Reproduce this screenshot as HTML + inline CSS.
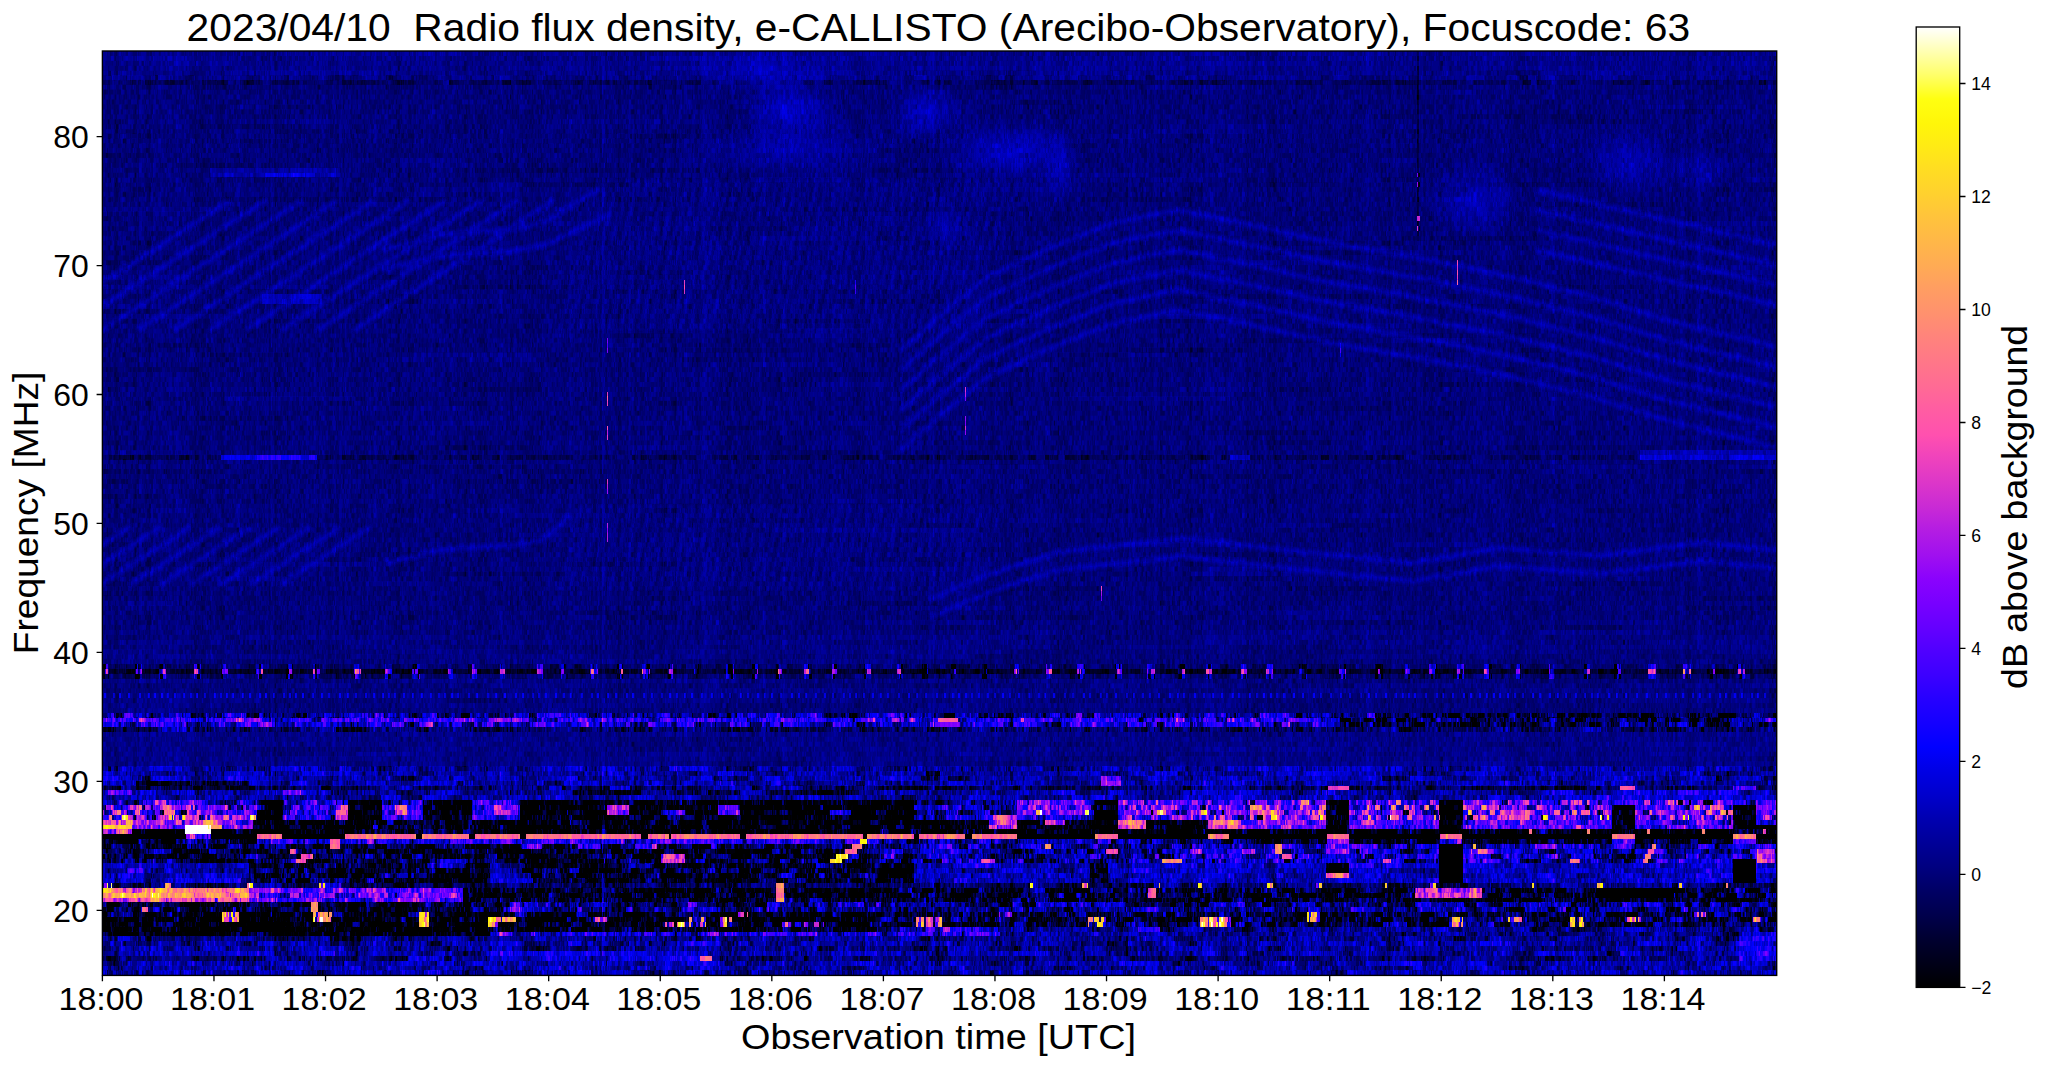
<!DOCTYPE html><html><head><meta charset="utf-8"><style>html,body{margin:0;padding:0;background:#fff}body{width:2047px;height:1067px;overflow:hidden;position:relative}svg{position:absolute;left:0;top:0}text{font-family:"Liberation Sans",sans-serif;fill:#000}</style></head><body><svg width="2047" height="1067" viewBox="0 0 2047 1067"><defs><linearGradient id="cb" x1="0" y1="0" x2="0" y2="1"><stop offset="0.000" stop-color="#ffffff"/><stop offset="0.025" stop-color="#ffffb4"/><stop offset="0.050" stop-color="#ffff69"/><stop offset="0.075" stop-color="#ffff11"/><stop offset="0.100" stop-color="#fff609"/><stop offset="0.125" stop-color="#ffea15"/><stop offset="0.150" stop-color="#ffdc23"/><stop offset="0.175" stop-color="#ffd02f"/><stop offset="0.200" stop-color="#ffc23d"/><stop offset="0.225" stop-color="#ffb649"/><stop offset="0.250" stop-color="#ffaa55"/><stop offset="0.275" stop-color="#ff9c63"/><stop offset="0.300" stop-color="#ff906f"/><stop offset="0.325" stop-color="#ff827d"/><stop offset="0.350" stop-color="#ff7689"/><stop offset="0.375" stop-color="#ff6a95"/><stop offset="0.400" stop-color="#ff5ca3"/><stop offset="0.425" stop-color="#ff50af"/><stop offset="0.450" stop-color="#ee42bd"/><stop offset="0.475" stop-color="#dc36c9"/><stop offset="0.500" stop-color="#c92ad5"/><stop offset="0.525" stop-color="#b31ce3"/><stop offset="0.550" stop-color="#a010ef"/><stop offset="0.575" stop-color="#8a02fd"/><stop offset="0.600" stop-color="#7800ff"/><stop offset="0.625" stop-color="#6500ff"/><stop offset="0.650" stop-color="#4f00ff"/><stop offset="0.675" stop-color="#3c00ff"/><stop offset="0.700" stop-color="#2600ff"/><stop offset="0.725" stop-color="#1400ff"/><stop offset="0.750" stop-color="#0100ff"/><stop offset="0.775" stop-color="#0000e4"/><stop offset="0.800" stop-color="#0000cc"/><stop offset="0.825" stop-color="#0000b0"/><stop offset="0.850" stop-color="#000098"/><stop offset="0.875" stop-color="#000080"/><stop offset="0.900" stop-color="#000064"/><stop offset="0.925" stop-color="#00004c"/><stop offset="0.950" stop-color="#000030"/><stop offset="0.975" stop-color="#000018"/><stop offset="1.000" stop-color="#000000"/></linearGradient><pattern id="pat" patternUnits="userSpaceOnUse" width="331" height="63.245" x="102" y="51"><rect width="331" height="63.245" fill="#808080"/><g transform="scale(1 4.865)" shape-rendering="crispEdges"><path fill="#101010" d="M45 0h2v1h-2zM256 0h3v1h-3zM13 1h1v1h-1zM14 2h3v1h-3zM31 3h2v1h-2zM254 3h1v1h-1zM150 5h1v1h-1zM247 7h1v1h-1zM65 9h1v1h-1zM77 9h1v1h-1zM96 9h1v1h-1zM185 10h1v1h-1zM294 10h1v1h-1zM152 11h1v1h-1zM263 11h2v1h-2zM198 12h3v1h-3z"/><path fill="#2c2c2c" d="M14 0h1v1h-1zM152 0h1v1h-1zM172 0h2v1h-2zM185 0h1v1h-1zM292 0h3v1h-3zM307 0h1v1h-1zM17 1h2v1h-2zM98 1h1v1h-1zM175 1h1v1h-1zM177 1h3v1h-3zM193 1h3v1h-3zM299 1h1v1h-1zM39 2h3v1h-3zM185 2h1v1h-1zM250 2h1v1h-1zM262 2h1v1h-1zM264 2h2v1h-2zM296 2h3v1h-3zM317 2h1v1h-1zM14 3h2v1h-2zM65 3h2v1h-2zM263 3h2v1h-2zM296 3h2v1h-2zM319 3h2v1h-2zM6 4h3v1h-3zM92 4h2v1h-2zM152 4h2v1h-2zM197 4h2v1h-2zM293 4h2v1h-2zM317 4h2v1h-2zM65 5h1v1h-1zM173 5h1v1h-1zM294 5h1v1h-1zM16 6h2v1h-2zM142 6h1v1h-1zM145 6h2v1h-2zM194 6h3v1h-3zM259 6h1v1h-1zM303 6h1v1h-1zM44 7h3v1h-3zM78 7h1v1h-1zM89 7h1v1h-1zM122 7h2v1h-2zM135 7h2v1h-2zM215 7h3v1h-3zM240 7h3v1h-3zM2 8h3v1h-3zM5 8h1v1h-1zM17 8h2v1h-2zM62 8h1v1h-1zM99 8h1v1h-1zM263 8h1v1h-1zM266 8h2v1h-2zM282 8h1v1h-1zM302 8h2v1h-2zM317 8h1v1h-1zM66 9h3v1h-3zM84 9h1v1h-1zM95 9h1v1h-1zM204 9h2v1h-2zM306 9h1v1h-1zM10 10h2v1h-2zM100 10h3v1h-3zM114 10h1v1h-1zM121 10h2v1h-2zM174 10h2v1h-2zM198 10h1v1h-1zM213 10h1v1h-1zM281 10h2v1h-2zM133 11h2v1h-2zM234 11h1v1h-1zM306 11h3v1h-3zM33 12h1v1h-1zM79 12h1v1h-1zM108 12h1v1h-1zM120 12h2v1h-2zM132 12h2v1h-2zM217 12h1v1h-1zM242 12h1v1h-1zM276 12h1v1h-1zM286 12h1v1h-1zM294 12h1v1h-1zM306 12h3v1h-3z"/><path fill="#484848" d="M8 0h1v1h-1zM13 0h1v1h-1zM31 0h1v1h-1zM32 0h1v1h-1zM47 0h3v1h-3zM83 0h1v1h-1zM87 0h3v1h-3zM130 0h1v1h-1zM154 0h2v1h-2zM161 0h2v1h-2zM165 0h1v1h-1zM180 0h2v1h-2zM191 0h1v1h-1zM192 0h1v1h-1zM201 0h2v1h-2zM207 0h2v1h-2zM249 0h3v1h-3zM263 0h1v1h-1zM12 1h1v1h-1zM44 1h3v1h-3zM94 1h2v1h-2zM96 1h2v1h-2zM100 1h2v1h-2zM106 1h1v1h-1zM135 1h1v1h-1zM152 1h1v1h-1zM153 1h2v1h-2zM160 1h2v1h-2zM187 1h3v1h-3zM229 1h1v1h-1zM231 1h1v1h-1zM268 1h1v1h-1zM308 1h1v1h-1zM317 1h2v1h-2zM329 1h2v1h-2zM31 2h2v1h-2zM47 2h2v1h-2zM93 2h1v1h-1zM96 2h1v1h-1zM160 2h1v1h-1zM172 2h3v1h-3zM179 2h3v1h-3zM189 2h1v1h-1zM202 2h1v1h-1zM228 2h1v1h-1zM233 2h3v1h-3zM248 2h1v1h-1zM263 2h1v1h-1zM280 2h1v1h-1zM292 2h1v1h-1zM302 2h3v1h-3zM308 2h2v1h-2zM13 3h1v1h-1zM23 3h1v1h-1zM30 3h1v1h-1zM33 3h1v1h-1zM41 3h2v1h-2zM45 3h3v1h-3zM51 3h2v1h-2zM56 3h2v1h-2zM124 3h3v1h-3zM131 3h1v1h-1zM172 3h1v1h-1zM173 3h3v1h-3zM183 3h2v1h-2zM185 3h1v1h-1zM228 3h1v1h-1zM255 3h3v1h-3zM262 3h1v1h-1zM288 3h1v1h-1zM289 3h2v1h-2zM301 3h2v1h-2zM329 3h2v1h-2zM13 4h1v1h-1zM14 4h2v1h-2zM17 4h1v1h-1zM45 4h1v1h-1zM46 4h1v1h-1zM53 4h2v1h-2zM94 4h3v1h-3zM145 4h1v1h-1zM146 4h1v1h-1zM159 4h1v1h-1zM162 4h1v1h-1zM182 4h1v1h-1zM185 4h1v1h-1zM186 4h3v1h-3zM202 4h1v1h-1zM207 4h2v1h-2zM240 4h1v1h-1zM249 4h3v1h-3zM264 4h2v1h-2zM319 4h2v1h-2zM329 4h2v1h-2zM11 5h2v1h-2zM21 5h1v1h-1zM64 5h1v1h-1zM66 5h1v1h-1zM83 5h2v1h-2zM89 5h1v1h-1zM93 5h2v1h-2zM95 5h1v1h-1zM100 5h2v1h-2zM113 5h2v1h-2zM121 5h1v1h-1zM156 5h2v1h-2zM162 5h3v1h-3zM167 5h1v1h-1zM194 5h1v1h-1zM208 5h1v1h-1zM210 5h1v1h-1zM215 5h1v1h-1zM230 5h2v1h-2zM240 5h2v1h-2zM261 5h3v1h-3zM292 5h1v1h-1zM293 5h1v1h-1zM301 5h2v1h-2zM303 5h1v1h-1zM314 5h1v1h-1zM325 5h1v1h-1zM19 6h1v1h-1zM30 6h1v1h-1zM65 6h2v1h-2zM77 6h1v1h-1zM78 6h3v1h-3zM83 6h1v1h-1zM89 6h2v1h-2zM96 6h2v1h-2zM162 6h2v1h-2zM181 6h1v1h-1zM201 6h3v1h-3zM204 6h1v1h-1zM246 6h3v1h-3zM262 6h1v1h-1zM280 6h2v1h-2zM310 6h1v1h-1zM311 6h3v1h-3zM5 7h1v1h-1zM20 7h1v1h-1zM34 7h2v1h-2zM47 7h1v1h-1zM101 7h3v1h-3zM121 7h1v1h-1zM190 7h1v1h-1zM212 7h2v1h-2zM218 7h1v1h-1zM226 7h2v1h-2zM228 7h2v1h-2zM245 7h1v1h-1zM248 7h1v1h-1zM262 7h3v1h-3zM283 7h2v1h-2zM288 7h2v1h-2zM290 7h3v1h-3zM293 7h2v1h-2zM295 7h3v1h-3zM314 7h1v1h-1zM317 7h1v1h-1zM320 7h2v1h-2zM34 8h1v1h-1zM46 8h3v1h-3zM77 8h1v1h-1zM78 8h2v1h-2zM85 8h1v1h-1zM88 8h2v1h-2zM95 8h1v1h-1zM135 8h3v1h-3zM155 8h1v1h-1zM185 8h1v1h-1zM202 8h1v1h-1zM203 8h1v1h-1zM207 8h1v1h-1zM239 8h1v1h-1zM240 8h2v1h-2zM242 8h1v1h-1zM249 8h1v1h-1zM261 8h2v1h-2zM295 8h2v1h-2zM308 8h2v1h-2zM13 9h1v1h-1zM17 9h1v1h-1zM22 9h1v1h-1zM24 9h1v1h-1zM101 9h2v1h-2zM106 9h3v1h-3zM131 9h3v1h-3zM142 9h3v1h-3zM146 9h2v1h-2zM167 9h3v1h-3zM195 9h3v1h-3zM206 9h2v1h-2zM214 9h3v1h-3zM228 9h3v1h-3zM232 9h1v1h-1zM241 9h1v1h-1zM267 9h1v1h-1zM273 9h1v1h-1zM302 9h1v1h-1zM322 9h1v1h-1zM324 9h2v1h-2zM7 10h1v1h-1zM20 10h3v1h-3zM35 10h1v1h-1zM54 10h1v1h-1zM55 10h2v1h-2zM74 10h1v1h-1zM79 10h2v1h-2zM84 10h1v1h-1zM94 10h1v1h-1zM108 10h1v1h-1zM137 10h3v1h-3zM146 10h1v1h-1zM156 10h1v1h-1zM166 10h1v1h-1zM172 10h2v1h-2zM224 10h1v1h-1zM241 10h2v1h-2zM307 10h1v1h-1zM318 10h2v1h-2zM324 10h2v1h-2zM1 11h1v1h-1zM2 11h1v1h-1zM26 11h2v1h-2zM33 11h1v1h-1zM42 11h1v1h-1zM44 11h1v1h-1zM59 11h1v1h-1zM76 11h1v1h-1zM108 11h2v1h-2zM114 11h1v1h-1zM115 11h3v1h-3zM118 11h2v1h-2zM120 11h1v1h-1zM122 11h3v1h-3zM130 11h1v1h-1zM131 11h2v1h-2zM163 11h1v1h-1zM172 11h2v1h-2zM174 11h2v1h-2zM186 11h2v1h-2zM228 11h2v1h-2zM236 11h3v1h-3zM241 11h1v1h-1zM249 11h2v1h-2zM260 11h1v1h-1zM265 11h2v1h-2zM281 11h3v1h-3zM286 11h2v1h-2zM290 11h1v1h-1zM297 11h3v1h-3zM315 11h1v1h-1zM316 11h1v1h-1zM320 11h1v1h-1zM325 11h3v1h-3zM328 11h2v1h-2zM54 12h2v1h-2zM84 12h2v1h-2zM96 12h1v1h-1zM107 12h1v1h-1zM118 12h1v1h-1zM122 12h1v1h-1zM127 12h2v1h-2zM174 12h1v1h-1zM188 12h1v1h-1zM227 12h2v1h-2zM248 12h1v1h-1zM249 12h1v1h-1zM264 12h1v1h-1zM272 12h1v1h-1zM310 12h3v1h-3zM313 12h3v1h-3zM318 12h2v1h-2zM325 12h1v1h-1zM329 12h1v1h-1z"/><path fill="#646464" d="M2 0h2v1h-2zM29 0h1v1h-1zM33 0h1v1h-1zM36 0h3v1h-3zM51 0h1v1h-1zM52 0h2v1h-2zM54 0h2v1h-2zM56 0h2v1h-2zM65 0h3v1h-3zM79 0h3v1h-3zM92 0h3v1h-3zM98 0h1v1h-1zM115 0h1v1h-1zM116 0h1v1h-1zM125 0h2v1h-2zM127 0h3v1h-3zM131 0h3v1h-3zM135 0h2v1h-2zM153 0h1v1h-1zM156 0h2v1h-2zM158 0h3v1h-3zM164 0h1v1h-1zM176 0h1v1h-1zM177 0h3v1h-3zM183 0h1v1h-1zM187 0h1v1h-1zM189 0h2v1h-2zM216 0h2v1h-2zM222 0h2v1h-2zM227 0h3v1h-3zM232 0h2v1h-2zM235 0h1v1h-1zM252 0h1v1h-1zM254 0h2v1h-2zM262 0h1v1h-1zM264 0h1v1h-1zM268 0h2v1h-2zM279 0h3v1h-3zM289 0h3v1h-3zM300 0h3v1h-3zM308 0h2v1h-2zM312 0h1v1h-1zM315 0h2v1h-2zM325 0h1v1h-1zM2 1h1v1h-1zM5 1h1v1h-1zM6 1h2v1h-2zM14 1h2v1h-2zM16 1h1v1h-1zM20 1h2v1h-2zM34 1h1v1h-1zM47 1h1v1h-1zM55 1h1v1h-1zM56 1h1v1h-1zM63 1h3v1h-3zM71 1h1v1h-1zM72 1h2v1h-2zM82 1h1v1h-1zM91 1h3v1h-3zM103 1h1v1h-1zM113 1h3v1h-3zM121 1h1v1h-1zM130 1h1v1h-1zM134 1h1v1h-1zM142 1h1v1h-1zM144 1h2v1h-2zM146 1h2v1h-2zM148 1h1v1h-1zM158 1h2v1h-2zM164 1h1v1h-1zM171 1h2v1h-2zM176 1h1v1h-1zM181 1h1v1h-1zM185 1h2v1h-2zM207 1h1v1h-1zM214 1h1v1h-1zM216 1h1v1h-1zM243 1h1v1h-1zM247 1h1v1h-1zM248 1h2v1h-2zM251 1h1v1h-1zM261 1h1v1h-1zM262 1h3v1h-3zM274 1h2v1h-2zM294 1h3v1h-3zM297 1h2v1h-2zM319 1h3v1h-3zM328 1h1v1h-1zM1 2h1v1h-1zM2 2h1v1h-1zM4 2h3v1h-3zM10 2h3v1h-3zM13 2h1v1h-1zM33 2h1v1h-1zM54 2h2v1h-2zM56 2h1v1h-1zM57 2h1v1h-1zM62 2h1v1h-1zM63 2h1v1h-1zM65 2h2v1h-2zM67 2h3v1h-3zM87 2h1v1h-1zM88 2h2v1h-2zM97 2h2v1h-2zM99 2h2v1h-2zM103 2h2v1h-2zM105 2h2v1h-2zM130 2h2v1h-2zM144 2h1v1h-1zM146 2h1v1h-1zM162 2h1v1h-1zM182 2h1v1h-1zM191 2h2v1h-2zM197 2h2v1h-2zM214 2h2v1h-2zM216 2h1v1h-1zM226 2h1v1h-1zM229 2h2v1h-2zM246 2h2v1h-2zM249 2h1v1h-1zM252 2h2v1h-2zM254 2h2v1h-2zM256 2h2v1h-2zM293 2h1v1h-1zM294 2h2v1h-2zM300 2h2v1h-2zM311 2h2v1h-2zM328 2h1v1h-1zM329 2h2v1h-2zM0 3h1v1h-1zM1 3h1v1h-1zM12 3h1v1h-1zM18 3h3v1h-3zM21 3h2v1h-2zM24 3h3v1h-3zM29 3h1v1h-1zM34 3h1v1h-1zM37 3h1v1h-1zM53 3h1v1h-1zM62 3h1v1h-1zM87 3h1v1h-1zM88 3h1v1h-1zM89 3h2v1h-2zM91 3h1v1h-1zM95 3h3v1h-3zM98 3h2v1h-2zM102 3h3v1h-3zM105 3h1v1h-1zM106 3h2v1h-2zM120 3h1v1h-1zM121 3h1v1h-1zM123 3h1v1h-1zM129 3h2v1h-2zM145 3h1v1h-1zM158 3h2v1h-2zM162 3h1v1h-1zM167 3h2v1h-2zM177 3h1v1h-1zM178 3h1v1h-1zM181 3h2v1h-2zM192 3h3v1h-3zM203 3h2v1h-2zM214 3h3v1h-3zM223 3h1v1h-1zM230 3h1v1h-1zM233 3h2v1h-2zM240 3h1v1h-1zM242 3h1v1h-1zM245 3h1v1h-1zM246 3h1v1h-1zM248 3h1v1h-1zM286 3h2v1h-2zM303 3h1v1h-1zM305 3h2v1h-2zM307 3h2v1h-2zM315 3h2v1h-2zM1 4h1v1h-1zM12 4h1v1h-1zM24 4h2v1h-2zM26 4h1v1h-1zM40 4h2v1h-2zM42 4h1v1h-1zM47 4h2v1h-2zM51 4h1v1h-1zM61 4h2v1h-2zM63 4h3v1h-3zM66 4h2v1h-2zM90 4h1v1h-1zM91 4h1v1h-1zM97 4h2v1h-2zM102 4h2v1h-2zM105 4h1v1h-1zM107 4h2v1h-2zM112 4h1v1h-1zM119 4h2v1h-2zM121 4h1v1h-1zM122 4h1v1h-1zM127 4h2v1h-2zM130 4h2v1h-2zM141 4h2v1h-2zM173 4h2v1h-2zM189 4h2v1h-2zM191 4h1v1h-1zM204 4h1v1h-1zM205 4h2v1h-2zM211 4h1v1h-1zM216 4h1v1h-1zM218 4h2v1h-2zM223 4h3v1h-3zM232 4h1v1h-1zM233 4h2v1h-2zM235 4h2v1h-2zM242 4h1v1h-1zM244 4h1v1h-1zM252 4h1v1h-1zM255 4h2v1h-2zM280 4h3v1h-3zM287 4h1v1h-1zM288 4h2v1h-2zM300 4h1v1h-1zM304 4h3v1h-3zM307 4h1v1h-1zM308 4h2v1h-2zM323 4h1v1h-1zM324 4h1v1h-1zM17 5h2v1h-2zM22 5h3v1h-3zM28 5h1v1h-1zM30 5h2v1h-2zM32 5h1v1h-1zM37 5h2v1h-2zM68 5h2v1h-2zM77 5h3v1h-3zM85 5h2v1h-2zM108 5h1v1h-1zM110 5h3v1h-3zM127 5h1v1h-1zM129 5h1v1h-1zM133 5h3v1h-3zM147 5h1v1h-1zM148 5h2v1h-2zM151 5h2v1h-2zM158 5h2v1h-2zM168 5h1v1h-1zM175 5h1v1h-1zM179 5h1v1h-1zM185 5h2v1h-2zM191 5h3v1h-3zM202 5h1v1h-1zM204 5h2v1h-2zM206 5h2v1h-2zM224 5h3v1h-3zM227 5h2v1h-2zM233 5h2v1h-2zM235 5h3v1h-3zM242 5h1v1h-1zM246 5h3v1h-3zM267 5h1v1h-1zM281 5h1v1h-1zM282 5h2v1h-2zM284 5h1v1h-1zM290 5h2v1h-2zM298 5h1v1h-1zM304 5h1v1h-1zM317 5h1v1h-1zM322 5h3v1h-3zM1 6h2v1h-2zM18 6h1v1h-1zM36 6h1v1h-1zM40 6h1v1h-1zM41 6h3v1h-3zM46 6h1v1h-1zM48 6h3v1h-3zM62 6h3v1h-3zM72 6h1v1h-1zM73 6h1v1h-1zM91 6h1v1h-1zM92 6h2v1h-2zM100 6h1v1h-1zM101 6h1v1h-1zM115 6h1v1h-1zM121 6h1v1h-1zM133 6h1v1h-1zM147 6h1v1h-1zM156 6h2v1h-2zM159 6h2v1h-2zM167 6h1v1h-1zM170 6h2v1h-2zM175 6h1v1h-1zM179 6h2v1h-2zM182 6h1v1h-1zM183 6h2v1h-2zM185 6h3v1h-3zM191 6h2v1h-2zM209 6h1v1h-1zM210 6h1v1h-1zM212 6h1v1h-1zM214 6h3v1h-3zM225 6h1v1h-1zM237 6h3v1h-3zM240 6h3v1h-3zM253 6h2v1h-2zM255 6h2v1h-2zM263 6h2v1h-2zM272 6h2v1h-2zM277 6h1v1h-1zM282 6h1v1h-1zM283 6h2v1h-2zM285 6h1v1h-1zM296 6h2v1h-2zM301 6h2v1h-2zM304 6h3v1h-3zM307 6h2v1h-2zM319 6h2v1h-2zM327 6h3v1h-3zM9 7h1v1h-1zM29 7h2v1h-2zM40 7h1v1h-1zM48 7h1v1h-1zM49 7h2v1h-2zM66 7h1v1h-1zM69 7h1v1h-1zM85 7h3v1h-3zM90 7h1v1h-1zM91 7h3v1h-3zM95 7h2v1h-2zM114 7h1v1h-1zM126 7h2v1h-2zM140 7h1v1h-1zM142 7h3v1h-3zM155 7h1v1h-1zM158 7h2v1h-2zM167 7h2v1h-2zM179 7h1v1h-1zM180 7h1v1h-1zM183 7h1v1h-1zM184 7h3v1h-3zM192 7h2v1h-2zM201 7h1v1h-1zM220 7h2v1h-2zM235 7h2v1h-2zM237 7h3v1h-3zM251 7h2v1h-2zM259 7h1v1h-1zM271 7h3v1h-3zM281 7h2v1h-2zM301 7h1v1h-1zM303 7h3v1h-3zM307 7h2v1h-2zM319 7h1v1h-1zM322 7h2v1h-2zM325 7h1v1h-1zM328 7h2v1h-2zM0 8h2v1h-2zM6 8h2v1h-2zM8 8h2v1h-2zM15 8h2v1h-2zM22 8h3v1h-3zM35 8h2v1h-2zM49 8h3v1h-3zM53 8h1v1h-1zM56 8h2v1h-2zM63 8h2v1h-2zM65 8h3v1h-3zM72 8h3v1h-3zM84 8h1v1h-1zM93 8h2v1h-2zM96 8h2v1h-2zM105 8h1v1h-1zM129 8h1v1h-1zM130 8h2v1h-2zM144 8h2v1h-2zM147 8h1v1h-1zM148 8h3v1h-3zM151 8h1v1h-1zM152 8h2v1h-2zM167 8h2v1h-2zM170 8h3v1h-3zM173 8h1v1h-1zM181 8h1v1h-1zM182 8h1v1h-1zM189 8h3v1h-3zM192 8h1v1h-1zM195 8h1v1h-1zM197 8h2v1h-2zM206 8h1v1h-1zM208 8h2v1h-2zM219 8h2v1h-2zM224 8h3v1h-3zM255 8h3v1h-3zM258 8h2v1h-2zM264 8h1v1h-1zM288 8h2v1h-2zM290 8h3v1h-3zM293 8h2v1h-2zM304 8h3v1h-3zM310 8h2v1h-2zM316 8h1v1h-1zM320 8h1v1h-1zM321 8h2v1h-2zM323 8h1v1h-1zM324 8h1v1h-1zM325 8h2v1h-2zM2 9h1v1h-1zM7 9h1v1h-1zM8 9h1v1h-1zM18 9h2v1h-2zM32 9h2v1h-2zM34 9h3v1h-3zM42 9h1v1h-1zM49 9h3v1h-3zM54 9h1v1h-1zM69 9h1v1h-1zM73 9h2v1h-2zM78 9h2v1h-2zM85 9h3v1h-3zM104 9h1v1h-1zM105 9h1v1h-1zM113 9h2v1h-2zM139 9h2v1h-2zM158 9h1v1h-1zM164 9h1v1h-1zM170 9h1v1h-1zM179 9h1v1h-1zM181 9h3v1h-3zM184 9h1v1h-1zM185 9h2v1h-2zM190 9h1v1h-1zM201 9h1v1h-1zM202 9h2v1h-2zM226 9h2v1h-2zM238 9h1v1h-1zM242 9h2v1h-2zM244 9h1v1h-1zM249 9h2v1h-2zM255 9h1v1h-1zM258 9h2v1h-2zM262 9h1v1h-1zM277 9h1v1h-1zM282 9h1v1h-1zM283 9h3v1h-3zM290 9h1v1h-1zM295 9h3v1h-3zM301 9h1v1h-1zM12 10h2v1h-2zM17 10h3v1h-3zM40 10h1v1h-1zM42 10h1v1h-1zM43 10h1v1h-1zM47 10h1v1h-1zM60 10h1v1h-1zM75 10h2v1h-2zM81 10h2v1h-2zM98 10h2v1h-2zM117 10h2v1h-2zM119 10h2v1h-2zM126 10h3v1h-3zM134 10h3v1h-3zM153 10h1v1h-1zM162 10h2v1h-2zM176 10h2v1h-2zM183 10h1v1h-1zM186 10h1v1h-1zM189 10h2v1h-2zM199 10h3v1h-3zM209 10h1v1h-1zM210 10h1v1h-1zM214 10h1v1h-1zM216 10h2v1h-2zM246 10h1v1h-1zM249 10h2v1h-2zM259 10h3v1h-3zM262 10h3v1h-3zM265 10h3v1h-3zM272 10h1v1h-1zM273 10h2v1h-2zM277 10h2v1h-2zM287 10h1v1h-1zM316 10h2v1h-2zM320 10h1v1h-1zM3 11h3v1h-3zM20 11h1v1h-1zM23 11h3v1h-3zM28 11h2v1h-2zM32 11h1v1h-1zM47 11h1v1h-1zM50 11h1v1h-1zM56 11h3v1h-3zM65 11h1v1h-1zM69 11h2v1h-2zM79 11h2v1h-2zM84 11h3v1h-3zM103 11h3v1h-3zM107 11h1v1h-1zM121 11h1v1h-1zM125 11h3v1h-3zM129 11h1v1h-1zM147 11h1v1h-1zM149 11h3v1h-3zM157 11h1v1h-1zM158 11h3v1h-3zM162 11h1v1h-1zM164 11h1v1h-1zM188 11h1v1h-1zM194 11h2v1h-2zM210 11h1v1h-1zM217 11h1v1h-1zM219 11h1v1h-1zM220 11h2v1h-2zM225 11h1v1h-1zM227 11h1v1h-1zM255 11h1v1h-1zM259 11h1v1h-1zM270 11h2v1h-2zM272 11h2v1h-2zM313 11h2v1h-2zM317 11h1v1h-1zM5 12h3v1h-3zM11 12h2v1h-2zM15 12h1v1h-1zM24 12h1v1h-1zM25 12h3v1h-3zM36 12h1v1h-1zM42 12h2v1h-2zM48 12h1v1h-1zM49 12h2v1h-2zM59 12h1v1h-1zM61 12h1v1h-1zM62 12h1v1h-1zM65 12h1v1h-1zM69 12h1v1h-1zM70 12h1v1h-1zM73 12h2v1h-2zM75 12h1v1h-1zM76 12h2v1h-2zM83 12h1v1h-1zM86 12h2v1h-2zM93 12h1v1h-1zM97 12h2v1h-2zM100 12h1v1h-1zM109 12h2v1h-2zM114 12h1v1h-1zM115 12h1v1h-1zM134 12h1v1h-1zM135 12h3v1h-3zM139 12h2v1h-2zM147 12h1v1h-1zM168 12h3v1h-3zM175 12h1v1h-1zM176 12h1v1h-1zM177 12h2v1h-2zM181 12h1v1h-1zM185 12h3v1h-3zM201 12h1v1h-1zM213 12h2v1h-2zM215 12h2v1h-2zM223 12h2v1h-2zM234 12h1v1h-1zM236 12h2v1h-2zM258 12h2v1h-2zM260 12h1v1h-1zM261 12h3v1h-3zM265 12h2v1h-2zM267 12h1v1h-1zM290 12h1v1h-1zM291 12h1v1h-1zM295 12h1v1h-1zM296 12h1v1h-1zM297 12h1v1h-1zM309 12h1v1h-1zM320 12h1v1h-1zM321 12h1v1h-1zM324 12h1v1h-1zM326 12h1v1h-1z"/><path fill="#9c9c9c" d="M6 0h2v1h-2zM19 0h2v1h-2zM21 0h1v1h-1zM23 0h3v1h-3zM35 0h1v1h-1zM43 0h1v1h-1zM64 0h1v1h-1zM69 0h1v1h-1zM70 0h3v1h-3zM104 0h3v1h-3zM117 0h1v1h-1zM120 0h2v1h-2zM122 0h1v1h-1zM123 0h1v1h-1zM124 0h1v1h-1zM145 0h2v1h-2zM147 0h1v1h-1zM188 0h1v1h-1zM193 0h3v1h-3zM203 0h3v1h-3zM209 0h2v1h-2zM211 0h1v1h-1zM212 0h1v1h-1zM213 0h2v1h-2zM218 0h2v1h-2zM221 0h1v1h-1zM238 0h1v1h-1zM239 0h1v1h-1zM245 0h1v1h-1zM247 0h2v1h-2zM259 0h1v1h-1zM274 0h1v1h-1zM277 0h2v1h-2zM282 0h1v1h-1zM296 0h2v1h-2zM311 0h1v1h-1zM314 0h1v1h-1zM324 0h1v1h-1zM328 0h2v1h-2zM8 1h2v1h-2zM10 1h2v1h-2zM24 1h3v1h-3zM27 1h1v1h-1zM35 1h1v1h-1zM36 1h1v1h-1zM40 1h2v1h-2zM51 1h1v1h-1zM61 1h2v1h-2zM68 1h3v1h-3zM75 1h1v1h-1zM76 1h2v1h-2zM78 1h1v1h-1zM81 1h1v1h-1zM99 1h1v1h-1zM109 1h2v1h-2zM124 1h1v1h-1zM132 1h1v1h-1zM136 1h2v1h-2zM143 1h1v1h-1zM149 1h2v1h-2zM151 1h1v1h-1zM155 1h1v1h-1zM156 1h2v1h-2zM182 1h3v1h-3zM190 1h1v1h-1zM199 1h2v1h-2zM203 1h2v1h-2zM206 1h1v1h-1zM218 1h2v1h-2zM220 1h1v1h-1zM223 1h2v1h-2zM233 1h1v1h-1zM237 1h1v1h-1zM238 1h1v1h-1zM239 1h3v1h-3zM242 1h1v1h-1zM252 1h2v1h-2zM257 1h1v1h-1zM260 1h1v1h-1zM276 1h2v1h-2zM278 1h1v1h-1zM285 1h1v1h-1zM292 1h2v1h-2zM303 1h1v1h-1zM322 1h1v1h-1zM326 1h2v1h-2zM0 2h1v1h-1zM21 2h3v1h-3zM29 2h2v1h-2zM42 2h1v1h-1zM44 2h3v1h-3zM49 2h1v1h-1zM51 2h1v1h-1zM61 2h1v1h-1zM72 2h2v1h-2zM84 2h3v1h-3zM111 2h3v1h-3zM118 2h3v1h-3zM121 2h3v1h-3zM135 2h1v1h-1zM140 2h1v1h-1zM154 2h1v1h-1zM159 2h1v1h-1zM164 2h2v1h-2zM170 2h2v1h-2zM175 2h2v1h-2zM178 2h1v1h-1zM184 2h1v1h-1zM193 2h1v1h-1zM194 2h1v1h-1zM195 2h2v1h-2zM203 2h2v1h-2zM217 2h2v1h-2zM222 2h1v1h-1zM223 2h1v1h-1zM239 2h3v1h-3zM242 2h1v1h-1zM244 2h2v1h-2zM266 2h3v1h-3zM278 2h1v1h-1zM281 2h3v1h-3zM285 2h1v1h-1zM288 2h2v1h-2zM290 2h1v1h-1zM310 2h1v1h-1zM313 2h1v1h-1zM318 2h3v1h-3zM321 2h1v1h-1zM322 2h2v1h-2zM6 3h3v1h-3zM9 3h3v1h-3zM40 3h1v1h-1zM54 3h2v1h-2zM58 3h2v1h-2zM64 3h1v1h-1zM70 3h1v1h-1zM77 3h2v1h-2zM83 3h1v1h-1zM84 3h3v1h-3zM109 3h2v1h-2zM111 3h1v1h-1zM116 3h1v1h-1zM122 3h1v1h-1zM136 3h3v1h-3zM139 3h3v1h-3zM142 3h2v1h-2zM144 3h1v1h-1zM153 3h1v1h-1zM154 3h2v1h-2zM157 3h1v1h-1zM176 3h1v1h-1zM179 3h1v1h-1zM180 3h1v1h-1zM188 3h3v1h-3zM199 3h2v1h-2zM209 3h2v1h-2zM211 3h3v1h-3zM217 3h1v1h-1zM225 3h1v1h-1zM235 3h2v1h-2zM237 3h2v1h-2zM241 3h1v1h-1zM244 3h1v1h-1zM247 3h1v1h-1zM250 3h1v1h-1zM258 3h2v1h-2zM268 3h3v1h-3zM280 3h1v1h-1zM283 3h3v1h-3zM295 3h1v1h-1zM298 3h2v1h-2zM304 3h1v1h-1zM309 3h3v1h-3zM312 3h2v1h-2zM317 3h2v1h-2zM327 3h2v1h-2zM0 4h1v1h-1zM3 4h2v1h-2zM16 4h1v1h-1zM30 4h3v1h-3zM33 4h3v1h-3zM36 4h1v1h-1zM37 4h1v1h-1zM43 4h2v1h-2zM68 4h1v1h-1zM69 4h1v1h-1zM79 4h1v1h-1zM82 4h3v1h-3zM135 4h1v1h-1zM138 4h1v1h-1zM139 4h1v1h-1zM140 4h1v1h-1zM143 4h2v1h-2zM150 4h1v1h-1zM151 4h1v1h-1zM160 4h2v1h-2zM163 4h2v1h-2zM168 4h1v1h-1zM169 4h1v1h-1zM171 4h2v1h-2zM180 4h2v1h-2zM183 4h2v1h-2zM196 4h1v1h-1zM200 4h2v1h-2zM237 4h3v1h-3zM258 4h2v1h-2zM266 4h1v1h-1zM276 4h2v1h-2zM284 4h1v1h-1zM285 4h1v1h-1zM286 4h1v1h-1zM295 4h3v1h-3zM298 4h2v1h-2zM303 4h1v1h-1zM321 4h2v1h-2zM4 5h2v1h-2zM6 5h1v1h-1zM10 5h1v1h-1zM19 5h2v1h-2zM29 5h1v1h-1zM34 5h3v1h-3zM42 5h1v1h-1zM45 5h2v1h-2zM47 5h3v1h-3zM52 5h3v1h-3zM55 5h2v1h-2zM61 5h1v1h-1zM70 5h1v1h-1zM71 5h3v1h-3zM74 5h3v1h-3zM102 5h1v1h-1zM118 5h2v1h-2zM122 5h1v1h-1zM123 5h1v1h-1zM124 5h1v1h-1zM130 5h3v1h-3zM136 5h1v1h-1zM176 5h2v1h-2zM182 5h3v1h-3zM189 5h2v1h-2zM197 5h3v1h-3zM201 5h1v1h-1zM212 5h3v1h-3zM218 5h1v1h-1zM219 5h3v1h-3zM229 5h1v1h-1zM232 5h1v1h-1zM238 5h1v1h-1zM239 5h1v1h-1zM243 5h1v1h-1zM249 5h1v1h-1zM264 5h1v1h-1zM265 5h2v1h-2zM274 5h2v1h-2zM289 5h1v1h-1zM297 5h1v1h-1zM299 5h2v1h-2zM311 5h2v1h-2zM315 5h2v1h-2zM318 5h2v1h-2zM326 5h2v1h-2zM0 6h1v1h-1zM3 6h3v1h-3zM11 6h2v1h-2zM14 6h2v1h-2zM24 6h1v1h-1zM25 6h2v1h-2zM27 6h3v1h-3zM31 6h2v1h-2zM33 6h3v1h-3zM37 6h3v1h-3zM44 6h2v1h-2zM47 6h1v1h-1zM52 6h1v1h-1zM54 6h2v1h-2zM59 6h3v1h-3zM87 6h2v1h-2zM108 6h1v1h-1zM120 6h1v1h-1zM122 6h3v1h-3zM125 6h1v1h-1zM134 6h1v1h-1zM136 6h1v1h-1zM140 6h2v1h-2zM161 6h1v1h-1zM168 6h1v1h-1zM176 6h3v1h-3zM188 6h2v1h-2zM190 6h1v1h-1zM217 6h3v1h-3zM234 6h3v1h-3zM245 6h1v1h-1zM250 6h2v1h-2zM268 6h3v1h-3zM276 6h1v1h-1zM288 6h2v1h-2zM298 6h3v1h-3zM6 7h1v1h-1zM19 7h1v1h-1zM24 7h2v1h-2zM26 7h1v1h-1zM27 7h2v1h-2zM36 7h1v1h-1zM51 7h2v1h-2zM53 7h2v1h-2zM55 7h1v1h-1zM56 7h1v1h-1zM57 7h3v1h-3zM70 7h3v1h-3zM74 7h1v1h-1zM79 7h3v1h-3zM94 7h1v1h-1zM97 7h3v1h-3zM100 7h1v1h-1zM119 7h2v1h-2zM128 7h3v1h-3zM134 7h1v1h-1zM145 7h2v1h-2zM152 7h1v1h-1zM153 7h2v1h-2zM160 7h1v1h-1zM161 7h2v1h-2zM165 7h2v1h-2zM203 7h1v1h-1zM222 7h3v1h-3zM258 7h1v1h-1zM266 7h2v1h-2zM268 7h3v1h-3zM277 7h2v1h-2zM285 7h1v1h-1zM286 7h1v1h-1zM287 7h1v1h-1zM298 7h3v1h-3zM316 7h1v1h-1zM327 7h1v1h-1zM14 8h1v1h-1zM25 8h2v1h-2zM39 8h1v1h-1zM43 8h3v1h-3zM52 8h1v1h-1zM58 8h3v1h-3zM61 8h1v1h-1zM75 8h2v1h-2zM86 8h1v1h-1zM90 8h1v1h-1zM100 8h2v1h-2zM104 8h1v1h-1zM109 8h1v1h-1zM110 8h1v1h-1zM116 8h2v1h-2zM120 8h2v1h-2zM122 8h1v1h-1zM123 8h2v1h-2zM125 8h2v1h-2zM128 8h1v1h-1zM138 8h3v1h-3zM154 8h1v1h-1zM159 8h2v1h-2zM162 8h1v1h-1zM163 8h1v1h-1zM164 8h3v1h-3zM174 8h1v1h-1zM178 8h1v1h-1zM193 8h2v1h-2zM204 8h2v1h-2zM210 8h1v1h-1zM215 8h2v1h-2zM218 8h1v1h-1zM221 8h3v1h-3zM227 8h2v1h-2zM232 8h1v1h-1zM233 8h3v1h-3zM243 8h1v1h-1zM244 8h3v1h-3zM247 8h2v1h-2zM272 8h1v1h-1zM274 8h3v1h-3zM299 8h3v1h-3zM307 8h1v1h-1zM312 8h1v1h-1zM329 8h1v1h-1zM3 9h1v1h-1zM9 9h2v1h-2zM14 9h3v1h-3zM25 9h1v1h-1zM26 9h3v1h-3zM38 9h2v1h-2zM41 9h1v1h-1zM62 9h1v1h-1zM70 9h1v1h-1zM71 9h2v1h-2zM103 9h1v1h-1zM112 9h1v1h-1zM118 9h1v1h-1zM119 9h1v1h-1zM126 9h1v1h-1zM128 9h3v1h-3zM134 9h3v1h-3zM154 9h1v1h-1zM159 9h3v1h-3zM162 9h2v1h-2zM177 9h2v1h-2zM180 9h1v1h-1zM199 9h1v1h-1zM208 9h1v1h-1zM212 9h2v1h-2zM217 9h2v1h-2zM223 9h3v1h-3zM233 9h2v1h-2zM235 9h1v1h-1zM246 9h3v1h-3zM256 9h1v1h-1zM257 9h1v1h-1zM265 9h2v1h-2zM268 9h1v1h-1zM278 9h2v1h-2zM280 9h2v1h-2zM287 9h3v1h-3zM300 9h1v1h-1zM310 9h1v1h-1zM311 9h1v1h-1zM328 9h1v1h-1zM329 9h1v1h-1zM0 10h1v1h-1zM8 10h2v1h-2zM14 10h2v1h-2zM16 10h1v1h-1zM23 10h2v1h-2zM44 10h3v1h-3zM48 10h3v1h-3zM57 10h1v1h-1zM65 10h3v1h-3zM68 10h2v1h-2zM70 10h2v1h-2zM72 10h2v1h-2zM83 10h1v1h-1zM85 10h2v1h-2zM89 10h2v1h-2zM91 10h1v1h-1zM97 10h1v1h-1zM105 10h2v1h-2zM112 10h2v1h-2zM143 10h1v1h-1zM150 10h3v1h-3zM154 10h2v1h-2zM157 10h3v1h-3zM164 10h2v1h-2zM178 10h1v1h-1zM191 10h1v1h-1zM192 10h3v1h-3zM202 10h1v1h-1zM204 10h1v1h-1zM206 10h3v1h-3zM211 10h2v1h-2zM218 10h1v1h-1zM229 10h1v1h-1zM239 10h2v1h-2zM243 10h3v1h-3zM247 10h2v1h-2zM257 10h2v1h-2zM270 10h2v1h-2zM292 10h1v1h-1zM308 10h1v1h-1zM315 10h1v1h-1zM322 10h2v1h-2zM326 10h3v1h-3zM330 10h1v1h-1zM0 11h1v1h-1zM16 11h1v1h-1zM17 11h1v1h-1zM21 11h1v1h-1zM39 11h1v1h-1zM43 11h1v1h-1zM51 11h1v1h-1zM52 11h1v1h-1zM53 11h1v1h-1zM54 11h2v1h-2zM61 11h2v1h-2zM67 11h2v1h-2zM75 11h1v1h-1zM92 11h3v1h-3zM101 11h2v1h-2zM128 11h1v1h-1zM135 11h1v1h-1zM145 11h2v1h-2zM155 11h2v1h-2zM165 11h2v1h-2zM170 11h2v1h-2zM181 11h2v1h-2zM183 11h1v1h-1zM189 11h1v1h-1zM192 11h2v1h-2zM197 11h2v1h-2zM199 11h3v1h-3zM204 11h2v1h-2zM206 11h1v1h-1zM207 11h3v1h-3zM211 11h2v1h-2zM213 11h2v1h-2zM216 11h1v1h-1zM223 11h2v1h-2zM226 11h1v1h-1zM230 11h1v1h-1zM257 11h2v1h-2zM262 11h1v1h-1zM289 11h1v1h-1zM292 11h3v1h-3zM295 11h2v1h-2zM301 11h2v1h-2zM311 11h1v1h-1zM318 11h1v1h-1zM321 11h2v1h-2zM9 12h2v1h-2zM14 12h1v1h-1zM17 12h1v1h-1zM21 12h3v1h-3zM28 12h1v1h-1zM29 12h3v1h-3zM34 12h2v1h-2zM39 12h3v1h-3zM47 12h1v1h-1zM53 12h1v1h-1zM68 12h1v1h-1zM72 12h1v1h-1zM80 12h3v1h-3zM91 12h2v1h-2zM95 12h1v1h-1zM101 12h2v1h-2zM117 12h1v1h-1zM129 12h3v1h-3zM145 12h2v1h-2zM149 12h1v1h-1zM155 12h1v1h-1zM159 12h3v1h-3zM171 12h3v1h-3zM195 12h1v1h-1zM202 12h3v1h-3zM208 12h1v1h-1zM209 12h1v1h-1zM210 12h2v1h-2zM218 12h1v1h-1zM220 12h1v1h-1zM229 12h2v1h-2zM233 12h1v1h-1zM251 12h2v1h-2zM254 12h3v1h-3zM257 12h1v1h-1zM269 12h3v1h-3zM273 12h2v1h-2zM275 12h1v1h-1zM283 12h3v1h-3zM287 12h1v1h-1zM288 12h2v1h-2zM293 12h1v1h-1zM298 12h2v1h-2zM316 12h1v1h-1z"/><path fill="#b8b8b8" d="M11 0h1v1h-1zM16 0h2v1h-2zM18 0h1v1h-1zM22 0h1v1h-1zM26 0h2v1h-2zM68 0h1v1h-1zM73 0h2v1h-2zM75 0h2v1h-2zM101 0h3v1h-3zM107 0h1v1h-1zM109 0h2v1h-2zM111 0h2v1h-2zM139 0h1v1h-1zM142 0h2v1h-2zM148 0h2v1h-2zM163 0h1v1h-1zM169 0h1v1h-1zM175 0h1v1h-1zM184 0h1v1h-1zM206 0h1v1h-1zM230 0h2v1h-2zM246 0h1v1h-1zM260 0h2v1h-2zM270 0h3v1h-3zM275 0h2v1h-2zM295 0h1v1h-1zM330 0h1v1h-1zM19 1h1v1h-1zM33 1h1v1h-1zM58 1h2v1h-2zM66 1h1v1h-1zM79 1h2v1h-2zM104 1h2v1h-2zM112 1h1v1h-1zM168 1h3v1h-3zM191 1h2v1h-2zM196 1h1v1h-1zM215 1h1v1h-1zM221 1h2v1h-2zM225 1h3v1h-3zM244 1h3v1h-3zM258 1h2v1h-2zM267 1h1v1h-1zM270 1h1v1h-1zM272 1h2v1h-2zM282 1h1v1h-1zM286 1h3v1h-3zM301 1h2v1h-2zM306 1h2v1h-2zM314 1h3v1h-3zM19 2h2v1h-2zM50 2h1v1h-1zM59 2h2v1h-2zM64 2h1v1h-1zM76 2h1v1h-1zM82 2h2v1h-2zM94 2h2v1h-2zM107 2h1v1h-1zM129 2h1v1h-1zM147 2h2v1h-2zM177 2h1v1h-1zM200 2h2v1h-2zM211 2h3v1h-3zM219 2h3v1h-3zM237 2h2v1h-2zM243 2h1v1h-1zM271 2h1v1h-1zM299 2h1v1h-1zM305 2h1v1h-1zM306 2h2v1h-2zM35 3h2v1h-2zM43 3h2v1h-2zM48 3h3v1h-3zM67 3h1v1h-1zM76 3h1v1h-1zM82 3h1v1h-1zM100 3h1v1h-1zM108 3h1v1h-1zM112 3h1v1h-1zM113 3h1v1h-1zM114 3h2v1h-2zM117 3h1v1h-1zM118 3h2v1h-2zM133 3h3v1h-3zM147 3h3v1h-3zM156 3h1v1h-1zM207 3h2v1h-2zM219 3h2v1h-2zM232 3h1v1h-1zM243 3h1v1h-1zM251 3h1v1h-1zM273 3h2v1h-2zM275 3h1v1h-1zM276 3h1v1h-1zM321 3h1v1h-1zM18 4h2v1h-2zM22 4h2v1h-2zM49 4h2v1h-2zM73 4h1v1h-1zM109 4h3v1h-3zM129 4h1v1h-1zM154 4h2v1h-2zM165 4h1v1h-1zM170 4h1v1h-1zM175 4h3v1h-3zM192 4h2v1h-2zM220 4h2v1h-2zM222 4h1v1h-1zM241 4h1v1h-1zM247 4h2v1h-2zM257 4h1v1h-1zM260 4h1v1h-1zM267 4h2v1h-2zM274 4h2v1h-2zM313 4h3v1h-3zM327 4h1v1h-1zM25 5h1v1h-1zM26 5h1v1h-1zM41 5h1v1h-1zM57 5h1v1h-1zM58 5h1v1h-1zM90 5h3v1h-3zM109 5h1v1h-1zM115 5h2v1h-2zM117 5h1v1h-1zM137 5h1v1h-1zM160 5h2v1h-2zM165 5h1v1h-1zM174 5h1v1h-1zM178 5h1v1h-1zM187 5h1v1h-1zM244 5h1v1h-1zM254 5h2v1h-2zM271 5h3v1h-3zM280 5h1v1h-1zM13 6h1v1h-1zM81 6h2v1h-2zM113 6h2v1h-2zM137 6h1v1h-1zM139 6h1v1h-1zM155 6h1v1h-1zM169 6h1v1h-1zM198 6h1v1h-1zM213 6h1v1h-1zM228 6h2v1h-2zM231 6h3v1h-3zM274 6h1v1h-1zM275 6h1v1h-1zM4 7h1v1h-1zM37 7h3v1h-3zM60 7h3v1h-3zM75 7h3v1h-3zM82 7h1v1h-1zM88 7h1v1h-1zM157 7h1v1h-1zM176 7h3v1h-3zM197 7h1v1h-1zM198 7h2v1h-2zM255 7h2v1h-2zM257 7h1v1h-1zM265 7h1v1h-1zM326 7h1v1h-1zM19 8h3v1h-3zM27 8h1v1h-1zM33 8h1v1h-1zM54 8h1v1h-1zM68 8h3v1h-3zM80 8h2v1h-2zM82 8h2v1h-2zM98 8h1v1h-1zM111 8h1v1h-1zM127 8h1v1h-1zM176 8h2v1h-2zM199 8h1v1h-1zM217 8h1v1h-1zM260 8h1v1h-1zM265 8h1v1h-1zM4 9h2v1h-2zM45 9h1v1h-1zM52 9h1v1h-1zM80 9h2v1h-2zM88 9h2v1h-2zM90 9h2v1h-2zM120 9h1v1h-1zM121 9h2v1h-2zM148 9h1v1h-1zM165 9h2v1h-2zM187 9h1v1h-1zM198 9h1v1h-1zM220 9h3v1h-3zM239 9h1v1h-1zM253 9h1v1h-1zM269 9h3v1h-3zM298 9h2v1h-2zM4 10h1v1h-1zM29 10h3v1h-3zM32 10h3v1h-3zM53 10h1v1h-1zM59 10h1v1h-1zM107 10h1v1h-1zM116 10h1v1h-1zM123 10h3v1h-3zM140 10h2v1h-2zM142 10h1v1h-1zM144 10h2v1h-2zM181 10h1v1h-1zM182 10h1v1h-1zM230 10h3v1h-3zM235 10h2v1h-2zM251 10h2v1h-2zM254 10h3v1h-3zM284 10h1v1h-1zM299 10h3v1h-3zM302 10h3v1h-3zM311 10h2v1h-2zM313 10h2v1h-2zM9 11h1v1h-1zM48 11h1v1h-1zM63 11h2v1h-2zM87 11h2v1h-2zM89 11h2v1h-2zM97 11h1v1h-1zM136 11h2v1h-2zM138 11h3v1h-3zM141 11h1v1h-1zM196 11h1v1h-1zM231 11h2v1h-2zM253 11h2v1h-2zM274 11h3v1h-3zM285 11h1v1h-1zM291 11h1v1h-1zM0 12h3v1h-3zM67 12h1v1h-1zM78 12h1v1h-1zM106 12h1v1h-1zM111 12h2v1h-2zM123 12h2v1h-2zM125 12h2v1h-2zM158 12h1v1h-1zM164 12h2v1h-2zM180 12h1v1h-1zM189 12h2v1h-2zM196 12h1v1h-1zM205 12h3v1h-3zM212 12h1v1h-1zM240 12h2v1h-2zM245 12h3v1h-3zM277 12h3v1h-3zM280 12h2v1h-2zM292 12h1v1h-1zM317 12h1v1h-1z"/><path fill="#d4d4d4" d="M50 0h1v1h-1zM134 0h1v1h-1zM224 0h2v1h-2zM310 0h1v1h-1zM326 0h2v1h-2zM74 1h1v1h-1zM83 1h2v1h-2zM127 1h1v1h-1zM212 1h2v1h-2zM234 1h1v1h-1zM269 1h1v1h-1zM74 2h2v1h-2zM77 2h1v1h-1zM78 2h1v1h-1zM114 2h2v1h-2zM136 2h1v1h-1zM137 2h1v1h-1zM163 2h1v1h-1zM168 2h2v1h-2zM190 2h1v1h-1zM276 2h2v1h-2zM68 3h2v1h-2zM169 3h3v1h-3zM272 3h1v1h-1zM115 4h1v1h-1zM116 4h3v1h-3zM147 4h2v1h-2zM199 4h1v1h-1zM203 4h1v1h-1zM217 4h1v1h-1zM272 4h2v1h-2zM290 4h3v1h-3zM27 5h1v1h-1zM67 5h1v1h-1zM128 5h1v1h-1zM285 5h1v1h-1zM313 5h1v1h-1zM51 6h1v1h-1zM104 6h1v1h-1zM128 6h3v1h-3zM199 6h2v1h-2zM286 6h2v1h-2zM11 7h3v1h-3zM104 7h2v1h-2zM137 7h3v1h-3zM147 7h2v1h-2zM169 7h1v1h-1zM279 7h1v1h-1zM75 9h2v1h-2zM127 9h1v1h-1zM174 9h1v1h-1zM231 9h1v1h-1zM260 9h2v1h-2zM272 9h1v1h-1zM37 10h3v1h-3zM51 10h2v1h-2zM92 10h2v1h-2zM171 10h1v1h-1zM196 10h2v1h-2zM219 10h3v1h-3zM18 11h2v1h-2zM37 11h2v1h-2zM77 11h1v1h-1zM91 11h1v1h-1zM233 11h1v1h-1zM247 11h2v1h-2zM256 11h1v1h-1zM330 11h1v1h-1zM37 12h2v1h-2zM51 12h2v1h-2zM182 12h1v1h-1zM191 12h1v1h-1zM231 12h2v1h-2zM253 12h1v1h-1zM282 12h1v1h-1zM330 12h1v1h-1z"/><path fill="#f0f0f0" d="M273 0h1v1h-1zM283 0h3v1h-3zM138 1h1v1h-1zM271 1h1v1h-1zM272 2h2v1h-2zM271 3h1v1h-1zM20 4h2v1h-2zM243 4h1v1h-1zM169 5h2v1h-2zM126 6h2v1h-2zM31 7h1v1h-1zM109 7h2v1h-2zM169 8h1v1h-1zM205 10h1v1h-1zM253 10h1v1h-1z"/></g></pattern><pattern id="pat2" patternUnits="userSpaceOnUse" width="263" height="53.515" x="102" y="51"><rect width="263" height="53.515" fill="#808080"/><g transform="scale(1 4.865)" shape-rendering="crispEdges"><path fill="#101010" d="M137 0h1v1h-1zM206 0h2v1h-2zM167 1h1v1h-1zM187 2h1v1h-1zM6 3h1v1h-1zM33 3h1v1h-1zM118 4h2v1h-2zM36 6h3v1h-3zM46 6h3v1h-3zM21 7h3v1h-3zM36 7h1v1h-1zM105 7h1v1h-1zM124 8h3v1h-3zM36 9h2v1h-2zM163 10h1v1h-1z"/><path fill="#2c2c2c" d="M12 0h1v1h-1zM24 0h2v1h-2zM34 0h1v1h-1zM103 0h1v1h-1zM167 0h1v1h-1zM172 0h1v1h-1zM241 0h1v1h-1zM8 1h1v1h-1zM140 1h2v1h-2zM151 1h1v1h-1zM159 1h2v1h-2zM163 1h2v1h-2zM231 1h1v1h-1zM24 2h2v1h-2zM93 2h1v1h-1zM99 2h3v1h-3zM173 2h3v1h-3zM43 3h2v1h-2zM84 3h1v1h-1zM119 3h2v1h-2zM152 3h2v1h-2zM173 3h1v1h-1zM8 4h1v1h-1zM14 4h2v1h-2zM99 4h2v1h-2zM115 4h3v1h-3zM140 4h1v1h-1zM167 4h1v1h-1zM13 5h2v1h-2zM15 5h1v1h-1zM24 5h1v1h-1zM47 5h2v1h-2zM71 5h2v1h-2zM93 5h1v1h-1zM119 5h3v1h-3zM43 6h3v1h-3zM119 6h3v1h-3zM196 6h1v1h-1zM228 6h3v1h-3zM235 6h2v1h-2zM7 7h1v1h-1zM47 7h2v1h-2zM216 7h2v1h-2zM29 8h3v1h-3zM47 8h1v1h-1zM92 8h1v1h-1zM100 8h1v1h-1zM128 8h1v1h-1zM254 8h2v1h-2zM64 9h1v1h-1zM145 9h1v1h-1zM173 9h1v1h-1zM215 9h1v1h-1zM218 9h1v1h-1zM235 9h2v1h-2zM255 9h1v1h-1zM134 10h3v1h-3zM176 10h2v1h-2z"/><path fill="#484848" d="M8 0h2v1h-2zM13 0h1v1h-1zM14 0h3v1h-3zM33 0h1v1h-1zM48 0h3v1h-3zM70 0h2v1h-2zM92 0h1v1h-1zM94 0h1v1h-1zM100 0h3v1h-3zM104 0h3v1h-3zM118 0h1v1h-1zM119 0h2v1h-2zM141 0h2v1h-2zM153 0h1v1h-1zM210 0h2v1h-2zM234 0h1v1h-1zM12 1h3v1h-3zM15 1h2v1h-2zM19 1h2v1h-2zM31 1h3v1h-3zM49 1h2v1h-2zM92 1h1v1h-1zM93 1h2v1h-2zM103 1h3v1h-3zM110 1h1v1h-1zM111 1h1v1h-1zM117 1h3v1h-3zM125 1h1v1h-1zM148 1h3v1h-3zM162 1h1v1h-1zM170 1h2v1h-2zM172 1h1v1h-1zM173 1h1v1h-1zM176 1h1v1h-1zM178 1h2v1h-2zM182 1h2v1h-2zM209 1h3v1h-3zM226 1h2v1h-2zM230 1h1v1h-1zM235 1h1v1h-1zM252 1h2v1h-2zM261 1h1v1h-1zM34 2h3v1h-3zM61 2h1v1h-1zM70 2h1v1h-1zM102 2h1v1h-1zM118 2h3v1h-3zM142 2h1v1h-1zM153 2h1v1h-1zM160 2h2v1h-2zM167 2h2v1h-2zM182 2h1v1h-1zM220 2h1v1h-1zM226 2h3v1h-3zM230 2h2v1h-2zM7 3h1v1h-1zM13 3h1v1h-1zM23 3h3v1h-3zM34 3h1v1h-1zM90 3h3v1h-3zM97 3h3v1h-3zM100 3h1v1h-1zM125 3h2v1h-2zM145 3h1v1h-1zM147 3h1v1h-1zM165 3h1v1h-1zM174 3h1v1h-1zM196 3h2v1h-2zM245 3h1v1h-1zM7 4h1v1h-1zM19 4h1v1h-1zM32 4h2v1h-2zM43 4h1v1h-1zM49 4h3v1h-3zM80 4h2v1h-2zM88 4h3v1h-3zM101 4h1v1h-1zM121 4h2v1h-2zM145 4h2v1h-2zM147 4h1v1h-1zM152 4h2v1h-2zM160 4h3v1h-3zM164 4h1v1h-1zM229 4h3v1h-3zM236 4h1v1h-1zM241 4h1v1h-1zM252 4h2v1h-2zM25 5h1v1h-1zM27 5h2v1h-2zM57 5h1v1h-1zM68 5h1v1h-1zM105 5h2v1h-2zM168 5h1v1h-1zM173 5h1v1h-1zM198 5h2v1h-2zM210 5h1v1h-1zM211 5h2v1h-2zM224 5h3v1h-3zM228 5h3v1h-3zM248 5h2v1h-2zM254 5h2v1h-2zM258 5h2v1h-2zM260 5h3v1h-3zM28 6h1v1h-1zM30 6h3v1h-3zM33 6h2v1h-2zM70 6h3v1h-3zM84 6h2v1h-2zM106 6h3v1h-3zM113 6h1v1h-1zM157 6h1v1h-1zM173 6h1v1h-1zM242 6h2v1h-2zM248 6h2v1h-2zM251 6h1v1h-1zM260 6h1v1h-1zM0 7h1v1h-1zM6 7h1v1h-1zM52 7h1v1h-1zM93 7h2v1h-2zM100 7h1v1h-1zM108 7h3v1h-3zM120 7h1v1h-1zM138 7h1v1h-1zM142 7h1v1h-1zM147 7h1v1h-1zM179 7h1v1h-1zM234 7h1v1h-1zM244 7h2v1h-2zM250 7h2v1h-2zM257 7h2v1h-2zM10 8h1v1h-1zM23 8h1v1h-1zM36 8h1v1h-1zM115 8h3v1h-3zM147 8h1v1h-1zM148 8h1v1h-1zM157 8h3v1h-3zM172 8h3v1h-3zM175 8h1v1h-1zM178 8h1v1h-1zM183 8h1v1h-1zM191 8h3v1h-3zM215 8h2v1h-2zM224 8h2v1h-2zM235 8h1v1h-1zM251 8h1v1h-1zM259 8h2v1h-2zM13 9h1v1h-1zM44 9h2v1h-2zM69 9h1v1h-1zM80 9h1v1h-1zM93 9h1v1h-1zM102 9h1v1h-1zM106 9h1v1h-1zM107 9h2v1h-2zM112 9h1v1h-1zM120 9h1v1h-1zM148 9h1v1h-1zM159 9h3v1h-3zM178 9h1v1h-1zM185 9h1v1h-1zM189 9h2v1h-2zM191 9h3v1h-3zM253 9h2v1h-2zM259 9h1v1h-1zM262 9h1v1h-1zM4 10h2v1h-2zM26 10h1v1h-1zM27 10h2v1h-2zM91 10h2v1h-2zM94 10h3v1h-3zM121 10h1v1h-1zM128 10h3v1h-3zM142 10h2v1h-2zM178 10h2v1h-2zM185 10h1v1h-1zM200 10h1v1h-1zM214 10h2v1h-2zM225 10h3v1h-3zM253 10h3v1h-3z"/><path fill="#646464" d="M5 0h3v1h-3zM10 0h1v1h-1zM11 0h1v1h-1zM19 0h1v1h-1zM21 0h2v1h-2zM23 0h1v1h-1zM30 0h3v1h-3zM36 0h1v1h-1zM44 0h1v1h-1zM57 0h2v1h-2zM73 0h2v1h-2zM80 0h2v1h-2zM93 0h1v1h-1zM96 0h2v1h-2zM107 0h1v1h-1zM114 0h1v1h-1zM121 0h3v1h-3zM134 0h2v1h-2zM136 0h1v1h-1zM150 0h3v1h-3zM165 0h2v1h-2zM173 0h2v1h-2zM176 0h2v1h-2zM194 0h3v1h-3zM216 0h1v1h-1zM220 0h3v1h-3zM226 0h2v1h-2zM253 0h2v1h-2zM255 0h1v1h-1zM262 0h1v1h-1zM4 1h1v1h-1zM5 1h3v1h-3zM34 1h1v1h-1zM58 1h3v1h-3zM63 1h2v1h-2zM85 1h2v1h-2zM89 1h2v1h-2zM98 1h1v1h-1zM101 1h1v1h-1zM102 1h1v1h-1zM106 1h2v1h-2zM115 1h2v1h-2zM126 1h1v1h-1zM139 1h1v1h-1zM142 1h1v1h-1zM146 1h2v1h-2zM165 1h2v1h-2zM191 1h1v1h-1zM192 1h1v1h-1zM197 1h2v1h-2zM199 1h2v1h-2zM201 1h3v1h-3zM220 1h2v1h-2zM222 1h1v1h-1zM240 1h1v1h-1zM241 1h1v1h-1zM245 1h1v1h-1zM246 1h1v1h-1zM7 2h2v1h-2zM9 2h2v1h-2zM22 2h2v1h-2zM31 2h3v1h-3zM40 2h1v1h-1zM45 2h1v1h-1zM60 2h1v1h-1zM71 2h1v1h-1zM77 2h2v1h-2zM79 2h2v1h-2zM88 2h1v1h-1zM89 2h3v1h-3zM92 2h1v1h-1zM103 2h1v1h-1zM107 2h1v1h-1zM110 2h3v1h-3zM115 2h3v1h-3zM127 2h2v1h-2zM130 2h1v1h-1zM135 2h1v1h-1zM136 2h1v1h-1zM137 2h1v1h-1zM138 2h1v1h-1zM143 2h3v1h-3zM146 2h3v1h-3zM149 2h3v1h-3zM152 2h1v1h-1zM156 2h1v1h-1zM165 2h2v1h-2zM172 2h1v1h-1zM176 2h2v1h-2zM186 2h1v1h-1zM200 2h2v1h-2zM206 2h2v1h-2zM210 2h1v1h-1zM215 2h2v1h-2zM223 2h1v1h-1zM232 2h1v1h-1zM237 2h1v1h-1zM244 2h1v1h-1zM258 2h1v1h-1zM259 2h1v1h-1zM8 3h1v1h-1zM9 3h1v1h-1zM10 3h2v1h-2zM14 3h1v1h-1zM15 3h3v1h-3zM18 3h3v1h-3zM32 3h1v1h-1zM45 3h1v1h-1zM63 3h1v1h-1zM94 3h1v1h-1zM106 3h2v1h-2zM114 3h2v1h-2zM116 3h1v1h-1zM117 3h2v1h-2zM121 3h1v1h-1zM127 3h2v1h-2zM129 3h1v1h-1zM136 3h2v1h-2zM138 3h1v1h-1zM139 3h2v1h-2zM146 3h1v1h-1zM151 3h1v1h-1zM158 3h1v1h-1zM168 3h1v1h-1zM181 3h1v1h-1zM185 3h2v1h-2zM199 3h1v1h-1zM203 3h1v1h-1zM219 3h3v1h-3zM226 3h3v1h-3zM234 3h2v1h-2zM253 3h1v1h-1zM258 3h2v1h-2zM260 3h2v1h-2zM6 4h1v1h-1zM12 4h1v1h-1zM28 4h1v1h-1zM31 4h1v1h-1zM44 4h1v1h-1zM61 4h3v1h-3zM70 4h1v1h-1zM71 4h2v1h-2zM91 4h3v1h-3zM94 4h3v1h-3zM98 4h1v1h-1zM102 4h1v1h-1zM107 4h2v1h-2zM112 4h1v1h-1zM127 4h1v1h-1zM141 4h1v1h-1zM142 4h3v1h-3zM148 4h1v1h-1zM155 4h3v1h-3zM175 4h1v1h-1zM176 4h1v1h-1zM177 4h2v1h-2zM180 4h1v1h-1zM181 4h1v1h-1zM196 4h1v1h-1zM197 4h2v1h-2zM201 4h2v1h-2zM206 4h2v1h-2zM221 4h1v1h-1zM233 4h3v1h-3zM254 4h3v1h-3zM258 4h1v1h-1zM262 4h1v1h-1zM26 5h1v1h-1zM34 5h1v1h-1zM36 5h1v1h-1zM43 5h1v1h-1zM44 5h3v1h-3zM54 5h3v1h-3zM61 5h1v1h-1zM76 5h3v1h-3zM83 5h3v1h-3zM94 5h1v1h-1zM101 5h3v1h-3zM110 5h1v1h-1zM115 5h3v1h-3zM128 5h1v1h-1zM130 5h2v1h-2zM145 5h2v1h-2zM147 5h2v1h-2zM167 5h1v1h-1zM178 5h3v1h-3zM185 5h2v1h-2zM216 5h1v1h-1zM218 5h2v1h-2zM222 5h2v1h-2zM231 5h2v1h-2zM241 5h2v1h-2zM251 5h1v1h-1zM256 5h2v1h-2zM6 6h1v1h-1zM7 6h3v1h-3zM12 6h2v1h-2zM17 6h1v1h-1zM53 6h1v1h-1zM57 6h1v1h-1zM68 6h2v1h-2zM86 6h2v1h-2zM93 6h2v1h-2zM95 6h3v1h-3zM105 6h1v1h-1zM132 6h2v1h-2zM145 6h1v1h-1zM154 6h3v1h-3zM161 6h1v1h-1zM166 6h2v1h-2zM170 6h1v1h-1zM177 6h1v1h-1zM178 6h1v1h-1zM181 6h2v1h-2zM184 6h2v1h-2zM190 6h1v1h-1zM191 6h1v1h-1zM194 6h2v1h-2zM201 6h1v1h-1zM212 6h2v1h-2zM240 6h1v1h-1zM241 6h1v1h-1zM255 6h1v1h-1zM12 7h1v1h-1zM13 7h2v1h-2zM15 7h2v1h-2zM34 7h1v1h-1zM37 7h3v1h-3zM40 7h3v1h-3zM45 7h1v1h-1zM46 7h1v1h-1zM67 7h2v1h-2zM74 7h1v1h-1zM86 7h2v1h-2zM101 7h2v1h-2zM111 7h1v1h-1zM114 7h3v1h-3zM121 7h2v1h-2zM123 7h2v1h-2zM131 7h1v1h-1zM132 7h1v1h-1zM143 7h2v1h-2zM148 7h1v1h-1zM157 7h1v1h-1zM160 7h1v1h-1zM182 7h2v1h-2zM184 7h2v1h-2zM190 7h2v1h-2zM194 7h2v1h-2zM207 7h3v1h-3zM222 7h3v1h-3zM235 7h2v1h-2zM252 7h1v1h-1zM255 7h2v1h-2zM2 8h1v1h-1zM3 8h1v1h-1zM7 8h3v1h-3zM13 8h2v1h-2zM15 8h2v1h-2zM24 8h1v1h-1zM33 8h3v1h-3zM44 8h1v1h-1zM55 8h1v1h-1zM59 8h3v1h-3zM64 8h2v1h-2zM70 8h1v1h-1zM78 8h2v1h-2zM95 8h2v1h-2zM110 8h3v1h-3zM123 8h1v1h-1zM138 8h3v1h-3zM160 8h1v1h-1zM162 8h1v1h-1zM167 8h1v1h-1zM171 8h1v1h-1zM181 8h2v1h-2zM196 8h3v1h-3zM201 8h2v1h-2zM213 8h1v1h-1zM221 8h3v1h-3zM226 8h2v1h-2zM234 8h1v1h-1zM236 8h1v1h-1zM239 8h1v1h-1zM242 8h3v1h-3zM245 8h2v1h-2zM250 8h1v1h-1zM2 9h1v1h-1zM12 9h1v1h-1zM14 9h1v1h-1zM21 9h2v1h-2zM23 9h1v1h-1zM24 9h1v1h-1zM25 9h1v1h-1zM26 9h1v1h-1zM28 9h2v1h-2zM35 9h1v1h-1zM42 9h2v1h-2zM46 9h2v1h-2zM61 9h2v1h-2zM81 9h2v1h-2zM89 9h1v1h-1zM98 9h3v1h-3zM101 9h1v1h-1zM103 9h1v1h-1zM109 9h1v1h-1zM113 9h1v1h-1zM118 9h1v1h-1zM119 9h1v1h-1zM138 9h1v1h-1zM141 9h3v1h-3zM167 9h1v1h-1zM169 9h1v1h-1zM175 9h2v1h-2zM177 9h1v1h-1zM196 9h1v1h-1zM210 9h2v1h-2zM216 9h1v1h-1zM226 9h1v1h-1zM233 9h1v1h-1zM244 9h2v1h-2zM249 9h1v1h-1zM260 9h1v1h-1zM6 10h2v1h-2zM8 10h1v1h-1zM9 10h1v1h-1zM10 10h3v1h-3zM35 10h3v1h-3zM41 10h1v1h-1zM43 10h1v1h-1zM47 10h1v1h-1zM48 10h1v1h-1zM49 10h1v1h-1zM50 10h2v1h-2zM72 10h1v1h-1zM73 10h3v1h-3zM76 10h1v1h-1zM89 10h2v1h-2zM109 10h1v1h-1zM111 10h1v1h-1zM131 10h2v1h-2zM133 10h1v1h-1zM141 10h1v1h-1zM158 10h2v1h-2zM164 10h2v1h-2zM192 10h2v1h-2zM196 10h2v1h-2zM201 10h3v1h-3zM204 10h1v1h-1zM208 10h1v1h-1zM216 10h1v1h-1zM228 10h2v1h-2zM241 10h1v1h-1zM246 10h2v1h-2zM251 10h2v1h-2zM260 10h1v1h-1zM261 10h2v1h-2z"/><path fill="#9c9c9c" d="M0 0h1v1h-1zM26 0h1v1h-1zM27 0h3v1h-3zM37 0h1v1h-1zM38 0h1v1h-1zM43 0h1v1h-1zM45 0h3v1h-3zM51 0h2v1h-2zM62 0h1v1h-1zM67 0h1v1h-1zM68 0h2v1h-2zM78 0h1v1h-1zM86 0h2v1h-2zM88 0h1v1h-1zM108 0h2v1h-2zM115 0h2v1h-2zM129 0h2v1h-2zM133 0h1v1h-1zM143 0h1v1h-1zM149 0h1v1h-1zM162 0h3v1h-3zM190 0h1v1h-1zM191 0h3v1h-3zM213 0h3v1h-3zM225 0h1v1h-1zM231 0h1v1h-1zM235 0h1v1h-1zM240 0h1v1h-1zM256 0h1v1h-1zM1 1h2v1h-2zM11 1h1v1h-1zM21 1h1v1h-1zM22 1h1v1h-1zM30 1h1v1h-1zM41 1h2v1h-2zM47 1h1v1h-1zM48 1h1v1h-1zM52 1h2v1h-2zM54 1h2v1h-2zM61 1h2v1h-2zM76 1h2v1h-2zM80 1h1v1h-1zM91 1h1v1h-1zM121 1h1v1h-1zM124 1h1v1h-1zM136 1h3v1h-3zM152 1h1v1h-1zM153 1h1v1h-1zM157 1h2v1h-2zM168 1h2v1h-2zM177 1h1v1h-1zM184 1h3v1h-3zM189 1h2v1h-2zM193 1h1v1h-1zM195 1h2v1h-2zM204 1h1v1h-1zM205 1h3v1h-3zM213 1h1v1h-1zM219 1h1v1h-1zM223 1h1v1h-1zM236 1h2v1h-2zM238 1h1v1h-1zM243 1h2v1h-2zM250 1h2v1h-2zM256 1h2v1h-2zM262 1h1v1h-1zM11 2h2v1h-2zM13 2h1v1h-1zM19 2h3v1h-3zM54 2h3v1h-3zM64 2h1v1h-1zM65 2h1v1h-1zM67 2h2v1h-2zM76 2h1v1h-1zM81 2h1v1h-1zM84 2h1v1h-1zM126 2h1v1h-1zM131 2h2v1h-2zM154 2h2v1h-2zM158 2h2v1h-2zM178 2h2v1h-2zM180 2h2v1h-2zM188 2h1v1h-1zM189 2h1v1h-1zM190 2h2v1h-2zM195 2h2v1h-2zM197 2h2v1h-2zM203 2h3v1h-3zM208 2h2v1h-2zM218 2h2v1h-2zM239 2h1v1h-1zM240 2h3v1h-3zM247 2h2v1h-2zM249 2h1v1h-1zM250 2h1v1h-1zM257 2h1v1h-1zM0 3h3v1h-3zM22 3h1v1h-1zM35 3h1v1h-1zM46 3h1v1h-1zM48 3h2v1h-2zM57 3h2v1h-2zM61 3h2v1h-2zM73 3h1v1h-1zM74 3h2v1h-2zM81 3h1v1h-1zM83 3h1v1h-1zM86 3h1v1h-1zM88 3h2v1h-2zM95 3h2v1h-2zM110 3h2v1h-2zM123 3h2v1h-2zM130 3h2v1h-2zM159 3h3v1h-3zM163 3h2v1h-2zM178 3h2v1h-2zM180 3h1v1h-1zM184 3h1v1h-1zM194 3h2v1h-2zM200 3h1v1h-1zM202 3h1v1h-1zM207 3h2v1h-2zM209 3h1v1h-1zM214 3h3v1h-3zM229 3h2v1h-2zM241 3h2v1h-2zM244 3h1v1h-1zM250 3h3v1h-3zM254 3h2v1h-2zM16 4h1v1h-1zM20 4h3v1h-3zM25 4h1v1h-1zM29 4h1v1h-1zM37 4h3v1h-3zM48 4h1v1h-1zM54 4h1v1h-1zM58 4h2v1h-2zM60 4h1v1h-1zM68 4h1v1h-1zM69 4h1v1h-1zM84 4h3v1h-3zM87 4h1v1h-1zM109 4h3v1h-3zM113 4h2v1h-2zM123 4h1v1h-1zM128 4h2v1h-2zM132 4h3v1h-3zM135 4h1v1h-1zM138 4h2v1h-2zM163 4h1v1h-1zM171 4h3v1h-3zM174 4h1v1h-1zM182 4h1v1h-1zM183 4h2v1h-2zM188 4h1v1h-1zM190 4h3v1h-3zM200 4h1v1h-1zM204 4h1v1h-1zM213 4h2v1h-2zM219 4h2v1h-2zM222 4h1v1h-1zM225 4h1v1h-1zM240 4h1v1h-1zM243 4h2v1h-2zM0 5h2v1h-2zM2 5h2v1h-2zM6 5h3v1h-3zM11 5h2v1h-2zM19 5h2v1h-2zM32 5h2v1h-2zM51 5h1v1h-1zM52 5h2v1h-2zM66 5h1v1h-1zM69 5h2v1h-2zM79 5h1v1h-1zM97 5h2v1h-2zM112 5h1v1h-1zM118 5h1v1h-1zM123 5h2v1h-2zM126 5h2v1h-2zM129 5h1v1h-1zM133 5h1v1h-1zM140 5h2v1h-2zM142 5h2v1h-2zM152 5h2v1h-2zM155 5h1v1h-1zM156 5h1v1h-1zM160 5h2v1h-2zM164 5h3v1h-3zM171 5h2v1h-2zM177 5h1v1h-1zM181 5h3v1h-3zM184 5h1v1h-1zM188 5h2v1h-2zM193 5h1v1h-1zM197 5h1v1h-1zM203 5h2v1h-2zM209 5h1v1h-1zM227 5h1v1h-1zM240 5h1v1h-1zM243 5h2v1h-2zM252 5h2v1h-2zM0 6h3v1h-3zM4 6h2v1h-2zM15 6h1v1h-1zM16 6h1v1h-1zM23 6h3v1h-3zM39 6h1v1h-1zM52 6h1v1h-1zM54 6h2v1h-2zM56 6h1v1h-1zM59 6h1v1h-1zM63 6h3v1h-3zM74 6h2v1h-2zM88 6h2v1h-2zM98 6h2v1h-2zM103 6h2v1h-2zM111 6h2v1h-2zM123 6h2v1h-2zM125 6h2v1h-2zM128 6h1v1h-1zM129 6h3v1h-3zM139 6h1v1h-1zM146 6h1v1h-1zM147 6h2v1h-2zM149 6h3v1h-3zM152 6h2v1h-2zM158 6h2v1h-2zM162 6h2v1h-2zM164 6h1v1h-1zM165 6h1v1h-1zM171 6h2v1h-2zM188 6h1v1h-1zM189 6h1v1h-1zM192 6h2v1h-2zM205 6h1v1h-1zM209 6h3v1h-3zM214 6h2v1h-2zM227 6h1v1h-1zM246 6h2v1h-2zM250 6h1v1h-1zM256 6h2v1h-2zM3 7h3v1h-3zM8 7h1v1h-1zM11 7h1v1h-1zM17 7h2v1h-2zM20 7h1v1h-1zM30 7h1v1h-1zM33 7h1v1h-1zM49 7h1v1h-1zM59 7h2v1h-2zM81 7h2v1h-2zM98 7h1v1h-1zM117 7h1v1h-1zM139 7h3v1h-3zM152 7h1v1h-1zM153 7h2v1h-2zM155 7h2v1h-2zM158 7h2v1h-2zM161 7h2v1h-2zM164 7h1v1h-1zM165 7h2v1h-2zM169 7h1v1h-1zM170 7h3v1h-3zM175 7h3v1h-3zM180 7h2v1h-2zM204 7h1v1h-1zM205 7h1v1h-1zM213 7h1v1h-1zM214 7h2v1h-2zM227 7h3v1h-3zM241 7h3v1h-3zM246 7h1v1h-1zM247 7h1v1h-1zM248 7h1v1h-1zM262 7h1v1h-1zM0 8h2v1h-2zM4 8h3v1h-3zM21 8h2v1h-2zM32 8h1v1h-1zM48 8h1v1h-1zM63 8h1v1h-1zM66 8h1v1h-1zM73 8h2v1h-2zM77 8h1v1h-1zM80 8h3v1h-3zM89 8h3v1h-3zM93 8h2v1h-2zM101 8h3v1h-3zM107 8h1v1h-1zM118 8h3v1h-3zM121 8h2v1h-2zM127 8h1v1h-1zM131 8h1v1h-1zM141 8h1v1h-1zM142 8h2v1h-2zM144 8h2v1h-2zM146 8h1v1h-1zM165 8h1v1h-1zM168 8h2v1h-2zM170 8h1v1h-1zM177 8h1v1h-1zM184 8h2v1h-2zM189 8h2v1h-2zM200 8h1v1h-1zM209 8h2v1h-2zM231 8h1v1h-1zM240 8h2v1h-2zM247 8h1v1h-1zM261 8h1v1h-1zM0 9h2v1h-2zM9 9h3v1h-3zM15 9h1v1h-1zM18 9h3v1h-3zM27 9h1v1h-1zM49 9h1v1h-1zM59 9h1v1h-1zM60 9h1v1h-1zM63 9h1v1h-1zM65 9h1v1h-1zM74 9h1v1h-1zM77 9h2v1h-2zM83 9h2v1h-2zM90 9h2v1h-2zM97 9h1v1h-1zM104 9h2v1h-2zM116 9h2v1h-2zM125 9h1v1h-1zM127 9h2v1h-2zM144 9h1v1h-1zM149 9h2v1h-2zM166 9h1v1h-1zM168 9h1v1h-1zM170 9h3v1h-3zM174 9h1v1h-1zM180 9h2v1h-2zM182 9h1v1h-1zM188 9h1v1h-1zM202 9h1v1h-1zM203 9h1v1h-1zM213 9h2v1h-2zM217 9h1v1h-1zM219 9h2v1h-2zM227 9h3v1h-3zM238 9h1v1h-1zM240 9h3v1h-3zM243 9h1v1h-1zM19 10h2v1h-2zM23 10h1v1h-1zM29 10h1v1h-1zM30 10h1v1h-1zM42 10h1v1h-1zM46 10h1v1h-1zM52 10h2v1h-2zM63 10h2v1h-2zM65 10h1v1h-1zM66 10h3v1h-3zM78 10h2v1h-2zM80 10h1v1h-1zM81 10h1v1h-1zM85 10h3v1h-3zM88 10h1v1h-1zM97 10h1v1h-1zM100 10h2v1h-2zM102 10h2v1h-2zM112 10h3v1h-3zM115 10h1v1h-1zM116 10h2v1h-2zM118 10h2v1h-2zM137 10h1v1h-1zM139 10h2v1h-2zM144 10h1v1h-1zM145 10h1v1h-1zM151 10h3v1h-3zM154 10h1v1h-1zM155 10h3v1h-3zM160 10h2v1h-2zM166 10h1v1h-1zM170 10h3v1h-3zM173 10h2v1h-2zM175 10h1v1h-1zM209 10h2v1h-2zM221 10h2v1h-2zM232 10h1v1h-1zM239 10h2v1h-2zM244 10h1v1h-1zM245 10h1v1h-1zM248 10h1v1h-1zM249 10h2v1h-2zM258 10h2v1h-2z"/><path fill="#b8b8b8" d="M1 0h3v1h-3zM4 0h1v1h-1zM17 0h2v1h-2zM39 0h3v1h-3zM42 0h1v1h-1zM56 0h1v1h-1zM59 0h3v1h-3zM63 0h3v1h-3zM90 0h2v1h-2zM95 0h1v1h-1zM112 0h1v1h-1zM156 0h3v1h-3zM179 0h1v1h-1zM183 0h2v1h-2zM209 0h1v1h-1zM228 0h1v1h-1zM232 0h2v1h-2zM242 0h2v1h-2zM244 0h2v1h-2zM250 0h1v1h-1zM251 0h2v1h-2zM257 0h1v1h-1zM258 0h1v1h-1zM9 1h2v1h-2zM17 1h2v1h-2zM23 1h2v1h-2zM25 1h1v1h-1zM35 1h1v1h-1zM37 1h2v1h-2zM39 1h2v1h-2zM56 1h1v1h-1zM72 1h1v1h-1zM73 1h1v1h-1zM74 1h2v1h-2zM81 1h1v1h-1zM100 1h1v1h-1zM123 1h1v1h-1zM129 1h2v1h-2zM131 1h1v1h-1zM174 1h2v1h-2zM194 1h1v1h-1zM214 1h3v1h-3zM242 1h1v1h-1zM15 2h1v1h-1zM42 2h1v1h-1zM51 2h3v1h-3zM59 2h1v1h-1zM73 2h1v1h-1zM94 2h1v1h-1zM95 2h2v1h-2zM123 2h3v1h-3zM157 2h1v1h-1zM193 2h2v1h-2zM212 2h1v1h-1zM213 2h2v1h-2zM217 2h1v1h-1zM224 2h2v1h-2zM233 2h1v1h-1zM243 2h1v1h-1zM260 2h1v1h-1zM30 3h2v1h-2zM39 3h1v1h-1zM40 3h2v1h-2zM47 3h1v1h-1zM51 3h1v1h-1zM56 3h1v1h-1zM59 3h2v1h-2zM64 3h1v1h-1zM68 3h3v1h-3zM76 3h1v1h-1zM82 3h1v1h-1zM109 3h1v1h-1zM122 3h1v1h-1zM143 3h2v1h-2zM187 3h2v1h-2zM190 3h1v1h-1zM191 3h2v1h-2zM198 3h1v1h-1zM217 3h2v1h-2zM222 3h1v1h-1zM238 3h1v1h-1zM0 4h3v1h-3zM5 4h1v1h-1zM9 4h3v1h-3zM23 4h2v1h-2zM26 4h2v1h-2zM45 4h2v1h-2zM67 4h1v1h-1zM76 4h3v1h-3zM104 4h3v1h-3zM149 4h3v1h-3zM185 4h2v1h-2zM187 4h1v1h-1zM194 4h2v1h-2zM205 4h1v1h-1zM209 4h1v1h-1zM210 4h3v1h-3zM215 4h1v1h-1zM223 4h1v1h-1zM232 4h1v1h-1zM237 4h3v1h-3zM242 4h1v1h-1zM245 4h3v1h-3zM248 4h2v1h-2zM260 4h2v1h-2zM10 5h1v1h-1zM21 5h3v1h-3zM39 5h3v1h-3zM75 5h1v1h-1zM86 5h1v1h-1zM89 5h1v1h-1zM104 5h1v1h-1zM107 5h2v1h-2zM132 5h1v1h-1zM169 5h1v1h-1zM205 5h2v1h-2zM237 5h3v1h-3zM245 5h2v1h-2zM247 5h1v1h-1zM10 6h2v1h-2zM21 6h1v1h-1zM42 6h1v1h-1zM60 6h1v1h-1zM66 6h2v1h-2zM73 6h1v1h-1zM76 6h3v1h-3zM102 6h1v1h-1zM127 6h1v1h-1zM136 6h2v1h-2zM160 6h1v1h-1zM187 6h1v1h-1zM221 6h3v1h-3zM237 6h3v1h-3zM50 7h1v1h-1zM63 7h3v1h-3zM75 7h1v1h-1zM83 7h1v1h-1zM92 7h1v1h-1zM103 7h2v1h-2zM107 7h1v1h-1zM112 7h1v1h-1zM125 7h2v1h-2zM133 7h2v1h-2zM163 7h1v1h-1zM189 7h1v1h-1zM199 7h2v1h-2zM201 7h1v1h-1zM230 7h2v1h-2zM19 8h2v1h-2zM37 8h2v1h-2zM39 8h2v1h-2zM51 8h3v1h-3zM75 8h1v1h-1zM85 8h3v1h-3zM88 8h1v1h-1zM132 8h3v1h-3zM135 8h1v1h-1zM156 8h1v1h-1zM163 8h2v1h-2zM186 8h3v1h-3zM206 8h1v1h-1zM207 8h1v1h-1zM217 8h3v1h-3zM237 8h2v1h-2zM249 8h1v1h-1zM33 9h2v1h-2zM39 9h2v1h-2zM48 9h1v1h-1zM53 9h1v1h-1zM56 9h3v1h-3zM87 9h2v1h-2zM110 9h1v1h-1zM126 9h1v1h-1zM129 9h3v1h-3zM153 9h1v1h-1zM162 9h1v1h-1zM163 9h2v1h-2zM200 9h2v1h-2zM204 9h3v1h-3zM231 9h2v1h-2zM246 9h3v1h-3zM1 10h3v1h-3zM22 10h1v1h-1zM44 10h2v1h-2zM98 10h1v1h-1zM107 10h2v1h-2zM148 10h3v1h-3zM183 10h2v1h-2zM189 10h1v1h-1zM194 10h2v1h-2zM205 10h3v1h-3zM211 10h1v1h-1zM223 10h1v1h-1zM230 10h2v1h-2z"/><path fill="#d4d4d4" d="M53 0h3v1h-3zM75 0h1v1h-1zM76 0h2v1h-2zM124 0h1v1h-1zM138 0h3v1h-3zM154 0h2v1h-2zM51 1h1v1h-1zM65 1h2v1h-2zM154 1h3v1h-3zM212 1h1v1h-1zM0 2h3v1h-3zM37 2h2v1h-2zM39 2h1v1h-1zM63 2h1v1h-1zM72 2h1v1h-1zM74 2h2v1h-2zM85 2h2v1h-2zM202 2h1v1h-1zM26 3h2v1h-2zM28 3h2v1h-2zM65 3h1v1h-1zM66 3h2v1h-2zM177 3h1v1h-1zM183 3h1v1h-1zM189 3h1v1h-1zM204 3h3v1h-3zM233 3h1v1h-1zM243 3h1v1h-1zM17 4h1v1h-1zM30 4h1v1h-1zM79 4h1v1h-1zM131 4h1v1h-1zM179 4h1v1h-1zM193 4h1v1h-1zM4 5h2v1h-2zM18 5h1v1h-1zM49 5h1v1h-1zM134 5h1v1h-1zM220 5h2v1h-2zM82 6h2v1h-2zM134 6h1v1h-1zM252 6h3v1h-3zM1 7h2v1h-2zM9 7h2v1h-2zM19 7h1v1h-1zM135 7h1v1h-1zM136 7h2v1h-2zM150 7h2v1h-2zM203 7h1v1h-1zM237 7h1v1h-1zM238 7h3v1h-3zM41 8h3v1h-3zM49 8h2v1h-2zM56 8h3v1h-3zM104 8h3v1h-3zM256 8h2v1h-2zM79 9h1v1h-1zM221 9h2v1h-2zM237 9h1v1h-1zM60 10h3v1h-3zM122 10h1v1h-1zM181 10h2v1h-2zM212 10h2v1h-2z"/><path fill="#f0f0f0" d="M131 0h1v1h-1zM67 1h3v1h-3zM239 1h1v1h-1zM66 2h1v1h-1zM108 2h2v1h-2zM74 4h2v1h-2zM135 5h1v1h-1zM136 5h2v1h-2zM135 6h1v1h-1zM56 7h3v1h-3zM88 7h3v1h-3zM136 8h1v1h-1zM85 9h2v1h-2zM135 9h3v1h-3zM155 9h2v1h-2zM190 10h2v1h-2z"/></g></pattern><g id="tex"><rect x="0" y="0" width="2047" height="1067" fill="url(#pat)"/><rect x="0" y="0" width="2047" height="1067" fill="url(#pat2)" opacity="0.5"/></g><filter id="bl" x="0" y="0" width="2047" height="1067" filterUnits="userSpaceOnUse"><feGaussianBlur stdDeviation="1.6"/></filter><clipPath id="pc"><rect x="102" y="51" width="1675" height="925"/></clipPath><radialGradient id="rg"><stop offset="0" stop-color="#4c4c4c" stop-opacity="1"/><stop offset="0.5" stop-color="#464646" stop-opacity="0.6"/><stop offset="1" stop-color="#3f3f3f" stop-opacity="0"/></radialGradient><filter id="fA" filterUnits="userSpaceOnUse" x="102" y="51" width="1675" height="925" color-interpolation-filters="sRGB"><feImage href="#tex" x="0" y="0" width="2047" height="1067" result="g"/><feComposite in="SourceGraphic" in2="g" operator="arithmetic" k1="0" k2="1" k3="0.130" k4="-0.065" result="v"/><feComponentTransfer in="v"><feFuncR type="table" tableValues="0 0 0 0 0 0 0 0 0 0 0 0 0 0 0 0 0 0 0 0 0 0 0 0 0 0 0 0 0 0 0 0 0.0276 0.0643 0.101 0.138 0.175 0.211 0.248 0.285 0.322 0.358 0.395 0.432 0.469 0.506 0.542 0.579 0.616 0.653 0.689 0.726 0.763 0.8 0.836 0.873 0.91 0.947 0.983 1 1 1 1 1 1 1 1 1 1 1 1 1 1 1 1 1 1 1 1 1 1 1 1 1 1 1 1 1 1 1 1 1 1 1 1 1 1 1 1 1 1"/><feFuncG type="table" tableValues="0 0 0 0 0 0 0 0 0 0 0 0 0 0 0 0 0 0 0 0 0 0 0 0 0 0 0 0 0 0 0 0 0 0 0 0 0 0 0 0 0 0 0 0 0 0 0.00706 0.0306 0.0541 0.0776 0.101 0.125 0.148 0.172 0.195 0.219 0.242 0.266 0.289 0.313 0.336 0.36 0.384 0.407 0.431 0.454 0.478 0.501 0.525 0.548 0.572 0.595 0.619 0.642 0.666 0.689 0.713 0.736 0.76 0.784 0.807 0.831 0.854 0.878 0.901 0.925 0.948 0.972 0.995 1 1 1 1 1 1 1 1 1 1 1 1"/><feFuncB type="table" tableValues="0 0 0 0 0 0 0 0 0 0 0 0.0471 0.0941 0.141 0.188 0.235 0.282 0.329 0.376 0.424 0.471 0.518 0.565 0.612 0.659 0.706 0.753 0.8 0.847 0.894 0.941 0.988 1 1 1 1 1 1 1 1 1 1 1 1 1 1 0.993 0.969 0.946 0.922 0.899 0.875 0.852 0.828 0.805 0.781 0.758 0.734 0.711 0.687 0.664 0.64 0.616 0.593 0.569 0.546 0.522 0.499 0.475 0.452 0.428 0.405 0.381 0.358 0.334 0.311 0.287 0.264 0.24 0.216 0.193 0.169 0.146 0.122 0.0988 0.0753 0.0518 0.0282 0.00471 0.118 0.265 0.412 0.559 0.706 0.853 1 1 1 1 1 1"/></feComponentTransfer><feComposite in2="SourceAlpha" operator="in"/></filter><filter id="fB" filterUnits="userSpaceOnUse" x="102" y="51" width="1675" height="925" color-interpolation-filters="sRGB"><feImage href="#tex" x="0" y="0" width="2047" height="1067" result="g"/><feComposite in="SourceGraphic" in2="g" operator="arithmetic" k1="0" k2="1" k3="0.320" k4="-0.161" result="v"/><feComponentTransfer in="v"><feFuncR type="table" tableValues="0 0 0 0 0 0 0 0 0 0 0 0 0 0 0 0 0 0 0 0 0 0 0 0 0 0 0 0 0 0 0 0 0.0276 0.0643 0.101 0.138 0.175 0.211 0.248 0.285 0.322 0.358 0.395 0.432 0.469 0.506 0.542 0.579 0.616 0.653 0.689 0.726 0.763 0.8 0.836 0.873 0.91 0.947 0.983 1 1 1 1 1 1 1 1 1 1 1 1 1 1 1 1 1 1 1 1 1 1 1 1 1 1 1 1 1 1 1 1 1 1 1 1 1 1 1 1 1 1"/><feFuncG type="table" tableValues="0 0 0 0 0 0 0 0 0 0 0 0 0 0 0 0 0 0 0 0 0 0 0 0 0 0 0 0 0 0 0 0 0 0 0 0 0 0 0 0 0 0 0 0 0 0 0.00706 0.0306 0.0541 0.0776 0.101 0.125 0.148 0.172 0.195 0.219 0.242 0.266 0.289 0.313 0.336 0.36 0.384 0.407 0.431 0.454 0.478 0.501 0.525 0.548 0.572 0.595 0.619 0.642 0.666 0.689 0.713 0.736 0.76 0.784 0.807 0.831 0.854 0.878 0.901 0.925 0.948 0.972 0.995 1 1 1 1 1 1 1 1 1 1 1 1"/><feFuncB type="table" tableValues="0 0 0 0 0 0 0 0 0 0 0 0.0471 0.0941 0.141 0.188 0.235 0.282 0.329 0.376 0.424 0.471 0.518 0.565 0.612 0.659 0.706 0.753 0.8 0.847 0.894 0.941 0.988 1 1 1 1 1 1 1 1 1 1 1 1 1 1 0.993 0.969 0.946 0.922 0.899 0.875 0.852 0.828 0.805 0.781 0.758 0.734 0.711 0.687 0.664 0.64 0.616 0.593 0.569 0.546 0.522 0.499 0.475 0.452 0.428 0.405 0.381 0.358 0.334 0.311 0.287 0.264 0.24 0.216 0.193 0.169 0.146 0.122 0.0988 0.0753 0.0518 0.0282 0.00471 0.118 0.265 0.412 0.559 0.706 0.853 1 1 1 1 1 1"/></feComponentTransfer><feComposite in2="SourceAlpha" operator="in"/></filter><filter id="fC" filterUnits="userSpaceOnUse" x="102" y="51" width="1675" height="925" color-interpolation-filters="sRGB"><feImage href="#tex" x="0" y="0" width="2047" height="1067" result="g"/><feComposite in="SourceGraphic" in2="g" operator="arithmetic" k1="0" k2="1" k3="0.480" k4="-0.241" result="v"/><feComponentTransfer in="v"><feFuncR type="table" tableValues="0 0 0 0 0 0 0 0 0 0 0 0 0 0 0 0 0 0 0 0 0 0 0 0 0 0 0 0 0 0 0 0 0.0276 0.0643 0.101 0.138 0.175 0.211 0.248 0.285 0.322 0.358 0.395 0.432 0.469 0.506 0.542 0.579 0.616 0.653 0.689 0.726 0.763 0.8 0.836 0.873 0.91 0.947 0.983 1 1 1 1 1 1 1 1 1 1 1 1 1 1 1 1 1 1 1 1 1 1 1 1 1 1 1 1 1 1 1 1 1 1 1 1 1 1 1 1 1 1"/><feFuncG type="table" tableValues="0 0 0 0 0 0 0 0 0 0 0 0 0 0 0 0 0 0 0 0 0 0 0 0 0 0 0 0 0 0 0 0 0 0 0 0 0 0 0 0 0 0 0 0 0 0 0.00706 0.0306 0.0541 0.0776 0.101 0.125 0.148 0.172 0.195 0.219 0.242 0.266 0.289 0.313 0.336 0.36 0.384 0.407 0.431 0.454 0.478 0.501 0.525 0.548 0.572 0.595 0.619 0.642 0.666 0.689 0.713 0.736 0.76 0.784 0.807 0.831 0.854 0.878 0.901 0.925 0.948 0.972 0.995 1 1 1 1 1 1 1 1 1 1 1 1"/><feFuncB type="table" tableValues="0 0 0 0 0 0 0 0 0 0 0 0.0471 0.0941 0.141 0.188 0.235 0.282 0.329 0.376 0.424 0.471 0.518 0.565 0.612 0.659 0.706 0.753 0.8 0.847 0.894 0.941 0.988 1 1 1 1 1 1 1 1 1 1 1 1 1 1 0.993 0.969 0.946 0.922 0.899 0.875 0.852 0.828 0.805 0.781 0.758 0.734 0.711 0.687 0.664 0.64 0.616 0.593 0.569 0.546 0.522 0.499 0.475 0.452 0.428 0.405 0.381 0.358 0.334 0.311 0.287 0.264 0.24 0.216 0.193 0.169 0.146 0.122 0.0988 0.0753 0.0518 0.0282 0.00471 0.118 0.265 0.412 0.559 0.706 0.853 1 1 1 1 1 1"/></feComponentTransfer><feComposite in2="SourceAlpha" operator="in"/></filter><filter id="fD" filterUnits="userSpaceOnUse" x="102" y="51" width="1675" height="925" color-interpolation-filters="sRGB"><feImage href="#tex" x="0" y="0" width="2047" height="1067" result="g"/><feComposite in="SourceGraphic" in2="g" operator="arithmetic" k1="0" k2="1" k3="0.250" k4="-0.126" result="v"/><feComponentTransfer in="v"><feFuncR type="table" tableValues="0 0 0 0 0 0 0 0 0 0 0 0 0 0 0 0 0 0 0 0 0 0 0 0 0 0 0 0 0 0 0 0 0.0276 0.0643 0.101 0.138 0.175 0.211 0.248 0.285 0.322 0.358 0.395 0.432 0.469 0.506 0.542 0.579 0.616 0.653 0.689 0.726 0.763 0.8 0.836 0.873 0.91 0.947 0.983 1 1 1 1 1 1 1 1 1 1 1 1 1 1 1 1 1 1 1 1 1 1 1 1 1 1 1 1 1 1 1 1 1 1 1 1 1 1 1 1 1 1"/><feFuncG type="table" tableValues="0 0 0 0 0 0 0 0 0 0 0 0 0 0 0 0 0 0 0 0 0 0 0 0 0 0 0 0 0 0 0 0 0 0 0 0 0 0 0 0 0 0 0 0 0 0 0.00706 0.0306 0.0541 0.0776 0.101 0.125 0.148 0.172 0.195 0.219 0.242 0.266 0.289 0.313 0.336 0.36 0.384 0.407 0.431 0.454 0.478 0.501 0.525 0.548 0.572 0.595 0.619 0.642 0.666 0.689 0.713 0.736 0.76 0.784 0.807 0.831 0.854 0.878 0.901 0.925 0.948 0.972 0.995 1 1 1 1 1 1 1 1 1 1 1 1"/><feFuncB type="table" tableValues="0 0 0 0 0 0 0 0 0 0 0 0.0471 0.0941 0.141 0.188 0.235 0.282 0.329 0.376 0.424 0.471 0.518 0.565 0.612 0.659 0.706 0.753 0.8 0.847 0.894 0.941 0.988 1 1 1 1 1 1 1 1 1 1 1 1 1 1 0.993 0.969 0.946 0.922 0.899 0.875 0.852 0.828 0.805 0.781 0.758 0.734 0.711 0.687 0.664 0.64 0.616 0.593 0.569 0.546 0.522 0.499 0.475 0.452 0.428 0.405 0.381 0.358 0.334 0.311 0.287 0.264 0.24 0.216 0.193 0.169 0.146 0.122 0.0988 0.0753 0.0518 0.0282 0.00471 0.118 0.265 0.412 0.559 0.706 0.853 1 1 1 1 1 1"/></feComponentTransfer><feComposite in2="SourceAlpha" operator="in"/></filter></defs><g id="plot"><rect x="102.4" y="51.0" width="1674.3" height="924.4" fill="#000088"/><g filter="url(#fA)"><g transform="translate(102 51) scale(1 4.865)" shape-rendering="crispEdges"><path fill="#000000" d="M226 161h7v1h-7zM1084 161h11v1h-11zM1357 166h4v1h-4z"/><path fill="#030303" d="M30 161h21v1h-21zM145 161h10v1h-10zM539 161h7v1h-7zM915 161h6v1h-6zM1299 161h9v1h-9zM1457 161h9v1h-9zM1673 161h2v1h-2z"/><path fill="#060606" d="M812 161h5v1h-5zM863 161h6v1h-6zM1105 161h1v1h-1zM1177 161h15v1h-15zM1247 161h17v1h-17zM1277 161h14v1h-14zM1325 161h13v1h-13zM1360 161h36v1h-36zM1408 161h14v1h-14zM1347 170h14v1h-14z"/><path fill="#090909" d="M61 161h23v1h-23zM109 161h36v1h-36zM233 161h10v1h-10zM761 161h4v1h-4zM869 161h1v1h-1zM931 161h18v1h-18zM970 161h20v1h-20zM1016 161h16v1h-16zM1198 161h11v1h-11zM1264 161h13v1h-13zM1422 161h20v1h-20zM1483 161h16v1h-16zM1562 161h18v1h-18zM1624 161h7v1h-7zM1663 161h10v1h-10zM1337 166h20v1h-20zM1337 167h24v1h-24zM1639 167h8v1h-8zM1357 168h4v1h-4zM1631 168h14v1h-14zM1347 169h14v1h-14zM1631 170h14v1h-14zM1505 172h13v1h-13zM1535 172h37v1h-37z"/><path fill="#0c0c0c" d="M0 161h30v1h-30zM51 161h10v1h-10zM180 161h34v1h-34zM314 161h6v1h-6zM367 161h6v1h-6zM418 161h6v1h-6zM638 161h6v1h-6zM921 161h10v1h-10zM964 161h6v1h-6zM990 161h3v1h-3zM1032 161h39v1h-39zM1095 161h10v1h-10zM1127 161h17v1h-17zM1291 161h8v1h-8zM1308 161h17v1h-17zM1396 161h12v1h-12zM1442 161h15v1h-15zM1466 161h17v1h-17zM1505 161h5v1h-5zM1549 161h13v1h-13zM1597 161h27v1h-27zM1654 161h9v1h-9zM1337 164h11v1h-11zM1337 165h9v1h-9zM1357 165h4v1h-4zM1641 166h13v1h-13zM1647 167h7v1h-7zM1645 168h9v1h-9zM1337 169h10v1h-10zM1645 170h9v1h-9zM1494 172h11v1h-11zM1527 172h8v1h-8zM1494 173h14v1h-14zM1537 173h14v1h-14zM1558 173h14v1h-14z"/><path fill="#0f0f0f" d="M214 161h12v1h-12zM567 161h2v1h-2zM949 161h15v1h-15zM1071 161h13v1h-13zM1144 161h20v1h-20zM1192 161h6v1h-6zM1209 161h16v1h-16zM1533 161h16v1h-16zM1580 161h17v1h-17zM1356 163h5v1h-5zM1346 165h11v1h-11zM1631 166h10v1h-10zM1337 168h20v1h-20zM1641 169h13v1h-13zM1518 172h9v1h-9zM1551 173h7v1h-7z"/><path fill="#121212" d="M1164 161h13v1h-13zM1499 161h6v1h-6zM1337 163h19v1h-19zM1348 164h13v1h-13zM1631 167h8v1h-8zM1631 169h10v1h-10zM1337 170h10v1h-10zM1508 173h29v1h-29z"/><path fill="#181818" d="M281 127h2v1h-2zM343 127h3v1h-3zM1205 127h4v1h-4z"/><path fill="#1b1b1b" d="M1315 9h2v1h-2zM0 127h1v1h-1zM24 127h9v1h-9zM51 127h6v1h-6zM300 127h7v1h-7zM375 127h4v1h-4zM392 127h6v1h-6zM477 127h6v1h-6zM840 127h5v1h-5zM871 127h7v1h-7zM950 127h8v1h-8zM1064 127h5v1h-5zM1423 127h3v1h-3zM1439 127h8v1h-8zM1508 127h4v1h-4zM1613 127h9v1h-9z"/><path fill="#1e1e1e" d="M1315 16h2v1h-2zM1315 30h2v1h-2zM1315 35h2v1h-2zM88 127h4v1h-4zM141 127h7v1h-7zM151 127h3v1h-3zM198 127h3v1h-3zM269 127h12v1h-12zM336 127h7v1h-7zM366 127h4v1h-4zM415 127h20v1h-20zM473 127h4v1h-4zM509 127h5v1h-5zM521 127h6v1h-6zM622 127h2v1h-2zM632 127h13v1h-13zM724 127h6v1h-6zM810 127h10v1h-10zM854 127h8v1h-8zM885 127h7v1h-7zM911 127h1v1h-1zM963 127h12v1h-12zM997 127h10v1h-10zM1083 127h8v1h-8zM1110 127h24v1h-24zM1183 127h10v1h-10zM1214 127h6v1h-6zM1247 127h5v1h-5zM1314 127h4v1h-4zM1321 127h6v1h-6zM1335 127h8v1h-8zM1366 127h4v1h-4zM1469 127h7v1h-7zM1496 127h9v1h-9zM1577 127h4v1h-4zM1605 127h3v1h-3z"/><path fill="#212121" d="M1315 3h2v1h-2zM1315 6h2v1h-2zM1315 8h2v1h-2zM1315 10h2v1h-2zM1315 15h2v1h-2zM1315 28h2v1h-2zM1315 37h2v1h-2zM12 127h4v1h-4zM75 127h13v1h-13zM99 127h3v1h-3zM133 127h8v1h-8zM148 127h3v1h-3zM161 127h23v1h-23zM191 127h4v1h-4zM201 127h9v1h-9zM224 127h11v1h-11zM242 127h10v1h-10zM262 127h7v1h-7zM307 127h3v1h-3zM331 127h5v1h-5zM361 127h5v1h-5zM379 127h9v1h-9zM403 127h6v1h-6zM468 127h5v1h-5zM483 127h5v1h-5zM527 127h13v1h-13zM558 127h8v1h-8zM645 127h5v1h-5zM663 127h11v1h-11zM688 127h10v1h-10zM759 127h3v1h-3zM778 127h7v1h-7zM801 127h9v1h-9zM862 127h9v1h-9zM892 127h10v1h-10zM917 127h10v1h-10zM934 127h6v1h-6zM983 127h14v1h-14zM1029 127h9v1h-9zM1058 127h6v1h-6zM1069 127h7v1h-7zM1134 127h5v1h-5zM1227 127h10v1h-10zM1244 127h3v1h-3zM1268 127h5v1h-5zM1296 127h7v1h-7zM1308 127h6v1h-6zM1343 127h3v1h-3zM1362 127h4v1h-4zM1370 127h12v1h-12zM1390 127h15v1h-15zM1452 127h17v1h-17zM1554 127h7v1h-7zM1622 127h10v1h-10zM1643 127h4v1h-4zM1671 127h4v1h-4z"/><path fill="#242424" d="M1315 1h2v1h-2zM1315 4h2v1h-2zM144 6h8v1h-8zM400 6h9v1h-9zM546 6h4v1h-4zM932 6h4v1h-4zM1110 6h5v1h-5zM1657 6h7v1h-7zM1315 7h2v1h-2zM1315 11h2v1h-2zM1315 12h2v1h-2zM1315 14h2v1h-2zM1315 18h2v1h-2zM1315 19h2v1h-2zM1315 22h2v1h-2zM1315 23h2v1h-2zM1315 24h2v1h-2zM1315 33h2v1h-2zM25 83h7v1h-7zM77 83h10v1h-10zM530 83h3v1h-3zM926 83h8v1h-8zM979 83h8v1h-8zM1099 83h5v1h-5zM1219 83h8v1h-8zM1264 83h7v1h-7zM366 126h4v1h-4zM448 126h9v1h-9zM961 126h3v1h-3zM7 127h5v1h-5zM40 127h11v1h-11zM64 127h11v1h-11zM102 127h14v1h-14zM126 127h7v1h-7zM195 127h3v1h-3zM210 127h1v1h-1zM235 127h7v1h-7zM290 127h10v1h-10zM318 127h6v1h-6zM351 127h3v1h-3zM388 127h4v1h-4zM409 127h6v1h-6zM452 127h7v1h-7zM501 127h3v1h-3zM514 127h1v1h-1zM548 127h10v1h-10zM571 127h21v1h-21zM601 127h3v1h-3zM656 127h7v1h-7zM680 127h8v1h-8zM698 127h4v1h-4zM710 127h7v1h-7zM735 127h8v1h-8zM750 127h9v1h-9zM769 127h6v1h-6zM785 127h10v1h-10zM830 127h10v1h-10zM845 127h4v1h-4zM1007 127h6v1h-6zM1020 127h9v1h-9zM1091 127h13v1h-13zM1145 127h19v1h-19zM1171 127h8v1h-8zM1252 127h7v1h-7zM1281 127h15v1h-15zM1346 127h9v1h-9zM1426 127h10v1h-10zM1505 127h3v1h-3zM1519 127h4v1h-4zM1534 127h12v1h-12zM1561 127h16v1h-16zM1589 127h6v1h-6zM1632 127h3v1h-3zM1654 127h17v1h-17z"/><path fill="#272727" d="M1315 2h2v1h-2zM1315 5h2v1h-2zM63 6h9v1h-9zM120 6h6v1h-6zM295 6h5v1h-5zM421 6h8v1h-8zM654 6h8v1h-8zM701 6h10v1h-10zM761 6h6v1h-6zM889 6h8v1h-8zM929 6h3v1h-3zM981 6h9v1h-9zM1115 6h8v1h-8zM1243 6h3v1h-3zM1267 6h10v1h-10zM1421 6h8v1h-8zM1541 6h7v1h-7zM1315 13h2v1h-2zM1315 17h2v1h-2zM1315 20h2v1h-2zM1315 26h2v1h-2zM1315 29h2v1h-2zM1315 32h2v1h-2zM17 83h8v1h-8zM223 83h3v1h-3zM240 83h5v1h-5zM257 83h10v1h-10zM292 83h6v1h-6zM370 83h7v1h-7zM390 83h8v1h-8zM539 83h6v1h-6zM653 83h4v1h-4zM703 83h5v1h-5zM720 83h5v1h-5zM748 83h9v1h-9zM790 83h4v1h-4zM808 83h4v1h-4zM864 83h10v1h-10zM880 83h7v1h-7zM943 83h6v1h-6zM963 83h10v1h-10zM1039 83h5v1h-5zM1119 83h5v1h-5zM1173 83h6v1h-6zM1200 83h5v1h-5zM1289 83h10v1h-10zM89 126h3v1h-3zM147 126h6v1h-6zM472 126h8v1h-8zM614 126h5v1h-5zM685 126h6v1h-6zM1118 126h8v1h-8zM1150 126h4v1h-4zM1409 126h5v1h-5zM16 127h8v1h-8zM116 127h3v1h-3zM218 127h6v1h-6zM259 127h3v1h-3zM324 127h7v1h-7zM354 127h7v1h-7zM441 127h11v1h-11zM496 127h5v1h-5zM504 127h5v1h-5zM604 127h18v1h-18zM717 127h7v1h-7zM743 127h7v1h-7zM775 127h3v1h-3zM826 127h4v1h-4zM878 127h2v1h-2zM902 127h9v1h-9zM927 127h7v1h-7zM958 127h5v1h-5zM1053 127h5v1h-5zM1179 127h4v1h-4zM1209 127h5v1h-5zM1220 127h3v1h-3zM1318 127h3v1h-3zM1405 127h9v1h-9zM1419 127h4v1h-4zM1436 127h3v1h-3zM1476 127h6v1h-6zM1489 127h7v1h-7zM1523 127h11v1h-11zM1647 127h7v1h-7zM233 128h7v1h-7zM464 128h9v1h-9zM968 128h5v1h-5zM1335 128h3v1h-3zM1351 128h4v1h-4zM1399 128h3v1h-3zM1621 128h7v1h-7z"/><path fill="#2a2a2a" d="M1315 0h2v1h-2zM53 5h3v1h-3zM284 5h7v1h-7zM50 6h5v1h-5zM72 6h13v1h-13zM100 6h4v1h-4zM111 6h9v1h-9zM141 6h3v1h-3zM171 6h5v1h-5zM183 6h10v1h-10zM240 6h37v1h-37zM347 6h10v1h-10zM380 6h12v1h-12zM415 6h6v1h-6zM451 6h8v1h-8zM471 6h10v1h-10zM504 6h4v1h-4zM585 6h14v1h-14zM634 6h10v1h-10zM722 6h9v1h-9zM773 6h12v1h-12zM836 6h3v1h-3zM842 6h8v1h-8zM897 6h7v1h-7zM921 6h4v1h-4zM1005 6h9v1h-9zM1026 6h6v1h-6zM1076 6h10v1h-10zM1097 6h10v1h-10zM1148 6h7v1h-7zM1193 6h3v1h-3zM1199 6h10v1h-10zM1277 6h9v1h-9zM1293 6h18v1h-18zM1324 6h4v1h-4zM1371 6h11v1h-11zM1435 6h9v1h-9zM1511 6h4v1h-4zM1518 6h9v1h-9zM1571 6h7v1h-7zM1637 6h4v1h-4zM1315 21h2v1h-2zM1315 31h2v1h-2zM1315 38h2v1h-2zM7 83h10v1h-10zM38 83h12v1h-12zM55 83h6v1h-6zM64 83h4v1h-4zM93 83h4v1h-4zM116 83h3v1h-3zM245 83h8v1h-8zM267 83h15v1h-15zM308 83h6v1h-6zM345 83h4v1h-4zM357 83h8v1h-8zM377 83h3v1h-3zM405 83h14v1h-14zM426 83h8v1h-8zM441 83h12v1h-12zM461 83h10v1h-10zM557 83h7v1h-7zM584 83h10v1h-10zM617 83h9v1h-9zM629 83h6v1h-6zM649 83h4v1h-4zM669 83h9v1h-9zM697 83h6v1h-6zM741 83h7v1h-7zM760 83h12v1h-12zM794 83h10v1h-10zM823 83h4v1h-4zM835 83h9v1h-9zM874 83h6v1h-6zM906 83h10v1h-10zM949 83h7v1h-7zM973 83h6v1h-6zM1001 83h4v1h-4zM1044 83h4v1h-4zM1065 83h9v1h-9zM1089 83h10v1h-10zM1184 83h6v1h-6zM1210 83h6v1h-6zM1232 83h3v1h-3zM1246 83h10v1h-10zM1275 83h9v1h-9zM1299 83h3v1h-3zM1327 83h11v1h-11zM1341 83h8v1h-8zM1402 83h4v1h-4zM1423 83h11v1h-11zM1452 83h8v1h-8zM1471 83h7v1h-7zM1500 83h4v1h-4zM1527 83h5v1h-5zM86 126h3v1h-3zM176 126h8v1h-8zM218 126h3v1h-3zM232 126h5v1h-5zM290 126h9v1h-9zM502 126h5v1h-5zM579 126h5v1h-5zM597 126h4v1h-4zM854 126h14v1h-14zM908 126h4v1h-4zM921 126h7v1h-7zM1020 126h6v1h-6zM1053 126h10v1h-10zM1159 126h5v1h-5zM1216 126h6v1h-6zM1232 126h3v1h-3zM1244 126h10v1h-10zM1326 126h1v1h-1zM1335 126h5v1h-5zM1393 126h8v1h-8zM1534 126h3v1h-3zM1574 126h7v1h-7zM1613 126h4v1h-4zM1670 126h5v1h-5zM464 127h4v1h-4zM597 127h4v1h-4zM940 127h4v1h-4zM1038 127h7v1h-7zM1193 127h4v1h-4zM1223 127h4v1h-4zM1259 127h9v1h-9zM1595 127h10v1h-10zM87 128h3v1h-3zM259 128h7v1h-7zM269 128h14v1h-14zM298 128h4v1h-4zM368 128h2v1h-2zM418 128h7v1h-7zM441 128h10v1h-10zM538 128h2v1h-2zM586 128h6v1h-6zM689 128h5v1h-5zM697 128h5v1h-5zM837 128h3v1h-3zM862 128h7v1h-7zM917 128h8v1h-8zM1135 128h4v1h-4zM1156 128h8v1h-8zM1182 128h4v1h-4zM1223 128h3v1h-3zM1233 128h4v1h-4zM1281 128h7v1h-7zM1316 128h10v1h-10zM1497 128h6v1h-6zM1529 128h6v1h-6zM1570 128h4v1h-4zM1648 128h4v1h-4zM1666 128h9v1h-9z"/><path fill="#2d2d2d" d="M86 5h6v1h-6zM182 5h5v1h-5zM233 5h9v1h-9zM389 5h3v1h-3zM652 5h16v1h-16zM690 5h5v1h-5zM884 5h5v1h-5zM1044 5h9v1h-9zM1418 5h8v1h-8zM0 6h8v1h-8zM24 6h10v1h-10zM43 6h7v1h-7zM55 6h8v1h-8zM104 6h7v1h-7zM138 6h3v1h-3zM152 6h9v1h-9zM168 6h3v1h-3zM176 6h7v1h-7zM222 6h8v1h-8zM289 6h6v1h-6zM300 6h9v1h-9zM333 6h8v1h-8zM367 6h13v1h-13zM412 6h3v1h-3zM441 6h10v1h-10zM468 6h3v1h-3zM485 6h7v1h-7zM495 6h9v1h-9zM511 6h9v1h-9zM526 6h20v1h-20zM606 6h11v1h-11zM680 6h12v1h-12zM757 6h4v1h-4zM767 6h6v1h-6zM820 6h7v1h-7zM879 6h10v1h-10zM904 6h17v1h-17zM925 6h4v1h-4zM944 6h29v1h-29zM1014 6h12v1h-12zM1043 6h13v1h-13zM1067 6h9v1h-9zM1107 6h3v1h-3zM1123 6h9v1h-9zM1160 6h10v1h-10zM1196 6h3v1h-3zM1209 6h12v1h-12zM1239 6h4v1h-4zM1257 6h10v1h-10zM1311 6h4v1h-4zM1317 6h2v1h-2zM1328 6h5v1h-5zM1336 6h19v1h-19zM1388 6h16v1h-16zM1461 6h13v1h-13zM1515 6h3v1h-3zM1527 6h5v1h-5zM1537 6h4v1h-4zM1595 6h12v1h-12zM1611 6h4v1h-4zM35 83h3v1h-3zM50 83h5v1h-5zM61 83h3v1h-3zM68 83h9v1h-9zM87 83h6v1h-6zM105 83h6v1h-6zM215 83h8v1h-8zM226 83h3v1h-3zM237 83h3v1h-3zM253 83h4v1h-4zM282 83h7v1h-7zM298 83h10v1h-10zM330 83h5v1h-5zM385 83h5v1h-5zM419 83h7v1h-7zM434 83h7v1h-7zM453 83h8v1h-8zM489 83h6v1h-6zM499 83h9v1h-9zM545 83h9v1h-9zM564 83h15v1h-15zM611 83h6v1h-6zM641 83h8v1h-8zM666 83h3v1h-3zM678 83h19v1h-19zM716 83h4v1h-4zM772 83h5v1h-5zM784 83h6v1h-6zM804 83h4v1h-4zM815 83h8v1h-8zM844 83h5v1h-5zM855 83h9v1h-9zM893 83h13v1h-13zM987 83h14v1h-14zM1012 83h20v1h-20zM1048 83h17v1h-17zM1104 83h8v1h-8zM1124 83h4v1h-4zM1148 83h10v1h-10zM1190 83h10v1h-10zM1256 83h8v1h-8zM1324 83h3v1h-3zM1338 83h3v1h-3zM1349 83h9v1h-9zM1366 83h4v1h-4zM1388 83h14v1h-14zM1444 83h8v1h-8zM1466 83h5v1h-5zM1495 83h5v1h-5zM1518 83h9v1h-9zM0 126h1v1h-1zM7 126h20v1h-20zM64 126h4v1h-4zM82 126h4v1h-4zM99 126h8v1h-8zM111 126h5v1h-5zM191 126h9v1h-9zM237 126h4v1h-4zM245 126h6v1h-6zM326 126h5v1h-5zM341 126h5v1h-5zM351 126h5v1h-5zM390 126h8v1h-8zM407 126h24v1h-24zM601 126h6v1h-6zM648 126h2v1h-2zM656 126h9v1h-9zM745 126h4v1h-4zM757 126h5v1h-5zM790 126h4v1h-4zM801 126h4v1h-4zM815 126h5v1h-5zM832 126h6v1h-6zM844 126h5v1h-5zM874 126h4v1h-4zM885 126h4v1h-4zM937 126h7v1h-7zM954 126h7v1h-7zM964 126h11v1h-11zM997 126h7v1h-7zM1010 126h3v1h-3zM1154 126h5v1h-5zM1189 126h8v1h-8zM1209 126h7v1h-7zM1222 126h10v1h-10zM1235 126h2v1h-2zM1257 126h6v1h-6zM1318 126h8v1h-8zM1340 126h13v1h-13zM1390 126h3v1h-3zM1427 126h20v1h-20zM1462 126h4v1h-4zM1519 126h8v1h-8zM1617 126h7v1h-7zM1631 126h4v1h-4zM1660 126h10v1h-10zM0 128h1v1h-1zM11 128h22v1h-22zM40 128h8v1h-8zM54 128h3v1h-3zM77 128h10v1h-10zM107 128h12v1h-12zM176 128h8v1h-8zM197 128h5v1h-5zM207 128h4v1h-4zM218 128h15v1h-15zM240 128h11v1h-11zM302 128h8v1h-8zM336 128h10v1h-10zM392 128h6v1h-6zM412 128h6v1h-6zM477 128h6v1h-6zM504 128h10v1h-10zM562 128h4v1h-4zM597 128h5v1h-5zM641 128h9v1h-9zM714 128h9v1h-9zM735 128h18v1h-18zM807 128h5v1h-5zM899 128h10v1h-10zM990 128h9v1h-9zM1110 128h3v1h-3zM1116 128h9v1h-9zM1226 128h7v1h-7zM1244 128h7v1h-7zM1296 128h6v1h-6zM1362 128h12v1h-12zM1413 128h1v1h-1zM1439 128h8v1h-8zM1463 128h4v1h-4zM1503 128h5v1h-5zM1535 128h11v1h-11zM1554 128h4v1h-4zM1564 128h6v1h-6zM1577 128h4v1h-4zM1605 128h3v1h-3zM1613 128h5v1h-5z"/><path fill="#303030" d="M251 5h5v1h-5zM309 5h16v1h-16zM444 5h10v1h-10zM494 5h3v1h-3zM635 5h7v1h-7zM805 5h7v1h-7zM903 5h10v1h-10zM1111 5h4v1h-4zM1219 5h8v1h-8zM1247 5h3v1h-3zM1259 5h13v1h-13zM85 6h7v1h-7zM126 6h12v1h-12zM193 6h22v1h-22zM230 6h10v1h-10zM277 6h12v1h-12zM309 6h24v1h-24zM357 6h10v1h-10zM392 6h8v1h-8zM429 6h4v1h-4zM459 6h9v1h-9zM492 6h3v1h-3zM508 6h3v1h-3zM520 6h6v1h-6zM550 6h5v1h-5zM565 6h5v1h-5zM579 6h6v1h-6zM599 6h7v1h-7zM644 6h10v1h-10zM674 6h6v1h-6zM711 6h4v1h-4zM740 6h17v1h-17zM803 6h3v1h-3zM833 6h3v1h-3zM872 6h7v1h-7zM936 6h8v1h-8zM973 6h8v1h-8zM990 6h15v1h-15zM1032 6h11v1h-11zM1086 6h6v1h-6zM1132 6h16v1h-16zM1155 6h5v1h-5zM1177 6h16v1h-16zM1231 6h8v1h-8zM1246 6h8v1h-8zM1286 6h7v1h-7zM1333 6h3v1h-3zM1382 6h6v1h-6zM1411 6h10v1h-10zM1444 6h6v1h-6zM1454 6h7v1h-7zM1474 6h4v1h-4zM1491 6h10v1h-10zM1553 6h9v1h-9zM1578 6h9v1h-9zM1607 6h4v1h-4zM1641 6h16v1h-16zM1664 6h11v1h-11zM89 7h83v1h-83zM831 7h81v1h-81zM908 10h70v1h-70zM167 11h44v1h-44zM1559 12h54v1h-54zM1269 13h46v1h-46zM1357 13h123v1h-123zM1450 14h105v1h-105zM98 15h103v1h-103zM175 16h43v1h-43zM528 17h101v1h-101zM134 18h53v1h-53zM962 19h33v1h-33zM775 20h110v1h-110zM0 21h48v1h-48zM680 21h105v1h-105zM904 21h36v1h-36zM916 22h77v1h-77zM58 23h93v1h-93zM370 24h228v1h-228zM771 24h134v1h-134zM1277 26h38v1h-38zM420 27h110v1h-110zM1160 27h78v1h-78zM1377 27h125v1h-125zM1639 28h36v1h-36zM620 29h51v1h-51zM94 30h259v1h-259zM502 30h87v1h-87zM986 30h108v1h-108zM1436 31h128v1h-128zM680 32h194v1h-194zM608 36h81v1h-81zM45 37h31v1h-31zM771 38h40v1h-40zM1317 38h117v1h-117zM1171 39h129v1h-129zM926 40h81v1h-81zM130 41h51v1h-51zM842 41h114v1h-114zM1156 41h139v1h-139zM60 42h104v1h-104zM1041 42h93v1h-93zM0 43h82v1h-82zM886 43h96v1h-96zM1338 43h17v1h-17zM420 44h32v1h-32zM1356 44h42v1h-42zM518 45h66v1h-66zM267 46h48v1h-48zM576 47h6v1h-6zM356 48h116v1h-116zM1452 48h90v1h-90zM129 49h118v1h-118zM506 49h76v1h-76zM663 49h90v1h-90zM955 49h74v1h-74zM1061 50h211v1h-211zM220 51h101v1h-101zM711 51h171v1h-171zM924 51h37v1h-37zM63 52h39v1h-39zM1291 52h171v1h-171zM0 53h124v1h-124zM400 54h118v1h-118zM166 55h111v1h-111zM659 55h110v1h-110zM878 55h33v1h-33zM1056 55h81v1h-81zM513 58h77v1h-77zM1292 58h141v1h-141zM1137 59h136v1h-136zM56 60h54v1h-54zM742 60h46v1h-46zM583 61h109v1h-109zM1030 61h115v1h-115zM1415 61h42v1h-42zM106 62h82v1h-82zM955 62h73v1h-73zM574 63h59v1h-59zM858 64h43v1h-43zM0 65h115v1h-115zM1312 65h118v1h-118zM694 66h97v1h-97zM835 66h71v1h-71zM1460 67h62v1h-62zM791 68h112v1h-112zM1319 68h124v1h-124zM364 69h92v1h-92zM1160 69h89v1h-89zM339 72h75v1h-75zM1195 73h97v1h-97zM1320 74h51v1h-51zM76 75h108v1h-108zM801 76h62v1h-62zM620 77h53v1h-53zM1097 78h119v1h-119zM566 79h45v1h-45zM832 80h63v1h-63zM1158 80h83v1h-83zM1606 80h69v1h-69zM325 81h99v1h-99zM1404 81h157v1h-157zM675 82h71v1h-71zM0 83h7v1h-7zM111 83h5v1h-5zM289 83h3v1h-3zM314 83h16v1h-16zM335 83h10v1h-10zM349 83h8v1h-8zM398 83h7v1h-7zM480 83h9v1h-9zM495 83h4v1h-4zM508 83h8v1h-8zM533 83h6v1h-6zM554 83h3v1h-3zM579 83h5v1h-5zM603 83h8v1h-8zM626 83h3v1h-3zM657 83h9v1h-9zM708 83h8v1h-8zM734 83h7v1h-7zM757 83h3v1h-3zM812 83h3v1h-3zM827 83h8v1h-8zM849 83h6v1h-6zM887 83h6v1h-6zM916 83h10v1h-10zM934 83h9v1h-9zM1005 83h7v1h-7zM1032 83h7v1h-7zM1074 83h9v1h-9zM1158 83h15v1h-15zM1179 83h5v1h-5zM1205 83h5v1h-5zM1235 83h11v1h-11zM1284 83h5v1h-5zM1319 83h5v1h-5zM1358 83h8v1h-8zM1380 83h3v1h-3zM1406 83h17v1h-17zM1434 83h10v1h-10zM1478 83h17v1h-17zM1504 83h14v1h-14zM312 85h113v1h-113zM0 86h123v1h-123zM420 86h91v1h-91zM1336 86h87v1h-87zM1644 86h31v1h-31zM1089 87h98v1h-98zM0 88h80v1h-80zM351 88h154v1h-154zM1600 90h36v1h-36zM0 91h69v1h-69zM538 94h38v1h-38zM1484 94h61v1h-61zM583 96h132v1h-132zM799 97h75v1h-75zM1230 97h47v1h-47zM316 100h34v1h-34zM0 101h62v1h-62zM840 102h57v1h-57zM253 103h88v1h-88zM1096 103h94v1h-94zM212 104h36v1h-36zM748 104h86v1h-86zM49 105h102v1h-102zM468 105h106v1h-106zM337 107h126v1h-126zM1092 108h88v1h-88zM0 109h58v1h-58zM1458 109h101v1h-101zM874 110h125v1h-125zM1182 110h91v1h-91zM0 111h78v1h-78zM540 112h48v1h-48zM1601 112h74v1h-74zM744 113h95v1h-95zM715 114h35v1h-35zM1583 114h92v1h-92zM485 115h72v1h-72zM504 116h67v1h-67zM851 116h133v1h-133zM1205 117h104v1h-104zM819 118h80v1h-80zM1448 118h77v1h-77zM27 126h6v1h-6zM47 126h10v1h-10zM68 126h14v1h-14zM107 126h4v1h-4zM138 126h9v1h-9zM153 126h1v1h-1zM167 126h9v1h-9zM200 126h8v1h-8zM224 126h8v1h-8zM241 126h4v1h-4zM272 126h8v1h-8zM299 126h3v1h-3zM338 126h3v1h-3zM384 126h6v1h-6zM403 126h4v1h-4zM441 126h7v1h-7zM480 126h8v1h-8zM496 126h6v1h-6zM507 126h8v1h-8zM528 126h10v1h-10zM548 126h18v1h-18zM607 126h7v1h-7zM619 126h5v1h-5zM632 126h11v1h-11zM673 126h1v1h-1zM691 126h8v1h-8zM718 126h12v1h-12zM769 126h12v1h-12zM805 126h4v1h-4zM826 126h6v1h-6zM889 126h14v1h-14zM950 126h4v1h-4zM983 126h4v1h-4zM1004 126h6v1h-6zM1026 126h13v1h-13zM1063 126h10v1h-10zM1083 126h4v1h-4zM1126 126h4v1h-4zM1137 126h2v1h-2zM1180 126h9v1h-9zM1263 126h6v1h-6zM1281 126h9v1h-9zM1296 126h5v1h-5zM1353 126h2v1h-2zM1362 126h20v1h-20zM1466 126h4v1h-4zM1479 126h3v1h-3zM1496 126h9v1h-9zM1527 126h7v1h-7zM1545 126h1v1h-1zM1606 126h2v1h-2zM1643 126h3v1h-3zM48 128h6v1h-6zM73 128h4v1h-4zM90 128h2v1h-2zM99 128h8v1h-8zM143 128h11v1h-11zM161 128h5v1h-5zM191 128h6v1h-6zM251 128h1v1h-1zM266 128h3v1h-3zM323 128h13v1h-13zM403 128h9v1h-9zM451 128h8v1h-8zM473 128h4v1h-4zM496 128h8v1h-8zM514 128h1v1h-1zM521 128h8v1h-8zM548 128h14v1h-14zM602 128h8v1h-8zM614 128h7v1h-7zM662 128h12v1h-12zM680 128h9v1h-9zM710 128h4v1h-4zM791 128h4v1h-4zM801 128h6v1h-6zM826 128h6v1h-6zM840 128h4v1h-4zM848 128h1v1h-1zM857 128h5v1h-5zM869 128h11v1h-11zM909 128h3v1h-3zM932 128h12v1h-12zM950 128h18v1h-18zM973 128h2v1h-2zM999 128h8v1h-8zM1020 128h9v1h-9zM1037 128h8v1h-8zM1053 128h6v1h-6zM1068 128h8v1h-8zM1083 128h8v1h-8zM1145 128h11v1h-11zM1205 128h3v1h-3zM1218 128h5v1h-5zM1264 128h9v1h-9zM1288 128h8v1h-8zM1326 128h1v1h-1zM1338 128h13v1h-13zM1390 128h9v1h-9zM1406 128h7v1h-7zM1419 128h3v1h-3zM1431 128h8v1h-8zM1452 128h7v1h-7zM1472 128h10v1h-10zM1489 128h8v1h-8zM1508 128h4v1h-4zM1519 128h10v1h-10zM1558 128h6v1h-6zM1574 128h3v1h-3zM1595 128h10v1h-10zM1628 128h7v1h-7zM1662 128h4v1h-4zM366 133h39v1h-39z"/><path fill="#333333" d="M1384 4h58v1h-58zM0 5h10v1h-10zM18 5h7v1h-7zM41 5h9v1h-9zM81 5h5v1h-5zM144 5h14v1h-14zM168 5h4v1h-4zM201 5h15v1h-15zM226 5h7v1h-7zM242 5h9v1h-9zM291 5h8v1h-8zM325 5h9v1h-9zM344 5h6v1h-6zM364 5h6v1h-6zM411 5h6v1h-6zM421 5h14v1h-14zM464 5h17v1h-17zM517 5h17v1h-17zM549 5h6v1h-6zM564 5h3v1h-3zM589 5h15v1h-15zM623 5h12v1h-12zM642 5h10v1h-10zM676 5h5v1h-5zM684 5h6v1h-6zM728 5h9v1h-9zM759 5h7v1h-7zM772 5h8v1h-8zM834 5h22v1h-22zM879 5h5v1h-5zM889 5h8v1h-8zM923 5h8v1h-8zM942 5h8v1h-8zM976 5h9v1h-9zM1002 5h8v1h-8zM1018 5h6v1h-6zM1072 5h3v1h-3zM1095 5h3v1h-3zM1106 5h5v1h-5zM1115 5h19v1h-19zM1183 5h6v1h-6zM1250 5h9v1h-9zM1272 5h9v1h-9zM1287 5h7v1h-7zM1306 5h9v1h-9zM1320 5h10v1h-10zM1382 5h4v1h-4zM1391 5h14v1h-14zM1415 5h3v1h-3zM1436 5h7v1h-7zM1457 5h16v1h-16zM1481 5h3v1h-3zM1498 5h3v1h-3zM1516 5h10v1h-10zM1529 5h10v1h-10zM1584 5h10v1h-10zM1629 5h5v1h-5zM1648 5h9v1h-9zM8 6h16v1h-16zM34 6h9v1h-9zM92 6h8v1h-8zM215 6h7v1h-7zM409 6h3v1h-3zM433 6h8v1h-8zM481 6h4v1h-4zM555 6h10v1h-10zM617 6h17v1h-17zM662 6h12v1h-12zM692 6h9v1h-9zM715 6h7v1h-7zM731 6h9v1h-9zM785 6h8v1h-8zM800 6h3v1h-3zM806 6h14v1h-14zM839 6h3v1h-3zM850 6h22v1h-22zM1056 6h7v1h-7zM1092 6h5v1h-5zM1170 6h7v1h-7zM1221 6h10v1h-10zM1254 6h3v1h-3zM1319 6h5v1h-5zM1355 6h9v1h-9zM1404 6h7v1h-7zM1450 6h4v1h-4zM1488 6h3v1h-3zM1501 6h10v1h-10zM1532 6h5v1h-5zM1548 6h5v1h-5zM1587 6h8v1h-8zM1621 6h16v1h-16zM0 7h89v1h-89zM172 7h659v1h-659zM912 7h133v1h-133zM1127 7h188v1h-188zM1317 7h218v1h-218zM1577 7h98v1h-98zM0 8h1315v1h-1315zM1374 8h301v1h-301zM0 9h1315v1h-1315zM1317 9h192v1h-192zM1544 9h131v1h-131zM0 10h908v1h-908zM978 10h337v1h-337zM1317 10h358v1h-358zM0 11h128v1h-128zM211 11h420v1h-420zM686 11h628v1h-628zM1317 11h224v1h-224zM1644 11h31v1h-31zM0 12h1315v1h-1315zM1317 12h242v1h-242zM1613 12h62v1h-62zM0 13h1269v1h-1269zM1317 13h40v1h-40zM1480 13h195v1h-195zM0 14h130v1h-130zM231 14h229v1h-229zM558 14h757v1h-757zM1317 14h133v1h-133zM1555 14h120v1h-120zM0 15h98v1h-98zM201 15h908v1h-908zM1193 15h99v1h-99zM1317 15h358v1h-358zM0 16h175v1h-175zM218 16h795v1h-795zM1148 16h167v1h-167zM1317 16h358v1h-358zM0 17h528v1h-528zM629 17h353v1h-353zM1050 17h265v1h-265zM1317 17h358v1h-358zM0 18h134v1h-134zM187 18h1128v1h-1128zM1317 18h358v1h-358zM0 19h962v1h-962zM995 19h272v1h-272zM1317 19h358v1h-358zM0 20h775v1h-775zM885 20h430v1h-430zM1317 20h358v1h-358zM48 21h632v1h-632zM785 21h119v1h-119zM940 21h375v1h-375zM1317 21h358v1h-358zM0 22h290v1h-290zM366 22h550v1h-550zM993 22h284v1h-284zM1317 22h358v1h-358zM0 23h58v1h-58zM151 23h181v1h-181zM372 23h943v1h-943zM1317 23h358v1h-358zM0 24h108v1h-108zM238 24h132v1h-132zM598 24h173v1h-173zM905 24h205v1h-205zM1166 24h149v1h-149zM1317 24h358v1h-358zM0 25h108v1h-108zM238 25h686v1h-686zM1050 25h37v1h-37zM1122 25h193v1h-193zM1318 25h357v1h-357zM0 26h648v1h-648zM748 26h295v1h-295zM1102 26h175v1h-175zM1317 26h327v1h-327zM0 27h371v1h-371zM530 27h630v1h-630zM1238 27h68v1h-68zM1318 27h59v1h-59zM1502 27h173v1h-173zM0 28h271v1h-271zM410 28h464v1h-464zM981 28h334v1h-334zM1317 28h322v1h-322zM0 29h296v1h-296zM343 29h277v1h-277zM671 29h644v1h-644zM1317 29h358v1h-358zM0 30h94v1h-94zM353 30h149v1h-149zM589 30h397v1h-397zM1094 30h221v1h-221zM1378 30h297v1h-297zM0 31h250v1h-250zM297 31h1018v1h-1018zM1317 31h119v1h-119zM1564 31h111v1h-111zM108 32h572v1h-572zM874 32h441v1h-441zM1317 32h358v1h-358zM0 33h1315v1h-1315zM1317 33h358v1h-358zM0 34h278v1h-278zM310 34h463v1h-463zM808 34h507v1h-507zM1318 34h357v1h-357zM0 35h449v1h-449zM509 35h806v1h-806zM1317 35h266v1h-266zM0 36h608v1h-608zM689 36h626v1h-626zM1318 36h357v1h-357zM0 37h45v1h-45zM76 37h1239v1h-1239zM1317 37h358v1h-358zM0 38h650v1h-650zM811 38h504v1h-504zM1434 38h241v1h-241zM0 39h1171v1h-1171zM1300 39h375v1h-375zM0 40h323v1h-323zM394 40h532v1h-532zM1007 40h668v1h-668zM0 41h130v1h-130zM181 41h661v1h-661zM956 41h200v1h-200zM1361 41h314v1h-314zM0 42h60v1h-60zM164 42h877v1h-877zM1134 42h541v1h-541zM82 43h804v1h-804zM982 43h153v1h-153zM1236 43h102v1h-102zM1356 43h319v1h-319zM0 44h420v1h-420zM452 44h620v1h-620zM1120 44h235v1h-235zM1398 44h197v1h-197zM0 45h518v1h-518zM584 45h209v1h-209zM923 45h84v1h-84zM1060 45h295v1h-295zM1356 45h242v1h-242zM97 46h170v1h-170zM315 46h1040v1h-1040zM1356 46h319v1h-319zM0 47h245v1h-245zM300 47h276v1h-276zM583 47h170v1h-170zM754 47h601v1h-601zM1356 47h317v1h-317zM99 48h48v1h-48zM227 48h129v1h-129zM472 48h110v1h-110zM583 48h170v1h-170zM754 48h698v1h-698zM1542 48h133v1h-133zM0 49h129v1h-129zM247 49h259v1h-259zM583 49h80v1h-80zM754 49h201v1h-201zM1029 49h646v1h-646zM0 50h160v1h-160zM220 50h841v1h-841zM1272 50h403v1h-403zM0 51h160v1h-160zM400 51h311v1h-311zM882 51h42v1h-42zM961 51h714v1h-714zM102 52h1189v1h-1189zM1462 52h213v1h-213zM124 53h771v1h-771zM930 53h745v1h-745zM100 54h300v1h-300zM518 54h519v1h-519zM1165 54h510v1h-510zM0 55h166v1h-166zM277 55h382v1h-382zM769 55h109v1h-109zM911 55h145v1h-145zM1137 55h538v1h-538zM0 56h869v1h-869zM962 56h242v1h-242zM1308 56h367v1h-367zM0 57h694v1h-694zM767 57h908v1h-908zM0 58h513v1h-513zM590 58h76v1h-76zM760 58h532v1h-532zM1433 58h242v1h-242zM0 59h505v1h-505zM506 59h631v1h-631zM1370 59h305v1h-305zM0 60h56v1h-56zM110 60h395v1h-395zM537 60h205v1h-205zM788 60h450v1h-450zM1239 60h413v1h-413zM0 61h505v1h-505zM506 61h77v1h-77zM692 61h338v1h-338zM1145 61h93v1h-93zM1239 61h176v1h-176zM1457 61h218v1h-218zM0 62h106v1h-106zM188 62h122v1h-122zM434 62h521v1h-521zM1067 62h171v1h-171zM1239 62h436v1h-436zM0 63h277v1h-277zM332 63h36v1h-36zM443 63h131v1h-131zM633 63h1042v1h-1042zM0 64h634v1h-634zM739 64h119v1h-119zM959 64h716v1h-716zM115 65h1197v1h-1197zM1430 65h223v1h-223zM0 66h694v1h-694zM791 66h44v1h-44zM906 66h769v1h-769zM0 67h1460v1h-1460zM1566 67h109v1h-109zM0 68h714v1h-714zM903 68h416v1h-416zM1443 68h232v1h-232zM0 69h64v1h-64zM161 69h203v1h-203zM456 69h407v1h-407zM907 69h170v1h-170zM1249 69h426v1h-426zM0 70h505v1h-505zM506 70h357v1h-357zM864 70h811v1h-811zM0 71h123v1h-123zM253 71h252v1h-252zM506 71h357v1h-357zM864 71h99v1h-99zM1128 71h547v1h-547zM0 72h339v1h-339zM414 72h91v1h-91zM506 72h1169v1h-1169zM0 73h248v1h-248zM364 73h831v1h-831zM1292 73h383v1h-383zM0 74h1320v1h-1320zM1371 74h304v1h-304zM0 75h76v1h-76zM184 75h679v1h-679zM864 75h811v1h-811zM0 76h272v1h-272zM404 76h128v1h-128zM572 76h169v1h-169zM864 76h811v1h-811zM0 77h505v1h-505zM506 77h114v1h-114zM673 77h190v1h-190zM864 77h763v1h-763zM0 78h505v1h-505zM506 78h357v1h-357zM864 78h233v1h-233zM1216 78h459v1h-459zM0 79h505v1h-505zM506 79h60v1h-60zM611 79h1064v1h-1064zM0 80h832v1h-832zM895 80h263v1h-263zM1241 80h35v1h-35zM1311 80h295v1h-295zM0 81h325v1h-325zM424 81h105v1h-105zM598 81h806v1h-806zM1561 81h114v1h-114zM99 82h576v1h-576zM746 82h792v1h-792zM32 83h3v1h-3zM97 83h8v1h-8zM229 83h8v1h-8zM365 83h5v1h-5zM380 83h5v1h-5zM471 83h9v1h-9zM516 83h14v1h-14zM635 83h6v1h-6zM725 83h9v1h-9zM777 83h7v1h-7zM1083 83h6v1h-6zM1112 83h7v1h-7zM1216 83h3v1h-3zM1227 83h5v1h-5zM1271 83h4v1h-4zM1302 83h7v1h-7zM1370 83h10v1h-10zM1383 83h5v1h-5zM1532 83h6v1h-6zM0 84h1675v1h-1675zM0 85h312v1h-312zM425 85h422v1h-422zM946 85h508v1h-508zM1559 85h66v1h-66zM123 86h297v1h-297zM511 86h825v1h-825zM1423 86h43v1h-43zM1497 86h147v1h-147zM0 87h800v1h-800zM891 87h198v1h-198zM1187 87h488v1h-488zM80 88h271v1h-271zM506 88h1169v1h-1169zM0 89h505v1h-505zM506 89h389v1h-389zM929 89h746v1h-746zM0 90h105v1h-105zM151 90h354v1h-354zM506 90h1094v1h-1094zM1636 90h39v1h-39zM69 91h1606v1h-1606zM0 92h723v1h-723zM819 92h856v1h-856zM0 93h1675v1h-1675zM0 94h36v1h-36zM93 94h265v1h-265zM413 94h125v1h-125zM576 94h908v1h-908zM1545 94h130v1h-130zM0 95h406v1h-406zM485 95h747v1h-747zM1324 95h339v1h-339zM0 96h583v1h-583zM715 96h192v1h-192zM1040 96h635v1h-635zM0 97h505v1h-505zM506 97h293v1h-293zM874 97h280v1h-280zM1277 97h398v1h-398zM0 98h505v1h-505zM506 98h176v1h-176zM877 98h798v1h-798zM0 99h415v1h-415zM491 99h14v1h-14zM506 99h1169v1h-1169zM0 100h316v1h-316zM350 100h155v1h-155zM506 100h1169v1h-1169zM62 101h953v1h-953zM1127 101h169v1h-169zM1375 101h300v1h-300zM0 102h840v1h-840zM897 102h778v1h-778zM0 103h253v1h-253zM341 103h755v1h-755zM1190 103h485v1h-485zM0 104h212v1h-212zM248 104h500v1h-500zM834 104h841v1h-841zM0 105h49v1h-49zM268 105h200v1h-200zM574 105h405v1h-405zM1027 105h648v1h-648zM0 106h748v1h-748zM855 106h248v1h-248zM1158 106h517v1h-517zM0 107h337v1h-337zM463 107h626v1h-626zM1189 107h486v1h-486zM0 108h111v1h-111zM180 108h912v1h-912zM1180 108h332v1h-332zM1542 108h133v1h-133zM58 109h205v1h-205zM326 109h1132v1h-1132zM1559 109h116v1h-116zM0 110h874v1h-874zM1000 110h182v1h-182zM1273 110h402v1h-402zM78 111h921v1h-921zM1000 111h675v1h-675zM0 112h540v1h-540zM649 112h350v1h-350zM1000 112h412v1h-412zM1452 112h149v1h-149zM71 113h673v1h-673zM839 113h836v1h-836zM0 114h715v1h-715zM750 114h71v1h-71zM907 114h676v1h-676zM0 115h485v1h-485zM557 115h581v1h-581zM1268 115h407v1h-407zM0 116h452v1h-452zM571 116h280v1h-280zM984 116h209v1h-209zM1323 116h352v1h-352zM0 117h779v1h-779zM895 117h310v1h-310zM1309 117h167v1h-167zM1579 117h96v1h-96zM0 118h819v1h-819zM899 118h549v1h-549zM1525 118h150v1h-150zM43 119h853v1h-853zM968 119h181v1h-181zM1377 119h56v1h-56zM1571 119h104v1h-104zM0 120h143v1h-143zM377 120h261v1h-261zM922 120h166v1h-166zM1227 120h72v1h-72zM1397 120h179v1h-179zM128 121h117v1h-117zM300 121h67v1h-67zM488 121h114v1h-114zM732 121h88v1h-88zM926 121h156v1h-156zM1196 121h43v1h-43zM1442 121h106v1h-106zM0 122h248v1h-248zM308 122h330v1h-330zM959 122h45v1h-45zM1106 122h121v1h-121zM1304 122h53v1h-53zM54 123h232v1h-232zM411 123h160v1h-160zM909 123h414v1h-414zM1494 123h103v1h-103zM196 124h52v1h-52zM292 124h54v1h-54zM484 124h57v1h-57zM669 124h117v1h-117zM868 124h352v1h-352zM1324 124h351v1h-351zM70 125h227v1h-227zM564 125h87v1h-87zM794 125h786v1h-786zM1621 125h54v1h-54zM40 126h7v1h-7zM116 126h3v1h-3zM126 126h9v1h-9zM208 126h3v1h-3zM221 126h3v1h-3zM251 126h1v1h-1zM259 126h13v1h-13zM280 126h3v1h-3zM302 126h8v1h-8zM331 126h7v1h-7zM356 126h5v1h-5zM375 126h9v1h-9zM457 126h2v1h-2zM464 126h8v1h-8zM521 126h7v1h-7zM571 126h8v1h-8zM665 126h8v1h-8zM699 126h3v1h-3zM710 126h8v1h-8zM735 126h10v1h-10zM749 126h8v1h-8zM794 126h1v1h-1zM809 126h6v1h-6zM868 126h6v1h-6zM878 126h2v1h-2zM903 126h5v1h-5zM917 126h4v1h-4zM928 126h6v1h-6zM1039 126h4v1h-4zM1073 126h3v1h-3zM1087 126h17v1h-17zM1130 126h7v1h-7zM1145 126h5v1h-5zM1171 126h9v1h-9zM1205 126h4v1h-4zM1269 126h4v1h-4zM1301 126h2v1h-2zM1308 126h10v1h-10zM1419 126h8v1h-8zM1470 126h9v1h-9zM1489 126h7v1h-7zM1505 126h7v1h-7zM1554 126h7v1h-7zM1566 126h8v1h-8zM1596 126h10v1h-10zM1646 126h14v1h-14zM7 128h4v1h-4zM64 128h9v1h-9zM166 128h10v1h-10zM375 128h17v1h-17zM425 128h10v1h-10zM483 128h5v1h-5zM529 128h9v1h-9zM571 128h15v1h-15zM621 128h3v1h-3zM656 128h6v1h-6zM694 128h3v1h-3zM723 128h7v1h-7zM769 128h22v1h-22zM812 128h8v1h-8zM844 128h4v1h-4zM854 128h3v1h-3zM885 128h3v1h-3zM892 128h7v1h-7zM925 128h7v1h-7zM983 128h7v1h-7zM1007 128h6v1h-6zM1029 128h8v1h-8zM1091 128h13v1h-13zM1125 128h4v1h-4zM1178 128h4v1h-4zM1186 128h10v1h-10zM1208 128h10v1h-10zM1251 128h10v1h-10zM1308 128h8v1h-8zM1402 128h4v1h-4zM1422 128h9v1h-9zM1459 128h4v1h-4zM1467 128h5v1h-5zM1589 128h6v1h-6zM1652 128h10v1h-10zM133 129h130v1h-130zM689 129h48v1h-48zM844 129h65v1h-65zM1085 129h590v1h-590zM0 130h176v1h-176zM249 130h132v1h-132zM504 130h489v1h-489zM1113 130h141v1h-141zM1389 130h121v1h-121zM0 131h422v1h-422zM456 131h147v1h-147zM913 131h72v1h-72zM1059 131h123v1h-123zM1285 131h108v1h-108zM1521 131h154v1h-154zM156 132h1v1h-1zM159 132h4v1h-4zM165 132h6v1h-6zM173 132h8v1h-8zM183 132h4v1h-4zM189 132h4v1h-4zM195 132h5v1h-5zM202 132h8v1h-8zM212 132h7v1h-7zM481 132h8v1h-8zM491 132h4v1h-4zM497 132h8v1h-8zM507 132h6v1h-6zM515 132h9v1h-9zM526 132h4v1h-4zM715 132h7v1h-7zM724 132h6v1h-6zM732 132h9v1h-9zM743 132h4v1h-4zM749 132h4v1h-4zM755 132h6v1h-6zM763 132h7v1h-7zM772 132h6v1h-6zM780 132h5v1h-5zM787 132h9v1h-9zM798 132h8v1h-8zM808 132h6v1h-6zM816 132h1v1h-1zM933 132h3v1h-3zM938 132h4v1h-4zM944 132h7v1h-7zM953 132h9v1h-9zM964 132h6v1h-6zM972 132h9v1h-9zM983 132h4v1h-4zM989 132h9v1h-9zM1000 132h4v1h-4zM1006 132h7v1h-7zM1015 132h9v1h-9zM1026 132h5v1h-5zM1033 132h7v1h-7zM1042 132h5v1h-5zM1049 132h7v1h-7zM1058 132h5v1h-5zM1189 132h2v1h-2zM1193 132h7v1h-7zM1202 132h9v1h-9zM1213 132h5v1h-5zM1220 132h8v1h-8zM1230 132h8v1h-8zM1240 132h7v1h-7zM1249 132h9v1h-9zM1260 132h6v1h-6zM1268 132h5v1h-5zM1342 132h8v1h-8zM1352 132h9v1h-9zM1363 132h5v1h-5zM1370 132h7v1h-7zM1379 132h5v1h-5zM1386 132h5v1h-5zM1393 132h4v1h-4zM1399 132h6v1h-6zM1407 132h5v1h-5zM1414 132h6v1h-6zM1422 132h8v1h-8zM1432 132h5v1h-5zM1439 132h8v1h-8zM1449 132h6v1h-6zM1457 132h6v1h-6zM1465 132h8v1h-8zM1475 132h7v1h-7zM1484 132h5v1h-5zM1661 132h1v1h-1zM1664 132h11v1h-11zM166 133h125v1h-125zM330 133h36v1h-36zM449 133h38v1h-38zM754 133h113v1h-113zM928 133h70v1h-70zM1035 133h469v1h-469zM1673 133h2v1h-2zM120 134h177v1h-177zM561 134h262v1h-262zM1134 134h541v1h-541zM71 135h329v1h-329zM470 135h333v1h-333zM905 135h751v1h-751zM1078 140h104v1h-104zM519 141h140v1h-140zM505 142h123v1h-123zM881 142h128v1h-128zM1374 142h83v1h-83zM132 143h158v1h-158zM526 143h135v1h-135zM170 144h84v1h-84zM1046 144h88v1h-88zM1260 144h45v1h-45zM824 145h42v1h-42zM959 145h106v1h-106zM1631 145h44v1h-44zM232 146h38v1h-38zM575 146h138v1h-138zM832 146h118v1h-118zM1426 146h105v1h-105z"/><path fill="#363636" d="M0 0h175v1h-175zM380 0h62v1h-62zM499 0h208v1h-208zM839 0h203v1h-203zM1126 0h51v1h-51zM1286 0h29v1h-29zM1317 0h43v1h-43zM1485 0h190v1h-190zM123 1h425v1h-425zM850 1h95v1h-95zM1082 1h145v1h-145zM1269 1h46v1h-46zM1317 1h138v1h-138zM1517 1h158v1h-158zM0 2h69v1h-69zM131 2h776v1h-776zM1034 2h43v1h-43zM1216 2h99v1h-99zM1317 2h284v1h-284zM0 3h407v1h-407zM440 3h96v1h-96zM619 3h180v1h-180zM1092 3h223v1h-223zM1317 3h99v1h-99zM1474 3h201v1h-201zM0 4h122v1h-122zM278 4h423v1h-423zM759 4h175v1h-175zM1008 4h307v1h-307zM1317 4h67v1h-67zM1531 4h144v1h-144zM50 5h3v1h-3zM71 5h10v1h-10zM92 5h19v1h-19zM120 5h24v1h-24zM172 5h10v1h-10zM196 5h5v1h-5zM256 5h4v1h-4zM265 5h19v1h-19zM370 5h4v1h-4zM382 5h7v1h-7zM417 5h4v1h-4zM454 5h10v1h-10zM481 5h7v1h-7zM497 5h14v1h-14zM540 5h3v1h-3zM555 5h9v1h-9zM567 5h4v1h-4zM579 5h10v1h-10zM604 5h13v1h-13zM672 5h4v1h-4zM704 5h3v1h-3zM737 5h6v1h-6zM787 5h18v1h-18zM825 5h9v1h-9zM856 5h8v1h-8zM874 5h5v1h-5zM913 5h10v1h-10zM963 5h5v1h-5zM992 5h10v1h-10zM1010 5h3v1h-3zM1030 5h14v1h-14zM1075 5h10v1h-10zM1193 5h26v1h-26zM1227 5h5v1h-5zM1281 5h6v1h-6zM1294 5h8v1h-8zM1330 5h9v1h-9zM1345 5h20v1h-20zM1386 5h5v1h-5zM1452 5h5v1h-5zM1477 5h4v1h-4zM1484 5h4v1h-4zM1564 5h20v1h-20zM1594 5h11v1h-11zM1624 5h5v1h-5zM1666 5h9v1h-9zM161 6h7v1h-7zM341 6h6v1h-6zM570 6h9v1h-9zM793 6h7v1h-7zM827 6h6v1h-6zM1063 6h4v1h-4zM1364 6h7v1h-7zM1478 6h10v1h-10zM1562 6h9v1h-9zM1615 6h6v1h-6zM1045 7h82v1h-82zM1535 7h42v1h-42zM1317 8h57v1h-57zM1509 9h35v1h-35zM128 11h39v1h-39zM631 11h55v1h-55zM1314 11h1v1h-1zM1541 11h103v1h-103zM130 14h101v1h-101zM460 14h98v1h-98zM1109 15h84v1h-84zM1292 15h23v1h-23zM1013 16h135v1h-135zM982 17h68v1h-68zM1267 19h48v1h-48zM290 22h76v1h-76zM1277 22h38v1h-38zM332 23h40v1h-40zM1110 24h56v1h-56zM924 25h126v1h-126zM1087 25h35v1h-35zM648 26h100v1h-100zM1043 26h59v1h-59zM1644 26h31v1h-31zM371 27h49v1h-49zM1306 27h9v1h-9zM271 28h139v1h-139zM874 28h107v1h-107zM296 29h47v1h-47zM1317 30h61v1h-61zM250 31h47v1h-47zM0 32h108v1h-108zM278 34h32v1h-32zM773 34h35v1h-35zM449 35h60v1h-60zM1583 35h92v1h-92zM650 38h121v1h-121zM323 40h71v1h-71zM1295 41h66v1h-66zM1135 43h101v1h-101zM1072 44h48v1h-48zM1595 44h80v1h-80zM793 45h130v1h-130zM1007 45h53v1h-53zM1598 45h77v1h-77zM0 46h97v1h-97zM245 47h55v1h-55zM1673 47h2v1h-2zM0 48h99v1h-99zM147 48h80v1h-80zM321 51h79v1h-79zM0 52h63v1h-63zM895 53h35v1h-35zM0 54h100v1h-100zM1037 54h128v1h-128zM869 56h93v1h-93zM1204 56h104v1h-104zM694 57h73v1h-73zM666 58h94v1h-94zM1273 59h97v1h-97zM506 60h31v1h-31zM1652 60h23v1h-23zM310 62h124v1h-124zM1028 62h39v1h-39zM277 63h55v1h-55zM368 63h75v1h-75zM634 64h105v1h-105zM901 64h58v1h-58zM1653 65h22v1h-22zM1522 67h44v1h-44zM714 68h77v1h-77zM64 69h97v1h-97zM864 69h43v1h-43zM1077 69h83v1h-83zM123 71h130v1h-130zM963 71h165v1h-165zM248 73h116v1h-116zM272 76h132v1h-132zM532 76h40v1h-40zM741 76h60v1h-60zM1627 77h48v1h-48zM1276 80h35v1h-35zM529 81h69v1h-69zM0 82h99v1h-99zM594 83h9v1h-9zM956 83h7v1h-7zM1309 83h10v1h-10zM1460 83h6v1h-6zM847 85h99v1h-99zM1454 85h105v1h-105zM1625 85h50v1h-50zM1466 86h31v1h-31zM800 87h91v1h-91zM895 89h34v1h-34zM105 90h46v1h-46zM723 92h96v1h-96zM36 94h57v1h-57zM358 94h55v1h-55zM406 95h79v1h-79zM1232 95h92v1h-92zM1663 95h12v1h-12zM907 96h133v1h-133zM1154 97h76v1h-76zM682 98h195v1h-195zM415 99h76v1h-76zM1015 101h112v1h-112zM1296 101h79v1h-79zM151 105h117v1h-117zM979 105h48v1h-48zM748 106h107v1h-107zM1103 106h55v1h-55zM1089 107h100v1h-100zM111 108h69v1h-69zM1512 108h30v1h-30zM263 109h63v1h-63zM588 112h61v1h-61zM1412 112h40v1h-40zM0 113h71v1h-71zM821 114h86v1h-86zM1138 115h130v1h-130zM452 116h52v1h-52zM1193 116h130v1h-130zM779 117h116v1h-116zM1476 117h103v1h-103zM0 119h43v1h-43zM896 119h72v1h-72zM1149 119h228v1h-228zM1433 119h138v1h-138zM143 120h234v1h-234zM638 120h284v1h-284zM1088 120h139v1h-139zM1299 120h98v1h-98zM1576 120h99v1h-99zM0 121h128v1h-128zM245 121h55v1h-55zM367 121h121v1h-121zM602 121h130v1h-130zM820 121h106v1h-106zM1082 121h114v1h-114zM1239 121h203v1h-203zM1548 121h127v1h-127zM248 122h60v1h-60zM638 122h321v1h-321zM1004 122h102v1h-102zM1227 122h77v1h-77zM1357 122h318v1h-318zM0 123h54v1h-54zM286 123h125v1h-125zM571 123h338v1h-338zM1323 123h171v1h-171zM1597 123h78v1h-78zM0 124h196v1h-196zM248 124h44v1h-44zM346 124h138v1h-138zM541 124h128v1h-128zM786 124h82v1h-82zM1220 124h104v1h-104zM0 125h70v1h-70zM297 125h267v1h-267zM651 125h143v1h-143zM1580 125h41v1h-41zM135 126h3v1h-3zM161 126h6v1h-6zM361 126h5v1h-5zM431 126h4v1h-4zM538 126h2v1h-2zM584 126h8v1h-8zM643 126h5v1h-5zM838 126h6v1h-6zM934 126h3v1h-3zM987 126h10v1h-10zM1043 126h2v1h-2zM1110 126h8v1h-8zM1290 126h6v1h-6zM1452 126h10v1h-10zM1537 126h8v1h-8zM1561 126h5v1h-5zM1589 126h7v1h-7zM131 128h12v1h-12zM202 128h5v1h-5zM290 128h8v1h-8zM318 128h5v1h-5zM351 128h17v1h-17zM610 128h4v1h-4zM632 128h9v1h-9zM753 128h9v1h-9zM832 128h5v1h-5zM1059 128h9v1h-9zM1113 128h3v1h-3zM1129 128h6v1h-6zM1171 128h7v1h-7zM1196 128h1v1h-1zM1302 128h1v1h-1zM1374 128h8v1h-8zM1618 128h3v1h-3zM0 129h133v1h-133zM263 129h426v1h-426zM737 129h107v1h-107zM909 129h176v1h-176zM176 130h73v1h-73zM381 130h123v1h-123zM993 130h120v1h-120zM1254 130h135v1h-135zM1510 130h165v1h-165zM422 131h34v1h-34zM603 131h310v1h-310zM985 131h74v1h-74zM1182 131h103v1h-103zM1393 131h128v1h-128zM0 132h2v1h-2zM4 132h7v1h-7zM13 132h4v1h-4zM19 132h7v1h-7zM28 132h9v1h-9zM39 132h7v1h-7zM48 132h4v1h-4zM54 132h5v1h-5zM61 132h4v1h-4zM67 132h5v1h-5zM74 132h7v1h-7zM83 132h5v1h-5zM90 132h4v1h-4zM96 132h6v1h-6zM104 132h8v1h-8zM114 132h4v1h-4zM120 132h4v1h-4zM126 132h4v1h-4zM132 132h8v1h-8zM142 132h5v1h-5zM149 132h7v1h-7zM221 132h5v1h-5zM228 132h9v1h-9zM239 132h6v1h-6zM247 132h6v1h-6zM255 132h8v1h-8zM265 132h6v1h-6zM273 132h7v1h-7zM282 132h4v1h-4zM288 132h4v1h-4zM294 132h7v1h-7zM303 132h7v1h-7zM312 132h7v1h-7zM321 132h7v1h-7zM330 132h6v1h-6zM338 132h4v1h-4zM344 132h5v1h-5zM351 132h4v1h-4zM357 132h9v1h-9zM368 132h6v1h-6zM376 132h9v1h-9zM387 132h6v1h-6zM395 132h7v1h-7zM404 132h9v1h-9zM415 132h5v1h-5zM422 132h8v1h-8zM432 132h4v1h-4zM438 132h5v1h-5zM445 132h8v1h-8zM455 132h6v1h-6zM463 132h5v1h-5zM470 132h9v1h-9zM532 132h9v1h-9zM543 132h6v1h-6zM551 132h8v1h-8zM561 132h6v1h-6zM569 132h5v1h-5zM576 132h6v1h-6zM584 132h5v1h-5zM591 132h8v1h-8zM601 132h8v1h-8zM611 132h8v1h-8zM621 132h6v1h-6zM629 132h9v1h-9zM640 132h5v1h-5zM647 132h8v1h-8zM657 132h5v1h-5zM664 132h5v1h-5zM671 132h7v1h-7zM680 132h9v1h-9zM691 132h5v1h-5zM698 132h5v1h-5zM705 132h8v1h-8zM817 132h6v1h-6zM825 132h9v1h-9zM836 132h6v1h-6zM844 132h6v1h-6zM852 132h4v1h-4zM858 132h5v1h-5zM865 132h4v1h-4zM871 132h5v1h-5zM878 132h7v1h-7zM887 132h5v1h-5zM894 132h6v1h-6zM902 132h5v1h-5zM909 132h7v1h-7zM918 132h8v1h-8zM928 132h5v1h-5zM1063 132h4v1h-4zM1069 132h6v1h-6zM1077 132h4v1h-4zM1083 132h9v1h-9zM1094 132h7v1h-7zM1103 132h7v1h-7zM1112 132h7v1h-7zM1121 132h9v1h-9zM1132 132h4v1h-4zM1138 132h9v1h-9zM1149 132h5v1h-5zM1156 132h5v1h-5zM1163 132h5v1h-5zM1170 132h4v1h-4zM1176 132h5v1h-5zM1183 132h6v1h-6zM1275 132h8v1h-8zM1285 132h8v1h-8zM1295 132h5v1h-5zM1302 132h4v1h-4zM1308 132h4v1h-4zM1314 132h9v1h-9zM1325 132h9v1h-9zM1336 132h4v1h-4zM1491 132h4v1h-4zM1497 132h9v1h-9zM1508 132h6v1h-6zM1516 132h7v1h-7zM1525 132h9v1h-9zM1536 132h8v1h-8zM1546 132h8v1h-8zM1556 132h7v1h-7zM1565 132h8v1h-8zM1575 132h5v1h-5zM1582 132h8v1h-8zM1592 132h5v1h-5zM1599 132h8v1h-8zM1609 132h8v1h-8zM1619 132h4v1h-4zM1625 132h7v1h-7zM1634 132h5v1h-5zM1641 132h8v1h-8zM1651 132h4v1h-4zM1657 132h4v1h-4zM0 133h166v1h-166zM291 133h39v1h-39zM405 133h44v1h-44zM487 133h267v1h-267zM867 133h61v1h-61zM998 133h37v1h-37zM1504 133h169v1h-169zM0 134h120v1h-120zM297 134h264v1h-264zM823 134h311v1h-311zM0 135h71v1h-71zM400 135h70v1h-70zM803 135h102v1h-102zM1656 135h19v1h-19zM0 140h1078v1h-1078zM1182 140h493v1h-493zM0 141h519v1h-519zM659 141h1016v1h-1016zM0 142h505v1h-505zM628 142h253v1h-253zM1009 142h365v1h-365zM1457 142h83v1h-83zM1624 142h48v1h-48zM0 143h132v1h-132zM290 143h236v1h-236zM661 143h451v1h-451zM1234 143h441v1h-441zM0 144h170v1h-170zM311 144h546v1h-546zM893 144h153v1h-153zM1134 144h126v1h-126zM1305 144h243v1h-243zM1582 144h93v1h-93zM0 145h824v1h-824zM866 145h93v1h-93zM1065 145h566v1h-566zM0 146h232v1h-232zM270 146h305v1h-305zM713 146h119v1h-119zM950 146h340v1h-340zM1531 146h144v1h-144z"/><path fill="#393939" d="M175 0h205v1h-205zM442 0h57v1h-57zM707 0h132v1h-132zM1042 0h84v1h-84zM1177 0h109v1h-109zM1360 0h125v1h-125zM0 1h123v1h-123zM548 1h302v1h-302zM945 1h137v1h-137zM1227 1h42v1h-42zM1455 1h62v1h-62zM69 2h62v1h-62zM907 2h127v1h-127zM1077 2h139v1h-139zM1601 2h74v1h-74zM407 3h33v1h-33zM536 3h83v1h-83zM799 3h293v1h-293zM1416 3h58v1h-58zM122 4h156v1h-156zM701 4h58v1h-58zM934 4h74v1h-74zM1442 4h89v1h-89zM25 5h16v1h-16zM63 5h8v1h-8zM111 5h9v1h-9zM158 5h10v1h-10zM187 5h9v1h-9zM216 5h10v1h-10zM299 5h10v1h-10zM334 5h10v1h-10zM350 5h14v1h-14zM374 5h8v1h-8zM392 5h19v1h-19zM435 5h9v1h-9zM488 5h6v1h-6zM511 5h6v1h-6zM534 5h6v1h-6zM543 5h6v1h-6zM571 5h8v1h-8zM681 5h3v1h-3zM707 5h5v1h-5zM722 5h6v1h-6zM743 5h7v1h-7zM766 5h6v1h-6zM780 5h7v1h-7zM864 5h10v1h-10zM931 5h5v1h-5zM950 5h7v1h-7zM985 5h7v1h-7zM1053 5h19v1h-19zM1098 5h8v1h-8zM1134 5h17v1h-17zM1156 5h27v1h-27zM1189 5h4v1h-4zM1240 5h7v1h-7zM1302 5h4v1h-4zM1317 5h3v1h-3zM1339 5h6v1h-6zM1374 5h8v1h-8zM1426 5h10v1h-10zM1473 5h4v1h-4zM1488 5h10v1h-10zM1501 5h10v1h-10zM1526 5h3v1h-3zM1539 5h25v1h-25zM1605 5h19v1h-19zM1634 5h7v1h-7zM1657 5h9v1h-9zM1429 6h6v1h-6zM151 25h6v1h-6zM213 25h6v1h-6zM185 51h6v1h-6zM318 126h8v1h-8zM680 126h5v1h-5zM781 126h9v1h-9zM1254 126h3v1h-3zM1401 126h8v1h-8zM1624 126h7v1h-7zM126 128h5v1h-5zM888 128h4v1h-4zM1261 128h3v1h-3zM1643 128h5v1h-5zM1540 142h84v1h-84zM1672 142h3v1h-3zM1112 143h122v1h-122zM254 144h57v1h-57zM857 144h36v1h-36zM1548 144h34v1h-34zM1290 146h136v1h-136z"/><path fill="#3c3c3c" d="M10 5h8v1h-8zM56 5h7v1h-7zM260 5h5v1h-5zM617 5h6v1h-6zM668 5h4v1h-4zM695 5h9v1h-9zM712 5h10v1h-10zM750 5h9v1h-9zM897 5h6v1h-6zM936 5h6v1h-6zM957 5h6v1h-6zM968 5h8v1h-8zM1013 5h5v1h-5zM1024 5h6v1h-6zM1085 5h10v1h-10zM1151 5h5v1h-5zM1232 5h8v1h-8zM1365 5h9v1h-9zM1405 5h10v1h-10zM1443 5h9v1h-9zM1511 5h5v1h-5zM1641 5h7v1h-7zM108 24h130v1h-130zM108 25h8v1h-8zM138 25h10v1h-10zM157 25h6v1h-6zM219 25h7v1h-7zM180 50h8v1h-8z"/><path fill="#3f3f3f" d="M812 5h13v1h-13zM131 25h7v1h-7zM203 25h1v1h-1zM232 25h6v1h-6zM167 50h5v1h-5zM188 50h3v1h-3zM219 50h1v1h-1zM170 51h7v1h-7zM1538 82h137v1h-137zM1133 83h4v1h-4zM1576 83h7v1h-7z"/><path fill="#424242" d="M116 25h9v1h-9zM148 25h3v1h-3zM204 25h9v1h-9zM160 50h7v1h-7zM172 50h8v1h-8zM191 50h9v1h-9zM209 50h10v1h-10zM160 51h10v1h-10zM177 51h8v1h-8zM191 51h29v1h-29zM1137 83h9v1h-9zM1570 83h6v1h-6zM1621 83h6v1h-6z"/><path fill="#454545" d="M125 25h6v1h-6zM176 25h15v1h-15zM226 25h6v1h-6zM148 83h5v1h-5zM199 83h8v1h-8zM1128 83h5v1h-5zM1146 83h2v1h-2zM1567 83h3v1h-3zM1583 83h10v1h-10zM1597 83h24v1h-24zM1662 83h9v1h-9z"/><path fill="#484848" d="M163 25h2v1h-2zM200 50h9v1h-9zM134 83h10v1h-10zM1540 83h22v1h-22zM1593 83h4v1h-4zM1627 83h7v1h-7zM1641 83h9v1h-9zM1658 83h4v1h-4zM1671 83h4v1h-4zM479 132h2v1h-2zM489 132h2v1h-2zM495 132h2v1h-2zM505 132h2v1h-2zM513 132h2v1h-2zM524 132h2v1h-2zM713 132h2v1h-2zM722 132h2v1h-2zM730 132h2v1h-2zM741 132h2v1h-2zM747 132h2v1h-2zM753 132h2v1h-2zM761 132h2v1h-2zM770 132h2v1h-2zM778 132h2v1h-2zM785 132h2v1h-2zM796 132h2v1h-2zM806 132h2v1h-2zM814 132h2v1h-2zM936 132h2v1h-2zM942 132h2v1h-2zM951 132h2v1h-2zM962 132h2v1h-2zM970 132h2v1h-2zM981 132h2v1h-2zM987 132h2v1h-2zM998 132h2v1h-2zM1004 132h2v1h-2zM1013 132h2v1h-2zM1024 132h2v1h-2zM1031 132h2v1h-2zM1040 132h2v1h-2zM1047 132h2v1h-2zM1056 132h2v1h-2zM1463 132h2v1h-2zM1473 132h2v1h-2zM1482 132h2v1h-2zM1489 132h2v1h-2zM1662 132h2v1h-2z"/><path fill="#4b4b4b" d="M165 25h7v1h-7zM198 25h5v1h-5zM119 83h15v1h-15zM153 83h2v1h-2zM213 83h2v1h-2zM1562 83h5v1h-5zM1634 83h7v1h-7zM1650 83h8v1h-8zM2 132h2v1h-2zM11 132h2v1h-2zM17 132h2v1h-2zM26 132h2v1h-2zM37 132h2v1h-2zM46 132h2v1h-2zM52 132h2v1h-2zM59 132h2v1h-2zM65 132h2v1h-2zM72 132h2v1h-2zM81 132h2v1h-2zM88 132h2v1h-2zM94 132h2v1h-2zM102 132h2v1h-2zM112 132h2v1h-2zM118 132h2v1h-2zM124 132h2v1h-2zM130 132h2v1h-2zM140 132h2v1h-2zM147 132h2v1h-2zM157 132h2v1h-2zM163 132h2v1h-2zM171 132h2v1h-2zM181 132h2v1h-2zM187 132h2v1h-2zM193 132h2v1h-2zM200 132h2v1h-2zM210 132h2v1h-2zM219 132h2v1h-2zM226 132h2v1h-2zM237 132h2v1h-2zM245 132h2v1h-2zM253 132h2v1h-2zM263 132h2v1h-2zM271 132h2v1h-2zM280 132h2v1h-2zM286 132h2v1h-2zM292 132h2v1h-2zM301 132h2v1h-2zM310 132h2v1h-2zM319 132h2v1h-2zM328 132h2v1h-2zM336 132h2v1h-2zM342 132h2v1h-2zM349 132h2v1h-2zM355 132h2v1h-2zM366 132h2v1h-2zM374 132h2v1h-2zM385 132h2v1h-2zM393 132h2v1h-2zM402 132h2v1h-2zM413 132h2v1h-2zM420 132h2v1h-2zM430 132h2v1h-2zM436 132h2v1h-2zM443 132h2v1h-2zM453 132h2v1h-2zM461 132h2v1h-2zM468 132h2v1h-2zM530 132h2v1h-2zM541 132h2v1h-2zM549 132h2v1h-2zM559 132h2v1h-2zM567 132h2v1h-2zM574 132h2v1h-2zM582 132h2v1h-2zM589 132h2v1h-2zM599 132h2v1h-2zM609 132h2v1h-2zM619 132h2v1h-2zM627 132h2v1h-2zM638 132h2v1h-2zM645 132h2v1h-2zM655 132h2v1h-2zM662 132h2v1h-2zM669 132h2v1h-2zM678 132h2v1h-2zM689 132h2v1h-2zM696 132h2v1h-2zM703 132h2v1h-2zM823 132h2v1h-2zM834 132h2v1h-2zM842 132h2v1h-2zM850 132h2v1h-2zM856 132h2v1h-2zM863 132h2v1h-2zM869 132h2v1h-2zM876 132h2v1h-2zM885 132h2v1h-2zM892 132h2v1h-2zM900 132h2v1h-2zM907 132h2v1h-2zM916 132h2v1h-2zM926 132h2v1h-2zM1067 132h2v1h-2zM1075 132h2v1h-2zM1081 132h2v1h-2zM1092 132h2v1h-2zM1101 132h2v1h-2zM1110 132h2v1h-2zM1119 132h2v1h-2zM1130 132h2v1h-2zM1136 132h2v1h-2zM1147 132h2v1h-2zM1154 132h2v1h-2zM1161 132h2v1h-2zM1168 132h2v1h-2zM1174 132h2v1h-2zM1181 132h2v1h-2zM1191 132h2v1h-2zM1200 132h2v1h-2zM1211 132h2v1h-2zM1218 132h2v1h-2zM1228 132h2v1h-2zM1238 132h2v1h-2zM1247 132h2v1h-2zM1258 132h2v1h-2zM1266 132h2v1h-2zM1273 132h2v1h-2zM1283 132h2v1h-2zM1293 132h2v1h-2zM1300 132h2v1h-2zM1306 132h2v1h-2zM1312 132h2v1h-2zM1323 132h2v1h-2zM1334 132h2v1h-2zM1340 132h2v1h-2zM1350 132h2v1h-2zM1361 132h2v1h-2zM1368 132h2v1h-2zM1377 132h2v1h-2zM1384 132h2v1h-2zM1391 132h2v1h-2zM1397 132h2v1h-2zM1405 132h2v1h-2zM1412 132h2v1h-2zM1420 132h2v1h-2zM1430 132h2v1h-2zM1437 132h2v1h-2zM1447 132h2v1h-2zM1455 132h2v1h-2zM1495 132h2v1h-2zM1506 132h2v1h-2zM1514 132h2v1h-2zM1523 132h2v1h-2zM1534 132h2v1h-2zM1544 132h2v1h-2zM1554 132h2v1h-2zM1563 132h2v1h-2zM1573 132h2v1h-2zM1580 132h2v1h-2zM1590 132h2v1h-2zM1597 132h2v1h-2zM1607 132h2v1h-2zM1617 132h2v1h-2zM1623 132h2v1h-2zM1632 132h2v1h-2zM1639 132h2v1h-2zM1649 132h2v1h-2zM1655 132h2v1h-2z"/><path fill="#4e4e4e" d="M172 25h4v1h-4zM191 25h7v1h-7zM144 83h4v1h-4zM1538 83h2v1h-2z"/><path fill="#515151" d="M179 83h10v1h-10zM198 83h1v1h-1z"/><path fill="#575757" d="M166 83h9v1h-9z"/><path fill="#5a5a5a" d="M155 83h11v1h-11zM189 83h9v1h-9zM207 83h6v1h-6z"/><path fill="#5d5d5d" d="M175 83h4v1h-4z"/><path fill="#6f6f6f" d="M833 138h10v1h-10zM856 138h2v1h-2z"/><path fill="#727272" d="M843 138h13v1h-13z"/><path fill="#8d8d8d" d="M1226 151h8v1h-8z"/><path fill="#909090" d="M1234 151h8v1h-8z"/><path fill="#969696" d="M1242 151h5v1h-5zM1528 151h5v1h-5z"/><path fill="#999999" d="M853 137h3v1h-3z"/><path fill="#9c9c9c" d="M836 137h11v1h-11zM1518 151h10v1h-10z"/><path fill="#9f9f9f" d="M847 137h6v1h-6z"/><path fill="#ededed" d="M106 159h3v1h-3z"/><path fill="#f6f6f6" d="M94 160h15v1h-15z"/><path fill="#f9f9f9" d="M83 159h23v1h-23z"/><path fill="#fcfcfc" d="M83 160h11v1h-11z"/></g><g clip-path="url(#pc)"><ellipse cx="763" cy="70" rx="80" ry="30" fill="url(#rg)" opacity="0.70"/><ellipse cx="790" cy="112" rx="55" ry="35" fill="url(#rg)" opacity="0.80"/><ellipse cx="925" cy="112" rx="40" ry="35" fill="url(#rg)" opacity="0.70"/><ellipse cx="790" cy="150" rx="120" ry="30" fill="url(#rg)" opacity="0.50"/><ellipse cx="1010" cy="152" rx="75" ry="35" fill="url(#rg)" opacity="0.75"/><ellipse cx="1060" cy="165" rx="18" ry="45" fill="url(#rg)" opacity="0.70"/><ellipse cx="1473" cy="200" rx="55" ry="38" fill="url(#rg)" opacity="0.55"/><ellipse cx="1629" cy="160" rx="55" ry="38" fill="url(#rg)" opacity="0.55"/><ellipse cx="1700" cy="168" rx="35" ry="26" fill="url(#rg)" opacity="0.45"/><ellipse cx="944" cy="230" rx="20" ry="30" fill="url(#rg)" opacity="0.45"/><g filter="url(#bl)"><path d="M900 351 943 313 986 278 1050 248 1114 223 1178 210 1242 223 1328 242 1413 257 1499 274 1585 295 1670 321 1776 347M900 371 943 333 986 298 1050 268 1114 243 1178 230 1242 243 1328 262 1413 277 1499 294 1585 315 1670 341 1776 367M900 391 943 353 986 318 1050 288 1114 263 1178 250 1242 263 1328 282 1413 297 1499 314 1585 335 1670 361 1776 387M900 411 943 373 986 338 1050 308 1114 283 1178 270 1242 283 1328 302 1413 317 1499 334 1585 355 1670 381 1776 407M900 431 943 393 986 358 1050 328 1114 303 1178 290 1242 303 1328 322 1413 337 1499 354 1585 375 1670 401 1776 427M900 451 943 413 986 378 1050 348 1114 323 1178 310 1242 323 1328 342 1413 357 1499 374 1585 395 1670 421 1776 447M1536 190 1776 245M1536 210 1776 265M1536 230 1776 285M1536 250 1776 305M30 330 230 200M66 330 266 200M102 330 302 200M138 330 338 200M174 330 374 200M210 330 410 200M246 330 446 200M282 330 482 200M318 330 518 200M354 330 554 200M381 250 440 235 515 229 545 222 600 188M381 270 440 256 515 251 545 245 610 214M40 585 130 527M70 585 160 527M100 585 190 527M130 585 220 527M160 585 250 527M190 585 280 527M220 585 310 527M250 585 340 527M280 585 370 527M387 563 440 550 515 545 543 540 570 515M930 600 986 575 1060 552 1183 538 1300 552 1413 563 1500 548 1600 556 1700 543 1776 550M930 618 986 593 1060 570 1183 556 1300 570 1413 581 1500 566 1600 574 1700 561 1776 568M1030 813 1100 786 1180 768 1260 782 1340 804M1030 828 1100 801 1180 783 1260 797 1340 819" fill="none" stroke="#4a4a4a" stroke-opacity="0.38" stroke-width="6"/><path d="M560 330 598 180M570 330 608 180M580 330 618 180M590 330 628 180M600 330 638 180M610 330 648 180M620 330 658 180M630 330 668 180M640 330 678 180M650 330 688 180M660 330 698 180M670 330 708 180M680 330 718 180M690 330 728 180M700 330 738 180M710 330 748 180M720 330 758 180M730 330 768 180M740 330 778 180M750 330 788 180M760 330 798 180M770 330 808 180M780 330 818 180M790 330 828 180M800 330 838 180M810 330 848 180M820 330 858 180M830 330 868 180M840 330 878 180M850 330 888 180M860 330 898 180M870 330 908 180M880 330 918 180M890 330 928 180M900 330 938 180M910 330 948 180M920 330 958 180M930 330 968 180M940 330 978 180M950 330 988 180M960 330 998 180M970 330 1008 180M980 330 1018 180M560 590 581 505M570 590 591 505M580 590 601 505M590 590 611 505M600 590 621 505M610 590 631 505M620 590 641 505M630 590 651 505M640 590 661 505M650 590 671 505M660 590 681 505M670 590 691 505M680 590 701 505M690 590 711 505M700 590 721 505M710 590 731 505M720 590 741 505M730 590 751 505M740 590 761 505M750 590 771 505M760 590 781 505M770 590 791 505M780 590 801 505M790 590 811 505M800 590 821 505M810 590 831 505M820 590 841 505M830 590 851 505M840 590 861 505M850 590 871 505M860 590 881 505M870 590 891 505M880 590 901 505M890 590 911 505M900 590 921 505M910 590 931 505M920 590 941 505M930 590 951 505M940 590 961 505M950 590 971 505M960 590 981 505M970 590 991 505M980 590 1001 505" fill="none" stroke="#4a4a4a" stroke-opacity="0.3" stroke-width="3"/></g></g></g><g filter="url(#fB)"><g transform="translate(102 51) scale(1 4.865)" shape-rendering="crispEdges"><path fill="#0f0f0f" d="M45 150h22v1h-22zM719 152h10v1h-10z"/><path fill="#121212" d="M838 151h11v1h-11z"/><path fill="#151515" d="M0 139h12v1h-12zM128 151h9v1h-9z"/><path fill="#181818" d="M36 151h11v1h-11zM91 151h10v1h-10z"/><path fill="#1b1b1b" d="M234 139h19v1h-19zM104 150h12v1h-12zM35 151h1v1h-1zM219 151h10v1h-10zM1473 151h12v1h-12z"/><path fill="#1e1e1e" d="M253 139h14v1h-14zM317 139h10v1h-10zM1297 139h12v1h-12zM73 150h17v1h-17zM140 150h6v1h-6zM460 151h4v1h-4zM778 151h8v1h-8zM805 151h7v1h-7zM1219 151h7v1h-7zM1440 151h9v1h-9zM1457 151h10v1h-10zM485 152h18v1h-18zM507 152h17v1h-17zM575 152h5v1h-5zM606 152h12v1h-12zM729 152h4v1h-4zM232 182h26v1h-26zM1028 186h5v1h-5z"/><path fill="#212121" d="M392 139h6v1h-6zM760 139h7v1h-7zM1128 139h18v1h-18zM824 148h14v1h-14zM101 151h6v1h-6zM137 151h16v1h-16zM499 151h9v1h-9zM732 151h13v1h-13zM812 151h17v1h-17zM833 151h5v1h-5zM1361 151h18v1h-18zM1449 151h8v1h-8zM1494 151h4v1h-4zM471 152h2v1h-2zM503 152h4v1h-4zM524 152h15v1h-15zM733 152h21v1h-21zM105 171h22v1h-22zM331 171h21v1h-21zM515 171h7v1h-7zM1039 171h13v1h-13z"/><path fill="#242424" d="M478 139h6v1h-6zM519 139h5v1h-5zM628 139h10v1h-10zM645 139h7v1h-7zM681 139h16v1h-16zM1042 139h4v1h-4zM1544 139h11v1h-11zM1567 139h17v1h-17zM34 150h4v1h-4zM67 150h6v1h-6zM136 150h4v1h-4zM67 151h4v1h-4zM107 151h21v1h-21zM786 151h19v1h-19zM867 151h11v1h-11zM907 151h11v1h-11zM1082 151h6v1h-6zM1379 151h16v1h-16zM1467 151h6v1h-6zM591 152h7v1h-7zM698 152h21v1h-21zM800 153h14v1h-14zM194 171h10v1h-10zM479 171h14v1h-14zM762 171h5v1h-5zM926 171h2v1h-2zM963 171h16v1h-16zM1028 171h11v1h-11zM1287 171h22v1h-22zM1327 171h1v1h-1zM1389 171h20v1h-20zM1448 182h7v1h-7zM79 183h11v1h-11zM228 183h7v1h-7zM325 183h15v1h-15zM431 184h17v1h-17zM135 186h5v1h-5zM288 186h18v1h-18zM758 186h10v1h-10zM827 186h16v1h-16zM1083 186h12v1h-12zM1280 186h6v1h-6zM1485 186h21v1h-21z"/><path fill="#272727" d="M90 139h4v1h-4zM372 139h20v1h-20zM398 139h6v1h-6zM532 139h12v1h-12zM614 139h14v1h-14zM638 139h7v1h-7zM667 139h14v1h-14zM825 139h22v1h-22zM982 139h8v1h-8zM1250 139h15v1h-15zM1368 139h19v1h-19zM1441 139h14v1h-14zM1539 139h5v1h-5zM846 149h22v1h-22zM1614 149h6v1h-6zM38 150h7v1h-7zM99 150h5v1h-5zM116 150h20v1h-20zM146 150h1v1h-1zM10 151h11v1h-11zM71 151h13v1h-13zM158 151h17v1h-17zM246 151h12v1h-12zM311 151h11v1h-11zM533 151h6v1h-6zM560 151h11v1h-11zM582 151h11v1h-11zM939 151h21v1h-21zM985 151h15v1h-15zM1164 151h7v1h-7zM1203 151h9v1h-9zM1247 151h14v1h-14zM1408 151h32v1h-32zM1565 151h12v1h-12zM473 152h12v1h-12zM669 152h17v1h-17zM754 152h3v1h-3zM10 171h9v1h-9zM89 171h16v1h-16zM204 171h10v1h-10zM257 171h54v1h-54zM383 171h22v1h-22zM436 171h15v1h-15zM462 171h13v1h-13zM604 171h30v1h-30zM673 171h1v1h-1zM686 171h18v1h-18zM767 171h21v1h-21zM889 171h21v1h-21zM986 171h9v1h-9zM1115 171h15v1h-15zM1334 171h14v1h-14zM1570 171h6v1h-6zM1667 171h8v1h-8zM1058 180h14v1h-14zM1129 180h22v1h-22zM1469 180h12v1h-12zM1657 180h15v1h-15zM1010 182h4v1h-4zM1289 182h4v1h-4zM1352 182h8v1h-8zM468 184h18v1h-18zM715 184h4v1h-4zM808 184h19v1h-19zM837 184h9v1h-9zM0 186h14v1h-14zM111 186h13v1h-13zM140 186h18v1h-18zM272 186h16v1h-16zM342 186h8v1h-8zM663 186h6v1h-6zM702 186h5v1h-5zM1211 186h5v1h-5zM1458 186h10v1h-10zM548 188h6v1h-6z"/><path fill="#2a2a2a" d="M41 139h19v1h-19zM85 139h5v1h-5zM124 139h19v1h-19zM177 139h15v1h-15zM404 139h19v1h-19zM708 139h19v1h-19zM852 139h11v1h-11zM927 139h12v1h-12zM1021 139h21v1h-21zM1101 139h15v1h-15zM1194 139h18v1h-18zM1233 139h17v1h-17zM1419 139h6v1h-6zM1437 139h4v1h-4zM1455 139h4v1h-4zM1594 139h9v1h-9zM1620 139h32v1h-32zM274 147h19v1h-19zM1280 149h16v1h-16zM355 150h6v1h-6zM754 150h9v1h-9zM84 151h7v1h-7zM175 151h20v1h-20zM364 151h16v1h-16zM477 151h22v1h-22zM528 151h5v1h-5zM650 151h11v1h-11zM772 151h6v1h-6zM849 151h14v1h-14zM1147 151h17v1h-17zM1171 151h22v1h-22zM1265 151h20v1h-20zM1324 151h12v1h-12zM1395 151h13v1h-13zM580 152h11v1h-11zM660 152h9v1h-9zM686 152h12v1h-12zM299 153h21v1h-21zM239 171h18v1h-18zM364 171h19v1h-19zM420 171h12v1h-12zM561 171h9v1h-9zM731 171h8v1h-8zM797 171h21v1h-21zM832 171h7v1h-7zM883 171h6v1h-6zM957 171h6v1h-6zM979 171h1v1h-1zM1001 171h17v1h-17zM1076 171h10v1h-10zM1161 171h4v1h-4zM1212 171h2v1h-2zM1220 171h27v1h-27zM1358 171h13v1h-13zM1429 171h1v1h-1zM1436 171h22v1h-22zM1627 171h22v1h-22zM784 180h5v1h-5zM1428 180h14v1h-14zM1175 181h12v1h-12zM1621 181h16v1h-16zM172 182h14v1h-14zM365 182h8v1h-8zM594 182h15v1h-15zM1014 182h5v1h-5zM1382 182h4v1h-4zM235 183h23v1h-23zM687 183h12v1h-12zM1007 183h19v1h-19zM93 184h5v1h-5zM343 184h13v1h-13zM422 184h9v1h-9zM497 184h17v1h-17zM719 184h17v1h-17zM827 184h10v1h-10zM1505 185h13v1h-13zM104 186h7v1h-7zM238 186h17v1h-17zM669 186h19v1h-19zM899 186h8v1h-8zM1106 186h20v1h-20zM1200 186h11v1h-11zM1317 186h13v1h-13zM1418 186h40v1h-40zM740 188h11v1h-11zM1102 188h13v1h-13zM217 189h9v1h-9z"/><path fill="#2d2d2d" d="M21 139h20v1h-20zM143 139h4v1h-4zM156 139h21v1h-21zM192 139h7v1h-7zM313 139h4v1h-4zM608 139h6v1h-6zM697 139h11v1h-11zM767 139h40v1h-40zM950 139h14v1h-14zM1052 139h15v1h-15zM1116 139h12v1h-12zM1182 139h12v1h-12zM1226 139h7v1h-7zM1309 139h19v1h-19zM1425 139h12v1h-12zM1519 139h20v1h-20zM1555 139h12v1h-12zM124 147h11v1h-11zM785 147h21v1h-21zM585 148h11v1h-11zM1319 148h15v1h-15zM1624 148h9v1h-9zM40 149h8v1h-8zM612 149h8v1h-8zM1659 149h16v1h-16zM90 150h9v1h-9zM691 150h15v1h-15zM32 151h3v1h-3zM47 151h20v1h-20zM229 151h17v1h-17zM322 151h13v1h-13zM435 151h5v1h-5zM571 151h11v1h-11zM701 151h22v1h-22zM1014 151h8v1h-8zM1044 151h7v1h-7zM1088 151h16v1h-16zM1193 151h10v1h-10zM1352 151h9v1h-9zM1498 151h10v1h-10zM1577 151h28v1h-28zM229 152h16v1h-16zM294 152h19v1h-19zM618 152h20v1h-20zM471 153h20v1h-20zM1303 153h14v1h-14zM49 168h13v1h-13zM19 171h21v1h-21zM74 171h15v1h-15zM127 171h18v1h-18zM180 171h14v1h-14zM493 171h22v1h-22zM585 171h11v1h-11zM682 171h4v1h-4zM870 171h13v1h-13zM910 171h16v1h-16zM934 171h7v1h-7zM1018 171h10v1h-10zM1171 171h19v1h-19zM1268 171h13v1h-13zM1309 171h6v1h-6zM1649 171h18v1h-18zM922 180h10v1h-10zM990 180h20v1h-20zM1354 180h10v1h-10zM1481 180h22v1h-22zM1616 180h14v1h-14zM1140 181h8v1h-8zM1286 181h18v1h-18zM1363 181h13v1h-13zM1396 181h8v1h-8zM1456 181h21v1h-21zM59 182h22v1h-22zM186 182h22v1h-22zM228 182h4v1h-4zM258 182h3v1h-3zM930 182h7v1h-7zM1072 182h8v1h-8zM0 183h6v1h-6zM134 183h22v1h-22zM288 183h4v1h-4zM422 183h17v1h-17zM892 183h8v1h-8zM1284 183h18v1h-18zM533 184h11v1h-11zM786 184h12v1h-12zM903 184h16v1h-16zM938 184h19v1h-19zM1011 184h18v1h-18zM1119 184h16v1h-16zM1166 184h11v1h-11zM1444 184h19v1h-19zM799 185h5v1h-5zM830 185h16v1h-16zM94 186h10v1h-10zM158 186h5v1h-5zM216 186h22v1h-22zM618 186h21v1h-21zM919 186h18v1h-18zM981 186h22v1h-22zM1033 186h6v1h-6zM1050 186h13v1h-13zM1286 186h4v1h-4zM1305 186h12v1h-12zM1547 186h19v1h-19zM1578 186h6v1h-6zM829 187h10v1h-10zM1069 187h11v1h-11zM1406 188h19v1h-19zM600 189h7v1h-7zM765 189h7v1h-7zM1518 189h7v1h-7z"/><path fill="#303030" d="M12 139h9v1h-9zM94 139h15v1h-15zM147 139h9v1h-9zM367 139h5v1h-5zM423 139h18v1h-18zM484 139h35v1h-35zM524 139h8v1h-8zM544 139h7v1h-7zM571 139h17v1h-17zM652 139h15v1h-15zM740 139h20v1h-20zM807 139h14v1h-14zM884 139h31v1h-31zM920 139h7v1h-7zM939 139h11v1h-11zM964 139h5v1h-5zM990 139h20v1h-20zM1067 139h13v1h-13zM1146 139h36v1h-36zM1212 139h14v1h-14zM1347 139h21v1h-21zM1603 139h17v1h-17zM1652 139h12v1h-12zM352 147h18v1h-18zM415 147h6v1h-6zM559 147h8v1h-8zM625 147h30v1h-30zM945 147h37v1h-37zM1050 147h18v1h-18zM1103 147h18v1h-18zM1339 147h23v1h-23zM315 148h17v1h-17zM660 148h22v1h-22zM1598 148h14v1h-14zM299 149h21v1h-21zM819 149h17v1h-17zM1182 149h5v1h-5zM1296 149h12v1h-12zM184 150h4v1h-4zM223 150h8v1h-8zM441 150h21v1h-21zM787 150h12v1h-12zM1189 150h15v1h-15zM1327 150h8v1h-8zM1455 150h19v1h-19zM1661 150h13v1h-13zM258 151h20v1h-20zM335 151h13v1h-13zM440 151h7v1h-7zM539 151h21v1h-21zM593 151h19v1h-19zM878 151h12v1h-12zM924 151h15v1h-15zM960 151h25v1h-25zM1004 151h10v1h-10zM1543 151h22v1h-22zM1621 151h10v1h-10zM1654 151h21v1h-21zM131 152h8v1h-8zM272 152h4v1h-4zM598 152h8v1h-8zM793 152h5v1h-5zM895 152h8v1h-8zM1253 152h12v1h-12zM1310 152h7v1h-7zM1395 152h24v1h-24zM1643 152h5v1h-5zM66 153h12v1h-12zM226 153h21v1h-21zM266 153h13v1h-13zM599 153h16v1h-16zM666 153h6v1h-6zM730 153h11v1h-11zM1371 153h15v1h-15zM214 171h3v1h-3zM522 171h20v1h-20zM596 171h8v1h-8zM788 171h9v1h-9zM839 171h31v1h-31zM941 171h16v1h-16zM1139 171h22v1h-22zM1247 171h21v1h-21zM1315 171h12v1h-12zM1476 171h19v1h-19zM1514 171h19v1h-19zM1595 171h4v1h-4zM1614 171h7v1h-7zM1226 181h5v1h-5zM1309 181h5v1h-5zM1444 181h12v1h-12zM1493 181h15v1h-15zM1534 181h17v1h-17zM6 182h10v1h-10zM159 182h13v1h-13zM282 182h18v1h-18zM317 182h13v1h-13zM818 182h11v1h-11zM852 182h9v1h-9zM989 182h5v1h-5zM1157 182h5v1h-5zM1565 182h21v1h-21zM1624 182h13v1h-13zM90 183h4v1h-4zM618 183h18v1h-18zM851 183h5v1h-5zM906 183h4v1h-4zM930 183h9v1h-9zM970 183h13v1h-13zM1043 183h12v1h-12zM1507 183h5v1h-5zM0 184h9v1h-9zM887 184h16v1h-16zM968 184h14v1h-14zM1051 184h5v1h-5zM1279 184h18v1h-18zM1398 184h5v1h-5zM1463 184h31v1h-31zM1540 184h35v1h-35zM1636 184h1v1h-1zM316 185h11v1h-11zM361 185h21v1h-21zM867 185h4v1h-4zM1014 185h13v1h-13zM1145 185h19v1h-19zM1422 185h11v1h-11zM14 186h41v1h-41zM181 186h22v1h-22zM639 186h24v1h-24zM1063 186h20v1h-20zM1134 186h51v1h-51zM1253 186h27v1h-27zM1468 186h4v1h-4zM0 187h20v1h-20zM327 187h8v1h-8zM373 188h8v1h-8zM952 188h19v1h-19zM1278 188h11v1h-11zM1619 188h5v1h-5zM360 189h14v1h-14zM550 189h9v1h-9zM733 189h19v1h-19zM829 189h10v1h-10zM980 189h8v1h-8z"/><path fill="#333333" d="M267 139h13v1h-13zM327 139h22v1h-22zM441 139h21v1h-21zM588 139h20v1h-20zM847 139h5v1h-5zM915 139h5v1h-5zM969 139h6v1h-6zM1080 139h21v1h-21zM1265 139h12v1h-12zM1333 139h14v1h-14zM1402 139h17v1h-17zM1459 139h22v1h-22zM1499 139h20v1h-20zM1664 139h11v1h-11zM156 147h13v1h-13zM258 147h16v1h-16zM314 147h12v1h-12zM758 147h13v1h-13zM823 147h9v1h-9zM1602 147h7v1h-7zM1650 147h22v1h-22zM1007 148h22v1h-22zM1304 148h11v1h-11zM1334 148h18v1h-18zM220 149h16v1h-16zM476 149h7v1h-7zM580 149h8v1h-8zM625 149h21v1h-21zM652 149h11v1h-11zM693 149h6v1h-6zM950 149h15v1h-15zM1025 149h21v1h-21zM1402 149h15v1h-15zM1440 149h21v1h-21zM176 150h8v1h-8zM420 150h15v1h-15zM714 150h17v1h-17zM1314 150h13v1h-13zM1474 150h14v1h-14zM1502 150h7v1h-7zM1535 150h29v1h-29zM1648 150h13v1h-13zM0 151h10v1h-10zM153 151h5v1h-5zM348 151h16v1h-16zM380 151h20v1h-20zM723 151h9v1h-9zM745 151h11v1h-11zM829 151h4v1h-4zM1000 151h4v1h-4zM1022 151h22v1h-22zM1068 151h14v1h-14zM1285 151h14v1h-14zM1336 151h16v1h-16zM93 152h7v1h-7zM414 152h12v1h-12zM572 152h3v1h-3zM832 152h21v1h-21zM973 152h33v1h-33zM1068 152h10v1h-10zM1188 152h21v1h-21zM1216 152h4v1h-4zM1282 152h9v1h-9zM1480 152h21v1h-21zM898 153h4v1h-4zM1037 153h26v1h-26zM1239 153h21v1h-21zM1674 153h1v1h-1zM398 167h22v1h-22zM1024 167h6v1h-6zM847 168h33v1h-33zM952 168h21v1h-21zM139 170h8v1h-8zM1014 170h4v1h-4zM40 171h7v1h-7zM311 171h20v1h-20zM352 171h12v1h-12zM405 171h15v1h-15zM451 171h11v1h-11zM542 171h19v1h-19zM634 171h39v1h-39zM704 171h27v1h-27zM739 171h23v1h-23zM1348 171h10v1h-10zM1371 171h18v1h-18zM1599 171h15v1h-15zM1015 180h14v1h-14zM1102 180h8v1h-8zM1170 180h5v1h-5zM1219 180h13v1h-13zM1248 180h8v1h-8zM1389 180h8v1h-8zM1503 180h5v1h-5zM898 181h20v1h-20zM1404 181h11v1h-11zM1570 181h41v1h-41zM43 182h16v1h-16zM81 182h30v1h-30zM427 182h6v1h-6zM479 182h15v1h-15zM523 182h6v1h-6zM567 182h12v1h-12zM621 182h12v1h-12zM667 182h19v1h-19zM692 182h21v1h-21zM780 182h16v1h-16zM839 182h13v1h-13zM1162 182h16v1h-16zM1315 182h20v1h-20zM1416 182h32v1h-32zM1498 182h6v1h-6zM22 183h18v1h-18zM223 183h5v1h-5zM439 183h9v1h-9zM451 183h15v1h-15zM480 183h5v1h-5zM491 183h11v1h-11zM510 183h14v1h-14zM546 183h20v1h-20zM646 183h6v1h-6zM740 183h5v1h-5zM910 183h10v1h-10zM983 183h24v1h-24zM1087 183h8v1h-8zM1525 183h10v1h-10zM1609 183h20v1h-20zM61 184h11v1h-11zM179 184h9v1h-9zM242 184h12v1h-12zM297 184h10v1h-10zM448 184h2v1h-2zM616 184h20v1h-20zM657 184h13v1h-13zM754 184h9v1h-9zM768 184h18v1h-18zM1038 184h13v1h-13zM1342 184h12v1h-12zM1387 184h6v1h-6zM1424 184h20v1h-20zM327 185h4v1h-4zM350 185h11v1h-11zM605 185h10v1h-10zM1056 185h11v1h-11zM1119 185h19v1h-19zM1243 185h8v1h-8zM1410 185h12v1h-12zM1540 185h8v1h-8zM55 186h5v1h-5zM73 186h21v1h-21zM324 186h4v1h-4zM363 186h22v1h-22zM715 186h16v1h-16zM786 186h23v1h-23zM843 186h17v1h-17zM880 186h19v1h-19zM915 186h4v1h-4zM959 186h22v1h-22zM1024 186h4v1h-4zM1039 186h11v1h-11zM1126 186h8v1h-8zM1185 186h15v1h-15zM1216 186h5v1h-5zM1231 186h22v1h-22zM1330 186h17v1h-17zM1397 186h21v1h-21zM1520 186h7v1h-7zM1624 186h13v1h-13zM127 187h12v1h-12zM352 187h11v1h-11zM623 187h8v1h-8zM643 187h20v1h-20zM774 187h18v1h-18zM889 187h12v1h-12zM922 187h13v1h-13zM1432 187h18v1h-18zM1665 187h10v1h-10zM319 188h22v1h-22zM459 188h5v1h-5zM751 188h16v1h-16zM849 188h8v1h-8zM989 188h21v1h-21zM1087 188h15v1h-15zM1157 188h4v1h-4zM1289 188h22v1h-22zM1512 188h18v1h-18zM1658 188h17v1h-17zM5 189h14v1h-14zM145 189h10v1h-10zM409 189h22v1h-22zM526 189h5v1h-5zM580 189h4v1h-4zM632 189h18v1h-18zM839 189h19v1h-19zM921 189h22v1h-22zM1021 189h15v1h-15zM1229 189h16v1h-16zM1335 189h5v1h-5zM1361 189h18v1h-18z"/><path fill="#363636" d="M109 139h15v1h-15zM199 139h14v1h-14zM349 139h18v1h-18zM462 139h16v1h-16zM551 139h20v1h-20zM1010 139h11v1h-11zM1328 139h5v1h-5zM1584 139h10v1h-10zM0 147h19v1h-19zM106 147h9v1h-9zM147 147h9v1h-9zM216 147h22v1h-22zM384 147h4v1h-4zM407 147h8v1h-8zM481 147h17v1h-17zM703 147h20v1h-20zM771 147h10v1h-10zM857 147h15v1h-15zM982 147h6v1h-6zM992 147h8v1h-8zM1314 147h12v1h-12zM1362 147h16v1h-16zM1511 147h19v1h-19zM1577 147h15v1h-15zM56 148h19v1h-19zM90 148h19v1h-19zM163 148h22v1h-22zM275 148h16v1h-16zM543 148h12v1h-12zM650 148h10v1h-10zM858 148h9v1h-9zM919 148h24v1h-24zM955 148h7v1h-7zM998 148h9v1h-9zM1046 148h7v1h-7zM1114 148h30v1h-30zM1154 148h7v1h-7zM1612 148h12v1h-12zM1633 148h26v1h-26zM88 149h22v1h-22zM288 149h11v1h-11zM362 149h11v1h-11zM417 149h21v1h-21zM1356 149h16v1h-16zM1392 149h10v1h-10zM1559 149h25v1h-25zM165 150h11v1h-11zM219 150h4v1h-4zM383 150h37v1h-37zM497 150h8v1h-8zM522 150h20v1h-20zM647 150h22v1h-22zM679 150h12v1h-12zM706 150h8v1h-8zM799 150h18v1h-18zM839 150h8v1h-8zM951 150h14v1h-14zM972 150h10v1h-10zM997 150h2v1h-2zM1163 150h14v1h-14zM195 151h24v1h-24zM863 151h4v1h-4zM1135 151h4v1h-4zM1212 151h7v1h-7zM1261 151h4v1h-4zM1315 151h9v1h-9zM1485 151h9v1h-9zM1508 151h10v1h-10zM1605 151h16v1h-16zM30 152h4v1h-4zM54 152h11v1h-11zM245 152h4v1h-4zM313 152h15v1h-15zM358 152h35v1h-35zM398 152h16v1h-16zM426 152h14v1h-14zM765 152h13v1h-13zM1298 152h12v1h-12zM1419 152h14v1h-14zM1668 152h7v1h-7zM193 153h19v1h-19zM247 153h19v1h-19zM345 153h30v1h-30zM501 153h16v1h-16zM676 153h19v1h-19zM771 153h10v1h-10zM829 153h16v1h-16zM918 153h12v1h-12zM937 153h32v1h-32zM1011 153h5v1h-5zM1021 153h6v1h-6zM1063 153h8v1h-8zM1077 153h1v1h-1zM1184 153h20v1h-20zM1225 153h6v1h-6zM1273 153h9v1h-9zM1420 153h19v1h-19zM86 167h10v1h-10zM1095 167h8v1h-8zM1162 167h14v1h-14zM880 168h16v1h-16zM1288 168h8v1h-8zM1313 168h21v1h-21zM1525 168h15v1h-15zM42 169h13v1h-13zM969 169h13v1h-13zM1020 169h17v1h-17zM1181 169h13v1h-13zM1318 169h9v1h-9zM1417 169h9v1h-9zM1540 169h20v1h-20zM41 170h22v1h-22zM938 170h6v1h-6zM1201 170h13v1h-13zM47 171h16v1h-16zM69 171h5v1h-5zM475 171h4v1h-4zM570 171h15v1h-15zM995 171h6v1h-6zM1086 171h8v1h-8zM1130 171h9v1h-9zM1190 171h22v1h-22zM1582 171h13v1h-13zM1010 180h5v1h-5zM1072 180h11v1h-11zM1232 180h16v1h-16zM1282 180h11v1h-11zM1319 180h11v1h-11zM1349 180h5v1h-5zM1397 180h14v1h-14zM1442 180h22v1h-22zM1599 180h6v1h-6zM1630 180h7v1h-7zM918 181h8v1h-8zM1107 181h25v1h-25zM1148 181h14v1h-14zM1231 181h21v1h-21zM1276 181h4v1h-4zM1314 181h26v1h-26zM1508 181h5v1h-5zM111 182h17v1h-17zM208 182h11v1h-11zM261 182h15v1h-15zM330 182h14v1h-14zM392 182h35v1h-35zM529 182h17v1h-17zM633 182h28v1h-28zM861 182h40v1h-40zM975 182h14v1h-14zM994 182h16v1h-16zM1019 182h16v1h-16zM1102 182h20v1h-20zM1230 182h59v1h-59zM1335 182h17v1h-17zM1360 182h22v1h-22zM1483 182h15v1h-15zM1524 182h10v1h-10zM1604 182h20v1h-20zM40 183h17v1h-17zM665 183h22v1h-22zM718 183h22v1h-22zM856 183h6v1h-6zM872 183h14v1h-14zM960 183h10v1h-10zM1076 183h11v1h-11zM1106 183h18v1h-18zM1137 183h7v1h-7zM1208 183h18v1h-18zM1259 183h18v1h-18zM1453 183h4v1h-4zM1473 183h28v1h-28zM1512 183h13v1h-13zM142 184h21v1h-21zM283 184h14v1h-14zM327 184h16v1h-16zM563 184h18v1h-18zM601 184h15v1h-15zM636 184h12v1h-12zM798 184h10v1h-10zM1004 184h7v1h-7zM1135 184h18v1h-18zM1214 184h10v1h-10zM1380 184h7v1h-7zM1531 184h9v1h-9zM0 185h17v1h-17zM170 185h17v1h-17zM244 185h12v1h-12zM720 185h14v1h-14zM775 185h6v1h-6zM871 185h14v1h-14zM960 185h8v1h-8zM1027 185h9v1h-9zM1272 185h15v1h-15zM1348 185h22v1h-22zM1562 185h22v1h-22zM60 186h13v1h-13zM203 186h13v1h-13zM385 186h3v1h-3zM489 186h19v1h-19zM688 186h14v1h-14zM707 186h8v1h-8zM737 186h21v1h-21zM768 186h18v1h-18zM860 186h20v1h-20zM907 186h8v1h-8zM937 186h22v1h-22zM1095 186h5v1h-5zM1221 186h10v1h-10zM1369 186h12v1h-12zM1506 186h14v1h-14zM1609 186h15v1h-15zM218 187h24v1h-24zM249 187h19v1h-19zM440 187h11v1h-11zM682 187h36v1h-36zM872 187h17v1h-17zM901 187h11v1h-11zM1090 187h19v1h-19zM1128 187h33v1h-33zM1192 187h42v1h-42zM1244 187h19v1h-19zM1320 187h5v1h-5zM1385 187h21v1h-21zM6 188h25v1h-25zM48 188h12v1h-12zM79 188h4v1h-4zM360 188h13v1h-13zM580 188h18v1h-18zM670 188h36v1h-36zM862 188h10v1h-10zM1010 188h15v1h-15zM1263 188h15v1h-15zM1425 188h22v1h-22zM1467 188h7v1h-7zM1597 188h4v1h-4zM199 189h18v1h-18zM380 189h10v1h-10zM531 189h19v1h-19zM656 189h22v1h-22zM700 189h14v1h-14zM772 189h8v1h-8zM869 189h4v1h-4zM884 189h12v1h-12zM1065 189h12v1h-12zM1095 189h32v1h-32zM1419 189h21v1h-21zM1569 189h7v1h-7zM1598 189h5v1h-5zM1625 189h27v1h-27z"/><path fill="#393939" d="M280 139h21v1h-21zM727 139h13v1h-13zM821 139h4v1h-4zM863 139h21v1h-21zM975 139h7v1h-7zM1277 139h20v1h-20zM1387 139h15v1h-15zM242 147h16v1h-16zM388 147h9v1h-9zM533 147h26v1h-26zM612 147h13v1h-13zM688 147h15v1h-15zM781 147h4v1h-4zM806 147h11v1h-11zM836 147h9v1h-9zM872 147h36v1h-36zM940 147h5v1h-5zM1040 147h4v1h-4zM1082 147h5v1h-5zM1300 147h14v1h-14zM1326 147h13v1h-13zM1403 147h7v1h-7zM1441 147h18v1h-18zM1530 147h19v1h-19zM35 148h21v1h-21zM260 148h15v1h-15zM403 148h37v1h-37zM448 148h34v1h-34zM501 148h5v1h-5zM754 148h21v1h-21zM838 148h14v1h-14zM897 148h18v1h-18zM1075 148h17v1h-17zM1296 148h8v1h-8zM1409 148h15v1h-15zM262 149h22v1h-22zM328 149h19v1h-19zM483 149h19v1h-19zM524 149h16v1h-16zM561 149h6v1h-6zM759 149h22v1h-22zM937 149h13v1h-13zM965 149h14v1h-14zM1019 149h6v1h-6zM1105 149h16v1h-16zM1461 149h32v1h-32zM505 150h17v1h-17zM609 150h9v1h-9zM731 150h5v1h-5zM861 150h4v1h-4zM933 150h18v1h-18zM982 150h15v1h-15zM1019 150h21v1h-21zM1060 150h20v1h-20zM1139 150h15v1h-15zM1225 150h4v1h-4zM1249 150h21v1h-21zM1287 150h12v1h-12zM1572 150h11v1h-11zM287 151h6v1h-6zM400 151h35v1h-35zM464 151h13v1h-13zM756 151h16v1h-16zM890 151h17v1h-17zM1051 151h17v1h-17zM1104 151h31v1h-31zM120 152h11v1h-11zM139 152h17v1h-17zM249 152h10v1h-10zM276 152h11v1h-11zM464 152h7v1h-7zM539 152h33v1h-33zM813 152h19v1h-19zM927 152h22v1h-22zM1036 152h22v1h-22zM1163 152h8v1h-8zM1178 152h10v1h-10zM1265 152h4v1h-4zM1317 152h19v1h-19zM1358 152h19v1h-19zM1448 152h1v1h-1zM1471 152h9v1h-9zM0 153h5v1h-5zM53 153h13v1h-13zM94 153h9v1h-9zM132 153h15v1h-15zM171 153h22v1h-22zM212 153h14v1h-14zM390 153h13v1h-13zM549 153h14v1h-14zM615 153h12v1h-12zM645 153h21v1h-21zM850 153h18v1h-18zM930 153h7v1h-7zM982 153h7v1h-7zM1178 153h6v1h-6zM1328 153h43v1h-43zM1635 153h9v1h-9zM73 167h13v1h-13zM829 167h21v1h-21zM957 167h16v1h-16zM1512 167h19v1h-19zM1558 167h7v1h-7zM1665 167h10v1h-10zM0 168h9v1h-9zM71 168h16v1h-16zM108 168h14v1h-14zM1576 168h7v1h-7zM55 169h23v1h-23zM868 169h9v1h-9zM1132 169h12v1h-12zM1313 169h5v1h-5zM1327 169h10v1h-10zM1474 169h19v1h-19zM876 170h13v1h-13zM977 170h11v1h-11zM1018 170h10v1h-10zM1466 170h14v1h-14zM1552 170h8v1h-8zM151 171h14v1h-14zM1065 171h11v1h-11zM1100 171h15v1h-15zM1409 171h20v1h-20zM1501 171h13v1h-13zM1553 171h17v1h-17zM778 180h6v1h-6zM1029 180h7v1h-7zM1110 180h4v1h-4zM1364 180h25v1h-25zM1545 180h17v1h-17zM1578 180h21v1h-21zM1672 180h3v1h-3zM971 181h15v1h-15zM1005 181h11v1h-11zM1037 181h9v1h-9zM1068 181h15v1h-15zM1093 181h14v1h-14zM1187 181h22v1h-22zM1258 181h18v1h-18zM1280 181h6v1h-6zM1611 181h10v1h-10zM128 182h31v1h-31zM307 182h10v1h-10zM373 182h19v1h-19zM444 182h11v1h-11zM467 182h12v1h-12zM507 182h16v1h-16zM579 182h15v1h-15zM609 182h12v1h-12zM686 182h6v1h-6zM733 182h15v1h-15zM901 182h29v1h-29zM937 182h15v1h-15zM1080 182h18v1h-18zM1126 182h12v1h-12zM1178 182h16v1h-16zM1216 182h14v1h-14zM1534 182h13v1h-13zM57 183h22v1h-22zM258 183h13v1h-13zM318 183h7v1h-7zM524 183h22v1h-22zM754 183h20v1h-20zM808 183h21v1h-21zM886 183h6v1h-6zM920 183h10v1h-10zM1031 183h5v1h-5zM1124 183h13v1h-13zM1372 183h6v1h-6zM1400 183h5v1h-5zM1427 183h9v1h-9zM1457 183h16v1h-16zM1575 183h13v1h-13zM72 184h21v1h-21zM120 184h22v1h-22zM163 184h16v1h-16zM254 184h15v1h-15zM307 184h20v1h-20zM413 184h9v1h-9zM450 184h18v1h-18zM581 184h10v1h-10zM670 184h12v1h-12zM736 184h18v1h-18zM868 184h19v1h-19zM919 184h19v1h-19zM1000 184h4v1h-4zM1029 184h9v1h-9zM1112 184h7v1h-7zM1153 184h13v1h-13zM1177 184h24v1h-24zM1224 184h31v1h-31zM1275 184h4v1h-4zM1354 184h26v1h-26zM1393 184h5v1h-5zM1403 184h21v1h-21zM1494 184h20v1h-20zM1526 184h5v1h-5zM1603 184h13v1h-13zM1623 184h13v1h-13zM106 185h14v1h-14zM187 185h20v1h-20zM691 185h11v1h-11zM905 185h6v1h-6zM1002 185h12v1h-12zM1071 185h21v1h-21zM1164 185h7v1h-7zM1178 185h7v1h-7zM1233 185h10v1h-10zM1337 185h5v1h-5zM1385 185h9v1h-9zM1548 185h4v1h-4zM1584 185h14v1h-14zM1618 185h4v1h-4zM124 186h11v1h-11zM177 186h4v1h-4zM255 186h17v1h-17zM350 186h13v1h-13zM610 186h8v1h-8zM1527 186h20v1h-20zM44 187h19v1h-19zM70 187h15v1h-15zM139 187h19v1h-19zM398 187h14v1h-14zM527 187h4v1h-4zM537 187h19v1h-19zM792 187h10v1h-10zM839 187h9v1h-9zM912 187h10v1h-10zM975 187h6v1h-6zM1161 187h10v1h-10zM1489 187h19v1h-19zM1575 187h20v1h-20zM60 188h11v1h-11zM163 188h16v1h-16zM205 188h15v1h-15zM259 188h23v1h-23zM480 188h10v1h-10zM509 188h20v1h-20zM633 188h23v1h-23zM718 188h4v1h-4zM780 188h20v1h-20zM924 188h7v1h-7zM1025 188h18v1h-18zM1115 188h11v1h-11zM1181 188h7v1h-7zM1200 188h18v1h-18zM1230 188h12v1h-12zM1584 188h13v1h-13zM19 189h38v1h-38zM76 189h6v1h-6zM128 189h17v1h-17zM177 189h15v1h-15zM280 189h5v1h-5zM313 189h9v1h-9zM338 189h22v1h-22zM489 189h21v1h-21zM564 189h9v1h-9zM721 189h12v1h-12zM1077 189h18v1h-18zM1137 189h18v1h-18zM1490 189h9v1h-9zM1591 189h7v1h-7z"/><path fill="#3c3c3c" d="M213 139h21v1h-21zM301 139h12v1h-12zM26 147h21v1h-21zM82 147h19v1h-19zM115 147h9v1h-9zM135 147h12v1h-12zM326 147h26v1h-26zM447 147h16v1h-16zM521 147h12v1h-12zM601 147h11v1h-11zM669 147h11v1h-11zM845 147h7v1h-7zM917 147h17v1h-17zM1011 147h29v1h-29zM1068 147h14v1h-14zM1087 147h16v1h-16zM1172 147h6v1h-6zM1199 147h12v1h-12zM1231 147h12v1h-12zM1410 147h16v1h-16zM1459 147h4v1h-4zM1485 147h26v1h-26zM1549 147h16v1h-16zM1609 147h5v1h-5zM1633 147h17v1h-17zM109 148h16v1h-16zM185 148h15v1h-15zM348 148h36v1h-36zM440 148h8v1h-8zM522 148h21v1h-21zM555 148h30v1h-30zM596 148h20v1h-20zM682 148h14v1h-14zM711 148h10v1h-10zM733 148h21v1h-21zM775 148h22v1h-22zM867 148h30v1h-30zM915 148h4v1h-4zM1144 148h10v1h-10zM1189 148h12v1h-12zM1247 148h6v1h-6zM1424 148h34v1h-34zM1471 148h32v1h-32zM1573 148h7v1h-7zM110 149h6v1h-6zM167 149h10v1h-10zM182 149h16v1h-16zM213 149h7v1h-7zM347 149h5v1h-5zM382 149h16v1h-16zM453 149h11v1h-11zM699 149h18v1h-18zM731 149h22v1h-22zM868 149h10v1h-10zM888 149h13v1h-13zM911 149h16v1h-16zM987 149h12v1h-12zM1066 149h5v1h-5zM1344 149h12v1h-12zM1372 149h20v1h-20zM1433 149h7v1h-7zM1531 149h28v1h-28zM158 150h7v1h-7zM242 150h10v1h-10zM298 150h12v1h-12zM561 150h7v1h-7zM590 150h19v1h-19zM817 150h22v1h-22zM882 150h17v1h-17zM1040 150h20v1h-20zM1107 150h13v1h-13zM1177 150h12v1h-12zM1229 150h20v1h-20zM1375 150h22v1h-22zM1593 150h20v1h-20zM1630 150h18v1h-18zM1674 150h1v1h-1zM21 151h11v1h-11zM661 151h19v1h-19zM918 151h6v1h-6zM1139 151h8v1h-8zM1299 151h16v1h-16zM1533 151h10v1h-10zM259 152h13v1h-13zM440 152h13v1h-13zM853 152h42v1h-42zM903 152h24v1h-24zM1020 152h16v1h-16zM1058 152h10v1h-10zM1233 152h9v1h-9zM1269 152h13v1h-13zM1347 152h11v1h-11zM1377 152h18v1h-18zM1433 152h15v1h-15zM1636 152h7v1h-7zM5 153h13v1h-13zM147 153h24v1h-24zM375 153h15v1h-15zM563 153h25v1h-25zM627 153h18v1h-18zM716 153h14v1h-14zM757 153h14v1h-14zM781 153h19v1h-19zM814 153h15v1h-15zM845 153h5v1h-5zM902 153h16v1h-16zM1027 153h10v1h-10zM1071 153h6v1h-6zM1103 153h7v1h-7zM1153 153h14v1h-14zM1260 153h7v1h-7zM1282 153h21v1h-21zM52 167h21v1h-21zM115 167h15v1h-15zM978 167h10v1h-10zM1051 167h11v1h-11zM1386 167h26v1h-26zM1445 167h8v1h-8zM1565 167h20v1h-20zM1660 167h5v1h-5zM9 168h16v1h-16zM87 168h7v1h-7zM122 168h23v1h-23zM408 168h12v1h-12zM938 168h1v1h-1zM1163 168h8v1h-8zM1296 168h17v1h-17zM1487 168h19v1h-19zM1540 168h10v1h-10zM399 169h8v1h-8zM416 169h4v1h-4zM938 169h8v1h-8zM1081 169h13v1h-13zM1144 169h6v1h-6zM1194 169h13v1h-13zM1493 169h8v1h-8zM922 170h16v1h-16zM944 170h19v1h-19zM1050 170h13v1h-13zM1073 170h13v1h-13zM1135 170h18v1h-18zM1179 170h22v1h-22zM1214 170h22v1h-22zM1277 170h20v1h-20zM1454 170h12v1h-12zM1494 170h15v1h-15zM1578 170h12v1h-12zM432 171h4v1h-4zM818 171h14v1h-14zM1058 171h7v1h-7zM1533 171h20v1h-20zM789 180h9v1h-9zM893 180h8v1h-8zM932 180h37v1h-37zM1114 180h15v1h-15zM1175 180h29v1h-29zM1256 180h26v1h-26zM1293 180h4v1h-4zM1464 180h5v1h-5zM1562 180h16v1h-16zM932 181h21v1h-21zM997 181h8v1h-8zM1132 181h8v1h-8zM1162 181h13v1h-13zM1376 181h20v1h-20zM1425 181h4v1h-4zM1477 181h16v1h-16zM1513 181h21v1h-21zM0 182h6v1h-6zM33 182h10v1h-10zM219 182h9v1h-9zM300 182h7v1h-7zM455 182h12v1h-12zM546 182h21v1h-21zM760 182h20v1h-20zM829 182h10v1h-10zM1056 182h16v1h-16zM1098 182h4v1h-4zM1122 182h4v1h-4zM1138 182h19v1h-19zM1386 182h30v1h-30zM1455 182h20v1h-20zM1508 182h16v1h-16zM172 183h16v1h-16zM201 183h22v1h-22zM308 183h10v1h-10zM419 183h3v1h-3zM652 183h13v1h-13zM745 183h9v1h-9zM793 183h15v1h-15zM862 183h10v1h-10zM900 183h6v1h-6zM939 183h21v1h-21zM1026 183h5v1h-5zM1036 183h7v1h-7zM1055 183h7v1h-7zM1144 183h13v1h-13zM1174 183h34v1h-34zM1254 183h5v1h-5zM1501 183h6v1h-6zM202 184h13v1h-13zM356 184h13v1h-13zM378 184h6v1h-6zM400 184h13v1h-13zM514 184h19v1h-19zM544 184h19v1h-19zM591 184h10v1h-10zM682 184h4v1h-4zM1056 184h21v1h-21zM1091 184h21v1h-21zM1201 184h13v1h-13zM1297 184h20v1h-20zM1616 184h7v1h-7zM70 185h21v1h-21zM256 185h8v1h-8zM615 185h23v1h-23zM653 185h17v1h-17zM702 185h9v1h-9zM804 185h14v1h-14zM943 185h17v1h-17zM968 185h22v1h-22zM1046 185h10v1h-10zM1251 185h21v1h-21zM1317 185h20v1h-20zM1342 185h6v1h-6zM1370 185h15v1h-15zM1394 185h16v1h-16zM1489 185h16v1h-16zM411 186h12v1h-12zM731 186h6v1h-6zM809 186h18v1h-18zM1003 186h21v1h-21zM1100 186h6v1h-6zM1290 186h15v1h-15zM1347 186h22v1h-22zM1381 186h16v1h-16zM1584 186h25v1h-25zM20 187h10v1h-10zM158 187h13v1h-13zM312 187h15v1h-15zM384 187h14v1h-14zM434 187h6v1h-6zM507 187h20v1h-20zM531 187h6v1h-6zM572 187h14v1h-14zM663 187h13v1h-13zM935 187h12v1h-12zM981 187h21v1h-21zM1080 187h10v1h-10zM1406 187h18v1h-18zM1465 187h7v1h-7zM1562 187h13v1h-13zM1595 187h18v1h-18zM31 188h17v1h-17zM71 188h8v1h-8zM83 188h14v1h-14zM124 188h5v1h-5zM298 188h21v1h-21zM490 188h19v1h-19zM833 188h6v1h-6zM872 188h36v1h-36zM935 188h17v1h-17zM1056 188h5v1h-5zM1195 188h5v1h-5zM1218 188h12v1h-12zM1242 188h21v1h-21zM1343 188h22v1h-22zM1398 188h8v1h-8zM1451 188h9v1h-9zM1546 188h16v1h-16zM1572 188h12v1h-12zM101 189h27v1h-27zM390 189h10v1h-10zM457 189h12v1h-12zM573 189h7v1h-7zM607 189h11v1h-11zM678 189h22v1h-22zM714 189h7v1h-7zM797 189h15v1h-15zM996 189h12v1h-12zM1048 189h17v1h-17zM1258 189h25v1h-25zM1307 189h28v1h-28zM1379 189h20v1h-20zM1469 189h10v1h-10z"/><path fill="#3f3f3f" d="M1046 139h6v1h-6zM19 147h7v1h-7zM67 147h15v1h-15zM202 147h9v1h-9zM370 147h14v1h-14zM397 147h10v1h-10zM421 147h26v1h-26zM723 147h18v1h-18zM852 147h5v1h-5zM988 147h4v1h-4zM1121 147h16v1h-16zM1227 147h4v1h-4zM1263 147h26v1h-26zM1463 147h18v1h-18zM16 148h19v1h-19zM75 148h15v1h-15zM332 148h16v1h-16zM384 148h19v1h-19zM696 148h15v1h-15zM797 148h27v1h-27zM852 148h6v1h-6zM943 148h12v1h-12zM975 148h11v1h-11zM1092 148h22v1h-22zM1161 148h10v1h-10zM1253 148h43v1h-43zM1395 148h14v1h-14zM1516 148h15v1h-15zM1553 148h20v1h-20zM1659 148h14v1h-14zM75 149h5v1h-5zM198 149h15v1h-15zM373 149h9v1h-9zM438 149h15v1h-15zM540 149h21v1h-21zM567 149h13v1h-13zM878 149h10v1h-10zM901 149h10v1h-10zM979 149h8v1h-8zM1071 149h22v1h-22zM1154 149h28v1h-28zM1187 149h21v1h-21zM1244 149h20v1h-20zM1274 149h6v1h-6zM1323 149h21v1h-21zM1620 149h11v1h-11zM0 150h34v1h-34zM205 150h14v1h-14zM252 150h10v1h-10zM341 150h14v1h-14zM361 150h22v1h-22zM435 150h6v1h-6zM480 150h5v1h-5zM568 150h22v1h-22zM632 150h15v1h-15zM736 150h18v1h-18zM763 150h24v1h-24zM912 150h21v1h-21zM965 150h7v1h-7zM1335 150h21v1h-21zM1419 150h36v1h-36zM1513 150h22v1h-22zM1564 150h8v1h-8zM1613 150h17v1h-17zM612 151h21v1h-21zM0 152h6v1h-6zM156 152h12v1h-12zM177 152h4v1h-4zM328 152h9v1h-9zM393 152h5v1h-5zM650 152h10v1h-10zM757 152h8v1h-8zM1078 152h9v1h-9zM1108 152h12v1h-12zM1159 152h4v1h-4zM1209 152h7v1h-7zM1501 152h12v1h-12zM1648 152h13v1h-13zM18 153h35v1h-35zM78 153h16v1h-16zM103 153h14v1h-14zM419 153h17v1h-17zM491 153h10v1h-10zM517 153h13v1h-13zM886 153h12v1h-12zM1267 153h6v1h-6zM1631 153h4v1h-4zM346 167h14v1h-14zM850 167h7v1h-7zM909 167h29v1h-29zM1018 167h6v1h-6zM1030 167h21v1h-21zM1137 167h6v1h-6zM1272 167h8v1h-8zM1432 167h13v1h-13zM94 168h14v1h-14zM812 168h19v1h-19zM896 168h4v1h-4zM1020 168h12v1h-12zM1065 168h9v1h-9zM1095 168h6v1h-6zM1147 168h16v1h-16zM1171 168h19v1h-19zM1262 168h13v1h-13zM1365 168h18v1h-18zM1413 168h7v1h-7zM1434 168h22v1h-22zM1506 168h19v1h-19zM1550 168h10v1h-10zM1592 168h8v1h-8zM1625 168h6v1h-6zM0 169h4v1h-4zM131 169h16v1h-16zM840 169h7v1h-7zM890 169h20v1h-20zM1006 169h12v1h-12zM1094 169h9v1h-9zM1160 169h14v1h-14zM1207 169h17v1h-17zM1361 169h38v1h-38zM1560 169h18v1h-18zM1654 169h21v1h-21zM833 170h19v1h-19zM900 170h22v1h-22zM1006 170h8v1h-8zM1170 170h9v1h-9zM1626 170h5v1h-5zM1671 170h4v1h-4zM1458 171h18v1h-18zM901 180h21v1h-21zM969 180h21v1h-21zM1151 180h19v1h-19zM1297 180h22v1h-22zM1411 180h17v1h-17zM1508 180h25v1h-25zM1605 180h11v1h-11zM953 181h18v1h-18zM1016 181h21v1h-21zM1060 181h8v1h-8zM1083 181h10v1h-10zM1214 181h12v1h-12zM1352 181h11v1h-11zM1415 181h10v1h-10zM1429 181h15v1h-15zM1551 181h19v1h-19zM344 182h21v1h-21zM661 182h6v1h-6zM958 182h17v1h-17zM1194 182h11v1h-11zM1547 182h18v1h-18zM6 183h7v1h-7zM94 183h4v1h-4zM115 183h19v1h-19zM271 183h17v1h-17zM292 183h16v1h-16zM340 183h48v1h-48zM502 183h8v1h-8zM566 183h20v1h-20zM783 183h10v1h-10zM1248 183h6v1h-6zM1277 183h7v1h-7zM1322 183h44v1h-44zM1414 183h13v1h-13zM1436 183h17v1h-17zM1556 183h19v1h-19zM1629 183h8v1h-8zM31 184h30v1h-30zM188 184h14v1h-14zM269 184h14v1h-14zM369 184h9v1h-9zM384 184h16v1h-16zM694 184h21v1h-21zM763 184h5v1h-5zM961 184h7v1h-7zM1255 184h20v1h-20zM1317 184h4v1h-4zM1520 184h6v1h-6zM1592 184h11v1h-11zM233 185h11v1h-11zM264 185h30v1h-30zM598 185h7v1h-7zM670 185h21v1h-21zM818 185h12v1h-12zM990 185h12v1h-12zM1171 185h7v1h-7zM1185 185h22v1h-22zM1303 185h14v1h-14zM1450 185h39v1h-39zM1534 185h6v1h-6zM1552 185h10v1h-10zM1598 185h20v1h-20zM1622 185h15v1h-15zM163 186h14v1h-14zM423 186h15v1h-15zM553 186h4v1h-4zM1472 186h13v1h-13zM1566 186h12v1h-12zM30 187h14v1h-14zM100 187h27v1h-27zM171 187h15v1h-15zM201 187h17v1h-17zM268 187h26v1h-26zM455 187h20v1h-20zM486 187h21v1h-21zM568 187h4v1h-4zM718 187h9v1h-9zM737 187h9v1h-9zM812 187h17v1h-17zM861 187h11v1h-11zM1002 187h15v1h-15zM1109 187h19v1h-19zM1345 187h23v1h-23zM1424 187h8v1h-8zM1450 187h15v1h-15zM1508 187h14v1h-14zM1540 187h14v1h-14zM220 188h23v1h-23zM402 188h21v1h-21zM559 188h7v1h-7zM570 188h10v1h-10zM706 188h12v1h-12zM800 188h33v1h-33zM839 188h10v1h-10zM931 188h4v1h-4zM971 188h18v1h-18zM1061 188h14v1h-14zM1136 188h21v1h-21zM1321 188h22v1h-22zM1365 188h9v1h-9zM1491 188h21v1h-21zM1530 188h12v1h-12zM1562 188h10v1h-10zM1624 188h34v1h-34zM0 189h5v1h-5zM57 189h19v1h-19zM92 189h9v1h-9zM257 189h17v1h-17zM812 189h17v1h-17zM1008 189h7v1h-7zM1169 189h21v1h-21zM1440 189h12v1h-12zM1603 189h22v1h-22zM1652 189h15v1h-15z"/><path fill="#424242" d="M1481 139h18v1h-18zM169 147h17v1h-17zM293 147h21v1h-21zM498 147h23v1h-23zM655 147h14v1h-14zM680 147h8v1h-8zM741 147h17v1h-17zM817 147h6v1h-6zM832 147h4v1h-4zM908 147h9v1h-9zM934 147h6v1h-6zM1044 147h6v1h-6zM1137 147h14v1h-14zM1211 147h16v1h-16zM1243 147h20v1h-20zM1289 147h5v1h-5zM1378 147h25v1h-25zM1565 147h12v1h-12zM1592 147h10v1h-10zM0 148h16v1h-16zM125 148h22v1h-22zM300 148h15v1h-15zM482 148h19v1h-19zM639 148h11v1h-11zM721 148h12v1h-12zM1029 148h17v1h-17zM1171 148h18v1h-18zM1352 148h21v1h-21zM1458 148h13v1h-13zM1503 148h13v1h-13zM19 149h21v1h-21zM116 149h10v1h-10zM236 149h26v1h-26zM398 149h19v1h-19zM502 149h22v1h-22zM678 149h15v1h-15zM717 149h14v1h-14zM811 149h8v1h-8zM836 149h10v1h-10zM927 149h10v1h-10zM1121 149h21v1h-21zM1208 149h16v1h-16zM1631 149h6v1h-6zM147 150h11v1h-11zM231 150h11v1h-11zM262 150h19v1h-19zM485 150h12v1h-12zM865 150h10v1h-10zM1080 150h20v1h-20zM1120 150h11v1h-11zM1154 150h9v1h-9zM1270 150h7v1h-7zM1583 150h10v1h-10zM278 151h9v1h-9zM447 151h13v1h-13zM65 152h28v1h-28zM100 152h20v1h-20zM212 152h17v1h-17zM453 152h11v1h-11zM778 152h15v1h-15zM949 152h7v1h-7zM1120 152h8v1h-8zM1171 152h7v1h-7zM1242 152h11v1h-11zM1291 152h7v1h-7zM1449 152h6v1h-6zM1513 152h8v1h-8zM1542 152h12v1h-12zM403 153h16v1h-16zM436 153h19v1h-19zM462 153h9v1h-9zM588 153h11v1h-11zM695 153h21v1h-21zM969 153h13v1h-13zM1016 153h5v1h-5zM1078 153h5v1h-5zM1167 153h11v1h-11zM1204 153h21v1h-21zM1317 153h11v1h-11zM1459 153h12v1h-12zM1549 153h17v1h-17zM0 167h16v1h-16zM37 167h15v1h-15zM388 167h10v1h-10zM823 167h6v1h-6zM893 167h16v1h-16zM973 167h5v1h-5zM1300 167h20v1h-20zM1333 167h4v1h-4zM1453 167h38v1h-38zM1496 167h16v1h-16zM41 168h8v1h-8zM388 168h20v1h-20zM933 168h5v1h-5zM939 168h13v1h-13zM1006 168h12v1h-12zM1050 168h15v1h-15zM1101 168h20v1h-20zM1190 168h34v1h-34zM1334 168h3v1h-3zM1383 168h14v1h-14zM1420 168h14v1h-14zM4 169h16v1h-16zM847 169h21v1h-21zM910 169h28v1h-28zM964 169h5v1h-5zM982 169h6v1h-6zM1055 169h12v1h-12zM1253 169h60v1h-60zM1426 169h10v1h-10zM1453 169h21v1h-21zM1501 169h21v1h-21zM1530 169h10v1h-10zM0 170h20v1h-20zM388 170h32v1h-32zM812 170h21v1h-21zM865 170h11v1h-11zM963 170h14v1h-14zM1063 170h10v1h-10zM1086 170h10v1h-10zM1110 170h25v1h-25zM1251 170h17v1h-17zM1297 170h29v1h-29zM1372 170h40v1h-40zM1419 170h17v1h-17zM1480 170h5v1h-5zM1594 170h9v1h-9zM1615 170h7v1h-7zM165 171h15v1h-15zM1083 180h6v1h-6zM1204 180h15v1h-15zM1330 180h19v1h-19zM1637 180h20v1h-20zM1304 181h5v1h-5zM1340 181h12v1h-12zM1637 181h3v1h-3zM16 182h17v1h-17zM276 182h6v1h-6zM433 182h11v1h-11zM494 182h13v1h-13zM713 182h20v1h-20zM748 182h12v1h-12zM796 182h22v1h-22zM952 182h6v1h-6zM1205 182h11v1h-11zM1293 182h22v1h-22zM1504 182h4v1h-4zM1586 182h18v1h-18zM13 183h9v1h-9zM388 183h12v1h-12zM415 183h4v1h-4zM448 183h3v1h-3zM607 183h11v1h-11zM778 183h5v1h-5zM1095 183h11v1h-11zM1226 183h22v1h-22zM1405 183h9v1h-9zM1588 183h21v1h-21zM9 184h22v1h-22zM98 184h22v1h-22zM486 184h11v1h-11zM686 184h8v1h-8zM846 184h22v1h-22zM957 184h4v1h-4zM982 184h18v1h-18zM1321 184h15v1h-15zM1514 184h6v1h-6zM36 185h34v1h-34zM91 185h15v1h-15zM133 185h22v1h-22zM207 185h9v1h-9zM294 185h22v1h-22zM331 185h19v1h-19zM544 185h16v1h-16zM638 185h15v1h-15zM711 185h9v1h-9zM734 185h16v1h-16zM1036 185h10v1h-10zM1213 185h20v1h-20zM1287 185h16v1h-16zM467 186h22v1h-22zM1644 186h6v1h-6zM186 187h15v1h-15zM412 187h22v1h-22zM451 187h4v1h-4zM475 187h11v1h-11zM614 187h9v1h-9zM631 187h12v1h-12zM727 187h10v1h-10zM855 187h6v1h-6zM947 187h28v1h-28zM1050 187h19v1h-19zM1234 187h10v1h-10zM1263 187h17v1h-17zM1325 187h20v1h-20zM1368 187h17v1h-17zM1522 187h18v1h-18zM1634 187h14v1h-14zM97 188h27v1h-27zM141 188h22v1h-22zM179 188h6v1h-6zM243 188h4v1h-4zM282 188h16v1h-16zM423 188h9v1h-9zM614 188h19v1h-19zM656 188h7v1h-7zM722 188h18v1h-18zM908 188h16v1h-16zM1075 188h12v1h-12zM1126 188h10v1h-10zM1161 188h20v1h-20zM1374 188h24v1h-24zM1447 188h4v1h-4zM192 189h7v1h-7zM274 189h6v1h-6zM285 189h6v1h-6zM374 189h6v1h-6zM400 189h9v1h-9zM431 189h26v1h-26zM559 189h5v1h-5zM618 189h14v1h-14zM873 189h11v1h-11zM896 189h19v1h-19zM943 189h19v1h-19zM1127 189h10v1h-10zM1155 189h14v1h-14zM1190 189h22v1h-22zM1223 189h6v1h-6zM1283 189h20v1h-20zM1340 189h21v1h-21zM1452 189h17v1h-17zM1479 189h11v1h-11zM1525 189h26v1h-26zM1667 189h8v1h-8z"/><path fill="#454545" d="M60 139h21v1h-21zM101 147h5v1h-5zM463 147h18v1h-18zM1426 147h15v1h-15zM1614 147h19v1h-19zM1672 147h3v1h-3zM159 148h4v1h-4zM238 148h22v1h-22zM632 148h7v1h-7zM962 148h13v1h-13zM986 148h12v1h-12zM1235 148h12v1h-12zM1315 148h4v1h-4zM1373 148h22v1h-22zM1531 148h22v1h-22zM1580 148h18v1h-18zM48 149h10v1h-10zM80 149h8v1h-8zM146 149h21v1h-21zM177 149h5v1h-5zM284 149h4v1h-4zM320 149h8v1h-8zM588 149h24v1h-24zM781 149h30v1h-30zM1093 149h12v1h-12zM1142 149h12v1h-12zM1224 149h20v1h-20zM1417 149h16v1h-16zM1493 149h17v1h-17zM1584 149h30v1h-30zM1637 149h22v1h-22zM281 150h17v1h-17zM310 150h31v1h-31zM462 150h18v1h-18zM875 150h7v1h-7zM1277 150h10v1h-10zM1299 150h15v1h-15zM1356 150h19v1h-19zM293 151h18v1h-18zM633 151h17v1h-17zM680 151h21v1h-21zM50 152h4v1h-4zM168 152h9v1h-9zM287 152h7v1h-7zM337 152h21v1h-21zM638 152h12v1h-12zM798 152h15v1h-15zM1128 152h9v1h-9zM1567 152h9v1h-9zM1661 152h7v1h-7zM117 153h15v1h-15zM320 153h20v1h-20zM672 153h4v1h-4zM741 153h16v1h-16zM1098 153h5v1h-5zM1110 153h16v1h-16zM1231 153h8v1h-8zM1400 153h20v1h-20zM1439 153h10v1h-10zM1450 153h9v1h-9zM1478 153h16v1h-16zM1509 153h9v1h-9zM1566 153h14v1h-14zM359 166h1v1h-1zM1595 166h5v1h-5zM16 167h21v1h-21zM96 167h19v1h-19zM812 167h11v1h-11zM1006 167h12v1h-12zM1202 167h22v1h-22zM1491 167h5v1h-5zM1625 167h6v1h-6zM62 168h9v1h-9zM831 168h16v1h-16zM921 168h12v1h-12zM1074 168h21v1h-21zM1121 168h11v1h-11zM1247 168h7v1h-7zM1275 168h13v1h-13zM1397 168h6v1h-6zM1456 168h10v1h-10zM1564 168h12v1h-12zM1617 168h8v1h-8zM78 169h26v1h-26zM125 169h6v1h-6zM407 169h9v1h-9zM812 169h28v1h-28zM1018 169h2v1h-2zM1067 169h14v1h-14zM1155 169h5v1h-5zM1399 169h18v1h-18zM1598 169h21v1h-21zM25 170h16v1h-16zM889 170h11v1h-11zM1160 170h10v1h-10zM1366 170h6v1h-6zM1436 170h7v1h-7zM1485 170h9v1h-9zM1515 170h22v1h-22zM1590 170h4v1h-4zM1622 170h4v1h-4zM1089 180h13v1h-13zM1533 180h12v1h-12zM1046 181h14v1h-14zM1209 181h5v1h-5zM1252 181h6v1h-6zM1653 181h16v1h-16zM1035 182h21v1h-21zM1475 182h8v1h-8zM98 183h17v1h-17zM156 183h16v1h-16zM188 183h13v1h-13zM400 183h15v1h-15zM699 183h19v1h-19zM829 183h22v1h-22zM1062 183h14v1h-14zM1366 183h6v1h-6zM1535 183h21v1h-21zM1660 183h14v1h-14zM215 184h27v1h-27zM648 184h9v1h-9zM1077 184h14v1h-14zM1336 184h6v1h-6zM17 185h19v1h-19zM120 185h13v1h-13zM387 185h1v1h-1zM411 185h16v1h-16zM464 185h17v1h-17zM570 185h13v1h-13zM750 185h13v1h-13zM781 185h18v1h-18zM846 185h21v1h-21zM885 185h20v1h-20zM911 185h32v1h-32zM1092 185h27v1h-27zM1138 185h7v1h-7zM1433 185h17v1h-17zM452 186h11v1h-11zM557 186h4v1h-4zM242 187h7v1h-7zM308 187h4v1h-4zM335 187h17v1h-17zM746 187h10v1h-10zM848 187h7v1h-7zM1031 187h19v1h-19zM1280 187h19v1h-19zM1472 187h17v1h-17zM1554 187h8v1h-8zM1613 187h21v1h-21zM1648 187h17v1h-17zM0 188h6v1h-6zM129 188h12v1h-12zM341 188h19v1h-19zM381 188h21v1h-21zM432 188h16v1h-16zM464 188h16v1h-16zM529 188h6v1h-6zM554 188h5v1h-5zM767 188h13v1h-13zM1043 188h13v1h-13zM1474 188h17v1h-17zM1601 188h18v1h-18zM155 189h22v1h-22zM226 189h31v1h-31zM469 189h16v1h-16zM584 189h16v1h-16zM752 189h13v1h-13zM780 189h17v1h-17zM858 189h11v1h-11zM962 189h18v1h-18zM988 189h8v1h-8zM1036 189h12v1h-12zM1212 189h11v1h-11zM1399 189h20v1h-20zM1551 189h18v1h-18z"/><path fill="#484848" d="M186 147h16v1h-16zM211 147h5v1h-5zM579 147h22v1h-22zM1000 147h11v1h-11zM1151 147h21v1h-21zM1178 147h21v1h-21zM1294 147h6v1h-6zM1481 147h4v1h-4zM147 148h12v1h-12zM219 148h19v1h-19zM291 148h9v1h-9zM506 148h16v1h-16zM1053 148h22v1h-22zM1201 148h8v1h-8zM126 149h20v1h-20zM620 149h5v1h-5zM646 149h6v1h-6zM663 149h15v1h-15zM1046 149h20v1h-20zM847 150h14v1h-14zM899 150h13v1h-13zM1204 150h21v1h-21zM1397 150h22v1h-22zM1488 150h14v1h-14zM34 152h10v1h-10zM204 152h8v1h-8zM1006 152h14v1h-14zM1137 152h22v1h-22zM1336 152h11v1h-11zM530 153h19v1h-19zM868 153h18v1h-18zM1083 153h15v1h-15zM1141 153h12v1h-12zM1471 153h7v1h-7zM1532 153h17v1h-17zM1644 153h30v1h-30zM130 167h17v1h-17zM857 167h15v1h-15zM938 167h19v1h-19zM1072 167h17v1h-17zM1143 167h19v1h-19zM1361 167h25v1h-25zM1412 167h20v1h-20zM1531 167h18v1h-18zM1607 167h18v1h-18zM973 168h15v1h-15zM1018 168h2v1h-2zM1132 168h11v1h-11zM1254 168h8v1h-8zM1466 168h21v1h-21zM1583 168h9v1h-9zM1654 168h7v1h-7zM20 169h22v1h-22zM104 169h21v1h-21zM388 169h11v1h-11zM1037 169h18v1h-18zM1103 169h29v1h-29zM1150 169h5v1h-5zM1247 169h6v1h-6zM1578 169h15v1h-15zM63 170h22v1h-22zM1268 170h9v1h-9zM1443 170h11v1h-11zM1509 170h6v1h-6zM1537 170h15v1h-15zM1560 170h18v1h-18zM1658 170h13v1h-13zM926 181h6v1h-6zM986 181h11v1h-11zM636 183h10v1h-10zM774 183h4v1h-4zM1157 183h17v1h-17zM155 185h15v1h-15zM216 185h6v1h-6zM382 185h5v1h-5zM498 185h9v1h-9zM530 185h14v1h-14zM560 185h10v1h-10zM763 185h12v1h-12zM1067 185h4v1h-4zM1523 185h11v1h-11zM401 186h10v1h-10zM63 187h7v1h-7zM85 187h15v1h-15zM294 187h14v1h-14zM363 187h21v1h-21zM586 187h8v1h-8zM676 187h6v1h-6zM802 187h10v1h-10zM1171 187h21v1h-21zM448 188h11v1h-11zM598 188h16v1h-16zM663 188h7v1h-7zM1460 188h7v1h-7zM291 189h22v1h-22zM485 189h4v1h-4zM510 189h16v1h-16zM915 189h6v1h-6zM1245 189h13v1h-13zM1499 189h19v1h-19zM1576 189h15v1h-15z"/><path fill="#4b4b4b" d="M81 139h4v1h-4zM47 147h20v1h-20zM238 147h4v1h-4zM200 148h19v1h-19zM1229 148h6v1h-6zM1673 148h2v1h-2zM58 149h17v1h-17zM352 149h10v1h-10zM1264 149h10v1h-10zM1308 149h15v1h-15zM1510 149h21v1h-21zM188 150h17v1h-17zM1100 150h7v1h-7zM1131 150h8v1h-8zM508 151h20v1h-20zM1087 152h21v1h-21zM1554 152h13v1h-13zM1596 152h21v1h-21zM279 153h20v1h-20zM340 153h5v1h-5zM989 153h22v1h-22zM1386 153h14v1h-14zM1518 153h14v1h-14zM1580 153h51v1h-51zM1588 166h7v1h-7zM1608 166h2v1h-2zM1062 167h10v1h-10zM1089 167h6v1h-6zM1103 167h34v1h-34zM1176 167h26v1h-26zM1320 167h13v1h-13zM1549 167h9v1h-9zM1585 167h22v1h-22zM145 168h2v1h-2zM1361 168h4v1h-4zM1403 168h10v1h-10zM1560 168h4v1h-4zM1600 168h17v1h-17zM946 169h18v1h-18zM1522 169h8v1h-8zM20 170h5v1h-5zM85 170h27v1h-27zM126 170h13v1h-13zM1028 170h22v1h-22zM1153 170h7v1h-7zM1640 181h13v1h-13zM1637 182h6v1h-6zM485 183h6v1h-6zM1302 183h20v1h-20zM1378 183h22v1h-22zM1648 183h12v1h-12zM1575 184h17v1h-17zM1637 184h11v1h-11zM1659 184h6v1h-6zM427 185h18v1h-18zM507 185h10v1h-10zM583 185h15v1h-15zM1207 185h6v1h-6zM1643 185h11v1h-11zM328 186h14v1h-14zM395 186h6v1h-6zM438 186h14v1h-14zM529 186h24v1h-24zM556 187h12v1h-12zM594 187h20v1h-20zM756 187h18v1h-18zM1017 187h14v1h-14zM185 188h20v1h-20zM535 188h13v1h-13zM566 188h4v1h-4zM857 188h5v1h-5zM1188 188h7v1h-7zM82 189h10v1h-10zM322 189h16v1h-16zM1015 189h6v1h-6z"/><path fill="#4e4e4e" d="M567 147h12v1h-12zM616 148h16v1h-16zM1209 148h20v1h-20zM0 149h19v1h-19zM464 149h12v1h-12zM542 150h19v1h-19zM669 150h10v1h-10zM44 152h6v1h-6zM1631 152h5v1h-5zM455 153h7v1h-7zM1280 167h4v1h-4zM1654 167h6v1h-6zM900 168h21v1h-21zM1143 168h4v1h-4zM1436 169h17v1h-17zM1593 169h5v1h-5zM1096 170h14v1h-14zM1236 170h15v1h-15zM1412 170h7v1h-7zM1654 170h4v1h-4zM1643 182h12v1h-12zM466 183h14v1h-14zM1648 184h6v1h-6zM388 185h17v1h-17zM481 185h17v1h-17zM306 186h18v1h-18zM388 186h7v1h-7zM463 186h4v1h-4zM508 186h21v1h-21zM574 186h24v1h-24zM1299 187h21v1h-21zM1311 188h10v1h-10zM650 189h6v1h-6zM1303 189h4v1h-4z"/><path fill="#515151" d="M753 149h6v1h-6zM618 150h14v1h-14zM1509 150h4v1h-4zM956 152h17v1h-17zM1220 152h13v1h-13zM1521 152h21v1h-21zM1126 153h15v1h-15zM1449 153h1v1h-1zM338 166h21v1h-21zM1600 166h8v1h-8zM1661 168h14v1h-14zM877 169h13v1h-13zM112 170h14v1h-14zM1361 170h5v1h-5zM1603 170h12v1h-12zM223 171h16v1h-16zM1673 182h2v1h-2zM586 183h21v1h-21zM222 185h11v1h-11zM445 185h19v1h-19zM517 185h13v1h-13zM1518 185h5v1h-5zM561 186h13v1h-13zM247 188h12v1h-12zM1542 188h4v1h-4z"/><path fill="#545454" d="M1455 152h16v1h-16zM1494 153h15v1h-15zM338 167h8v1h-8zM1247 167h8v1h-8zM1284 167h16v1h-16zM1032 168h18v1h-18zM1619 169h12v1h-12zM852 170h13v1h-13zM1326 170h11v1h-11zM1655 182h18v1h-18zM1674 183h1v1h-1zM1637 185h6v1h-6zM1666 185h9v1h-9zM1637 186h7v1h-7zM1650 186h25v1h-25z"/><path fill="#575757" d="M1617 152h14v1h-14zM872 167h21v1h-21zM1255 167h17v1h-17zM1174 169h7v1h-7zM1036 180h22v1h-22zM1654 184h5v1h-5zM1665 184h10v1h-10zM405 185h6v1h-6z"/><path fill="#5a5a5a" d="M1576 152h20v1h-20zM25 168h16v1h-16zM1669 181h6v1h-6zM1637 183h11v1h-11z"/><path fill="#5d5d5d" d="M1654 185h12v1h-12z"/></g></g><g filter="url(#fC)"><g transform="translate(102 51) scale(1 4.865)" shape-rendering="crispEdges"><path fill="#000000" d="M159 154h22v1h-22zM246 154h5v1h-5zM331 154h12v1h-12zM363 154h7v1h-7zM418 154h6v1h-6zM507 154h4v1h-4zM537 154h9v1h-9zM667 154h8v1h-8zM747 154h9v1h-9zM793 154h11v1h-11zM999 154h16v1h-16zM1238 154h4v1h-4zM1345 154h10v1h-10zM1576 154h5v1h-5zM167 155h10v1h-10zM418 155h18v1h-18zM576 155h4v1h-4zM638 155h4v1h-4zM686 155h9v1h-9zM707 155h11v1h-11zM751 155h18v1h-18zM804 155h8v1h-8zM992 155h3v1h-3zM1014 155h2v1h-2zM1239 155h8v1h-8zM1337 155h14v1h-14zM1523 155h10v1h-10zM1647 155h7v1h-7zM329 156h3v1h-3zM483 156h20v1h-20zM614 156h2v1h-2zM652 156h10v1h-10zM721 156h6v1h-6zM770 156h4v1h-4zM784 156h10v1h-10zM802 156h10v1h-10zM1234 156h11v1h-11zM1342 156h19v1h-19zM1644 156h5v1h-5zM167 157h6v1h-6zM246 157h3v1h-3zM269 157h5v1h-5zM539 157h12v1h-12zM593 157h3v1h-3zM616 157h7v1h-7zM639 157h12v1h-12zM668 157h9v1h-9zM758 157h12v1h-12zM784 157h10v1h-10zM798 157h7v1h-7zM992 157h7v1h-7zM1224 157h8v1h-8zM1244 157h3v1h-3zM1338 157h16v1h-16zM1518 157h15v1h-15zM1631 157h9v1h-9zM187 158h4v1h-4zM211 158h12v1h-12zM228 158h3v1h-3zM292 158h4v1h-4zM344 158h12v1h-12zM442 158h3v1h-3zM459 158h9v1h-9zM495 158h6v1h-6zM526 158h8v1h-8zM539 158h7v1h-7zM604 158h10v1h-10zM650 158h6v1h-6zM674 158h5v1h-5zM730 158h9v1h-9zM759 158h8v1h-8zM785 158h10v1h-10zM802 158h12v1h-12zM828 158h4v1h-4zM885 158h2v1h-2zM931 158h5v1h-5zM1069 158h6v1h-6zM1235 158h3v1h-3zM1523 158h9v1h-9zM1633 158h10v1h-10zM235 159h9v1h-9zM415 159h10v1h-10zM444 159h12v1h-12zM528 159h9v1h-9zM554 159h8v1h-8zM611 159h10v1h-10zM643 159h11v1h-11zM704 159h12v1h-12zM751 159h8v1h-8zM769 159h8v1h-8zM830 159h4v1h-4zM922 159h3v1h-3zM998 159h8v1h-8zM1066 159h11v1h-11zM1096 159h8v1h-8zM1526 159h6v1h-6zM1647 159h8v1h-8zM32 160h5v1h-5zM55 160h4v1h-4zM109 160h10v1h-10zM151 160h9v1h-9zM243 160h9v1h-9zM408 160h10v1h-10zM425 160h9v1h-9zM505 160h9v1h-9zM623 160h7v1h-7zM702 160h3v1h-3zM761 160h12v1h-12zM787 160h21v1h-21zM831 160h4v1h-4zM1012 160h11v1h-11zM1065 160h6v1h-6zM1108 160h4v1h-4zM1176 160h5v1h-5zM1214 160h10v1h-10zM1233 160h12v1h-12zM1252 160h17v1h-17zM1319 160h12v1h-12zM1340 160h9v1h-9zM1408 160h3v1h-3zM1430 160h4v1h-4zM1469 160h9v1h-9zM1488 160h3v1h-3zM1548 160h6v1h-6zM24 162h9v1h-9zM59 162h15v1h-15zM1425 162h3v1h-3zM1568 162h5v1h-5zM223 163h5v1h-5zM409 163h6v1h-6zM470 163h3v1h-3zM407 164h20v1h-20zM553 164h9v1h-9zM636 164h11v1h-11zM714 164h6v1h-6zM1527 165h6v1h-6zM432 166h4v1h-4zM726 166h2v1h-2zM587 167h12v1h-12zM745 167h9v1h-9zM809 167h3v1h-3zM1245 167h2v1h-2zM196 168h3v1h-3zM239 168h5v1h-5zM684 168h3v1h-3zM796 168h4v1h-4zM1232 168h15v1h-15zM234 169h8v1h-8zM306 169h3v1h-3zM337 169h10v1h-10zM429 169h11v1h-11zM565 169h8v1h-8zM988 169h7v1h-7zM287 170h4v1h-4zM682 170h4v1h-4zM808 170h4v1h-4zM433 172h10v1h-10zM577 172h7v1h-7zM594 172h15v1h-15zM772 172h6v1h-6zM1180 172h7v1h-7zM1243 172h11v1h-11zM1572 172h11v1h-11zM468 173h10v1h-10zM541 173h11v1h-11zM557 173h6v1h-6zM692 173h5v1h-5zM853 173h15v1h-15zM962 173h5v1h-5zM1152 173h9v1h-9zM1386 173h11v1h-11zM1624 173h11v1h-11zM368 174h5v1h-5zM419 174h10v1h-10zM640 174h4v1h-4zM901 174h7v1h-7zM919 174h6v1h-6zM1397 174h11v1h-11zM247 175h7v1h-7zM361 175h8v1h-8zM137 177h10v1h-10zM461 177h5v1h-5zM521 177h21v1h-21zM618 177h13v1h-13zM742 177h14v1h-14zM0 178h6v1h-6zM23 178h8v1h-8zM98 178h13v1h-13zM158 178h8v1h-8zM242 178h5v1h-5zM250 178h3v1h-3zM262 178h5v1h-5zM274 178h6v1h-6zM304 178h6v1h-6zM453 178h11v1h-11zM569 178h12v1h-12zM604 178h3v1h-3zM630 178h12v1h-12zM695 178h8v1h-8zM1279 178h10v1h-10zM100 179h3v1h-3zM136 179h9v1h-9zM150 179h3v1h-3zM169 179h9v1h-9zM221 179h10v1h-10zM283 179h17v1h-17zM312 179h5v1h-5zM338 179h7v1h-7zM375 179h11v1h-11zM466 179h3v1h-3zM480 179h9v1h-9zM546 179h12v1h-12zM643 179h6v1h-6zM679 179h1v1h-1zM745 179h15v1h-15zM1462 179h4v1h-4zM15 180h11v1h-11zM52 180h5v1h-5zM75 180h18v1h-18zM99 180h10v1h-10zM141 180h7v1h-7zM179 180h9v1h-9zM235 180h6v1h-6zM247 180h6v1h-6zM277 180h13v1h-13zM308 180h12v1h-12zM331 180h12v1h-12zM374 180h11v1h-11zM450 180h8v1h-8zM560 180h5v1h-5zM18 181h18v1h-18zM85 181h6v1h-6zM94 181h11v1h-11zM138 181h8v1h-8zM170 181h15v1h-15zM248 181h5v1h-5zM272 181h8v1h-8zM290 181h6v1h-6zM306 181h5v1h-5zM339 181h3v1h-3zM364 181h5v1h-5zM383 181h5v1h-5z"/><path fill="#030303" d="M1616 136h9v1h-9zM1243 137h6v1h-6zM274 154h6v1h-6zM487 154h11v1h-11zM804 154h8v1h-8zM338 155h6v1h-6zM778 155h2v1h-2zM1236 155h3v1h-3zM584 156h11v1h-11zM759 156h11v1h-11zM992 156h13v1h-13zM1337 156h5v1h-5zM1649 156h5v1h-5zM173 157h6v1h-6zM623 157h7v1h-7zM197 158h14v1h-14zM255 158h7v1h-7zM439 158h3v1h-3zM708 158h11v1h-11zM724 158h6v1h-6zM814 158h3v1h-3zM821 158h7v1h-7zM919 158h12v1h-12zM464 159h5v1h-5zM485 159h4v1h-4zM621 159h5v1h-5zM674 159h10v1h-10zM1006 159h10v1h-10zM1664 159h3v1h-3zM43 160h12v1h-12zM119 160h11v1h-11zM640 160h5v1h-5zM904 160h11v1h-11zM1040 160h7v1h-7zM1071 160h20v1h-20zM1283 160h9v1h-9zM1393 160h7v1h-7zM1543 160h2v1h-2zM1593 160h7v1h-7zM316 163h12v1h-12zM330 164h12v1h-12zM454 164h7v1h-7zM542 165h4v1h-4zM673 165h12v1h-12zM320 166h7v1h-7zM1230 167h7v1h-7zM789 168h7v1h-7zM994 168h12v1h-12zM474 169h10v1h-10zM282 170h5v1h-5zM632 170h7v1h-7zM778 172h1v1h-1zM1155 172h4v1h-4zM519 173h9v1h-9zM748 173h10v1h-10zM1103 173h7v1h-7zM520 174h10v1h-10zM1350 174h7v1h-7zM1160 175h9v1h-9zM61 176h8v1h-8zM147 177h4v1h-4zM361 177h3v1h-3zM440 177h7v1h-7zM825 177h6v1h-6zM857 177h4v1h-4zM1274 177h7v1h-7zM1319 177h9v1h-9zM1524 177h12v1h-12zM230 178h7v1h-7zM327 178h8v1h-8zM339 178h10v1h-10zM469 178h4v1h-4zM477 178h7v1h-7zM740 179h5v1h-5zM882 179h12v1h-12zM0 180h7v1h-7zM320 180h11v1h-11zM350 180h6v1h-6zM193 181h3v1h-3zM253 181h8v1h-8zM375 181h8v1h-8z"/><path fill="#060606" d="M1346 136h12v1h-12zM1313 138h10v1h-10zM269 154h5v1h-5zM446 154h3v1h-3zM635 154h5v1h-5zM663 154h4v1h-4zM1242 154h5v1h-5zM1355 154h6v1h-6zM248 155h5v1h-5zM344 155h5v1h-5zM368 155h2v1h-2zM457 155h10v1h-10zM503 155h2v1h-2zM657 155h10v1h-10zM730 155h9v1h-9zM769 155h9v1h-9zM1513 155h10v1h-10zM173 156h8v1h-8zM252 156h6v1h-6zM332 156h3v1h-3zM446 156h8v1h-8zM527 156h7v1h-7zM598 156h8v1h-8zM1510 156h4v1h-4zM1639 156h5v1h-5zM596 157h5v1h-5zM748 157h10v1h-10zM398 158h3v1h-3zM744 158h7v1h-7zM817 158h4v1h-4zM1510 158h4v1h-4zM1647 158h7v1h-7zM164 159h5v1h-5zM178 159h8v1h-8zM244 159h9v1h-9zM264 159h7v1h-7zM357 159h3v1h-3zM785 159h9v1h-9zM1224 159h5v1h-5zM1532 159h1v1h-1zM59 160h4v1h-4zM75 160h8v1h-8zM160 160h9v1h-9zM389 160h9v1h-9zM418 160h7v1h-7zM514 160h10v1h-10zM554 160h4v1h-4zM564 160h4v1h-4zM705 160h12v1h-12zM915 160h9v1h-9zM997 160h10v1h-10zM1103 160h5v1h-5zM1151 160h17v1h-17zM1224 160h4v1h-4zM1539 160h4v1h-4zM1612 160h11v1h-11zM16 162h8v1h-8zM1596 162h8v1h-8zM109 163h12v1h-12zM599 163h10v1h-10zM342 164h3v1h-3zM300 165h10v1h-10zM481 165h4v1h-4zM204 166h10v1h-10zM418 166h4v1h-4zM740 166h3v1h-3zM576 167h11v1h-11zM754 167h7v1h-7zM591 168h3v1h-3zM811 168h1v1h-1zM1224 168h8v1h-8zM795 169h10v1h-10zM184 170h6v1h-6zM196 170h12v1h-12zM357 170h12v1h-12zM554 172h4v1h-4zM723 172h10v1h-10zM862 172h14v1h-14zM963 172h4v1h-4zM1460 172h4v1h-4zM402 173h12v1h-12zM592 173h11v1h-11zM996 173h3v1h-3zM1008 173h5v1h-5zM1190 173h6v1h-6zM361 174h3v1h-3zM1565 174h6v1h-6zM87 176h9v1h-9zM103 177h11v1h-11zM151 177h7v1h-7zM358 177h3v1h-3zM388 177h10v1h-10zM466 177h8v1h-8zM247 178h3v1h-3zM430 178h16v1h-16zM561 178h8v1h-8zM670 178h5v1h-5zM1639 178h6v1h-6zM153 179h12v1h-12zM1271 179h10v1h-10zM1305 179h4v1h-4zM1335 179h12v1h-12zM188 180h11v1h-11zM356 180h11v1h-11zM469 180h12v1h-12zM618 180h12v1h-12zM66 181h3v1h-3z"/><path fill="#090909" d="M1588 137h9v1h-9zM251 154h9v1h-9zM353 154h5v1h-5zM436 154h4v1h-4zM596 154h10v1h-10zM321 155h8v1h-8zM651 155h6v1h-6zM675 155h11v1h-11zM1631 155h4v1h-4zM246 156h6v1h-6zM347 156h8v1h-8zM418 156h1v1h-1zM595 156h3v1h-3zM698 156h3v1h-3zM1005 156h10v1h-10zM1245 156h2v1h-2zM155 157h12v1h-12zM325 157h5v1h-5zM338 157h12v1h-12zM418 157h6v1h-6zM472 157h10v1h-10zM805 157h6v1h-6zM999 157h11v1h-11zM0 158h1v1h-1zM243 158h8v1h-8zM296 158h4v1h-4zM401 158h12v1h-12zM445 158h10v1h-10zM594 158h5v1h-5zM614 158h10v1h-10zM1047 158h22v1h-22zM377 159h10v1h-10zM425 159h11v1h-11zM489 159h7v1h-7zM607 159h4v1h-4zM814 159h4v1h-4zM950 159h4v1h-4zM1084 159h12v1h-12zM1671 159h4v1h-4zM220 160h11v1h-11zM608 160h7v1h-7zM630 160h10v1h-10zM677 160h3v1h-3zM688 160h14v1h-14zM745 160h4v1h-4zM773 160h7v1h-7zM840 160h5v1h-5zM867 160h3v1h-3zM880 160h12v1h-12zM968 160h12v1h-12zM1007 160h5v1h-5zM1125 160h9v1h-9zM1275 160h8v1h-8zM1302 160h6v1h-6zM1400 160h8v1h-8zM1478 160h7v1h-7zM1216 162h5v1h-5zM1271 162h5v1h-5zM1440 162h5v1h-5zM1533 162h5v1h-5zM662 163h9v1h-9zM229 168h10v1h-10zM333 168h11v1h-11zM477 168h10v1h-10zM347 169h12v1h-12zM805 169h5v1h-5zM1004 169h2v1h-2zM1005 170h1v1h-1zM630 172h4v1h-4zM651 172h11v1h-11zM715 172h5v1h-5zM1187 172h6v1h-6zM1235 172h4v1h-4zM1435 172h5v1h-5zM1456 172h4v1h-4zM720 173h9v1h-9zM951 173h4v1h-4zM1202 173h12v1h-12zM376 174h3v1h-3zM618 174h3v1h-3zM845 174h4v1h-4zM968 174h9v1h-9zM983 174h12v1h-12zM1011 174h4v1h-4zM1201 174h7v1h-7zM1341 174h9v1h-9zM1384 174h7v1h-7zM570 175h5v1h-5zM43 177h12v1h-12zM200 177h7v1h-7zM297 177h9v1h-9zM447 177h3v1h-3zM62 178h10v1h-10zM208 178h3v1h-3zM446 178h7v1h-7zM740 178h11v1h-11zM1075 178h12v1h-12zM1318 178h9v1h-9zM0 179h4v1h-4zM34 179h18v1h-18zM103 179h4v1h-4zM117 179h19v1h-19zM178 179h14v1h-14zM238 179h12v1h-12zM266 179h7v1h-7zM148 180h10v1h-10zM253 180h3v1h-3zM630 180h6v1h-6zM661 180h3v1h-3zM105 181h9v1h-9zM117 181h12v1h-12zM185 181h8v1h-8zM206 181h9v1h-9z"/><path fill="#0c0c0c" d="M747 136h8v1h-8zM1517 136h9v1h-9zM1294 137h10v1h-10zM1610 137h8v1h-8zM358 154h5v1h-5zM481 154h6v1h-6zM629 154h6v1h-6zM675 154h10v1h-10zM1337 154h8v1h-8zM276 155h4v1h-4zM360 155h5v1h-5zM474 155h12v1h-12zM535 155h6v1h-6zM609 155h7v1h-7zM642 155h9v1h-9zM695 155h12v1h-12zM721 155h6v1h-6zM1635 155h12v1h-12zM155 156h3v1h-3zM258 156h8v1h-8zM321 156h8v1h-8zM335 156h12v1h-12zM363 156h7v1h-7zM430 156h5v1h-5zM552 156h7v1h-7zM606 156h8v1h-8zM713 156h8v1h-8zM1224 156h4v1h-4zM482 157h12v1h-12zM500 157h11v1h-11zM712 157h10v1h-10zM770 157h6v1h-6zM794 157h4v1h-4zM811 157h1v1h-1zM1010 157h6v1h-6zM1651 157h3v1h-3zM178 158h4v1h-4zM665 158h9v1h-9zM963 158h1v1h-1zM1344 158h6v1h-6zM199 159h6v1h-6zM436 159h8v1h-8zM537 159h5v1h-5zM588 159h13v1h-13zM725 159h6v1h-6zM759 159h10v1h-10zM869 159h3v1h-3zM919 159h3v1h-3zM988 159h10v1h-10zM1229 159h16v1h-16zM1667 159h4v1h-4zM63 160h12v1h-12zM169 160h11v1h-11zM183 160h6v1h-6zM441 160h8v1h-8zM460 160h9v1h-9zM655 160h11v1h-11zM669 160h8v1h-8zM680 160h8v1h-8zM819 160h12v1h-12zM835 160h5v1h-5zM896 160h8v1h-8zM924 160h11v1h-11zM1023 160h3v1h-3zM1411 160h4v1h-4zM1423 160h4v1h-4zM1554 160h4v1h-4zM1567 160h11v1h-11zM1660 160h1v1h-1zM1119 162h12v1h-12zM1201 162h6v1h-6zM376 163h12v1h-12zM506 163h12v1h-12zM572 164h10v1h-10zM691 164h8v1h-8zM0 165h3v1h-3zM42 165h4v1h-4zM73 165h12v1h-12zM105 165h10v1h-10zM583 165h5v1h-5zM598 165h3v1h-3zM629 165h10v1h-10zM214 166h12v1h-12zM446 166h7v1h-7zM469 166h11v1h-11zM716 166h10v1h-10zM1510 166h1v1h-1zM466 167h9v1h-9zM1237 167h8v1h-8zM420 168h11v1h-11zM487 168h3v1h-3zM499 168h12v1h-12zM564 168h9v1h-9zM778 168h11v1h-11zM465 169h6v1h-6zM527 169h4v1h-4zM559 169h6v1h-6zM598 169h3v1h-3zM778 169h5v1h-5zM329 170h16v1h-16zM617 170h7v1h-7zM778 170h5v1h-5zM395 172h8v1h-8zM705 172h10v1h-10zM849 172h5v1h-5zM943 172h4v1h-4zM971 172h7v1h-7zM1647 172h3v1h-3zM399 173h3v1h-3zM897 173h7v1h-7zM1120 173h5v1h-5zM1256 173h7v1h-7zM456 174h8v1h-8zM1391 174h6v1h-6zM1614 174h7v1h-7zM1627 174h12v1h-12zM5 175h12v1h-12zM78 175h11v1h-11zM928 175h6v1h-6zM250 176h8v1h-8zM163 177h5v1h-5zM708 177h9v1h-9zM1218 177h5v1h-5zM6 178h10v1h-10zM78 178h16v1h-16zM335 178h4v1h-4zM650 178h8v1h-8zM688 178h7v1h-7zM719 178h12v1h-12zM165 179h4v1h-4zM363 179h12v1h-12zM433 179h9v1h-9zM573 179h2v1h-2zM670 179h9v1h-9zM852 179h10v1h-10zM164 180h11v1h-11zM256 180h4v1h-4zM302 180h3v1h-3zM425 180h7v1h-7zM446 180h4v1h-4zM493 180h6v1h-6zM547 180h5v1h-5zM7 181h3v1h-3zM48 181h7v1h-7zM69 181h3v1h-3zM224 181h12v1h-12zM280 181h5v1h-5zM296 181h10v1h-10z"/><path fill="#0f0f0f" d="M1487 138h6v1h-6zM1591 138h4v1h-4zM343 154h10v1h-10zM580 154h4v1h-4zM606 154h8v1h-8zM626 154h3v1h-3zM769 154h18v1h-18zM261 155h7v1h-7zM467 155h7v1h-7zM561 155h15v1h-15zM580 155h9v1h-9zM597 155h9v1h-9zM1351 155h10v1h-10zM158 156h10v1h-10zM272 156h8v1h-8zM638 156h3v1h-3zM701 156h6v1h-6zM749 156h2v1h-2zM257 157h3v1h-3zM494 157h6v1h-6zM601 157h3v1h-3zM663 157h5v1h-5zM686 157h19v1h-19zM280 158h5v1h-5zM332 158h6v1h-6zM413 158h11v1h-11zM430 158h4v1h-4zM553 158h11v1h-11zM578 158h5v1h-5zM739 158h5v1h-5zM776 158h9v1h-9zM878 158h7v1h-7zM978 158h6v1h-6zM990 158h9v1h-9zM1082 158h12v1h-12zM1226 158h9v1h-9zM0 159h1v1h-1zM227 159h8v1h-8zM405 159h10v1h-10zM577 159h8v1h-8zM731 159h4v1h-4zM777 159h4v1h-4zM803 159h11v1h-11zM1636 159h11v1h-11zM30 160h2v1h-2zM142 160h9v1h-9zM189 160h7v1h-7zM544 160h10v1h-10zM568 160h9v1h-9zM749 160h12v1h-12zM1036 160h4v1h-4zM1147 160h4v1h-4zM1197 160h8v1h-8zM1292 160h3v1h-3zM1354 160h9v1h-9zM148 162h4v1h-4zM1323 162h10v1h-10zM1433 162h3v1h-3zM273 163h12v1h-12zM415 163h5v1h-5zM31 164h3v1h-3zM395 164h9v1h-9zM659 164h11v1h-11zM433 165h11v1h-11zM546 165h12v1h-12zM639 165h10v1h-10zM498 166h4v1h-4zM515 166h3v1h-3zM799 166h10v1h-10zM1522 166h9v1h-9zM182 167h9v1h-9zM799 167h10v1h-10zM988 167h4v1h-4zM199 168h3v1h-3zM205 168h8v1h-8zM253 168h8v1h-8zM490 168h9v1h-9zM511 168h8v1h-8zM758 168h7v1h-7zM169 169h8v1h-8zM253 169h12v1h-12zM531 169h11v1h-11zM636 169h6v1h-6zM272 170h3v1h-3zM572 170h12v1h-12zM649 170h7v1h-7zM532 172h7v1h-7zM588 172h6v1h-6zM634 172h6v1h-6zM753 172h8v1h-8zM820 172h11v1h-11zM1219 172h5v1h-5zM1407 172h12v1h-12zM361 173h6v1h-6zM382 173h11v1h-11zM577 173h8v1h-8zM800 173h10v1h-10zM967 173h7v1h-7zM1196 173h3v1h-3zM1252 173h4v1h-4zM1263 173h10v1h-10zM1590 173h5v1h-5zM880 174h5v1h-5zM961 174h7v1h-7zM1420 174h23v1h-23zM1474 174h11v1h-11zM1497 174h3v1h-3zM1508 174h20v1h-20zM1544 174h11v1h-11zM1639 174h10v1h-10zM103 175h9v1h-9zM202 175h7v1h-7zM31 176h8v1h-8zM134 176h10v1h-10zM173 177h12v1h-12zM242 177h5v1h-5zM378 177h10v1h-10zM486 177h4v1h-4zM668 177h3v1h-3zM756 177h8v1h-8zM1064 177h7v1h-7zM1197 177h8v1h-8zM1230 177h6v1h-6zM1430 177h4v1h-4zM175 178h8v1h-8zM253 178h3v1h-3zM703 178h9v1h-9zM731 178h9v1h-9zM1004 178h5v1h-5zM1052 178h11v1h-11zM1218 178h5v1h-5zM1247 178h6v1h-6zM1674 178h1v1h-1zM4 179h3v1h-3zM327 179h11v1h-11zM423 179h10v1h-10zM527 179h9v1h-9zM840 179h12v1h-12zM862 179h10v1h-10zM974 179h10v1h-10zM1075 179h11v1h-11zM1495 179h12v1h-12zM41 180h11v1h-11zM57 180h3v1h-3zM109 180h12v1h-12zM158 180h3v1h-3zM199 180h11v1h-11zM305 180h3v1h-3zM441 180h5v1h-5zM595 180h7v1h-7zM731 180h12v1h-12zM763 180h12v1h-12zM311 181h9v1h-9z"/><path fill="#121212" d="M1539 136h15v1h-15zM1588 136h3v1h-3zM1473 137h9v1h-9zM1430 138h4v1h-4zM1623 138h5v1h-5zM260 154h9v1h-9zM424 154h12v1h-12zM563 154h4v1h-4zM721 154h8v1h-8zM992 154h7v1h-7zM1229 154h9v1h-9zM329 155h9v1h-9zM349 155h8v1h-8zM541 155h12v1h-12zM727 155h3v1h-3zM687 156h11v1h-11zM1519 156h11v1h-11zM249 157h8v1h-8zM511 157h5v1h-5zM551 157h15v1h-15zM677 157h9v1h-9zM1241 157h3v1h-3zM267 158h13v1h-13zM393 158h5v1h-5zM488 158h7v1h-7zM501 158h12v1h-12zM534 158h5v1h-5zM624 158h6v1h-6zM719 158h5v1h-5zM832 158h11v1h-11zM857 158h21v1h-21zM1339 158h5v1h-5zM1532 158h1v1h-1zM1643 158h4v1h-4zM220 159h7v1h-7zM496 159h11v1h-11zM694 159h5v1h-5zM0 160h1v1h-1zM180 160h3v1h-3zM196 160h4v1h-4zM237 160h3v1h-3zM372 160h6v1h-6zM532 160h12v1h-12zM615 160h8v1h-8zM944 160h11v1h-11zM980 160h9v1h-9zM1185 160h12v1h-12zM1532 160h7v1h-7zM1578 160h12v1h-12zM33 162h3v1h-3zM51 162h8v1h-8zM1154 162h11v1h-11zM1221 162h4v1h-4zM1252 162h9v1h-9zM1538 162h3v1h-3zM1657 162h3v1h-3zM1663 162h6v1h-6zM75 163h10v1h-10zM397 163h12v1h-12zM567 163h8v1h-8zM590 163h9v1h-9zM282 164h11v1h-11zM509 164h12v1h-12zM195 165h4v1h-4zM372 165h10v1h-10zM395 165h20v1h-20zM518 165h6v1h-6zM115 166h10v1h-10zM252 166h3v1h-3zM552 166h3v1h-3zM688 166h8v1h-8zM821 166h9v1h-9zM197 167h9v1h-9zM379 167h9v1h-9zM552 167h5v1h-5zM630 167h12v1h-12zM795 167h4v1h-4zM652 168h7v1h-7zM226 169h8v1h-8zM242 169h4v1h-4zM265 169h12v1h-12zM359 169h9v1h-9zM573 169h9v1h-9zM783 169h12v1h-12zM561 170h6v1h-6zM593 170h11v1h-11zM612 170h5v1h-5zM476 172h5v1h-5zM539 172h11v1h-11zM567 172h10v1h-10zM682 172h3v1h-3zM688 172h7v1h-7zM702 172h3v1h-3zM1045 172h1v1h-1zM1054 172h3v1h-3zM1393 172h5v1h-5zM1650 172h8v1h-8zM377 173h5v1h-5zM603 173h11v1h-11zM629 173h4v1h-4zM904 173h11v1h-11zM985 173h7v1h-7zM1098 173h5v1h-5zM1161 173h9v1h-9zM1199 173h3v1h-3zM1397 173h4v1h-4zM1603 173h5v1h-5zM1656 173h8v1h-8zM0 174h1v1h-1zM373 174h3v1h-3zM590 174h5v1h-5zM621 174h15v1h-15zM654 174h12v1h-12zM748 174h11v1h-11zM842 174h3v1h-3zM950 174h3v1h-3zM1092 174h6v1h-6zM1105 174h11v1h-11zM1121 174h10v1h-10zM1150 174h9v1h-9zM1178 174h7v1h-7zM1301 174h4v1h-4zM1357 174h10v1h-10zM394 175h4v1h-4zM0 176h12v1h-12zM246 176h4v1h-4zM293 176h12v1h-12zM185 177h6v1h-6zM337 177h4v1h-4zM775 177h3v1h-3zM793 177h4v1h-4zM910 177h5v1h-5zM1354 177h11v1h-11zM1437 177h9v1h-9zM1657 177h5v1h-5zM38 178h7v1h-7zM56 178h6v1h-6zM137 178h9v1h-9zM414 178h4v1h-4zM812 178h2v1h-2zM926 178h9v1h-9zM1182 178h3v1h-3zM1666 178h8v1h-8zM90 179h10v1h-10zM204 179h11v1h-11zM258 179h3v1h-3zM300 179h12v1h-12zM504 179h12v1h-12zM652 179h10v1h-10zM764 179h4v1h-4zM1143 179h6v1h-6zM1189 179h7v1h-7zM1579 179h6v1h-6zM7 180h8v1h-8zM131 180h6v1h-6zM161 180h3v1h-3zM175 180h4v1h-4zM210 180h10v1h-10zM260 180h17v1h-17zM367 180h4v1h-4zM418 180h7v1h-7zM602 180h6v1h-6zM647 180h7v1h-7zM689 180h12v1h-12zM754 180h5v1h-5zM10 181h8v1h-8zM72 181h7v1h-7zM91 181h3v1h-3zM196 181h10v1h-10zM261 181h11v1h-11zM325 181h6v1h-6z"/><path fill="#151515" d="M359 136h9v1h-9zM842 136h6v1h-6zM1375 136h8v1h-8zM1549 137h6v1h-6zM1367 138h11v1h-11zM461 154h10v1h-10zM685 154h36v1h-36zM1224 154h5v1h-5zM177 155h4v1h-4zM451 155h6v1h-6zM527 155h8v1h-8zM589 155h8v1h-8zM786 155h18v1h-18zM477 156h6v1h-6zM534 156h7v1h-7zM1049 156h2v1h-2zM1120 156h2v1h-2zM1301 156h6v1h-6zM1530 156h3v1h-3zM265 157h4v1h-4zM321 157h4v1h-4zM450 157h3v1h-3zM461 157h11v1h-11zM525 157h3v1h-3zM732 157h8v1h-8zM1232 157h9v1h-9zM155 158h12v1h-12zM170 158h8v1h-8zM191 158h3v1h-3zM223 158h5v1h-5zM375 158h9v1h-9zM513 158h6v1h-6zM630 158h13v1h-13zM795 158h7v1h-7zM843 158h5v1h-5zM999 158h12v1h-12zM1015 158h1v1h-1zM1044 158h3v1h-3zM1094 158h3v1h-3zM169 159h9v1h-9zM469 159h6v1h-6zM507 159h9v1h-9zM720 159h5v1h-5zM735 159h5v1h-5zM818 159h5v1h-5zM934 159h7v1h-7zM1352 159h3v1h-3zM1510 159h4v1h-4zM1655 159h5v1h-5zM200 160h9v1h-9zM252 160h8v1h-8zM356 160h5v1h-5zM480 160h10v1h-10zM528 160h4v1h-4zM577 160h12v1h-12zM845 160h16v1h-16zM1112 160h10v1h-10zM1228 160h5v1h-5zM1349 160h5v1h-5zM1446 160h11v1h-11zM1498 160h29v1h-29zM1561 160h6v1h-6zM128 162h9v1h-9zM1315 162h8v1h-8zM1388 162h5v1h-5zM1473 162h12v1h-12zM1507 162h3v1h-3zM1621 162h10v1h-10zM1674 162h1v1h-1zM50 163h6v1h-6zM211 163h12v1h-12zM328 163h5v1h-5zM363 163h7v1h-7zM456 163h7v1h-7zM681 163h10v1h-10zM1006 163h5v1h-5zM79 164h15v1h-15zM186 164h2v1h-2zM311 164h6v1h-6zM524 164h8v1h-8zM625 164h11v1h-11zM729 164h11v1h-11zM46 165h17v1h-17zM421 165h12v1h-12zM466 165h12v1h-12zM530 165h12v1h-12zM588 165h10v1h-10zM723 165h5v1h-5zM801 165h10v1h-10zM436 166h5v1h-5zM453 166h5v1h-5zM542 166h10v1h-10zM591 166h3v1h-3zM750 166h9v1h-9zM1182 166h6v1h-6zM1302 166h11v1h-11zM206 167h4v1h-4zM368 167h11v1h-11zM430 167h12v1h-12zM557 167h9v1h-9zM599 167h10v1h-10zM671 167h11v1h-11zM361 168h7v1h-7zM613 168h3v1h-3zM716 168h5v1h-5zM800 168h11v1h-11zM325 169h12v1h-12zM387 169h1v1h-1zM521 169h6v1h-6zM621 169h10v1h-10zM693 169h7v1h-7zM737 169h11v1h-11zM810 169h2v1h-2zM252 170h6v1h-6zM301 170h6v1h-6zM369 170h10v1h-10zM472 170h3v1h-3zM504 170h7v1h-7zM522 170h10v1h-10zM540 170h5v1h-5zM999 170h6v1h-6zM361 172h4v1h-4zM391 172h4v1h-4zM414 172h6v1h-6zM443 172h6v1h-6zM550 172h4v1h-4zM662 172h7v1h-7zM746 172h7v1h-7zM978 172h10v1h-10zM1224 172h11v1h-11zM1288 172h15v1h-15zM1440 172h9v1h-9zM563 173h14v1h-14zM736 173h12v1h-12zM837 173h10v1h-10zM1141 173h11v1h-11zM1187 173h3v1h-3zM1586 173h4v1h-4zM855 174h11v1h-11zM1084 174h8v1h-8zM1166 174h12v1h-12zM1251 174h3v1h-3zM1305 174h4v1h-4zM1373 174h11v1h-11zM1621 174h6v1h-6zM179 175h11v1h-11zM294 175h7v1h-7zM380 175h3v1h-3zM605 175h3v1h-3zM614 175h3v1h-3zM896 175h10v1h-10zM1032 175h3v1h-3zM1095 175h12v1h-12zM1469 175h5v1h-5zM163 176h6v1h-6zM354 176h4v1h-4zM1404 176h11v1h-11zM70 177h5v1h-5zM349 177h9v1h-9zM542 177h3v1h-3zM554 177h9v1h-9zM695 177h10v1h-10zM1031 177h10v1h-10zM1504 177h11v1h-11zM256 178h6v1h-6zM267 178h7v1h-7zM505 178h12v1h-12zM658 178h5v1h-5zM762 178h3v1h-3zM789 178h7v1h-7zM908 178h8v1h-8zM1021 178h11v1h-11zM1129 178h11v1h-11zM1302 178h7v1h-7zM1447 178h6v1h-6zM25 179h9v1h-9zM71 179h10v1h-10zM145 179h5v1h-5zM353 179h10v1h-10zM396 179h16v1h-16zM458 179h8v1h-8zM737 179h3v1h-3zM799 179h11v1h-11zM1129 179h5v1h-5zM1258 179h3v1h-3zM1323 179h3v1h-3zM1520 179h31v1h-31zM93 180h6v1h-6zM121 180h10v1h-10zM220 180h6v1h-6zM241 180h6v1h-6zM343 180h7v1h-7zM530 180h17v1h-17zM676 180h5v1h-5zM759 180h4v1h-4zM79 181h6v1h-6z"/><path fill="#181818" d="M848 136h5v1h-5zM1320 136h11v1h-11zM1477 136h9v1h-9zM1489 136h10v1h-10zM524 154h4v1h-4zM614 154h12v1h-12zM640 154h12v1h-12zM1606 154h5v1h-5zM246 155h2v1h-2zM268 155h8v1h-8zM486 155h10v1h-10zM667 155h8v1h-8zM355 156h8v1h-8zM419 156h11v1h-11zM435 156h11v1h-11zM503 156h2v1h-2zM641 156h11v1h-11zM794 156h8v1h-8zM1624 156h2v1h-2zM274 157h6v1h-6zM353 157h4v1h-4zM439 157h11v1h-11zM453 157h8v1h-8zM590 157h3v1h-3zM630 157h5v1h-5zM651 157h12v1h-12zM1155 157h6v1h-6zM1354 157h7v1h-7zM1640 157h11v1h-11zM151 158h4v1h-4zM167 158h3v1h-3zM318 158h4v1h-4zM599 158h5v1h-5zM687 158h9v1h-9zM848 158h9v1h-9zM984 158h6v1h-6zM1011 158h4v1h-4zM1075 158h7v1h-7zM1238 158h9v1h-9zM216 159h4v1h-4zM286 159h3v1h-3zM333 159h7v1h-7zM387 159h14v1h-14zM573 159h4v1h-4zM654 159h6v1h-6zM842 159h8v1h-8zM872 159h12v1h-12zM954 159h9v1h-9zM1047 159h5v1h-5zM1514 159h8v1h-8zM1660 159h4v1h-4zM209 160h4v1h-4zM231 160h6v1h-6zM263 160h8v1h-8zM345 160h11v1h-11zM398 160h10v1h-10zM449 160h11v1h-11zM469 160h11v1h-11zM600 160h8v1h-8zM651 160h4v1h-4zM725 160h12v1h-12zM1134 160h7v1h-7zM1491 160h7v1h-7zM1603 160h9v1h-9zM137 162h11v1h-11zM1165 162h11v1h-11zM1288 162h5v1h-5zM1333 162h5v1h-5zM1363 162h17v1h-17zM1393 162h24v1h-24zM1615 162h6v1h-6zM56 163h14v1h-14zM196 163h7v1h-7zM262 163h4v1h-4zM370 163h6v1h-6zM440 163h7v1h-7zM139 164h10v1h-10zM155 164h12v1h-12zM537 164h8v1h-8zM582 164h6v1h-6zM720 164h9v1h-9zM911 164h9v1h-9zM63 165h10v1h-10zM334 165h11v1h-11zM453 165h3v1h-3zM510 165h3v1h-3zM656 165h11v1h-11zM108 166h7v1h-7zM125 166h11v1h-11zM555 166h3v1h-3zM1024 166h3v1h-3zM462 167h4v1h-4zM484 167h11v1h-11zM780 167h7v1h-7zM530 168h8v1h-8zM708 168h4v1h-4zM447 169h6v1h-6zM307 170h11v1h-11zM773 170h5v1h-5zM792 170h3v1h-3zM800 170h8v1h-8zM493 172h10v1h-10zM558 172h9v1h-9zM779 172h12v1h-12zM906 172h5v1h-5zM915 172h6v1h-6zM954 172h9v1h-9zM1198 172h6v1h-6zM1312 172h1v1h-1zM1667 172h6v1h-6zM393 173h6v1h-6zM478 173h10v1h-10zM509 173h10v1h-10zM661 173h9v1h-9zM682 173h10v1h-10zM758 173h19v1h-19zM1214 173h6v1h-6zM1273 173h7v1h-7zM1431 173h8v1h-8zM1452 173h9v1h-9zM1608 173h9v1h-9zM541 174h9v1h-9zM595 174h11v1h-11zM795 174h7v1h-7zM953 174h8v1h-8zM1185 174h11v1h-11zM1367 174h6v1h-6zM1597 174h6v1h-6zM1649 174h8v1h-8zM89 175h14v1h-14zM124 175h20v1h-20zM190 175h12v1h-12zM216 175h3v1h-3zM231 175h7v1h-7zM314 175h3v1h-3zM1068 175h8v1h-8zM114 176h3v1h-3zM122 176h9v1h-9zM153 176h10v1h-10zM358 176h10v1h-10zM1464 176h12v1h-12zM75 177h11v1h-11zM158 177h5v1h-5zM258 177h4v1h-4zM327 177h6v1h-6zM398 177h3v1h-3zM433 177h7v1h-7zM450 177h11v1h-11zM490 177h17v1h-17zM634 177h2v1h-2zM738 177h4v1h-4zM892 177h3v1h-3zM1163 177h6v1h-6zM1393 177h5v1h-5zM1644 177h5v1h-5zM45 178h11v1h-11zM111 178h9v1h-9zM349 178h6v1h-6zM517 178h15v1h-15zM613 178h5v1h-5zM675 178h13v1h-13zM973 178h3v1h-3zM1063 178h12v1h-12zM1334 178h8v1h-8zM1551 178h10v1h-10zM1645 178h3v1h-3zM81 179h9v1h-9zM192 179h12v1h-12zM231 179h7v1h-7zM273 179h10v1h-10zM604 179h14v1h-14zM634 179h9v1h-9zM734 179h3v1h-3zM760 179h4v1h-4zM907 179h5v1h-5zM1056 179h3v1h-3zM1218 179h8v1h-8zM1266 179h5v1h-5zM1510 179h10v1h-10zM226 180h4v1h-4zM481 180h4v1h-4zM499 180h6v1h-6zM36 181h8v1h-8zM320 181h5v1h-5zM352 181h6v1h-6zM369 181h6v1h-6z"/><path fill="#1b1b1b" d="M149 136h8v1h-8zM892 136h9v1h-9zM1388 136h5v1h-5zM1526 136h10v1h-10zM1625 136h9v1h-9zM1673 136h2v1h-2zM1238 137h5v1h-5zM1271 138h7v1h-7zM1466 138h8v1h-8zM1493 138h6v1h-6zM155 154h4v1h-4zM321 154h1v1h-1zM327 154h4v1h-4zM440 154h6v1h-6zM449 154h12v1h-12zM471 154h3v1h-3zM532 154h5v1h-5zM546 154h7v1h-7zM584 154h9v1h-9zM756 154h13v1h-13zM837 154h10v1h-10zM163 155h4v1h-4zM365 155h3v1h-3zM436 155h15v1h-15zM739 155h12v1h-12zM1483 155h4v1h-4zM454 156h18v1h-18zM541 156h11v1h-11zM751 156h4v1h-4zM50 157h4v1h-4zM424 157h4v1h-4zM516 157h9v1h-9zM722 157h10v1h-10zM371 158h4v1h-4zM583 158h11v1h-11zM643 158h7v1h-7zM696 158h5v1h-5zM936 158h6v1h-6zM968 158h10v1h-10zM1097 158h9v1h-9zM153 159h11v1h-11zM351 159h6v1h-6zM542 159h12v1h-12zM562 159h11v1h-11zM626 159h12v1h-12zM834 159h8v1h-8zM941 159h9v1h-9zM1044 159h3v1h-3zM1055 159h11v1h-11zM1337 159h15v1h-15zM271 160h7v1h-7zM295 160h6v1h-6zM378 160h11v1h-11zM524 160h4v1h-4zM1058 160h4v1h-4zM1122 160h3v1h-3zM1664 160h9v1h-9zM152 162h3v1h-3zM1078 162h5v1h-5zM1428 162h5v1h-5zM1579 162h9v1h-9zM1660 162h3v1h-3zM0 163h9v1h-9zM70 163h5v1h-5zM388 163h9v1h-9zM741 163h9v1h-9zM69 164h10v1h-10zM94 164h10v1h-10zM178 164h8v1h-8zM592 164h4v1h-4zM180 165h5v1h-5zM321 165h10v1h-10zM345 165h11v1h-11zM444 165h9v1h-9zM558 165h1v1h-1zM757 165h11v1h-11zM33 166h12v1h-12zM99 166h9v1h-9zM535 166h7v1h-7zM583 166h8v1h-8zM603 166h9v1h-9zM266 167h11v1h-11zM364 167h4v1h-4zM442 167h12v1h-12zM1000 167h6v1h-6zM171 168h3v1h-3zM288 168h11v1h-11zM353 168h4v1h-4zM696 168h12v1h-12zM777 168h1v1h-1zM988 168h6v1h-6zM216 169h10v1h-10zM484 169h6v1h-6zM601 169h8v1h-8zM708 169h9v1h-9zM773 169h5v1h-5zM318 170h5v1h-5zM483 170h11v1h-11zM511 170h11v1h-11zM604 170h8v1h-8zM712 170h21v1h-21zM365 172h26v1h-26zM425 172h8v1h-8zM609 172h3v1h-3zM640 172h11v1h-11zM733 172h9v1h-9zM761 172h11v1h-11zM791 172h5v1h-5zM911 172h4v1h-4zM947 172h7v1h-7zM1137 172h11v1h-11zM1303 172h3v1h-3zM1380 172h3v1h-3zM1488 172h6v1h-6zM1643 172h4v1h-4zM458 173h10v1h-10zM788 173h12v1h-12zM850 173h3v1h-3zM886 173h11v1h-11zM1225 173h11v1h-11zM1242 173h6v1h-6zM1409 173h10v1h-10zM1461 173h10v1h-10zM1481 173h7v1h-7zM464 174h9v1h-9zM491 174h6v1h-6zM530 174h11v1h-11zM587 174h3v1h-3zM606 174h12v1h-12zM699 174h4v1h-4zM720 174h18v1h-18zM766 174h11v1h-11zM849 174h6v1h-6zM1039 174h19v1h-19zM1066 174h8v1h-8zM1231 174h10v1h-10zM254 175h10v1h-10zM274 175h20v1h-20zM906 175h4v1h-4zM1392 175h9v1h-9zM1635 175h5v1h-5zM191 176h7v1h-7zM280 176h8v1h-8zM305 176h12v1h-12zM392 176h6v1h-6zM1446 176h10v1h-10zM0 177h5v1h-5zM31 177h12v1h-12zM55 177h4v1h-4zM86 177h9v1h-9zM274 177h23v1h-23zM373 177h5v1h-5zM545 177h9v1h-9zM609 177h9v1h-9zM646 177h11v1h-11zM690 177h5v1h-5zM705 177h3v1h-3zM717 177h14v1h-14zM764 177h11v1h-11zM876 177h3v1h-3zM918 177h5v1h-5zM1001 177h8v1h-8zM1085 177h9v1h-9zM1106 177h11v1h-11zM1346 177h8v1h-8zM1383 177h10v1h-10zM1633 177h6v1h-6zM1672 177h3v1h-3zM31 178h7v1h-7zM146 178h12v1h-12zM280 178h3v1h-3zM310 178h7v1h-7zM355 178h3v1h-3zM370 178h16v1h-16zM554 178h7v1h-7zM581 178h6v1h-6zM607 178h6v1h-6zM765 178h10v1h-10zM942 178h6v1h-6zM1160 178h3v1h-3zM1518 178h5v1h-5zM1617 178h9v1h-9zM215 179h6v1h-6zM501 179h3v1h-3zM894 179h4v1h-4zM1017 179h7v1h-7zM1206 179h12v1h-12zM1330 179h5v1h-5zM1392 179h10v1h-10zM1485 179h3v1h-3zM1492 179h3v1h-3zM1507 179h3v1h-3zM26 180h15v1h-15zM65 180h10v1h-10zM137 180h4v1h-4zM230 180h5v1h-5zM290 180h12v1h-12zM396 180h12v1h-12zM432 180h9v1h-9zM505 180h11v1h-11zM583 180h6v1h-6zM716 180h6v1h-6zM743 180h11v1h-11zM152 181h3v1h-3zM161 181h9v1h-9zM215 181h9v1h-9zM331 181h8v1h-8z"/><path fill="#1e1e1e" d="M195 136h10v1h-10zM335 136h12v1h-12zM510 136h3v1h-3zM606 136h8v1h-8zM1238 136h3v1h-3zM1261 136h4v1h-4zM1451 136h12v1h-12zM1261 137h8v1h-8zM1275 137h10v1h-10zM1398 137h9v1h-9zM1441 137h5v1h-5zM1455 137h9v1h-9zM1238 138h6v1h-6zM1355 138h12v1h-12zM1587 138h4v1h-4zM498 154h9v1h-9zM511 154h13v1h-13zM744 154h3v1h-3zM1015 154h1v1h-1zM1603 154h3v1h-3zM357 155h3v1h-3zM553 155h8v1h-8zM707 156h6v1h-6zM755 156h4v1h-4zM812 156h3v1h-3zM1631 156h8v1h-8zM260 157h5v1h-5zM362 157h5v1h-5zM740 157h8v1h-8zM778 157h6v1h-6zM1510 157h8v1h-8zM231 158h9v1h-9zM262 158h5v1h-5zM384 158h9v1h-9zM564 158h8v1h-8zM656 158h9v1h-9zM915 158h4v1h-4zM1337 158h2v1h-2zM1350 158h11v1h-11zM1514 158h5v1h-5zM205 159h11v1h-11zM253 159h11v1h-11zM276 159h10v1h-10zM344 159h7v1h-7zM401 159h4v1h-4zM585 159h3v1h-3zM684 159h10v1h-10zM745 159h6v1h-6zM850 159h11v1h-11zM963 159h25v1h-25zM434 160h7v1h-7zM490 160h8v1h-8zM558 160h6v1h-6zM589 160h11v1h-11zM742 160h3v1h-3zM870 160h10v1h-10zM955 160h6v1h-6zM989 160h8v1h-8zM1026 160h10v1h-10zM1047 160h11v1h-11zM1062 160h3v1h-3zM1091 160h7v1h-7zM1205 160h4v1h-4zM1269 160h6v1h-6zM1331 160h9v1h-9zM1363 160h7v1h-7zM1380 160h6v1h-6zM1457 160h12v1h-12zM1558 160h3v1h-3zM1590 160h3v1h-3zM1673 160h2v1h-2zM12 162h4v1h-4zM39 162h5v1h-5zM805 162h12v1h-12zM1276 162h12v1h-12zM1436 162h4v1h-4zM1451 162h6v1h-6zM1462 162h7v1h-7zM1573 162h6v1h-6zM157 163h6v1h-6zM695 163h12v1h-12zM789 163h4v1h-4zM857 163h9v1h-9zM265 164h10v1h-10zM317 164h5v1h-5zM345 164h8v1h-8zM427 164h5v1h-5zM446 164h8v1h-8zM487 164h11v1h-11zM545 164h8v1h-8zM1447 164h7v1h-7zM3 165h4v1h-4zM284 165h6v1h-6zM356 165h10v1h-10zM667 165h6v1h-6zM703 165h9v1h-9zM715 165h8v1h-8zM937 165h7v1h-7zM1067 165h5v1h-5zM1515 165h9v1h-9zM1533 165h1v1h-1zM88 166h11v1h-11zM288 166h6v1h-6zM308 166h5v1h-5zM327 166h8v1h-8zM480 166h18v1h-18zM667 166h11v1h-11zM277 167h12v1h-12zM309 167h8v1h-8zM420 167h10v1h-10zM475 167h9v1h-9zM495 167h11v1h-11zM761 167h8v1h-8zM1224 167h6v1h-6zM277 168h11v1h-11zM317 168h5v1h-5zM348 168h5v1h-5zM455 168h10v1h-10zM721 168h21v1h-21zM188 169h11v1h-11zM501 169h8v1h-8zM542 169h3v1h-3zM594 169h4v1h-4zM609 169h12v1h-12zM999 169h5v1h-5zM323 170h6v1h-6zM345 170h5v1h-5zM431 170h3v1h-3zM675 170h7v1h-7zM706 170h6v1h-6zM733 170h11v1h-11zM753 170h4v1h-4zM465 172h11v1h-11zM526 172h6v1h-6zM584 172h4v1h-4zM720 172h3v1h-3zM831 172h12v1h-12zM1077 172h12v1h-12zM1108 172h9v1h-9zM1125 172h8v1h-8zM1213 172h6v1h-6zM1280 172h5v1h-5zM1398 172h9v1h-9zM1419 172h11v1h-11zM1607 172h9v1h-9zM367 173h10v1h-10zM436 173h11v1h-11zM633 173h12v1h-12zM670 173h4v1h-4zM697 173h23v1h-23zM777 173h1v1h-1zM947 173h4v1h-4zM1220 173h5v1h-5zM1248 173h4v1h-4zM1280 173h19v1h-19zM481 174h10v1h-10zM777 174h1v1h-1zM1022 174h8v1h-8zM1058 174h8v1h-8zM1102 174h3v1h-3zM1220 174h11v1h-11zM1278 174h11v1h-11zM1309 174h10v1h-10zM1328 174h7v1h-7zM1408 174h4v1h-4zM1535 174h9v1h-9zM112 175h12v1h-12zM238 175h9v1h-9zM301 175h7v1h-7zM631 175h11v1h-11zM653 175h12v1h-12zM829 175h3v1h-3zM868 175h4v1h-4zM1303 175h10v1h-10zM1597 175h11v1h-11zM58 176h3v1h-3zM169 176h10v1h-10zM268 176h12v1h-12zM382 176h10v1h-10zM708 176h7v1h-7zM834 176h5v1h-5zM962 176h9v1h-9zM1182 176h3v1h-3zM1372 176h8v1h-8zM1564 176h15v1h-15zM114 177h6v1h-6zM207 177h4v1h-4zM247 177h11v1h-11zM631 177h3v1h-3zM778 177h5v1h-5zM838 177h11v1h-11zM854 177h3v1h-3zM884 177h8v1h-8zM933 177h7v1h-7zM1246 177h10v1h-10zM1375 177h8v1h-8zM1515 177h9v1h-9zM166 178h9v1h-9zM193 178h15v1h-15zM418 178h12v1h-12zM539 178h12v1h-12zM757 178h5v1h-5zM840 178h9v1h-9zM957 178h5v1h-5zM1038 178h4v1h-4zM1087 178h9v1h-9zM1237 178h3v1h-3zM1269 178h5v1h-5zM1453 178h5v1h-5zM1059 179h8v1h-8zM1159 179h12v1h-12zM1226 179h11v1h-11zM1634 179h6v1h-6zM371 180h3v1h-3zM385 180h3v1h-3zM485 180h8v1h-8zM636 180h4v1h-4zM0 181h7v1h-7zM59 181h7v1h-7zM236 181h12v1h-12zM342 181h10v1h-10z"/><path fill="#212121" d="M1127 136h7v1h-7zM1398 136h9v1h-9zM1425 136h3v1h-3zM1591 136h11v1h-11zM1330 137h4v1h-4zM1372 137h16v1h-16zM1464 137h4v1h-4zM1572 137h11v1h-11zM1247 138h11v1h-11zM1460 138h6v1h-6zM181 154h1v1h-1zM553 154h10v1h-10zM567 154h6v1h-6zM652 154h11v1h-11zM741 154h3v1h-3zM787 154h6v1h-6zM830 154h7v1h-7zM0 155h4v1h-4zM40 155h3v1h-3zM780 155h6v1h-6zM1004 155h10v1h-10zM1224 155h12v1h-12zM168 156h5v1h-5zM472 156h5v1h-5zM856 156h12v1h-12zM1015 156h1v1h-1zM604 157h12v1h-12zM635 157h4v1h-4zM182 158h5v1h-5zM434 158h5v1h-5zM480 158h8v1h-8zM519 158h7v1h-7zM546 158h7v1h-7zM701 158h7v1h-7zM751 158h8v1h-8zM767 158h9v1h-9zM1519 158h4v1h-4zM151 159h2v1h-2zM186 159h5v1h-5zM370 159h7v1h-7zM456 159h8v1h-8zM638 159h5v1h-5zM823 159h7v1h-7zM861 159h8v1h-8zM1077 159h7v1h-7zM1104 159h2v1h-2zM130 160h12v1h-12zM213 160h7v1h-7zM240 160h3v1h-3zM284 160h11v1h-11zM307 160h9v1h-9zM737 160h5v1h-5zM935 160h9v1h-9zM1375 160h5v1h-5zM1623 160h12v1h-12zM1648 160h12v1h-12zM889 162h3v1h-3zM1360 162h3v1h-3zM1469 162h4v1h-4zM1654 162h3v1h-3zM28 163h7v1h-7zM312 163h4v1h-4zM345 163h7v1h-7zM463 163h7v1h-7zM615 163h8v1h-8zM724 163h6v1h-6zM104 164h3v1h-3zM230 164h11v1h-11zM250 164h9v1h-9zM293 164h3v1h-3zM322 164h8v1h-8zM373 164h12v1h-12zM404 164h3v1h-3zM432 164h7v1h-7zM442 164h4v1h-4zM588 164h4v1h-4zM617 164h8v1h-8zM647 164h12v1h-12zM985 164h7v1h-7zM85 165h7v1h-7zM164 165h7v1h-7zM478 165h3v1h-3zM692 165h11v1h-11zM768 165h10v1h-10zM1263 165h9v1h-9zM142 166h11v1h-11zM234 166h7v1h-7zM277 166h11v1h-11zM313 166h3v1h-3zM425 166h7v1h-7zM441 166h5v1h-5zM558 166h1v1h-1zM612 166h12v1h-12zM977 166h5v1h-5zM1429 166h10v1h-10zM1531 166h2v1h-2zM152 167h21v1h-21zM191 167h6v1h-6zM210 167h4v1h-4zM235 167h11v1h-11zM317 167h8v1h-8zM650 167h5v1h-5zM704 167h10v1h-10zM555 168h9v1h-9zM616 168h3v1h-3zM645 168h7v1h-7zM674 168h10v1h-10zM712 168h4v1h-4zM750 168h8v1h-8zM769 168h8v1h-8zM246 169h7v1h-7zM368 169h11v1h-11zM582 169h12v1h-12zM631 169h5v1h-5zM650 169h25v1h-25zM700 169h8v1h-8zM732 169h5v1h-5zM159 170h10v1h-10zM379 170h6v1h-6zM461 170h11v1h-11zM532 170h8v1h-8zM549 170h12v1h-12zM567 170h5v1h-5zM420 172h5v1h-5zM452 172h6v1h-6zM489 172h4v1h-4zM521 172h5v1h-5zM742 172h4v1h-4zM810 172h10v1h-10zM859 172h3v1h-3zM890 172h5v1h-5zM1117 172h8v1h-8zM1449 172h7v1h-7zM1480 172h8v1h-8zM0 173h1v1h-1zM426 173h10v1h-10zM496 173h3v1h-3zM528 173h6v1h-6zM585 173h3v1h-3zM645 173h8v1h-8zM818 173h9v1h-9zM847 173h3v1h-3zM875 173h11v1h-11zM1042 173h3v1h-3zM1471 173h10v1h-10zM364 174h4v1h-4zM402 174h11v1h-11zM435 174h12v1h-12zM703 174h5v1h-5zM1015 174h7v1h-7zM1030 174h9v1h-9zM1555 174h10v1h-10zM1662 174h4v1h-4zM26 175h10v1h-10zM52 175h5v1h-5zM329 175h15v1h-15zM374 175h6v1h-6zM617 175h9v1h-9zM1024 175h5v1h-5zM1035 175h5v1h-5zM1082 175h7v1h-7zM1362 175h12v1h-12zM1630 175h5v1h-5zM96 176h11v1h-11zM334 176h20v1h-20zM399 176h3v1h-3zM503 176h11v1h-11zM1488 176h9v1h-9zM100 177h3v1h-3zM262 177h12v1h-12zM401 177h12v1h-12zM678 177h12v1h-12zM1047 177h4v1h-4zM1094 177h8v1h-8zM1236 177h10v1h-10zM1266 177h8v1h-8zM1328 177h5v1h-5zM1472 177h6v1h-6zM1573 177h7v1h-7zM1607 177h5v1h-5zM72 178h6v1h-6zM183 178h10v1h-10zM532 178h7v1h-7zM642 178h8v1h-8zM666 178h4v1h-4zM981 178h5v1h-5zM1227 178h10v1h-10zM1253 178h16v1h-16zM1596 178h4v1h-4zM1606 178h6v1h-6zM1635 178h4v1h-4zM13 179h12v1h-12zM107 179h10v1h-10zM454 179h4v1h-4zM523 179h4v1h-4zM722 179h12v1h-12zM780 179h9v1h-9zM934 179h3v1h-3zM1042 179h6v1h-6zM1326 179h4v1h-4zM1402 179h6v1h-6zM55 181h4v1h-4z"/><path fill="#242424" d="M190 136h5v1h-5zM386 136h11v1h-11zM882 136h4v1h-4zM1273 136h11v1h-11zM1334 136h12v1h-12zM1363 136h12v1h-12zM1393 136h5v1h-5zM1602 136h7v1h-7zM1418 137h11v1h-11zM1508 137h5v1h-5zM1534 137h12v1h-12zM949 138h10v1h-10zM1334 138h11v1h-11zM1602 138h9v1h-9zM1659 138h8v1h-8zM322 154h5v1h-5zM417 154h1v1h-1zM869 154h4v1h-4zM496 155h7v1h-7zM79 156h6v1h-6zM684 156h3v1h-3zM1514 156h5v1h-5zM229 157h4v1h-4zM330 157h8v1h-8zM350 157h3v1h-3zM428 157h11v1h-11zM776 157h2v1h-2zM1365 157h6v1h-6zM194 158h3v1h-3zM300 158h8v1h-8zM338 158h6v1h-6zM356 158h10v1h-10zM424 158h6v1h-6zM942 158h1v1h-1zM964 158h4v1h-4zM1224 158h2v1h-2zM475 159h10v1h-10zM660 159h14v1h-14zM716 159h4v1h-4zM915 159h4v1h-4zM925 159h9v1h-9zM1632 159h4v1h-4zM334 160h3v1h-3zM645 160h6v1h-6zM666 160h3v1h-3zM861 160h6v1h-6zM1181 160h4v1h-4zM1209 160h5v1h-5zM1312 160h7v1h-7zM1386 160h7v1h-7zM1527 160h5v1h-5zM1635 160h4v1h-4zM0 162h12v1h-12zM1180 162h10v1h-10zM1261 162h10v1h-10zM1497 162h10v1h-10zM1541 162h10v1h-10zM1669 162h5v1h-5zM24 163h4v1h-4zM121 163h5v1h-5zM447 163h9v1h-9zM555 163h3v1h-3zM633 163h9v1h-9zM1060 163h10v1h-10zM1374 163h10v1h-10zM1498 163h6v1h-6zM149 164h6v1h-6zM259 164h6v1h-6zM498 164h6v1h-6zM611 164h6v1h-6zM678 164h13v1h-13zM972 164h3v1h-3zM1639 164h9v1h-9zM31 165h11v1h-11zM98 165h7v1h-7zM126 165h9v1h-9zM171 165h9v1h-9zM214 165h6v1h-6zM415 165h6v1h-6zM918 165h4v1h-4zM1389 165h12v1h-12zM72 166h9v1h-9zM301 166h7v1h-7zM393 166h25v1h-25zM422 166h3v1h-3zM641 166h4v1h-4zM784 166h8v1h-8zM922 166h10v1h-10zM992 166h12v1h-12zM1119 166h5v1h-5zM296 167h6v1h-6zM512 167h6v1h-6zM620 167h10v1h-10zM992 167h8v1h-8zM174 168h9v1h-9zM272 168h5v1h-5zM322 168h8v1h-8zM368 168h20v1h-20zM585 168h6v1h-6zM594 168h12v1h-12zM637 168h8v1h-8zM765 168h4v1h-4zM208 169h8v1h-8zM723 169h9v1h-9zM243 170h9v1h-9zM350 170h7v1h-7zM446 170h15v1h-15zM494 170h10v1h-10zM749 170h4v1h-4zM783 170h9v1h-9zM988 170h4v1h-4zM449 172h3v1h-3zM895 172h11v1h-11zM1069 172h3v1h-3zM1285 172h3v1h-3zM1464 172h9v1h-9zM1592 172h8v1h-8zM1616 172h8v1h-8zM729 173h7v1h-7zM778 173h10v1h-10zM832 173h5v1h-5zM868 173h7v1h-7zM921 173h10v1h-10zM1125 173h16v1h-16zM1488 173h6v1h-6zM1617 173h7v1h-7zM387 174h7v1h-7zM497 174h7v1h-7zM550 174h12v1h-12zM636 174h4v1h-4zM691 174h8v1h-8zM778 174h10v1h-10zM802 174h10v1h-10zM895 174h6v1h-6zM928 174h5v1h-5zM944 174h6v1h-6zM995 174h12v1h-12zM1078 174h6v1h-6zM1116 174h5v1h-5zM1159 174h7v1h-7zM1245 174h6v1h-6zM1289 174h12v1h-12zM1464 174h7v1h-7zM1500 174h8v1h-8zM1574 174h11v1h-11zM1657 174h5v1h-5zM36 175h12v1h-12zM219 175h7v1h-7zM308 175h6v1h-6zM357 175h4v1h-4zM404 175h4v1h-4zM449 175h5v1h-5zM528 175h6v1h-6zM562 175h4v1h-4zM782 175h7v1h-7zM1029 175h3v1h-3zM1044 175h11v1h-11zM1213 175h7v1h-7zM1416 175h3v1h-3zM1490 175h5v1h-5zM1498 175h7v1h-7zM1619 175h5v1h-5zM69 176h3v1h-3zM238 176h8v1h-8zM317 176h17v1h-17zM514 176h10v1h-10zM634 176h11v1h-11zM1092 176h8v1h-8zM1191 176h7v1h-7zM1415 176h8v1h-8zM333 177h4v1h-4zM364 177h9v1h-9zM600 177h9v1h-9zM797 177h12v1h-12zM814 177h11v1h-11zM831 177h4v1h-4zM868 177h5v1h-5zM895 177h2v1h-2zM940 177h7v1h-7zM984 177h12v1h-12zM1041 177h3v1h-3zM1071 177h4v1h-4zM1102 177h4v1h-4zM1292 177h7v1h-7zM1446 177h3v1h-3zM1549 177h9v1h-9zM16 178h7v1h-7zM237 178h5v1h-5zM293 178h6v1h-6zM868 178h12v1h-12zM1042 178h10v1h-10zM1170 178h12v1h-12zM1289 178h3v1h-3zM1309 178h9v1h-9zM1342 178h5v1h-5zM1458 178h10v1h-10zM1510 178h8v1h-8zM1600 178h6v1h-6zM1612 178h5v1h-5zM1648 178h3v1h-3zM61 179h10v1h-10zM261 179h5v1h-5zM345 179h8v1h-8zM536 179h10v1h-10zM583 179h4v1h-4zM630 179h4v1h-4zM872 179h10v1h-10zM949 179h25v1h-25zM1014 179h3v1h-3zM1237 179h11v1h-11zM1573 179h6v1h-6zM1618 179h10v1h-10zM408 180h10v1h-10zM589 180h6v1h-6zM640 180h7v1h-7zM654 180h7v1h-7zM705 180h11v1h-11zM129 181h9v1h-9zM358 181h6v1h-6z"/><path fill="#272727" d="M550 136h4v1h-4zM720 136h24v1h-24zM1194 136h6v1h-6zM1300 136h7v1h-7zM1415 136h10v1h-10zM1437 136h14v1h-14zM1486 136h3v1h-3zM1499 136h4v1h-4zM1554 136h12v1h-12zM1269 137h6v1h-6zM1605 137h5v1h-5zM759 138h5v1h-5zM1305 138h8v1h-8zM1395 138h32v1h-32zM474 154h7v1h-7zM573 154h7v1h-7zM593 154h3v1h-3zM729 154h12v1h-12zM1148 154h5v1h-5zM253 155h8v1h-8zM882 155h5v1h-5zM1098 155h6v1h-6zM1510 155h3v1h-3zM58 156h4v1h-4zM266 156h6v1h-6zM672 156h12v1h-12zM778 156h6v1h-6zM898 156h11v1h-11zM1329 156h7v1h-7zM179 157h2v1h-2zM367 157h3v1h-3zM573 157h12v1h-12zM705 157h4v1h-4zM455 158h4v1h-4zM476 158h4v1h-4zM1631 158h2v1h-2zM317 159h6v1h-6zM340 159h4v1h-4zM516 159h12v1h-12zM601 159h6v1h-6zM699 159h5v1h-5zM794 159h9v1h-9zM884 159h3v1h-3zM1522 159h4v1h-4zM1631 159h1v1h-1zM37 160h6v1h-6zM301 160h6v1h-6zM331 160h3v1h-3zM717 160h8v1h-8zM811 160h8v1h-8zM961 160h7v1h-7zM44 162h7v1h-7zM780 162h4v1h-4zM789 162h8v1h-8zM932 162h3v1h-3zM1038 162h12v1h-12zM1293 162h12v1h-12zM1380 162h8v1h-8zM1445 162h6v1h-6zM1485 162h12v1h-12zM1604 162h8v1h-8zM46 163h4v1h-4zM141 163h11v1h-11zM184 163h12v1h-12zM252 163h10v1h-10zM499 163h7v1h-7zM671 163h10v1h-10zM691 163h4v1h-4zM760 163h9v1h-9zM19 164h12v1h-12zM37 164h10v1h-10zM114 164h3v1h-3zM199 164h11v1h-11zM227 164h3v1h-3zM296 164h15v1h-15zM476 164h11v1h-11zM596 164h7v1h-7zM755 164h10v1h-10zM801 164h3v1h-3zM904 164h7v1h-7zM1202 164h9v1h-9zM1302 164h10v1h-10zM119 165h7v1h-7zM211 165h3v1h-3zM251 165h12v1h-12zM601 165h9v1h-9zM1043 165h10v1h-10zM1193 165h3v1h-3zM1500 165h7v1h-7zM226 166h8v1h-8zM373 166h12v1h-12zM458 166h4v1h-4zM759 166h12v1h-12zM893 166h10v1h-10zM214 167h8v1h-8zM261 167h5v1h-5zM289 167h7v1h-7zM454 167h8v1h-8zM506 167h6v1h-6zM518 167h11v1h-11zM660 167h11v1h-11zM692 167h12v1h-12zM735 167h10v1h-10zM787 167h8v1h-8zM183 168h10v1h-10zM225 168h4v1h-4zM244 168h9v1h-9zM261 168h11v1h-11zM302 168h12v1h-12zM465 168h3v1h-3zM742 168h8v1h-8zM157 169h12v1h-12zM379 169h8v1h-8zM471 169h3v1h-3zM642 169h8v1h-8zM995 169h4v1h-4zM258 170h7v1h-7zM275 170h7v1h-7zM434 170h12v1h-12zM584 170h9v1h-9zM624 170h8v1h-8zM639 170h10v1h-10zM703 170h3v1h-3zM795 170h5v1h-5zM403 172h11v1h-11zM612 172h6v1h-6zM803 172h3v1h-3zM1011 172h12v1h-12zM1057 172h12v1h-12zM1133 172h4v1h-4zM1263 172h4v1h-4zM1276 172h4v1h-4zM1391 172h2v1h-2zM1583 172h9v1h-9zM1600 172h7v1h-7zM1624 172h8v1h-8zM1673 172h2v1h-2zM414 173h12v1h-12zM499 173h10v1h-10zM614 173h11v1h-11zM653 173h8v1h-8zM915 173h6v1h-6zM931 173h7v1h-7zM1016 173h11v1h-11zM1110 173h10v1h-10zM1576 173h10v1h-10zM1650 173h6v1h-6zM394 174h8v1h-8zM644 174h10v1h-10zM873 174h7v1h-7zM890 174h5v1h-5zM1335 174h6v1h-6zM1443 174h13v1h-13zM1471 174h3v1h-3zM1603 174h11v1h-11zM1666 174h3v1h-3zM48 175h4v1h-4zM57 175h11v1h-11zM144 175h6v1h-6zM157 175h11v1h-11zM317 175h7v1h-7zM552 175h10v1h-10zM883 175h8v1h-8zM923 175h5v1h-5zM1273 175h8v1h-8zM1495 175h3v1h-3zM1584 175h6v1h-6zM1666 175h9v1h-9zM72 176h4v1h-4zM79 176h8v1h-8zM228 176h10v1h-10zM258 176h10v1h-10zM368 176h3v1h-3zM450 176h7v1h-7zM661 176h4v1h-4zM723 176h7v1h-7zM1130 176h6v1h-6zM1642 176h5v1h-5zM1654 176h12v1h-12zM341 177h8v1h-8zM425 177h8v1h-8zM563 177h12v1h-12zM657 177h11v1h-11zM783 177h7v1h-7zM1013 177h4v1h-4zM1127 177h12v1h-12zM1144 177h3v1h-3zM1185 177h12v1h-12zM1223 177h7v1h-7zM1434 177h3v1h-3zM94 178h4v1h-4zM490 178h1v1h-1zM751 178h6v1h-6zM775 178h3v1h-3zM880 178h9v1h-9zM935 178h7v1h-7zM948 178h9v1h-9zM976 178h5v1h-5zM1190 178h10v1h-10zM1240 178h7v1h-7zM1502 178h8v1h-8zM1580 178h11v1h-11zM7 179h6v1h-6zM442 179h12v1h-12zM489 179h12v1h-12zM516 179h7v1h-7zM789 179h5v1h-5zM898 179h4v1h-4zM924 179h10v1h-10zM937 179h8v1h-8zM984 179h2v1h-2zM1171 179h7v1h-7zM1319 179h4v1h-4zM1361 179h5v1h-5zM1369 179h17v1h-17zM1457 179h5v1h-5zM1482 179h3v1h-3zM1656 179h8v1h-8zM60 180h5v1h-5zM552 180h8v1h-8zM285 181h5v1h-5z"/><path fill="#2a2a2a" d="M0 136h6v1h-6zM307 136h7v1h-7zM485 136h5v1h-5zM939 136h5v1h-5zM980 136h12v1h-12zM1153 136h5v1h-5zM1315 136h5v1h-5zM1383 136h5v1h-5zM1428 136h9v1h-9zM1463 136h14v1h-14zM1506 136h11v1h-11zM1661 136h5v1h-5zM906 138h5v1h-5zM1055 138h8v1h-8zM1283 138h9v1h-9zM1378 138h6v1h-6zM1427 138h3v1h-3zM1454 138h6v1h-6zM1650 138h9v1h-9zM1670 138h5v1h-5zM32 154h9v1h-9zM528 154h4v1h-4zM1400 154h6v1h-6zM606 155h3v1h-3zM774 156h4v1h-4zM895 156h3v1h-3zM31 157h3v1h-3zM709 157h3v1h-3zM1548 157h6v1h-6zM240 158h3v1h-3zM251 158h4v1h-4zM322 158h10v1h-10zM289 159h25v1h-25zM323 159h10v1h-10zM360 159h10v1h-10zM1355 159h6v1h-6zM316 160h5v1h-5zM808 160h3v1h-3zM1141 160h6v1h-6zM1168 160h8v1h-8zM1415 160h8v1h-8zM1639 160h9v1h-9zM106 162h10v1h-10zM871 162h6v1h-6zM992 162h4v1h-4zM1093 162h11v1h-11zM1190 162h11v1h-11zM1551 162h5v1h-5zM249 163h3v1h-3zM303 163h9v1h-9zM529 163h4v1h-4zM793 163h9v1h-9zM939 163h4v1h-4zM1011 163h8v1h-8zM1532 163h8v1h-8zM34 164h3v1h-3zM117 164h12v1h-12zM385 164h10v1h-10zM504 164h5v1h-5zM603 164h8v1h-8zM925 164h6v1h-6zM1003 164h1v1h-1zM1050 164h10v1h-10zM1298 164h4v1h-4zM185 165h10v1h-10zM244 165h7v1h-7zM456 165h10v1h-10zM685 165h7v1h-7zM712 165h3v1h-3zM911 165h7v1h-7zM933 165h4v1h-4zM1005 165h12v1h-12zM1510 165h5v1h-5zM1569 165h15v1h-15zM0 166h10v1h-10zM52 166h11v1h-11zM136 166h6v1h-6zM153 166h8v1h-8zM241 166h11v1h-11zM265 166h12v1h-12zM316 166h4v1h-4zM335 166h3v1h-3zM370 166h3v1h-3zM635 166h6v1h-6zM1110 166h3v1h-3zM1546 166h9v1h-9zM1630 166h1v1h-1zM147 167h5v1h-5zM246 167h11v1h-11zM302 167h7v1h-7zM682 167h10v1h-10zM723 167h12v1h-12zM769 167h4v1h-4zM193 168h3v1h-3zM299 168h3v1h-3zM330 168h3v1h-3zM344 168h4v1h-4zM357 168h4v1h-4zM519 168h3v1h-3zM544 168h11v1h-11zM147 169h10v1h-10zM288 169h6v1h-6zM545 169h9v1h-9zM766 169h7v1h-7zM152 170h7v1h-7zM225 170h6v1h-6zM291 170h10v1h-10zM656 170h9v1h-9zM744 170h5v1h-5zM757 170h10v1h-10zM458 172h7v1h-7zM669 172h5v1h-5zM879 172h11v1h-11zM1089 172h10v1h-10zM1254 172h9v1h-9zM488 173h8v1h-8zM588 173h4v1h-4zM1013 173h3v1h-3zM1039 173h3v1h-3zM1054 173h9v1h-9zM1236 173h6v1h-6zM1444 173h3v1h-3zM504 174h10v1h-10zM582 174h5v1h-5zM666 174h5v1h-5zM738 174h10v1h-10zM824 174h18v1h-18zM866 174h7v1h-7zM1412 174h8v1h-8zM1456 174h8v1h-8zM1485 174h12v1h-12zM1585 174h12v1h-12zM150 175h7v1h-7zM398 175h6v1h-6zM460 175h11v1h-11zM566 175h4v1h-4zM702 175h5v1h-5zM762 175h12v1h-12zM920 175h3v1h-3zM1060 175h8v1h-8zM1169 175h7v1h-7zM1285 175h11v1h-11zM1299 175h4v1h-4zM1483 175h7v1h-7zM107 176h7v1h-7zM216 176h12v1h-12zM530 176h8v1h-8zM687 176h12v1h-12zM801 176h5v1h-5zM816 176h8v1h-8zM839 176h15v1h-15zM944 176h6v1h-6zM1366 176h6v1h-6zM1537 176h12v1h-12zM59 177h11v1h-11zM95 177h5v1h-5zM168 177h5v1h-5zM587 177h13v1h-13zM809 177h5v1h-5zM879 177h5v1h-5zM947 177h8v1h-8zM1044 177h3v1h-3zM1117 177h5v1h-5zM1147 177h16v1h-16zM1177 177h8v1h-8zM1285 177h7v1h-7zM1365 177h10v1h-10zM1461 177h8v1h-8zM1489 177h3v1h-3zM1540 177h9v1h-9zM1563 177h10v1h-10zM1580 177h12v1h-12zM1604 177h3v1h-3zM1649 177h8v1h-8zM473 178h4v1h-4zM551 178h3v1h-3zM663 178h3v1h-3zM1185 178h5v1h-5zM1200 178h5v1h-5zM1327 178h7v1h-7zM1374 178h18v1h-18zM1564 178h4v1h-4zM1659 178h4v1h-4zM52 179h9v1h-9zM250 179h8v1h-8zM469 179h11v1h-11zM558 179h3v1h-3zM1248 179h10v1h-10zM1261 179h5v1h-5zM1439 179h11v1h-11zM1567 179h6v1h-6zM1607 179h11v1h-11zM388 180h8v1h-8zM573 180h10v1h-10zM608 180h10v1h-10zM701 180h4v1h-4zM114 181h3v1h-3zM146 181h6v1h-6z"/><path fill="#2d2d2d" d="M12 136h10v1h-10zM47 136h12v1h-12zM89 136h5v1h-5zM186 136h4v1h-4zM314 136h6v1h-6zM427 136h8v1h-8zM602 136h4v1h-4zM625 136h4v1h-4zM1124 136h3v1h-3zM1284 136h16v1h-16zM1640 136h9v1h-9zM1666 136h7v1h-7zM1249 137h12v1h-12zM1597 137h8v1h-8zM1618 137h3v1h-3zM539 138h7v1h-7zM648 138h9v1h-9zM1172 138h8v1h-8zM1258 138h10v1h-10zM1278 138h5v1h-5zM1384 138h11v1h-11zM1434 138h8v1h-8zM1508 138h10v1h-10zM847 154h9v1h-9zM1587 154h2v1h-2zM1601 154h2v1h-2zM126 155h6v1h-6zM995 155h9v1h-9zM50 156h3v1h-3zM73 156h2v1h-2zM583 156h1v1h-1zM662 156h10v1h-10zM727 156h1v1h-1zM832 156h12v1h-12zM357 157h5v1h-5zM585 157h5v1h-5zM308 158h10v1h-10zM468 158h8v1h-8zM679 158h8v1h-8zM191 159h8v1h-8zM1245 159h2v1h-2zM1245 160h7v1h-7zM1370 160h5v1h-5zM858 162h7v1h-7zM1009 162h5v1h-5zM1149 162h5v1h-5zM1176 162h4v1h-4zM1247 162h5v1h-5zM1417 162h8v1h-8zM1457 162h5v1h-5zM21 163h3v1h-3zM136 163h5v1h-5zM166 163h8v1h-8zM238 163h11v1h-11zM558 163h9v1h-9zM718 163h6v1h-6zM769 163h9v1h-9zM916 163h3v1h-3zM1019 163h10v1h-10zM1051 163h9v1h-9zM1201 163h8v1h-8zM1392 163h3v1h-3zM1540 163h10v1h-10zM129 164h4v1h-4zM221 164h6v1h-6zM353 164h7v1h-7zM439 164h3v1h-3zM466 164h10v1h-10zM776 164h2v1h-2zM870 164h7v1h-7zM1211 164h11v1h-11zM1322 164h5v1h-5zM1510 164h5v1h-5zM1527 164h6v1h-6zM1565 164h9v1h-9zM1599 164h7v1h-7zM156 165h8v1h-8zM220 165h12v1h-12zM271 165h5v1h-5zM331 165h3v1h-3zM366 165h6v1h-6zM491 165h10v1h-10zM513 165h5v1h-5zM610 165h4v1h-4zM728 165h6v1h-6zM779 165h3v1h-3zM884 165h20v1h-20zM1057 165h10v1h-10zM1492 165h8v1h-8zM169 166h9v1h-9zM502 166h13v1h-13zM911 166h5v1h-5zM1049 166h6v1h-6zM1084 166h3v1h-3zM1317 166h3v1h-3zM1424 166h5v1h-5zM257 167h4v1h-4zM642 167h8v1h-8zM778 167h2v1h-2zM147 168h10v1h-10zM431 168h12v1h-12zM522 168h8v1h-8zM538 168h6v1h-6zM573 168h12v1h-12zM177 169h11v1h-11zM509 169h12v1h-12zM686 170h4v1h-4zM767 170h6v1h-6zM992 170h7v1h-7zM481 172h8v1h-8zM515 172h6v1h-6zM618 172h12v1h-12zM695 172h7v1h-7zM796 172h7v1h-7zM843 172h6v1h-6zM854 172h5v1h-5zM921 172h10v1h-10zM1072 172h5v1h-5zM1099 172h9v1h-9zM1148 172h7v1h-7zM1175 172h5v1h-5zM1239 172h4v1h-4zM1430 172h5v1h-5zM827 173h5v1h-5zM992 173h4v1h-4zM1027 173h12v1h-12zM1073 173h6v1h-6zM1091 173h7v1h-7zM1401 173h8v1h-8zM1572 173h4v1h-4zM1595 173h8v1h-8zM379 174h8v1h-8zM413 174h6v1h-6zM574 174h8v1h-8zM788 174h7v1h-7zM1007 174h4v1h-4zM1269 174h9v1h-9zM1319 174h6v1h-6zM1528 174h7v1h-7zM1571 174h3v1h-3zM68 175h3v1h-3zM226 175h5v1h-5zM352 175h5v1h-5zM383 175h11v1h-11zM436 175h3v1h-3zM506 175h22v1h-22zM642 175h11v1h-11zM779 175h3v1h-3zM872 175h11v1h-11zM989 175h3v1h-3zM1143 175h12v1h-12zM1261 175h12v1h-12zM24 176h7v1h-7zM117 176h5v1h-5zM198 176h5v1h-5zM457 176h4v1h-4zM480 176h7v1h-7zM494 176h6v1h-6zM620 176h3v1h-3zM675 176h12v1h-12zM777 176h4v1h-4zM1303 176h12v1h-12zM1395 176h9v1h-9zM1530 176h7v1h-7zM191 177h9v1h-9zM507 177h3v1h-3zM835 177h3v1h-3zM967 177h10v1h-10zM1122 177h5v1h-5zM1629 177h4v1h-4zM283 178h10v1h-10zM358 178h12v1h-12zM712 178h7v1h-7zM803 178h9v1h-9zM859 178h9v1h-9zM1096 178h2v1h-2zM1223 178h4v1h-4zM1361 178h4v1h-4zM1401 178h5v1h-5zM1432 178h15v1h-15zM1591 178h5v1h-5zM412 179h11v1h-11zM794 179h5v1h-5zM1178 179h11v1h-11zM1309 179h10v1h-10zM1434 179h5v1h-5zM1559 179h8v1h-8zM1585 179h10v1h-10zM1640 179h12v1h-12zM565 180h8v1h-8zM722 180h9v1h-9z"/><path fill="#303030" d="M105 136h9v1h-9zM231 136h8v1h-8zM490 136h8v1h-8zM590 136h4v1h-4zM690 136h3v1h-3zM863 136h5v1h-5zM998 136h10v1h-10zM1051 136h10v1h-10zM1097 136h5v1h-5zM1229 136h9v1h-9zM1358 136h5v1h-5zM1503 136h3v1h-3zM1536 136h3v1h-3zM1572 136h12v1h-12zM1609 136h7v1h-7zM1323 137h4v1h-4zM1364 137h8v1h-8zM1388 137h10v1h-10zM1429 137h12v1h-12zM1468 137h5v1h-5zM1482 137h23v1h-23zM339 138h3v1h-3zM360 138h12v1h-12zM597 138h12v1h-12zM657 138h3v1h-3zM722 138h9v1h-9zM755 138h4v1h-4zM790 138h6v1h-6zM941 138h5v1h-5zM1188 138h8v1h-8zM1345 138h10v1h-10zM1445 138h9v1h-9zM1474 138h13v1h-13zM1499 138h9v1h-9zM1551 138h12v1h-12zM1568 138h7v1h-7zM1611 138h12v1h-12zM1641 138h5v1h-5zM123 154h11v1h-11zM820 154h10v1h-10zM989 155h3v1h-3zM868 156h9v1h-9zM1228 156h6v1h-6zM1320 156h5v1h-5zM833 157h7v1h-7zM1136 157h6v1h-6zM366 158h5v1h-5zM572 158h6v1h-6zM278 160h6v1h-6zM498 160h7v1h-7zM116 162h12v1h-12zM1207 162h9v1h-9zM203 163h8v1h-8zM333 163h12v1h-12zM575 163h11v1h-11zM642 163h9v1h-9zM707 163h11v1h-11zM889 163h11v1h-11zM949 163h3v1h-3zM969 163h10v1h-10zM1140 163h6v1h-6zM1558 163h9v1h-9zM1613 163h5v1h-5zM167 164h8v1h-8zM275 164h7v1h-7zM363 164h10v1h-10zM740 164h3v1h-3zM804 164h6v1h-6zM1016 164h12v1h-12zM1154 164h7v1h-7zM1254 164h4v1h-4zM1436 164h11v1h-11zM1617 164h9v1h-9zM21 165h4v1h-4zM115 165h4v1h-4zM135 165h9v1h-9zM485 165h6v1h-6zM614 165h4v1h-4zM866 165h7v1h-7zM929 165h4v1h-4zM944 165h8v1h-8zM1017 165h12v1h-12zM1039 165h4v1h-4zM81 166h7v1h-7zM255 166h10v1h-10zM624 166h11v1h-11zM771 166h5v1h-5zM830 166h10v1h-10zM861 166h6v1h-6zM932 166h22v1h-22zM1188 166h4v1h-4zM1255 166h12v1h-12zM1320 166h7v1h-7zM1420 166h4v1h-4zM1447 166h12v1h-12zM1500 166h10v1h-10zM1511 166h11v1h-11zM230 167h5v1h-5zM334 167h4v1h-4zM534 167h9v1h-9zM566 167h10v1h-10zM609 167h11v1h-11zM655 167h5v1h-5zM157 168h4v1h-4zM659 168h4v1h-4zM312 169h6v1h-6zM440 169h7v1h-7zM453 169h12v1h-12zM490 169h11v1h-11zM748 169h8v1h-8zM190 170h6v1h-6zM217 170h8v1h-8zM475 170h8v1h-8zM665 170h10v1h-10zM690 170h5v1h-5zM685 172h3v1h-3zM967 172h4v1h-4zM988 172h6v1h-6zM1035 172h10v1h-10zM1473 172h7v1h-7zM1658 172h9v1h-9zM447 173h11v1h-11zM625 173h4v1h-4zM1063 173h10v1h-10zM1447 173h5v1h-5zM478 174h3v1h-3zM885 174h5v1h-5zM1074 174h4v1h-4zM1241 174h4v1h-4zM1254 174h15v1h-15zM0 175h5v1h-5zM17 175h9v1h-9zM71 175h7v1h-7zM168 175h11v1h-11zM454 175h6v1h-6zM545 175h7v1h-7zM690 175h12v1h-12zM726 175h10v1h-10zM1252 175h9v1h-9zM471 176h4v1h-4zM487 176h7v1h-7zM564 176h17v1h-17zM756 176h9v1h-9zM781 176h10v1h-10zM824 176h10v1h-10zM854 176h3v1h-3zM886 176h11v1h-11zM1016 176h3v1h-3zM1086 176h6v1h-6zM1173 176h9v1h-9zM1282 176h9v1h-9zM1666 176h9v1h-9zM510 177h11v1h-11zM575 177h12v1h-12zM923 177h10v1h-10zM1017 177h3v1h-3zM1051 177h4v1h-4zM1169 177h8v1h-8zM1419 177h11v1h-11zM1449 177h12v1h-12zM1662 177h10v1h-10zM464 178h5v1h-5zM484 178h6v1h-6zM889 178h8v1h-8zM968 178h5v1h-5zM768 179h10v1h-10zM810 179h4v1h-4zM1048 179h8v1h-8zM1595 179h3v1h-3zM1652 179h4v1h-4zM458 180h11v1h-11zM516 180h14v1h-14zM664 180h12v1h-12zM44 181h4v1h-4zM155 181h6v1h-6zM691 181h3v1h-3z"/><path fill="#333333" d="M181 136h5v1h-5zM214 136h8v1h-8zM594 136h8v1h-8zM654 136h10v1h-10zM802 136h3v1h-3zM830 136h12v1h-12zM876 136h6v1h-6zM901 136h8v1h-8zM958 136h16v1h-16zM1043 136h8v1h-8zM1190 136h4v1h-4zM1244 136h10v1h-10zM1584 136h4v1h-4zM173 137h7v1h-7zM1035 137h7v1h-7zM1304 137h10v1h-10zM1327 137h3v1h-3zM1355 137h9v1h-9zM1505 137h3v1h-3zM1523 137h11v1h-11zM1560 137h12v1h-12zM1583 137h5v1h-5zM24 138h10v1h-10zM95 138h11v1h-11zM123 138h12v1h-12zM421 138h7v1h-7zM528 138h11v1h-11zM678 138h3v1h-3zM1044 138h5v1h-5zM1546 138h5v1h-5zM812 154h2v1h-2zM873 154h12v1h-12zM1209 154h4v1h-4zM135 155h6v1h-6zM1425 155h6v1h-6zM1584 155h4v1h-4zM2 156h5v1h-5zM1108 156h6v1h-6zM1495 156h6v1h-6zM528 157h11v1h-11zM1052 159h3v1h-3zM321 160h10v1h-10zM337 160h8v1h-8zM361 160h11v1h-11zM892 160h4v1h-4zM1295 160h7v1h-7zM1434 160h12v1h-12zM74 162h12v1h-12zM95 162h11v1h-11zM778 162h2v1h-2zM852 162h6v1h-6zM1061 162h11v1h-11zM1083 162h10v1h-10zM1104 162h8v1h-8zM1138 162h11v1h-11zM1556 162h12v1h-12zM9 163h12v1h-12zM35 163h11v1h-11zM85 163h12v1h-12zM152 163h5v1h-5zM352 163h11v1h-11zM586 163h4v1h-4zM651 163h11v1h-11zM806 163h3v1h-3zM900 163h6v1h-6zM996 163h10v1h-10zM1080 163h10v1h-10zM1305 163h8v1h-8zM1395 163h7v1h-7zM1572 163h24v1h-24zM0 164h5v1h-5zM133 164h6v1h-6zM175 164h3v1h-3zM210 164h11v1h-11zM562 164h10v1h-10zM952 164h10v1h-10zM1040 164h7v1h-7zM1462 164h4v1h-4zM1497 164h12v1h-12zM7 165h11v1h-11zM25 165h6v1h-6zM92 165h6v1h-6zM290 165h10v1h-10zM382 165h7v1h-7zM811 165h7v1h-7zM879 165h5v1h-5zM922 165h7v1h-7zM1116 165h3v1h-3zM1145 165h9v1h-9zM1283 165h11v1h-11zM10 166h11v1h-11zM63 166h9v1h-9zM294 166h7v1h-7zM360 166h10v1h-10zM462 166h7v1h-7zM518 166h10v1h-10zM1087 166h5v1h-5zM1467 166h1v1h-1zM173 167h9v1h-9zM443 168h12v1h-12zM554 169h5v1h-5zM675 169h4v1h-4zM147 170h5v1h-5zM231 170h12v1h-12zM385 170h3v1h-3zM876 172h3v1h-3zM1204 172h9v1h-9zM552 173h5v1h-5zM1045 173h1v1h-1zM1079 173h12v1h-12zM1182 173h5v1h-5zM1310 173h3v1h-3zM1380 173h6v1h-6zM1419 173h12v1h-12zM1439 173h5v1h-5zM1647 173h3v1h-3zM429 174h6v1h-6zM447 174h9v1h-9zM514 174h6v1h-6zM671 174h3v1h-3zM812 174h12v1h-12zM925 174h3v1h-3zM933 174h11v1h-11zM1131 174h19v1h-19zM1208 174h12v1h-12zM1325 174h3v1h-3zM1669 174h6v1h-6zM369 175h5v1h-5zM471 175h4v1h-4zM478 175h10v1h-10zM608 175h6v1h-6zM626 175h5v1h-5zM707 175h7v1h-7zM748 175h3v1h-3zM789 175h8v1h-8zM847 175h9v1h-9zM891 175h5v1h-5zM1229 175h9v1h-9zM1382 175h10v1h-10zM1505 175h4v1h-4zM1647 175h4v1h-4zM39 176h1v1h-1zM144 176h9v1h-9zM182 176h9v1h-9zM288 176h5v1h-5zM398 176h1v1h-1zM645 176h7v1h-7zM741 176h11v1h-11zM791 176h10v1h-10zM806 176h10v1h-10zM870 176h7v1h-7zM921 176h12v1h-12zM950 176h3v1h-3zM1019 176h16v1h-16zM1127 176h3v1h-3zM1142 176h4v1h-4zM1237 176h12v1h-12zM1600 176h7v1h-7zM1617 176h10v1h-10zM1647 176h7v1h-7zM22 177h9v1h-9zM790 177h3v1h-3zM1256 177h10v1h-10zM1299 177h9v1h-9zM1315 177h4v1h-4zM1333 177h7v1h-7zM1398 177h10v1h-10zM1469 177h3v1h-3zM778 178h1v1h-1zM916 178h6v1h-6zM962 178h6v1h-6zM1012 178h9v1h-9zM1292 178h10v1h-10zM1420 178h12v1h-12zM945 179h4v1h-4zM1134 179h3v1h-3zM1414 179h9v1h-9zM1488 179h4v1h-4zM775 180h3v1h-3zM411 181h8v1h-8zM589 181h7v1h-7z"/><path fill="#363636" d="M94 136h11v1h-11zM144 136h5v1h-5zM161 136h20v1h-20zM282 136h5v1h-5zM353 136h6v1h-6zM368 136h6v1h-6zM397 136h10v1h-10zM541 136h9v1h-9zM629 136h6v1h-6zM909 136h12v1h-12zM1039 136h4v1h-4zM1061 136h11v1h-11zM1078 136h10v1h-10zM427 137h12v1h-12zM856 137h9v1h-9zM1314 137h9v1h-9zM1349 137h6v1h-6zM1621 137h9v1h-9zM1674 137h1v1h-1zM245 138h12v1h-12zM1020 138h5v1h-5zM1196 138h3v1h-3zM1527 138h19v1h-19zM1667 138h3v1h-3zM188 154h12v1h-12zM284 154h9v1h-9zM1249 154h3v1h-3zM1270 154h4v1h-4zM181 155h10v1h-10zM228 155h6v1h-6zM899 155h12v1h-12zM1628 155h2v1h-2zM75 156h2v1h-2zM1275 156h5v1h-5zM1541 156h6v1h-6zM988 157h4v1h-4zM1250 157h5v1h-5zM1442 158h5v1h-5zM314 159h3v1h-3zM740 159h5v1h-5zM781 159h4v1h-4zM780 160h7v1h-7zM956 162h4v1h-4zM1021 162h6v1h-6zM1112 162h7v1h-7zM1305 162h10v1h-10zM97 163h12v1h-12zM163 163h3v1h-3zM266 163h7v1h-7zM294 163h9v1h-9zM473 163h3v1h-3zM809 163h9v1h-9zM979 163h8v1h-8zM1101 163h9v1h-9zM1276 163h12v1h-12zM1469 163h5v1h-5zM1481 163h6v1h-6zM5 164h8v1h-8zM194 164h5v1h-5zM461 164h5v1h-5zM521 164h3v1h-3zM705 164h9v1h-9zM765 164h11v1h-11zM887 164h17v1h-17zM1421 164h10v1h-10zM1626 164h3v1h-3zM276 165h8v1h-8zM524 165h6v1h-6zM792 165h9v1h-9zM818 165h7v1h-7zM848 165h5v1h-5zM904 165h7v1h-7zM998 165h7v1h-7zM1097 165h7v1h-7zM1436 165h6v1h-6zM1459 165h11v1h-11zM1524 165h3v1h-3zM1610 165h5v1h-5zM21 166h12v1h-12zM45 166h7v1h-7zM699 166h17v1h-17zM1014 166h10v1h-10zM1313 166h4v1h-4zM213 168h12v1h-12zM627 168h10v1h-10zM663 168h11v1h-11zM199 169h9v1h-9zM318 169h7v1h-7zM173 170h11v1h-11zM208 170h9v1h-9zM994 172h10v1h-10zM1023 172h12v1h-12zM1159 172h8v1h-8zM1267 172h9v1h-9zM1383 172h8v1h-8zM938 173h9v1h-9zM999 173h9v1h-9zM1170 173h12v1h-12zM1299 173h11v1h-11zM473 174h5v1h-5zM562 174h12v1h-12zM759 174h7v1h-7zM908 174h11v1h-11zM1098 174h4v1h-4zM264 175h10v1h-10zM418 175h4v1h-4zM832 175h4v1h-4zM856 175h12v1h-12zM1176 175h14v1h-14zM1220 175h9v1h-9zM1238 175h14v1h-14zM1329 175h11v1h-11zM1449 175h4v1h-4zM1474 175h9v1h-9zM1535 175h7v1h-7zM1559 175h12v1h-12zM1651 175h6v1h-6zM12 176h12v1h-12zM76 176h3v1h-3zM179 176h3v1h-3zM461 176h10v1h-10zM592 176h4v1h-4zM991 176h8v1h-8zM1077 176h9v1h-9zM1103 176h24v1h-24zM1136 176h6v1h-6zM1146 176h8v1h-8zM1230 176h7v1h-7zM1342 176h10v1h-10zM1579 176h3v1h-3zM671 177h7v1h-7zM861 177h7v1h-7zM915 177h3v1h-3zM1055 177h9v1h-9zM1308 177h7v1h-7zM1492 177h12v1h-12zM1639 177h5v1h-5zM1032 178h6v1h-6zM1365 178h9v1h-9zM1539 178h12v1h-12zM1561 178h3v1h-3zM1626 178h9v1h-9zM902 179h5v1h-5zM1024 179h12v1h-12zM1086 179h5v1h-5zM1598 179h9v1h-9zM1628 179h6v1h-6zM1664 179h11v1h-11zM805 180h12v1h-12zM833 180h5v1h-5z"/><path fill="#393939" d="M205 136h9v1h-9zM244 136h3v1h-3zM266 136h7v1h-7zM519 136h12v1h-12zM568 136h11v1h-11zM682 136h4v1h-4zM744 136h3v1h-3zM755 136h10v1h-10zM810 136h8v1h-8zM927 136h12v1h-12zM1200 136h9v1h-9zM1241 136h3v1h-3zM1254 136h7v1h-7zM1331 136h3v1h-3zM1634 136h6v1h-6zM1649 136h12v1h-12zM819 137h12v1h-12zM1446 137h9v1h-9zM1513 137h10v1h-10zM1546 137h3v1h-3zM309 138h8v1h-8zM391 138h8v1h-8zM497 138h4v1h-4zM613 138h6v1h-6zM935 138h6v1h-6zM1204 138h7v1h-7zM1292 138h10v1h-10zM1442 138h3v1h-3zM1563 138h5v1h-5zM814 154h6v1h-6zM856 154h3v1h-3zM1141 154h4v1h-4zM1496 154h4v1h-4zM144 155h3v1h-3zM718 155h3v1h-3zM824 155h12v1h-12zM1023 155h3v1h-3zM1397 155h2v1h-2zM829 156h3v1h-3zM888 156h7v1h-7zM909 156h6v1h-6zM1074 156h3v1h-3zM209 157h5v1h-5zM566 157h7v1h-7zM815 157h10v1h-10zM840 157h4v1h-4zM870 157h9v1h-9zM1030 157h3v1h-3zM285 158h7v1h-7zM260 160h3v1h-3zM1098 160h5v1h-5zM1308 160h4v1h-4zM272 162h4v1h-4zM308 162h8v1h-8zM523 162h11v1h-11zM829 162h11v1h-11zM901 162h14v1h-14zM920 162h6v1h-6zM950 162h6v1h-6zM1072 162h6v1h-6zM126 163h10v1h-10zM623 163h10v1h-10zM730 163h11v1h-11zM906 163h10v1h-10zM987 163h4v1h-4zM1154 163h10v1h-10zM1219 163h5v1h-5zM1288 163h5v1h-5zM1648 163h5v1h-5zM13 164h6v1h-6zM59 164h10v1h-10zM241 164h9v1h-9zM699 164h6v1h-6zM962 164h7v1h-7zM1028 164h12v1h-12zM1114 164h11v1h-11zM1180 164h12v1h-12zM232 165h12v1h-12zM389 165h6v1h-6zM501 165h9v1h-9zM649 165h7v1h-7zM778 165h1v1h-1zM859 165h7v1h-7zM1094 165h3v1h-3zM1140 165h5v1h-5zM1154 165h5v1h-5zM1177 165h3v1h-3zM1211 165h9v1h-9zM1254 165h5v1h-5zM1307 165h8v1h-8zM1559 165h10v1h-10zM1615 165h4v1h-4zM1673 165h2v1h-2zM178 166h11v1h-11zM648 166h12v1h-12zM696 166h3v1h-3zM776 166h2v1h-2zM850 166h11v1h-11zM1124 166h4v1h-4zM619 168h8v1h-8zM277 169h11v1h-11zM309 169h3v1h-3zM169 170h4v1h-4zM545 170h4v1h-4zM695 170h8v1h-8zM503 172h12v1h-12zM1193 172h5v1h-5zM1306 172h6v1h-6zM176 173h12v1h-12zM534 173h7v1h-7zM810 173h8v1h-8zM974 173h11v1h-11zM682 174h9v1h-9zM344 175h8v1h-8zM475 175h3v1h-3zM534 175h11v1h-11zM575 175h11v1h-11zM595 175h10v1h-10zM1040 175h4v1h-4zM1377 175h5v1h-5zM1624 175h6v1h-6zM203 176h6v1h-6zM444 176h6v1h-6zM615 176h5v1h-5zM730 176h11v1h-11zM752 176h4v1h-4zM765 176h12v1h-12zM866 176h4v1h-4zM986 176h5v1h-5zM1063 176h11v1h-11zM1100 176h3v1h-3zM1154 176h8v1h-8zM1291 176h6v1h-6zM1315 176h3v1h-3zM1380 176h8v1h-8zM1497 176h5v1h-5zM1597 176h3v1h-3zM11 177h11v1h-11zM849 177h5v1h-5zM996 177h5v1h-5zM1020 177h11v1h-11zM1536 177h4v1h-4zM1622 177h7v1h-7zM299 178h5v1h-5zM897 178h11v1h-11zM1009 178h3v1h-3zM1151 178h9v1h-9zM1482 178h8v1h-8zM649 179h3v1h-3zM1004 179h10v1h-10zM1196 179h10v1h-10zM1431 179h3v1h-3zM1466 179h2v1h-2zM1551 179h8v1h-8zM817 180h7v1h-7zM419 181h10v1h-10zM554 181h5v1h-5zM571 181h9v1h-9z"/><path fill="#3c3c3c" d="M114 136h6v1h-6zM287 136h12v1h-12zM347 136h3v1h-3zM513 136h6v1h-6zM818 136h4v1h-4zM947 136h3v1h-3zM1025 136h9v1h-9zM1088 136h9v1h-9zM1112 136h8v1h-8zM1307 136h8v1h-8zM1566 136h6v1h-6zM445 137h11v1h-11zM1050 137h3v1h-3zM1334 137h6v1h-6zM1407 137h11v1h-11zM85 138h10v1h-10zM173 138h3v1h-3zM186 138h7v1h-7zM375 138h5v1h-5zM464 138h6v1h-6zM592 138h5v1h-5zM619 138h9v1h-9zM711 138h11v1h-11zM764 138h6v1h-6zM1244 138h3v1h-3zM1302 138h3v1h-3zM1595 138h7v1h-7zM10 154h5v1h-5zM21 154h11v1h-11zM889 154h19v1h-19zM914 154h1v1h-1zM1506 154h4v1h-4zM1644 154h10v1h-10zM17 155h3v1h-3zM155 155h8v1h-8zM819 155h5v1h-5zM863 155h9v1h-9zM911 155h4v1h-4zM1147 155h1v1h-1zM1278 155h5v1h-5zM25 156h6v1h-6zM1079 156h6v1h-6zM45 157h3v1h-3zM393 157h9v1h-9zM971 157h12v1h-12zM1478 157h4v1h-4zM1576 158h9v1h-9zM271 159h5v1h-5zM214 162h9v1h-9zM334 162h14v1h-14zM548 162h3v1h-3zM865 162h6v1h-6zM1588 162h8v1h-8zM1612 162h3v1h-3zM518 163h11v1h-11zM779 163h10v1h-10zM1029 163h11v1h-11zM1127 163h10v1h-10zM1361 163h10v1h-10zM1413 163h4v1h-4zM1492 163h3v1h-3zM670 164h8v1h-8zM841 164h6v1h-6zM880 164h7v1h-7zM920 164h5v1h-5zM1165 164h5v1h-5zM1222 164h2v1h-2zM1458 164h4v1h-4zM1574 164h11v1h-11zM18 165h3v1h-3zM310 165h11v1h-11zM965 165h11v1h-11zM1534 165h7v1h-7zM1640 165h11v1h-11zM161 166h8v1h-8zM385 166h8v1h-8zM594 166h9v1h-9zM660 166h7v1h-7zM809 166h9v1h-9zM982 166h10v1h-10zM222 167h8v1h-8zM773 167h5v1h-5zM161 168h10v1h-10zM202 168h3v1h-3zM931 172h12v1h-12zM1632 172h11v1h-11zM1635 173h12v1h-12zM977 174h6v1h-6zM681 175h9v1h-9zM714 175h12v1h-12zM802 175h17v1h-17zM1019 175h5v1h-5zM1076 175h6v1h-6zM1089 175h6v1h-6zM1107 175h11v1h-11zM1124 175h11v1h-11zM1190 175h4v1h-4zM1296 175h3v1h-3zM1345 175h10v1h-10zM1374 175h3v1h-3zM1411 175h5v1h-5zM1509 175h11v1h-11zM46 176h12v1h-12zM435 176h9v1h-9zM983 176h3v1h-3zM1004 176h12v1h-12zM1198 176h8v1h-8zM1272 176h10v1h-10zM1333 176h5v1h-5zM1586 176h11v1h-11zM1638 176h4v1h-4zM230 177h12v1h-12zM731 177h7v1h-7zM873 177h3v1h-3zM1075 177h10v1h-10zM1408 177h11v1h-11zM796 178h7v1h-7zM922 178h4v1h-4zM1523 178h2v1h-2zM1663 178h3v1h-3zM662 179h8v1h-8zM912 179h12v1h-12zM1293 179h12v1h-12zM1450 179h7v1h-7zM388 181h1v1h-1zM450 181h11v1h-11zM730 181h12v1h-12z"/><path fill="#3f3f3f" d="M31 136h4v1h-4zM59 136h11v1h-11zM129 136h10v1h-10zM239 136h5v1h-5zM614 136h11v1h-11zM686 136h4v1h-4zM715 136h5v1h-5zM805 136h5v1h-5zM1034 136h5v1h-5zM1134 136h6v1h-6zM1215 136h14v1h-14zM490 137h3v1h-3zM750 137h3v1h-3zM1088 137h5v1h-5zM1114 137h11v1h-11zM1285 137h9v1h-9zM1340 137h9v1h-9zM1555 137h5v1h-5zM1651 137h3v1h-3zM106 138h11v1h-11zM176 138h10v1h-10zM302 138h7v1h-7zM770 138h8v1h-8zM946 138h3v1h-3zM1224 138h5v1h-5zM1236 138h2v1h-2zM1323 138h11v1h-11zM106 154h6v1h-6zM859 154h10v1h-10zM885 154h4v1h-4zM1410 154h3v1h-3zM1483 154h2v1h-2zM1548 154h4v1h-4zM846 155h17v1h-17zM1080 155h3v1h-3zM1294 155h5v1h-5zM1318 155h4v1h-4zM1415 155h2v1h-2zM124 156h2v1h-2zM989 156h3v1h-3zM1446 156h2v1h-2zM1467 156h3v1h-3zM825 157h8v1h-8zM934 157h10v1h-10zM983 157h5v1h-5zM1040 157h6v1h-6zM1279 157h6v1h-6zM1474 157h2v1h-2zM1625 158h4v1h-4zM1549 159h11v1h-11zM36 162h3v1h-3zM412 162h4v1h-4zM656 162h8v1h-8zM722 162h11v1h-11zM739 162h6v1h-6zM817 162h12v1h-12zM892 162h9v1h-9zM915 162h5v1h-5zM947 162h3v1h-3zM1131 162h7v1h-7zM285 163h9v1h-9zM1121 163h6v1h-6zM1146 163h8v1h-8zM1423 163h10v1h-10zM1567 163h5v1h-5zM1622 163h5v1h-5zM360 164h3v1h-3zM532 164h5v1h-5zM786 164h4v1h-4zM969 164h3v1h-3zM1071 164h7v1h-7zM1086 164h2v1h-2zM1161 164h4v1h-4zM1312 164h10v1h-10zM1606 164h11v1h-11zM618 165h11v1h-11zM853 165h6v1h-6zM1159 165h5v1h-5zM1190 165h3v1h-3zM1596 165h6v1h-6zM743 166h7v1h-7zM954 166h12v1h-12zM1027 166h8v1h-8zM1044 166h5v1h-5zM1055 166h5v1h-5zM1206 166h11v1h-11zM1416 166h4v1h-4zM1459 166h8v1h-8zM1587 166h1v1h-1zM1620 166h10v1h-10zM543 167h9v1h-9zM606 168h7v1h-7zM687 168h9v1h-9zM689 169h4v1h-4zM756 169h10v1h-10zM265 170h7v1h-7zM806 172h4v1h-4zM1664 173h11v1h-11zM1196 174h5v1h-5zM675 175h6v1h-6zM824 175h5v1h-5zM992 175h10v1h-10zM1118 175h6v1h-6zM1463 175h6v1h-6zM402 176h3v1h-3zM699 176h9v1h-9zM857 176h9v1h-9zM953 176h9v1h-9zM971 176h12v1h-12zM1054 176h9v1h-9zM1219 176h11v1h-11zM1434 176h12v1h-12zM1502 176h5v1h-5zM5 177h6v1h-6zM306 177h11v1h-11zM1558 177h5v1h-5zM1140 178h11v1h-11zM1274 178h5v1h-5zM1392 178h9v1h-9zM1490 178h12v1h-12zM778 179h2v1h-2zM1067 179h8v1h-8zM1281 179h12v1h-12zM1366 179h3v1h-3zM1408 179h6v1h-6zM798 180h4v1h-4zM438 181h12v1h-12zM537 181h5v1h-5zM761 181h5v1h-5zM778 181h10v1h-10zM831 181h9v1h-9z"/><path fill="#424242" d="M35 136h12v1h-12zM456 136h12v1h-12zM498 136h12v1h-12zM579 136h11v1h-11zM693 136h9v1h-9zM765 136h16v1h-16zM822 136h8v1h-8zM868 136h8v1h-8zM886 136h6v1h-6zM921 136h6v1h-6zM1008 136h5v1h-5zM96 137h9v1h-9zM160 137h9v1h-9zM209 137h6v1h-6zM547 137h11v1h-11zM1083 137h5v1h-5zM1140 137h8v1h-8zM1154 137h7v1h-7zM1182 137h4v1h-4zM1639 137h12v1h-12zM1654 137h9v1h-9zM76 138h4v1h-4zM237 138h8v1h-8zM279 138h11v1h-11zM399 138h18v1h-18zM660 138h8v1h-8zM778 138h12v1h-12zM796 138h12v1h-12zM858 138h12v1h-12zM1199 138h5v1h-5zM1628 138h10v1h-10zM64 154h3v1h-3zM112 154h11v1h-11zM215 154h9v1h-9zM240 154h6v1h-6zM293 154h7v1h-7zM370 154h1v1h-1zM908 154h6v1h-6zM1042 154h4v1h-4zM1282 154h4v1h-4zM1435 154h3v1h-3zM1253 155h5v1h-5zM1327 155h2v1h-2zM77 156h2v1h-2zM815 156h10v1h-10zM1182 156h5v1h-5zM1253 156h3v1h-3zM1325 156h4v1h-4zM1458 156h4v1h-4zM861 157h9v1h-9zM1428 157h2v1h-2zM1670 157h5v1h-5zM160 162h9v1h-9zM195 162h8v1h-8zM640 162h5v1h-5zM797 162h5v1h-5zM840 162h12v1h-12zM926 162h6v1h-6zM174 163h10v1h-10zM876 163h8v1h-8zM1164 163h9v1h-9zM1554 163h4v1h-4zM107 164h7v1h-7zM810 164h12v1h-12zM931 164h11v1h-11zM992 164h11v1h-11zM1065 164h6v1h-6zM1153 164h1v1h-1zM1392 164h7v1h-7zM1485 164h12v1h-12zM1515 164h12v1h-12zM263 165h8v1h-8zM1035 165h4v1h-4zM1234 165h10v1h-10zM1336 165h1v1h-1zM1549 165h10v1h-10zM1619 165h11v1h-11zM532 166h3v1h-3zM645 166h3v1h-3zM678 166h10v1h-10zM973 166h4v1h-4zM1004 166h10v1h-10zM1197 166h9v1h-9zM1238 166h9v1h-9zM1361 166h6v1h-6zM1399 166h8v1h-8zM1478 166h12v1h-12zM1533 166h1v1h-1zM1566 166h11v1h-11zM714 167h9v1h-9zM468 168h9v1h-9zM294 169h12v1h-12zM420 169h9v1h-9zM1004 172h7v1h-7zM1167 172h8v1h-8zM233 173h8v1h-8zM324 175h5v1h-5zM439 175h10v1h-10zM797 175h5v1h-5zM938 175h12v1h-12zM1055 175h5v1h-5zM1199 175h6v1h-6zM1419 175h21v1h-21zM1453 175h10v1h-10zM1657 175h9v1h-9zM405 176h3v1h-3zM541 176h12v1h-12zM905 176h16v1h-16zM933 176h11v1h-11zM1074 176h3v1h-3zM1185 176h6v1h-6zM1216 176h3v1h-3zM1265 176h7v1h-7zM1297 176h6v1h-6zM1423 176h11v1h-11zM1507 176h11v1h-11zM1560 176h4v1h-4zM474 177h12v1h-12zM955 177h12v1h-12zM1009 177h4v1h-4zM1340 177h6v1h-6zM1478 177h11v1h-11zM779 178h10v1h-10zM849 178h10v1h-10zM1163 178h7v1h-7zM1036 179h6v1h-6zM1149 179h3v1h-3zM1423 179h8v1h-8zM681 180h8v1h-8zM860 180h11v1h-11zM504 181h3v1h-3zM617 181h5v1h-5zM655 181h6v1h-6zM715 181h11v1h-11zM788 181h8v1h-8z"/><path fill="#454545" d="M77 136h12v1h-12zM227 136h4v1h-4zM374 136h5v1h-5zM407 136h8v1h-8zM475 136h10v1h-10zM531 136h10v1h-10zM554 136h3v1h-3zM853 136h10v1h-10zM1120 136h4v1h-4zM1140 136h13v1h-13zM169 137h4v1h-4zM215 137h4v1h-4zM468 137h5v1h-5zM874 137h3v1h-3zM1221 137h8v1h-8zM16 138h8v1h-8zM199 138h12v1h-12zM512 138h12v1h-12zM743 138h12v1h-12zM1003 138h11v1h-11zM1158 138h9v1h-9zM185 154h3v1h-3zM280 154h4v1h-4zM300 154h10v1h-10zM1110 154h6v1h-6zM1313 154h4v1h-4zM1452 154h6v1h-6zM49 155h4v1h-4zM887 155h12v1h-12zM1143 155h4v1h-4zM1251 155h2v1h-2zM1622 155h6v1h-6zM195 156h7v1h-7zM559 156h9v1h-9zM825 156h4v1h-4zM97 157h4v1h-4zM222 157h7v1h-7zM233 157h1v1h-1zM298 157h4v1h-4zM1130 157h6v1h-6zM1482 157h4v1h-4zM1561 157h3v1h-3zM1608 157h5v1h-5zM1570 158h6v1h-6zM1298 159h10v1h-10zM1560 159h5v1h-5zM285 162h9v1h-9zM539 162h5v1h-5zM733 162h6v1h-6zM784 162h5v1h-5zM968 162h7v1h-7zM982 162h10v1h-10zM778 163h1v1h-1zM818 163h12v1h-12zM850 163h7v1h-7zM919 163h10v1h-10zM1040 163h11v1h-11zM1323 163h14v1h-14zM1384 163h8v1h-8zM1402 163h11v1h-11zM1420 163h3v1h-3zM1455 163h4v1h-4zM1609 163h4v1h-4zM778 164h8v1h-8zM830 164h11v1h-11zM975 164h10v1h-10zM1107 164h7v1h-7zM1454 164h4v1h-4zM1536 164h6v1h-6zM1589 164h10v1h-10zM1629 164h10v1h-10zM1673 164h2v1h-2zM746 165h11v1h-11zM952 165h13v1h-13zM976 165h12v1h-12zM1029 165h6v1h-6zM1442 165h7v1h-7zM528 166h4v1h-4zM966 166h7v1h-7zM1098 166h12v1h-12zM1141 166h11v1h-11zM1224 166h10v1h-10zM1247 166h5v1h-5zM1289 166h6v1h-6zM1327 166h10v1h-10zM1374 166h7v1h-7zM1673 166h2v1h-2zM325 167h9v1h-9zM360 167h4v1h-4zM529 167h5v1h-5zM314 168h3v1h-3zM0 172h1v1h-1zM220 174h10v1h-10zM258 174h12v1h-12zM708 174h12v1h-12zM429 175h7v1h-7zM498 175h8v1h-8zM819 175h5v1h-5zM836 175h11v1h-11zM965 175h12v1h-12zM1194 175h5v1h-5zM1205 175h8v1h-8zM1355 175h7v1h-7zM1640 175h7v1h-7zM596 176h11v1h-11zM623 176h11v1h-11zM715 176h8v1h-8zM877 176h9v1h-9zM1162 176h11v1h-11zM1359 176h7v1h-7zM1549 176h11v1h-11zM413 177h12v1h-12zM1091 179h7v1h-7zM1152 179h7v1h-7zM526 181h11v1h-11zM580 181h9v1h-9z"/><path fill="#484848" d="M70 136h7v1h-7zM120 136h5v1h-5zM299 136h8v1h-8zM320 136h8v1h-8zM468 136h7v1h-7zM944 136h3v1h-3zM1013 136h12v1h-12zM1209 136h6v1h-6zM57 137h6v1h-6zM105 137h8v1h-8zM180 137h9v1h-9zM292 137h10v1h-10zM342 137h3v1h-3zM379 137h8v1h-8zM645 137h12v1h-12zM722 137h16v1h-16zM1216 137h5v1h-5zM1630 137h9v1h-9zM227 138h10v1h-10zM257 138h8v1h-8zM342 138h11v1h-11zM452 138h12v1h-12zM609 138h4v1h-4zM700 138h11v1h-11zM818 138h10v1h-10zM882 138h8v1h-8zM959 138h9v1h-9zM1133 138h4v1h-4zM1232 138h4v1h-4zM1638 138h3v1h-3zM0 154h10v1h-10zM144 154h11v1h-11zM200 154h3v1h-3zM387 154h10v1h-10zM1306 154h5v1h-5zM1631 154h4v1h-4zM370 155h4v1h-4zM377 155h7v1h-7zM812 155h7v1h-7zM1106 155h3v1h-3zM1262 155h3v1h-3zM1329 155h5v1h-5zM1465 155h3v1h-3zM1579 155h5v1h-5zM115 156h6v1h-6zM227 156h5v1h-5zM290 156h3v1h-3zM416 156h2v1h-2zM728 156h9v1h-9zM844 156h12v1h-12zM1070 156h4v1h-4zM1373 156h3v1h-3zM1435 156h5v1h-5zM1598 156h6v1h-6zM154 157h1v1h-1zM195 157h14v1h-14zM413 157h5v1h-5zM812 157h3v1h-3zM852 157h9v1h-9zM965 157h6v1h-6zM1016 157h4v1h-4zM1144 157h4v1h-4zM1300 157h5v1h-5zM1448 157h5v1h-5zM1491 157h3v1h-3zM1554 157h3v1h-3zM1478 158h8v1h-8zM86 162h9v1h-9zM206 162h8v1h-8zM238 162h6v1h-6zM297 162h4v1h-4zM425 162h10v1h-10zM464 162h4v1h-4zM492 162h9v1h-9zM612 162h4v1h-4zM680 162h11v1h-11zM802 162h3v1h-3zM935 162h12v1h-12zM1014 162h7v1h-7zM1343 162h3v1h-3zM802 163h4v1h-4zM830 163h4v1h-4zM1209 163h10v1h-10zM1495 163h3v1h-3zM47 164h12v1h-12zM856 164h6v1h-6zM865 164h5v1h-5zM877 164h3v1h-3zM942 164h7v1h-7zM1047 164h3v1h-3zM1078 164h4v1h-4zM1100 164h7v1h-7zM1248 164h6v1h-6zM1270 164h11v1h-11zM1289 164h6v1h-6zM1476 164h9v1h-9zM825 165h23v1h-23zM873 165h6v1h-6zM1126 165h5v1h-5zM1207 165h4v1h-4zM1231 165h3v1h-3zM1456 165h3v1h-3zM1470 165h10v1h-10zM792 166h7v1h-7zM903 166h8v1h-8zM1165 166h6v1h-6zM717 169h6v1h-6zM241 173h12v1h-12zM950 175h6v1h-6zM1002 175h12v1h-12zM1281 175h4v1h-4zM1440 175h9v1h-9zM1571 175h10v1h-10zM371 176h11v1h-11zM424 176h11v1h-11zM538 176h3v1h-3zM652 176h9v1h-9zM999 176h5v1h-5zM1338 176h4v1h-4zM1352 176h7v1h-7zM1388 176h7v1h-7zM1476 176h12v1h-12zM977 177h7v1h-7zM1281 177h4v1h-4zM1612 177h10v1h-10zM1568 178h12v1h-12zM389 181h5v1h-5zM433 181h5v1h-5zM472 181h10v1h-10zM661 181h4v1h-4zM854 181h7v1h-7z"/><path fill="#4b4b4b" d="M222 136h5v1h-5zM379 136h7v1h-7zM435 136h12v1h-12zM1407 136h8v1h-8zM505 137h9v1h-9zM532 137h3v1h-3zM951 137h12v1h-12zM1234 137h4v1h-4zM80 138h5v1h-5zM135 138h4v1h-4zM211 138h9v1h-9zM331 138h8v1h-8zM417 138h4v1h-4zM470 138h9v1h-9zM501 138h11v1h-11zM808 138h10v1h-10zM1088 138h10v1h-10zM1121 138h12v1h-12zM1167 138h5v1h-5zM1518 138h9v1h-9zM73 154h7v1h-7zM134 154h7v1h-7zM1056 154h2v1h-2zM1252 154h2v1h-2zM1536 154h6v1h-6zM1572 154h2v1h-2zM93 155h3v1h-3zM215 155h3v1h-3zM317 155h4v1h-4zM872 155h10v1h-10zM1271 155h2v1h-2zM1459 155h6v1h-6zM1487 155h5v1h-5zM181 156h7v1h-7zM205 156h7v1h-7zM216 156h11v1h-11zM370 156h5v1h-5zM568 156h6v1h-6zM737 156h12v1h-12zM1384 156h4v1h-4zM101 157h2v1h-2zM190 157h5v1h-5zM919 157h10v1h-10zM951 157h4v1h-4zM1100 157h4v1h-4zM134 158h12v1h-12zM1656 158h12v1h-12zM1593 159h6v1h-6zM301 162h7v1h-7zM457 162h7v1h-7zM622 162h11v1h-11zM775 162h3v1h-3zM1050 162h11v1h-11zM1532 162h1v1h-1zM480 163h9v1h-9zM609 163h6v1h-6zM884 163h5v1h-5zM959 163h10v1h-10zM1110 163h11v1h-11zM1137 163h3v1h-3zM1188 163h13v1h-13zM1504 163h8v1h-8zM1529 163h3v1h-3zM1618 163h4v1h-4zM1627 163h10v1h-10zM822 164h8v1h-8zM949 164h3v1h-3zM1082 164h4v1h-4zM1139 164h1v1h-1zM1192 164h10v1h-10zM1247 164h1v1h-1zM1295 164h3v1h-3zM1431 164h5v1h-5zM1466 164h10v1h-10zM1542 164h4v1h-4zM144 165h12v1h-12zM1244 165h10v1h-10zM1297 165h10v1h-10zM1372 165h11v1h-11zM1080 166h4v1h-4zM1113 166h6v1h-6zM1152 166h4v1h-4zM1295 166h7v1h-7zM955 173h7v1h-7zM488 175h10v1h-10zM956 175h9v1h-9zM977 175h12v1h-12zM1340 175h5v1h-5zM1401 175h10v1h-10zM1547 175h12v1h-12zM1581 175h3v1h-3zM1590 175h7v1h-7zM1608 175h11v1h-11zM131 176h3v1h-3zM500 176h3v1h-3zM553 176h11v1h-11zM581 176h11v1h-11zM607 176h8v1h-8zM669 176h6v1h-6zM1035 176h8v1h-8zM1261 176h4v1h-4zM1137 179h6v1h-6zM1386 179h6v1h-6zM881 180h11v1h-11zM507 181h19v1h-19zM685 181h6v1h-6zM754 181h7v1h-7zM808 181h7v1h-7z"/><path fill="#4e4e4e" d="M6 136h6v1h-6zM702 136h6v1h-6zM781 136h21v1h-21zM1187 136h3v1h-3zM257 137h3v1h-3zM439 137h6v1h-6zM657 137h10v1h-10zM907 137h12v1h-12zM1064 137h10v1h-10zM1093 137h12v1h-12zM149 138h7v1h-7zM487 138h10v1h-10zM564 138h11v1h-11zM877 138h5v1h-5zM901 138h5v1h-5zM1014 138h6v1h-6zM1268 138h3v1h-3zM1646 138h4v1h-4zM15 154h6v1h-6zM224 154h12v1h-12zM409 154h8v1h-8zM989 154h3v1h-3zM1168 154h4v1h-4zM1181 154h6v1h-6zM1398 154h2v1h-2zM20 155h6v1h-6zM280 155h2v1h-2zM416 155h2v1h-2zM636 155h2v1h-2zM1034 155h5v1h-5zM1299 155h3v1h-3zM1445 155h3v1h-3zM7 156h3v1h-3zM280 156h10v1h-10zM319 156h2v1h-2zM877 156h11v1h-11zM1393 156h5v1h-5zM844 157h8v1h-8zM929 157h5v1h-5zM944 157h7v1h-7zM1046 157h3v1h-3zM1114 157h2v1h-2zM1200 157h3v1h-3zM1261 157h5v1h-5zM1486 157h5v1h-5zM1507 157h3v1h-3zM1205 158h8v1h-8zM1616 158h9v1h-9zM1654 158h2v1h-2zM1396 159h3v1h-3zM316 162h11v1h-11zM416 162h9v1h-9zM478 162h14v1h-14zM501 162h7v1h-7zM551 162h3v1h-3zM710 162h12v1h-12zM960 162h8v1h-8zM1027 162h11v1h-11zM952 163h7v1h-7zM1247 163h3v1h-3zM1417 163h3v1h-3zM1459 163h10v1h-10zM1643 163h5v1h-5zM1673 163h2v1h-2zM862 164h3v1h-3zM1332 164h3v1h-3zM1399 164h12v1h-12zM1562 164h3v1h-3zM782 165h7v1h-7zM1084 165h10v1h-10zM1104 165h12v1h-12zM1122 165h4v1h-4zM1220 165h11v1h-11zM1272 165h11v1h-11zM1418 165h11v1h-11zM1480 165h8v1h-8zM1507 165h3v1h-3zM1602 165h4v1h-4zM867 166h12v1h-12zM1092 166h6v1h-6zM1156 166h9v1h-9zM1252 166h3v1h-3zM1277 166h4v1h-4zM1439 166h8v1h-8zM1539 166h2v1h-2zM679 169h10v1h-10zM420 170h11v1h-11zM201 172h10v1h-10zM286 173h11v1h-11zM343 174h9v1h-9zM665 175h10v1h-10zM736 175h12v1h-12zM910 175h10v1h-10zM934 175h4v1h-4zM1155 175h5v1h-5zM1520 175h12v1h-12zM418 176h6v1h-6zM524 176h6v1h-6zM665 176h4v1h-4zM897 176h8v1h-8zM1206 176h10v1h-10zM1323 176h10v1h-10zM1518 176h12v1h-12zM1607 176h10v1h-10zM1627 176h11v1h-11zM1139 177h5v1h-5zM802 180h3v1h-3zM892 180h1v1h-1zM394 181h3v1h-3zM726 181h4v1h-4zM864 181h3v1h-3z"/><path fill="#515151" d="M247 136h19v1h-19zM350 136h3v1h-3zM415 136h12v1h-12zM557 136h11v1h-11zM673 136h9v1h-9zM142 137h1v1h-1zM260 137h7v1h-7zM524 137h8v1h-8zM633 137h4v1h-4zM667 137h12v1h-12zM693 137h4v1h-4zM798 137h10v1h-10zM814 137h5v1h-5zM1011 137h8v1h-8zM1042 137h3v1h-3zM64 138h12v1h-12zM265 138h4v1h-4zM444 138h5v1h-5zM575 138h10v1h-10zM691 138h9v1h-9zM890 138h6v1h-6zM915 138h5v1h-5zM1098 138h23v1h-23zM1216 138h8v1h-8zM1229 138h3v1h-3zM1575 138h12v1h-12zM199 152h5v1h-5zM1323 154h5v1h-5zM1466 154h2v1h-2zM209 155h6v1h-6zM305 155h1v1h-1zM1083 155h4v1h-4zM1091 155h4v1h-4zM1179 155h5v1h-5zM1195 155h3v1h-3zM1286 155h3v1h-3zM1405 155h2v1h-2zM1603 155h5v1h-5zM38 156h6v1h-6zM202 156h3v1h-3zM1313 156h5v1h-5zM1364 156h2v1h-2zM1433 156h2v1h-2zM105 157h3v1h-3zM402 157h11v1h-11zM955 157h10v1h-10zM1062 157h6v1h-6zM1107 157h5v1h-5zM1573 157h3v1h-3zM80 158h3v1h-3zM1491 158h5v1h-5zM1316 159h10v1h-10zM1462 159h9v1h-9zM155 162h5v1h-5zM256 162h9v1h-9zM327 162h7v1h-7zM394 162h6v1h-6zM452 162h5v1h-5zM616 162h3v1h-3zM884 162h5v1h-5zM975 162h7v1h-7zM1000 162h9v1h-9zM1346 162h9v1h-9zM1070 163h8v1h-8zM1474 163h7v1h-7zM1662 163h11v1h-11zM1060 164h5v1h-5zM1361 164h8v1h-8zM1414 164h7v1h-7zM1509 164h1v1h-1zM1533 164h3v1h-3zM1585 164h4v1h-4zM1072 165h6v1h-6zM1294 165h3v1h-3zM1383 165h6v1h-6zM1408 165h10v1h-10zM1429 165h7v1h-7zM1606 165h4v1h-4zM778 166h6v1h-6zM916 166h6v1h-6zM1217 166h7v1h-7zM1390 166h9v1h-9zM1407 166h9v1h-9zM1654 166h1v1h-1zM223 172h8v1h-8zM157 173h15v1h-15zM176 174h3v1h-3zM338 174h5v1h-5zM1313 175h6v1h-6zM1318 176h5v1h-5zM494 181h10v1h-10zM596 181h10v1h-10zM634 181h12v1h-12zM742 181h12v1h-12zM887 181h11v1h-11z"/><path fill="#545454" d="M125 136h4v1h-4zM447 136h9v1h-9zM635 136h8v1h-8zM1102 136h10v1h-10zM493 137h6v1h-6zM583 137h9v1h-9zM718 137h4v1h-4zM738 137h12v1h-12zM865 137h9v1h-9zM883 137h12v1h-12zM922 137h15v1h-15zM991 137h8v1h-8zM1161 137h5v1h-5zM1178 137h4v1h-4zM1672 137h2v1h-2zM139 138h4v1h-4zM220 138h7v1h-7zM428 138h5v1h-5zM553 138h11v1h-11zM681 138h10v1h-10zM141 154h3v1h-3zM371 154h5v1h-5zM953 154h6v1h-6zM983 154h6v1h-6zM1192 154h4v1h-4zM1207 154h2v1h-2zM1302 154h4v1h-4zM1558 154h5v1h-5zM1591 154h5v1h-5zM1635 154h9v1h-9zM1654 154h5v1h-5zM282 155h10v1h-10zM1045 155h4v1h-4zM1135 155h6v1h-6zM1431 155h3v1h-3zM1473 155h4v1h-4zM1507 155h3v1h-3zM131 156h11v1h-11zM1114 156h6v1h-6zM1208 156h2v1h-2zM1361 156h3v1h-3zM1370 156h3v1h-3zM1572 156h3v1h-3zM382 157h11v1h-11zM879 157h9v1h-9zM1056 157h6v1h-6zM1269 157h5v1h-5zM1361 157h2v1h-2zM1446 157h2v1h-2zM1464 157h2v1h-2zM1496 157h2v1h-2zM1587 157h3v1h-3zM1297 158h11v1h-11zM1361 158h12v1h-12zM1544 158h12v1h-12zM135 159h6v1h-6zM1533 159h11v1h-11zM1586 159h7v1h-7zM244 162h12v1h-12zM294 162h3v1h-3zM378 162h10v1h-10zM534 162h5v1h-5zM544 162h4v1h-4zM765 162h10v1h-10zM866 163h10v1h-10zM1090 163h11v1h-11zM1653 163h9v1h-9zM847 164h9v1h-9zM1131 164h8v1h-8zM1327 164h5v1h-5zM1411 164h3v1h-3zM1119 165h3v1h-3zM1488 165h4v1h-4zM1541 165h2v1h-2zM1651 165h4v1h-4zM818 166h3v1h-3zM1035 166h9v1h-9zM1131 166h10v1h-10zM1534 166h5v1h-5zM1610 166h10v1h-10zM179 174h10v1h-10zM246 174h12v1h-12zM408 175h2v1h-2zM1014 175h5v1h-5zM1532 175h3v1h-3zM1542 175h5v1h-5zM475 176h5v1h-5zM1043 176h11v1h-11zM848 180h12v1h-12zM559 181h12v1h-12zM815 181h9v1h-9zM848 181h6v1h-6z"/><path fill="#575757" d="M664 136h9v1h-9zM1072 136h6v1h-6zM1171 136h10v1h-10zM1265 136h8v1h-8zM7 137h8v1h-8zM27 137h10v1h-10zM202 137h7v1h-7zM345 137h8v1h-8zM535 137h12v1h-12zM600 137h6v1h-6zM624 137h9v1h-9zM697 137h8v1h-8zM715 137h3v1h-3zM773 137h12v1h-12zM980 137h11v1h-11zM1019 137h16v1h-16zM1053 137h11v1h-11zM1186 137h3v1h-3zM1229 137h5v1h-5zM0 138h16v1h-16zM269 138h10v1h-10zM870 138h7v1h-7zM978 138h12v1h-12zM1049 138h6v1h-6zM41 154h12v1h-12zM182 154h3v1h-3zM1026 154h4v1h-4zM1101 154h5v1h-5zM1125 154h11v1h-11zM1165 154h3v1h-3zM1366 154h5v1h-5zM1510 154h8v1h-8zM1552 154h6v1h-6zM1673 154h2v1h-2zM12 155h5v1h-5zM198 155h11v1h-11zM836 155h10v1h-10zM918 155h8v1h-8zM965 155h9v1h-9zM1184 155h6v1h-6zM1247 155h4v1h-4zM1283 155h3v1h-3zM1375 155h4v1h-4zM1450 155h5v1h-5zM1533 155h6v1h-6zM1556 155h6v1h-6zM19 156h3v1h-3zM212 156h4v1h-4zM387 156h5v1h-5zM948 156h6v1h-6zM1095 156h2v1h-2zM1539 156h2v1h-2zM48 157h2v1h-2zM302 157h19v1h-19zM888 157h3v1h-3zM1052 157h2v1h-2zM1152 157h3v1h-3zM1602 157h6v1h-6zM1654 157h7v1h-7zM1396 158h10v1h-10zM1506 158h4v1h-4zM69 159h8v1h-8zM1295 159h3v1h-3zM1408 159h7v1h-7zM223 162h5v1h-5zM282 162h3v1h-3zM366 162h12v1h-12zM388 162h6v1h-6zM508 162h7v1h-7zM569 162h12v1h-12zM619 162h3v1h-3zM664 162h5v1h-5zM877 162h7v1h-7zM996 162h4v1h-4zM1510 162h7v1h-7zM834 163h11v1h-11zM1313 163h10v1h-10zM1637 163h6v1h-6zM1281 164h8v1h-8zM1164 165h9v1h-9zM1324 165h12v1h-12zM1361 165h11v1h-11zM1401 165h7v1h-7zM1630 165h10v1h-10zM840 166h10v1h-10zM1267 166h10v1h-10zM1490 166h10v1h-10zM289 172h7v1h-7zM202 173h5v1h-5zM230 174h9v1h-9zM282 174h9v1h-9zM360 174h1v1h-1zM422 175h7v1h-7zM1319 175h10v1h-10zM1456 176h8v1h-8zM838 180h3v1h-3zM871 180h10v1h-10zM646 181h9v1h-9zM804 181h4v1h-4z"/><path fill="#5a5a5a" d="M22 136h9v1h-9zM157 136h4v1h-4zM328 136h7v1h-7zM643 136h11v1h-11zM708 136h7v1h-7zM950 136h8v1h-8zM1181 136h6v1h-6zM0 137h7v1h-7zM15 137h12v1h-12zM72 137h24v1h-24zM189 137h8v1h-8zM267 137h11v1h-11zM322 137h14v1h-14zM373 137h6v1h-6zM613 137h8v1h-8zM637 137h8v1h-8zM689 137h4v1h-4zM963 137h11v1h-11zM999 137h12v1h-12zM52 138h12v1h-12zM169 138h4v1h-4zM353 138h7v1h-7zM668 138h10v1h-10zM930 138h5v1h-5zM1025 138h19v1h-19zM1063 138h16v1h-16zM1148 138h5v1h-5zM1631 151h8v1h-8zM203 154h7v1h-7zM310 154h11v1h-11zM1030 154h6v1h-6zM1051 154h3v1h-3zM1085 154h5v1h-5zM1187 154h2v1h-2zM1333 154h3v1h-3zM1382 154h6v1h-6zM1480 154h3v1h-3zM1490 154h6v1h-6zM1518 154h7v1h-7zM1623 154h3v1h-3zM89 155h2v1h-2zM292 155h1v1h-1zM374 155h3v1h-3zM1547 155h4v1h-4zM1562 155h6v1h-6zM1574 155h5v1h-5zM112 156h3v1h-3zM121 156h3v1h-3zM232 156h2v1h-2zM375 156h6v1h-6zM1016 156h6v1h-6zM1147 156h1v1h-1zM1222 156h2v1h-2zM1614 156h4v1h-4zM0 157h6v1h-6zM214 157h8v1h-8zM280 157h18v1h-18zM1038 157h2v1h-2zM1091 157h6v1h-6zM1116 157h2v1h-2zM1217 157h1v1h-1zM1386 157h9v1h-9zM1494 157h2v1h-2zM1139 158h11v1h-11zM1308 158h11v1h-11zM1382 158h4v1h-4zM1286 159h9v1h-9zM1618 159h5v1h-5zM177 162h6v1h-6zM356 162h10v1h-10zM435 162h5v1h-5zM645 162h11v1h-11zM702 162h8v1h-8zM1338 162h5v1h-5zM489 163h6v1h-6zM929 163h10v1h-10zM991 163h5v1h-5zM1078 163h2v1h-2zM1293 163h12v1h-12zM1487 163h5v1h-5zM790 164h11v1h-11zM1078 165h6v1h-6zM1131 165h9v1h-9zM1315 165h9v1h-9zM1584 165h12v1h-12zM1128 166h3v1h-3zM1381 166h9v1h-9zM1577 166h10v1h-10zM211 172h5v1h-5zM241 172h6v1h-6zM309 172h9v1h-9zM197 173h5v1h-5zM196 174h8v1h-8zM239 174h4v1h-4zM751 175h11v1h-11zM774 175h5v1h-5zM461 181h11v1h-11zM542 181h12v1h-12zM694 181h11v1h-11zM824 181h7v1h-7zM861 181h3v1h-3z"/><path fill="#5d5d5d" d="M139 136h5v1h-5zM273 136h9v1h-9zM992 136h6v1h-6zM1158 136h10v1h-10zM197 137h5v1h-5zM315 137h7v1h-7zM461 137h7v1h-7zM785 137h5v1h-5zM877 137h6v1h-6zM937 137h5v1h-5zM1110 137h4v1h-4zM1132 137h8v1h-8zM1166 137h12v1h-12zM34 138h8v1h-8zM372 138h3v1h-3zM524 138h4v1h-4zM731 138h12v1h-12zM911 138h4v1h-4zM920 138h10v1h-10zM994 138h9v1h-9zM1137 138h11v1h-11zM1005 149h9v1h-9zM100 154h6v1h-6zM1080 154h5v1h-5zM1136 154h5v1h-5zM1276 154h6v1h-6zM1299 154h3v1h-3zM1427 154h4v1h-4zM1443 154h6v1h-6zM1488 154h2v1h-2zM56 155h2v1h-2zM99 155h5v1h-5zM1212 155h5v1h-5zM1258 155h4v1h-4zM1654 155h3v1h-3zM1135 156h2v1h-2zM1266 156h5v1h-5zM1380 156h4v1h-4zM184 157h6v1h-6zM1621 157h4v1h-4zM1406 158h5v1h-5zM1424 158h3v1h-3zM1585 158h9v1h-9zM1668 158h3v1h-3zM1189 159h3v1h-3zM1382 159h4v1h-4zM1471 159h3v1h-3zM1494 159h11v1h-11zM95 161h11v1h-11zM593 162h19v1h-19zM669 162h6v1h-6zM754 162h4v1h-4zM1517 162h6v1h-6zM1631 162h2v1h-2zM495 163h4v1h-4zM533 163h12v1h-12zM1180 163h8v1h-8zM1257 163h19v1h-19zM1512 163h6v1h-6zM1170 164h3v1h-3zM1258 164h12v1h-12zM1053 165h4v1h-4zM1173 165h4v1h-4zM189 166h5v1h-5zM1192 166h5v1h-5zM1234 166h4v1h-4zM278 173h4v1h-4zM358 173h3v1h-3zM270 174h3v1h-3zM1249 176h12v1h-12zM482 181h12v1h-12zM673 181h12v1h-12zM840 181h8v1h-8zM867 181h8v1h-8z"/><path fill="#606060" d="M1168 136h3v1h-3zM49 137h8v1h-8zM278 137h14v1h-14zM456 137h5v1h-5zM483 137h7v1h-7zM683 137h6v1h-6zM705 137h10v1h-10zM753 137h12v1h-12zM831 137h5v1h-5zM942 137h6v1h-6zM1201 137h15v1h-15zM1663 137h9v1h-9zM193 138h6v1h-6zM449 138h3v1h-3zM585 138h7v1h-7zM628 138h20v1h-20zM1079 138h9v1h-9zM1649 151h5v1h-5zM67 154h6v1h-6zM80 154h8v1h-8zM397 154h12v1h-12zM947 154h6v1h-6zM1046 154h5v1h-5zM1096 154h5v1h-5zM1116 154h9v1h-9zM1260 154h4v1h-4zM1336 154h1v1h-1zM1361 154h3v1h-3zM1377 154h5v1h-5zM1440 154h3v1h-3zM1458 154h2v1h-2zM1525 154h8v1h-8zM1659 154h14v1h-14zM384 155h8v1h-8zM1075 155h5v1h-5zM1119 155h5v1h-5zM1313 155h5v1h-5zM1551 155h5v1h-5zM44 156h6v1h-6zM980 156h3v1h-3zM1064 156h6v1h-6zM1508 156h2v1h-2zM1567 156h5v1h-5zM1654 156h6v1h-6zM1035 157h3v1h-3zM1195 157h2v1h-2zM1376 157h2v1h-2zM1533 157h2v1h-2zM1213 158h4v1h-4zM1272 158h9v1h-9zM1319 158h11v1h-11zM1411 158h7v1h-7zM1430 158h12v1h-12zM1496 158h10v1h-10zM1533 158h6v1h-6zM77 159h6v1h-6zM120 159h3v1h-3zM1171 159h8v1h-8zM1192 159h7v1h-7zM1326 159h11v1h-11zM1378 159h4v1h-4zM1438 159h3v1h-3zM1479 159h3v1h-3zM1583 159h3v1h-3zM183 162h12v1h-12zM348 162h8v1h-8zM581 162h12v1h-12zM633 162h7v1h-7zM420 163h7v1h-7zM545 163h5v1h-5zM1518 163h11v1h-11zM1596 163h13v1h-13zM1125 164h6v1h-6zM1552 164h10v1h-10zM988 165h10v1h-10zM1259 165h4v1h-4zM1171 166h11v1h-11zM1555 166h11v1h-11zM172 173h4v1h-4zM210 173h12v1h-12zM316 173h5v1h-5zM151 174h4v1h-4zM328 174h4v1h-4zM352 174h8v1h-8zM1135 175h8v1h-8zM406 181h5v1h-5zM622 181h12v1h-12zM665 181h8v1h-8zM771 181h7v1h-7zM796 181h8v1h-8z"/><path fill="#636363" d="M63 137h9v1h-9zM143 137h2v1h-2zM235 137h11v1h-11zM336 137h6v1h-6zM572 137h11v1h-11zM948 137h3v1h-3zM1045 137h5v1h-5zM1189 137h12v1h-12zM42 138h10v1h-10zM317 138h7v1h-7zM380 138h11v1h-11zM546 138h7v1h-7zM828 138h5v1h-5zM1211 138h5v1h-5zM1643 151h6v1h-6zM15 152h10v1h-10zM1062 154h6v1h-6zM1268 154h2v1h-2zM1413 154h5v1h-5zM1449 154h3v1h-3zM1502 154h4v1h-4zM79 155h3v1h-3zM306 155h11v1h-11zM934 155h9v1h-9zM1087 155h4v1h-4zM1115 155h2v1h-2zM1307 155h3v1h-3zM107 156h5v1h-5zM153 156h2v1h-2zM305 156h14v1h-14zM381 156h6v1h-6zM616 156h5v1h-5zM945 156h3v1h-3zM1028 156h6v1h-6zM1077 156h2v1h-2zM1256 156h4v1h-4zM915 157h4v1h-4zM1123 157h3v1h-3zM1180 157h4v1h-4zM1557 157h4v1h-4zM1281 158h5v1h-5zM1475 158h3v1h-3zM1556 158h10v1h-10zM1605 158h11v1h-11zM1199 159h12v1h-12zM1223 159h1v1h-1zM1268 159h6v1h-6zM1370 159h8v1h-8zM1421 159h5v1h-5zM1441 159h13v1h-13zM1544 159h5v1h-5zM1599 159h8v1h-8zM276 162h6v1h-6zM448 162h4v1h-4zM561 162h8v1h-8zM675 162h5v1h-5zM1359 162h1v1h-1zM1633 162h14v1h-14zM476 163h4v1h-4zM1648 164h7v1h-7zM789 165h3v1h-3zM1196 165h11v1h-11zM1367 166h7v1h-7zM284 172h5v1h-5zM357 172h4v1h-4zM113 174h3v1h-3zM189 174h7v1h-7zM410 175h8v1h-8zM766 181h5v1h-5z"/><path fill="#666666" d="M113 137h11v1h-11zM219 137h10v1h-10zM246 137h11v1h-11zM309 137h6v1h-6zM369 137h4v1h-4zM387 137h6v1h-6zM398 137h12v1h-12zM592 137h8v1h-8zM606 137h7v1h-7zM621 137h3v1h-3zM1105 137h5v1h-5zM117 138h6v1h-6zM896 138h5v1h-5zM236 154h4v1h-4zM1068 154h6v1h-6zM1213 154h5v1h-5zM1396 154h2v1h-2zM1500 154h2v1h-2zM1618 154h5v1h-5zM53 155h3v1h-3zM191 155h7v1h-7zM218 155h10v1h-10zM617 155h6v1h-6zM1019 155h4v1h-4zM1053 155h6v1h-6zM1129 155h6v1h-6zM1545 155h2v1h-2zM1669 155h6v1h-6zM90 156h5v1h-5zM101 156h3v1h-3zM188 156h7v1h-7zM521 156h6v1h-6zM574 156h9v1h-9zM1105 156h3v1h-3zM1280 156h4v1h-4zM1536 156h3v1h-3zM1550 156h6v1h-6zM1594 156h4v1h-4zM1663 156h10v1h-10zM378 157h4v1h-4zM1020 157h4v1h-4zM1068 157h2v1h-2zM1247 157h3v1h-3zM1433 157h6v1h-6zM1564 157h4v1h-4zM1596 157h3v1h-3zM1179 158h6v1h-6zM1247 158h12v1h-12zM1451 158h24v1h-24zM1539 158h5v1h-5zM1566 158h4v1h-4zM123 159h6v1h-6zM1257 159h11v1h-11zM1482 159h12v1h-12zM1505 159h5v1h-5zM440 162h8v1h-8zM468 162h10v1h-10zM691 162h11v1h-11zM1224 163h2v1h-2zM1233 163h12v1h-12zM1335 164h2v1h-2zM179 172h11v1h-11zM255 172h5v1h-5zM330 172h12v1h-12zM347 172h10v1h-10zM318 174h10v1h-10zM586 175h9v1h-9zM1582 176h4v1h-4zM824 180h9v1h-9zM705 181h10v1h-10z"/><path fill="#696969" d="M124 137h10v1h-10zM145 137h3v1h-3zM302 137h7v1h-7zM363 137h6v1h-6zM418 137h9v1h-9zM499 137h6v1h-6zM514 137h10v1h-10zM558 137h14v1h-14zM895 137h12v1h-12zM156 138h8v1h-8zM433 138h11v1h-11zM968 138h10v1h-10zM1153 138h5v1h-5zM25 152h5v1h-5zM88 154h12v1h-12zM915 154h6v1h-6zM963 154h10v1h-10zM1179 154h2v1h-2zM1317 154h6v1h-6zM943 155h6v1h-6zM959 155h6v1h-6zM1016 155h3v1h-3zM1192 155h3v1h-3zM1468 155h5v1h-5zM1501 155h6v1h-6zM1657 155h4v1h-4zM31 156h2v1h-2zM53 156h5v1h-5zM147 156h6v1h-6zM621 156h11v1h-11zM915 156h1v1h-1zM1271 156h4v1h-4zM1284 156h2v1h-2zM1440 156h6v1h-6zM1475 156h4v1h-4zM1488 156h3v1h-3zM1660 156h3v1h-3zM1673 156h2v1h-2zM13 157h6v1h-6zM54 157h2v1h-2zM370 157h8v1h-8zM1080 157h4v1h-4zM1197 157h3v1h-3zM1203 157h6v1h-6zM1330 157h2v1h-2zM1535 157h2v1h-2zM63 158h9v1h-9zM1427 158h3v1h-3zM1486 158h5v1h-5zM895 159h5v1h-5zM1147 159h11v1h-11zM1168 159h3v1h-3zM1215 159h8v1h-8zM1399 159h9v1h-9zM1426 159h12v1h-12zM1607 159h11v1h-11zM169 162h8v1h-8zM515 162h8v1h-8zM1225 162h6v1h-6zM1650 162h4v1h-4zM439 163h1v1h-1zM1226 163h3v1h-3zM1250 163h7v1h-7zM1433 163h10v1h-10zM582 165h1v1h-1zM1449 165h7v1h-7zM147 172h4v1h-4zM272 172h5v1h-5zM297 173h11v1h-11zM429 181h4v1h-4z"/><path fill="#6c6c6c" d="M974 136h6v1h-6zM148 137h3v1h-3zM229 137h6v1h-6zM473 137h10v1h-10zM765 137h8v1h-8zM479 138h5v1h-5zM1180 138h8v1h-8zM376 154h11v1h-11zM921 154h11v1h-11zM1175 154h2v1h-2zM1189 154h3v1h-3zM1288 154h6v1h-6zM1311 154h2v1h-2zM1611 154h5v1h-5zM104 155h2v1h-2zM399 155h11v1h-11zM616 155h1v1h-1zM633 155h3v1h-3zM915 155h3v1h-3zM1026 155h6v1h-6zM1109 155h6v1h-6zM1206 155h6v1h-6zM1267 155h4v1h-4zM1422 155h3v1h-3zM1539 155h6v1h-6zM940 156h5v1h-5zM1126 156h3v1h-3zM1137 156h10v1h-10zM1318 156h2v1h-2zM1451 156h1v1h-1zM181 157h3v1h-3zM1097 157h3v1h-3zM1255 157h6v1h-6zM1322 157h4v1h-4zM1456 157h5v1h-5zM1537 157h11v1h-11zM1592 157h4v1h-4zM120 158h7v1h-7zM146 158h5v1h-5zM1150 158h11v1h-11zM1202 158h3v1h-3zM1286 158h11v1h-11zM1373 158h9v1h-9zM1594 158h11v1h-11zM1671 158h4v1h-4zM37 159h7v1h-7zM1211 159h4v1h-4zM1274 159h9v1h-9zM1308 159h8v1h-8zM1454 159h8v1h-8zM1565 159h5v1h-5zM106 161h3v1h-3zM554 162h7v1h-7zM1523 162h9v1h-9zM1647 162h3v1h-3zM845 163h5v1h-5zM1443 163h12v1h-12zM1224 164h16v1h-16zM1370 164h6v1h-6zM296 172h10v1h-10zM253 173h12v1h-12z"/><path fill="#6f6f6f" d="M358 137h5v1h-5zM974 137h6v1h-6zM1014 149h5v1h-5zM181 152h12v1h-12zM210 154h5v1h-5zM1159 154h6v1h-6zM1247 154h2v1h-2zM1254 154h6v1h-6zM1364 154h2v1h-2zM1388 154h6v1h-6zM1581 154h6v1h-6zM47 155h2v1h-2zM73 155h6v1h-6zM82 155h2v1h-2zM116 155h2v1h-2zM147 155h8v1h-8zM1190 155h2v1h-2zM1448 155h2v1h-2zM1598 155h5v1h-5zM1630 155h1v1h-1zM0 156h2v1h-2zM126 156h5v1h-5zM409 156h4v1h-4zM515 156h6v1h-6zM1036 156h4v1h-4zM1051 156h4v1h-4zM1187 156h6v1h-6zM1562 156h5v1h-5zM1586 156h5v1h-5zM141 157h7v1h-7zM1033 157h2v1h-2zM1054 157h2v1h-2zM1072 157h3v1h-3zM1285 157h1v1h-1zM1297 157h3v1h-3zM1312 157h5v1h-5zM887 158h8v1h-8zM1144 159h3v1h-3zM1167 159h1v1h-1zM1252 159h5v1h-5zM1415 159h6v1h-6zM1570 159h5v1h-5zM8 160h6v1h-6zM203 162h3v1h-3zM745 162h9v1h-9zM1355 162h4v1h-4zM427 163h12v1h-12zM151 172h7v1h-7zM247 172h8v1h-8zM318 172h12v1h-12zM265 173h8v1h-8zM308 173h8v1h-8zM321 173h23v1h-23zM155 174h9v1h-9zM216 174h4v1h-4zM397 181h9v1h-9zM606 181h11v1h-11zM875 181h12v1h-12z"/><path fill="#727272" d="M353 137h5v1h-5zM679 137h4v1h-4zM808 137h6v1h-6zM1148 137h6v1h-6zM143 138h6v1h-6zM6 152h9v1h-9zM1058 154h4v1h-4zM1090 154h6v1h-6zM1533 154h3v1h-3zM1596 154h5v1h-5zM1626 154h5v1h-5zM111 155h5v1h-5zM234 155h5v1h-5zM623 155h10v1h-10zM974 155h12v1h-12zM1095 155h3v1h-3zM1168 155h6v1h-6zM1399 155h6v1h-6zM1571 155h3v1h-3zM632 156h6v1h-6zM928 156h3v1h-3zM1091 156h4v1h-4zM1294 156h5v1h-5zM1336 156h1v1h-1zM1575 156h6v1h-6zM26 157h5v1h-5zM65 157h2v1h-2zM1184 157h3v1h-3zM1576 157h4v1h-4zM54 159h4v1h-4zM64 159h5v1h-5zM1158 159h9v1h-9zM1283 159h3v1h-3zM1364 159h6v1h-6zM1386 159h10v1h-10zM400 162h12v1h-12zM158 172h10v1h-10zM190 172h3v1h-3zM342 172h5v1h-5zM348 173h10v1h-10zM147 174h4v1h-4zM164 174h12v1h-12zM279 174h3v1h-3zM408 176h8v1h-8z"/><path fill="#757575" d="M151 137h9v1h-9zM790 137h8v1h-8zM290 138h12v1h-12zM1639 151h4v1h-4zM937 154h10v1h-10zM1040 154h2v1h-2zM1074 154h6v1h-6zM1196 154h3v1h-3zM1431 154h4v1h-4zM1438 154h2v1h-2zM1460 154h6v1h-6zM1468 154h4v1h-4zM132 155h3v1h-3zM505 155h3v1h-3zM1369 155h6v1h-6zM1407 155h3v1h-3zM1455 155h4v1h-4zM1477 155h6v1h-6zM99 156h2v1h-2zM104 156h3v1h-3zM1175 156h2v1h-2zM1199 156h5v1h-5zM1286 156h4v1h-4zM1448 156h3v1h-3zM1462 156h5v1h-5zM1506 156h2v1h-2zM19 157h1v1h-1zM56 157h5v1h-5zM1310 157h2v1h-2zM1326 157h4v1h-4zM1430 157h3v1h-3zM1453 157h3v1h-3zM1590 157h2v1h-2zM19 158h5v1h-5zM72 158h8v1h-8zM1330 158h7v1h-7zM1386 158h10v1h-10zM1447 158h4v1h-4zM1629 158h2v1h-2zM49 159h5v1h-5zM141 159h10v1h-10zM900 159h9v1h-9zM1623 159h8v1h-8zM231 172h10v1h-10zM277 172h7v1h-7zM207 173h3v1h-3zM344 173h4v1h-4zM291 174h5v1h-5zM332 174h6v1h-6z"/><path fill="#787878" d="M134 137h8v1h-8zM1125 137h7v1h-7zM164 138h5v1h-5zM484 138h3v1h-3zM990 138h4v1h-4zM999 149h6v1h-6zM999 150h20v1h-20zM1016 154h5v1h-5zM1036 154h4v1h-4zM1106 154h4v1h-4zM1172 154h3v1h-3zM1331 154h2v1h-2zM1371 154h6v1h-6zM1589 154h2v1h-2zM10 155h2v1h-2zM67 155h6v1h-6zM141 155h3v1h-3zM949 155h7v1h-7zM986 155h3v1h-3zM1104 155h2v1h-2zM1201 155h5v1h-5zM1412 155h3v1h-3zM1441 155h4v1h-4zM1568 155h3v1h-3zM1661 155h8v1h-8zM413 156h3v1h-3zM916 156h12v1h-12zM965 156h12v1h-12zM1022 156h6v1h-6zM1122 156h4v1h-4zM1213 156h3v1h-3zM1581 156h5v1h-5zM73 157h4v1h-4zM239 157h7v1h-7zM1084 157h5v1h-5zM1142 157h2v1h-2zM1476 157h2v1h-2zM46 158h3v1h-3zM83 158h8v1h-8zM954 158h9v1h-9zM1190 158h5v1h-5zM30 159h7v1h-7zM269 162h3v1h-3zM1240 164h7v1h-7zM559 165h2v1h-2zM1660 165h12v1h-12zM580 166h3v1h-3zM193 172h8v1h-8zM1359 172h9v1h-9zM282 173h4v1h-4zM1356 173h11v1h-11zM204 174h12v1h-12zM273 174h6v1h-6zM301 174h6v1h-6z"/><path fill="#7b7b7b" d="M393 137h5v1h-5zM410 137h8v1h-8zM193 152h6v1h-6zM979 154h4v1h-4zM1024 154h2v1h-2zM1218 154h2v1h-2zM1264 154h4v1h-4zM1394 154h2v1h-2zM1563 154h3v1h-3zM26 155h2v1h-2zM96 155h3v1h-3zM106 155h5v1h-5zM118 155h2v1h-2zM1039 155h6v1h-6zM1384 155h3v1h-3zM1492 155h4v1h-4zM142 156h5v1h-5zM954 156h11v1h-11zM977 156h3v1h-3zM1040 156h5v1h-5zM1085 156h6v1h-6zM1129 156h6v1h-6zM1299 156h2v1h-2zM1376 156h4v1h-4zM1591 156h3v1h-3zM34 157h11v1h-11zM1075 157h5v1h-5zM1163 157h6v1h-6zM1277 157h2v1h-2zM1317 157h5v1h-5zM1383 157h3v1h-3zM1468 157h4v1h-4zM1580 157h1v1h-1zM49 158h5v1h-5zM127 158h7v1h-7zM1106 158h3v1h-3zM1161 158h6v1h-6zM44 159h5v1h-5zM129 159h6v1h-6zM1136 159h1v1h-1zM1361 159h3v1h-3zM1231 162h11v1h-11zM1245 163h2v1h-2zM1088 164h8v1h-8zM216 172h7v1h-7zM260 172h12v1h-12zM222 173h11v1h-11zM273 173h5v1h-5zM18 174h10v1h-10zM130 174h9v1h-9zM243 174h3v1h-3zM416 176h2v1h-2z"/><path fill="#7e7e7e" d="M37 137h12v1h-12zM53 154h11v1h-11zM959 154h4v1h-4zM973 154h6v1h-6zM1153 154h6v1h-6zM1177 154h2v1h-2zM1546 154h2v1h-2zM1124 155h5v1h-5zM1141 155h2v1h-2zM1365 155h4v1h-4zM1387 155h5v1h-5zM1588 155h4v1h-4zM10 156h3v1h-3zM1264 156h2v1h-2zM1428 156h5v1h-5zM1491 156h4v1h-4zM1533 156h3v1h-3zM1104 157h3v1h-3zM1126 157h4v1h-4zM1187 157h6v1h-6zM1363 157h2v1h-2zM1615 157h6v1h-6zM36 158h10v1h-10zM1185 158h5v1h-5zM1259 158h9v1h-9zM58 159h6v1h-6zM1137 159h7v1h-7zM1575 159h8v1h-8zM26 160h4v1h-4zM84 161h11v1h-11zM265 162h4v1h-4zM1142 164h11v1h-11zM1391 164h1v1h-1zM559 166h10v1h-10zM1313 172h10v1h-10zM147 173h10v1h-10zM307 174h11v1h-11zM841 180h7v1h-7z"/><path fill="#818181" d="M1074 137h9v1h-9zM324 138h7v1h-7zM1145 154h3v1h-3zM1418 154h3v1h-3zM120 155h6v1h-6zM410 155h6v1h-6zM513 155h11v1h-11zM956 155h3v1h-3zM1160 155h4v1h-4zM22 156h3v1h-3zM401 156h8v1h-8zM1610 156h4v1h-4zM6 157h1v1h-1zM1049 157h3v1h-3zM1274 157h3v1h-3zM1398 157h9v1h-9zM1109 158h2v1h-2zM1168 158h11v1h-11zM1217 158h7v1h-7zM1418 158h6v1h-6zM1 160h7v1h-7zM554 163h1v1h-1zM573 165h9v1h-9zM1349 172h10v1h-10zM1377 172h3v1h-3z"/><path fill="#848484" d="M1274 154h2v1h-2zM1286 154h2v1h-2zM1616 154h2v1h-2zM4 155h6v1h-6zM43 155h4v1h-4zM524 155h3v1h-3zM1032 155h2v1h-2zM1117 155h2v1h-2zM1392 155h5v1h-5zM85 156h5v1h-5zM1045 156h4v1h-4zM1097 156h2v1h-2zM1193 156h6v1h-6zM1398 156h3v1h-3zM61 157h4v1h-4zM111 157h10v1h-10zM234 157h5v1h-5zM906 157h9v1h-9zM1024 157h4v1h-4zM1118 157h5v1h-5zM1178 157h2v1h-2zM1214 157h3v1h-3zM1472 157h2v1h-2zM1268 158h4v1h-4zM1106 159h5v1h-5zM1179 159h10v1h-10zM1247 159h5v1h-5zM1242 162h5v1h-5zM1096 164h4v1h-4zM1672 165h1v1h-1zM168 172h11v1h-11zM306 172h3v1h-3zM1335 172h8v1h-8zM1374 172h3v1h-3zM188 173h9v1h-9zM1315 173h11v1h-11zM1 174h2v1h-2z"/><path fill="#878787" d="M932 154h5v1h-5zM1220 154h4v1h-4zM28 155h5v1h-5zM1049 155h4v1h-4zM1059 155h5v1h-5zM1069 155h6v1h-6zM1174 155h5v1h-5zM1417 155h5v1h-5zM1496 155h5v1h-5zM244 156h2v1h-2zM392 156h4v1h-4zM505 156h10v1h-10zM1177 156h5v1h-5zM1290 156h4v1h-4zM1310 156h3v1h-3zM1556 156h6v1h-6zM130 157h11v1h-11zM1466 157h2v1h-2zM1136 158h3v1h-3zM1167 158h1v1h-1zM1195 158h7v1h-7zM1039 159h4v1h-4zM1140 164h2v1h-2zM1385 164h6v1h-6zM1656 164h11v1h-11zM10 174h8v1h-8zM94 174h11v1h-11z"/><path fill="#8a8a8a" d="M1054 154h2v1h-2zM1406 154h4v1h-4zM37 155h3v1h-3zM508 155h5v1h-5zM926 155h8v1h-8zM1064 155h5v1h-5zM1410 155h2v1h-2zM396 156h5v1h-5zM1247 156h6v1h-6zM1547 156h3v1h-3zM1175 157h3v1h-3zM1293 157h4v1h-4zM1661 157h9v1h-9zM54 158h9v1h-9zM1016 159h2v1h-2zM1115 159h10v1h-10zM1229 163h4v1h-4zM569 166h11v1h-11zM1323 172h4v1h-4zM1346 173h10v1h-10zM296 174h5v1h-5z"/><path fill="#8d8d8d" d="M919 137h3v1h-3zM1421 154h6v1h-6zM1542 154h4v1h-4zM33 155h4v1h-4zM58 155h3v1h-3zM396 155h3v1h-3zM1434 155h7v1h-7zM1617 155h5v1h-5zM95 156h4v1h-4zM1204 156h4v1h-4zM1260 156h4v1h-4zM1404 156h11v1h-11zM83 157h9v1h-9zM1070 157h2v1h-2zM1193 157h2v1h-2zM1371 157h5v1h-5zM1395 157h3v1h-3zM1427 157h1v1h-1zM1461 157h3v1h-3zM910 158h5v1h-5zM1369 164h1v1h-1zM1667 164h6v1h-6zM1665 166h8v1h-8zM1335 173h11v1h-11zM57 174h7v1h-7z"/><path fill="#909090" d="M1021 154h3v1h-3zM392 155h4v1h-4zM1361 155h4v1h-4zM293 156h8v1h-8zM1034 156h2v1h-2zM1415 156h10v1h-10zM103 157h2v1h-2zM1209 157h5v1h-5zM1568 157h5v1h-5zM1 158h5v1h-5zM30 158h6v1h-6zM91 158h7v1h-7zM943 158h11v1h-11zM1474 159h5v1h-5zM550 163h4v1h-4zM1224 169h3v1h-3zM1241 169h6v1h-6zM30 172h10v1h-10zM35 174h5v1h-5zM64 174h10v1h-10z"/><path fill="#939393" d="M1476 154h4v1h-4zM1568 154h4v1h-4zM91 155h2v1h-2zM1310 155h3v1h-3zM1611 155h6v1h-6zM1307 156h3v1h-3zM1401 156h3v1h-3zM892 157h3v1h-3zM1028 157h2v1h-2zM1161 157h2v1h-2zM1599 157h3v1h-3zM887 159h8v1h-8zM909 159h6v1h-6zM1111 159h4v1h-4zM1343 172h6v1h-6zM3 174h7v1h-7zM83 174h11v1h-11z"/><path fill="#969696" d="M1574 154h2v1h-2zM239 155h7v1h-7zM62 156h5v1h-5zM1168 156h1v1h-1zM1501 156h5v1h-5zM108 157h3v1h-3zM1305 157h5v1h-5zM1407 157h12v1h-12zM111 158h9v1h-9zM905 158h5v1h-5zM1018 159h11v1h-11zM561 165h12v1h-12zM1368 172h6v1h-6zM128 173h10v1h-10zM1326 173h9v1h-9zM40 174h9v1h-9zM74 174h9v1h-9z"/><path fill="#999999" d="M1472 154h4v1h-4zM1566 154h2v1h-2zM1164 155h4v1h-4zM1273 155h5v1h-5zM234 156h10v1h-10zM1148 156h20v1h-20zM1388 156h5v1h-5zM1425 156h3v1h-3zM1604 156h6v1h-6zM1626 156h5v1h-5zM6 158h6v1h-6zM1034 158h9v1h-9zM1327 172h8v1h-8zM1313 173h2v1h-2zM1375 173h5v1h-5zM126 174h4v1h-4z"/><path fill="#9c9c9c" d="M1328 154h3v1h-3zM84 155h5v1h-5zM301 155h4v1h-4zM1217 155h3v1h-3zM1210 156h3v1h-3zM92 157h5v1h-5zM121 157h3v1h-3zM891 157h1v1h-1zM1378 157h5v1h-5zM895 158h10v1h-10zM1016 158h7v1h-7zM1043 158h1v1h-1zM1121 158h7v1h-7zM1125 159h9v1h-9zM1376 164h9v1h-9zM1655 165h5v1h-5zM1655 166h10v1h-10zM1227 169h6v1h-6zM1367 173h8v1h-8zM28 174h7v1h-7zM105 174h5v1h-5zM139 174h8v1h-8z"/><path fill="#9f9f9f" d="M1294 154h5v1h-5zM1485 154h3v1h-3zM1198 155h3v1h-3zM1322 155h5v1h-5zM13 156h6v1h-6zM67 156h6v1h-6zM1061 156h3v1h-3zM1470 156h5v1h-5zM900 157h6v1h-6zM1112 157h2v1h-2zM1613 157h2v1h-2zM98 158h3v1h-3zM14 160h12v1h-12zM116 174h10v1h-10z"/><path fill="#a2a2a2" d="M61 155h6v1h-6zM293 155h3v1h-3zM1334 155h3v1h-3zM1089 157h2v1h-2zM1148 157h4v1h-4zM1043 159h1v1h-1zM1134 159h2v1h-2zM9 172h3v1h-3zM87 172h7v1h-7zM119 172h9v1h-9z"/><path fill="#a5a5a5" d="M296 155h5v1h-5zM33 156h5v1h-5zM1485 156h3v1h-3zM895 157h5v1h-5zM1419 157h8v1h-8zM12 158h7v1h-7zM1111 158h7v1h-7zM1029 159h10v1h-10zM1238 169h3v1h-3zM17 172h9v1h-9zM71 172h10v1h-10zM112 172h7v1h-7zM144 172h3v1h-3zM110 174h3v1h-3z"/><path fill="#a8a8a8" d="M1199 154h5v1h-5zM1379 155h5v1h-5zM50 172h3v1h-3zM96 173h9v1h-9z"/><path fill="#ababab" d="M1289 155h5v1h-5zM1302 155h5v1h-5zM301 156h4v1h-4zM1216 156h6v1h-6zM1479 156h6v1h-6zM1655 164h1v1h-1zM81 172h6v1h-6z"/><path fill="#aeaeae" d="M1265 155h2v1h-2zM1128 158h8v1h-8zM94 172h6v1h-6zM68 173h5v1h-5zM117 173h11v1h-11z"/><path fill="#b1b1b1" d="M1608 155h3v1h-3zM1118 158h3v1h-3zM1233 169h5v1h-5zM26 172h4v1h-4zM63 172h8v1h-8zM100 172h12v1h-12zM84 173h12v1h-12z"/><path fill="#b4b4b4" d="M1204 154h3v1h-3zM1148 155h9v1h-9zM1618 156h6v1h-6zM1266 157h3v1h-3zM12 172h5v1h-5zM128 172h16v1h-16zM1 173h7v1h-7zM41 173h4v1h-4zM73 173h7v1h-7z"/><path fill="#b7b7b7" d="M1220 155h4v1h-4zM24 158h6v1h-6zM1023 158h11v1h-11zM34 173h7v1h-7zM57 173h9v1h-9zM49 174h8v1h-8z"/><path fill="#bababa" d="M1157 155h3v1h-3zM40 172h10v1h-10zM8 173h2v1h-2zM45 173h5v1h-5zM105 173h12v1h-12z"/><path fill="#bdbdbd" d="M1366 156h4v1h-4zM53 172h6v1h-6z"/><path fill="#c0c0c0" d="M101 158h10v1h-10z"/><path fill="#c3c3c3" d="M1592 155h6v1h-6zM59 172h4v1h-4zM16 173h16v1h-16zM80 173h4v1h-4zM138 173h9v1h-9z"/><path fill="#c9c9c9" d="M66 173h2v1h-2z"/><path fill="#cccccc" d="M1 172h8v1h-8zM32 173h2v1h-2z"/><path fill="#cfcfcf" d="M10 173h6v1h-6z"/><path fill="#d5d5d5" d="M50 173h7v1h-7z"/></g></g><g filter="url(#fD)"><g transform="translate(102 51) scale(1 4.865)" shape-rendering="crispEdges"><path fill="#000000" d="M515 126h1v1h-1zM882 126h2v1h-2zM1078 126h1v1h-1zM1389 126h1v1h-1zM1512 126h1v1h-1zM882 127h2v1h-2zM629 128h2v1h-2zM1482 128h3v1h-3z"/><path fill="#030303" d="M596 126h1v1h-1zM822 126h3v1h-3zM1079 126h2v1h-2zM1275 126h3v1h-3zM33 128h3v1h-3zM58 128h3v1h-3zM184 128h2v1h-2zM1279 128h2v1h-2z"/><path fill="#060606" d="M311 126h1v1h-1zM546 128h1v1h-1zM762 128h2v1h-2z"/><path fill="#090909" d="M732 126h3v1h-3zM1081 126h2v1h-2zM1334 126h1v1h-1zM628 127h3v1h-3zM566 128h2v1h-2zM650 128h1v1h-1zM674 128h1v1h-1zM707 128h2v1h-2zM820 128h3v1h-3z"/><path fill="#0c0c0c" d="M516 126h1v1h-1zM546 126h2v1h-2zM706 126h1v1h-1zM799 126h2v1h-2zM1242 126h2v1h-2zM1514 127h2v1h-2zM731 128h2v1h-2zM798 128h1v1h-1zM880 128h1v1h-1zM1273 128h3v1h-3zM717 179h2v1h-2z"/><path fill="#0f0f0f" d="M33 126h2v1h-2zM1418 126h1v1h-1zM1279 127h2v1h-2zM1333 127h2v1h-2zM1512 127h2v1h-2zM709 128h1v1h-1zM1387 128h1v1h-1z"/><path fill="#121212" d="M58 126h3v1h-3zM213 126h1v1h-1zM849 126h2v1h-2zM884 126h1v1h-1zM184 127h3v1h-3zM674 127h1v1h-1zM95 128h3v1h-3zM158 128h2v1h-2zM1052 128h1v1h-1zM1517 128h2v1h-2zM1608 128h3v1h-3zM1638 128h1v1h-1zM1474 178h1v1h-1z"/><path fill="#151515" d="M650 126h3v1h-3zM851 126h3v1h-3zM1387 126h2v1h-2zM1483 126h2v1h-2zM316 127h2v1h-2zM1273 127h3v1h-3zM36 128h2v1h-2zM188 128h3v1h-3zM520 128h1v1h-1zM675 128h2v1h-2zM849 128h1v1h-1zM883 128h2v1h-2zM1013 128h2v1h-2zM1077 128h3v1h-3zM1418 128h1v1h-1zM1639 128h1v1h-1z"/><path fill="#181818" d="M1316 27h2v1h-2zM1 126h3v1h-3zM312 126h3v1h-3zM629 126h2v1h-2zM1013 126h1v1h-1zM1273 126h2v1h-2zM1482 126h1v1h-1zM1513 126h2v1h-2zM1635 126h1v1h-1zM626 127h2v1h-2zM675 127h1v1h-1zM1278 127h1v1h-1zM214 128h1v1h-1zM651 128h2v1h-2zM881 128h2v1h-2zM1202 128h2v1h-2zM1333 128h2v1h-2z"/><path fill="#1b1b1b" d="M1316 25h2v1h-2zM544 126h2v1h-2zM566 126h2v1h-2zM626 126h3v1h-3zM1200 126h3v1h-3zM119 127h1v1h-1zM820 127h2v1h-2zM1 128h2v1h-2zM316 128h1v1h-1zM1106 128h1v1h-1zM1357 128h3v1h-3zM1512 128h3v1h-3zM1621 171h3v1h-3zM572 179h1v1h-1z"/><path fill="#1e1e1e" d="M157 126h2v1h-2zM190 126h1v1h-1zM820 126h1v1h-1zM982 126h1v1h-1zM1203 126h2v1h-2zM1278 126h3v1h-3zM1 127h2v1h-2zM595 127h2v1h-2zM652 127h3v1h-3zM822 127h3v1h-3zM1203 127h2v1h-2zM1387 127h2v1h-2zM157 128h1v1h-1zM976 128h2v1h-2zM1329 128h2v1h-2zM1389 128h1v1h-1zM642 177h3v1h-3zM591 179h3v1h-3zM690 179h3v1h-3z"/><path fill="#212121" d="M96 126h2v1h-2zM520 126h1v1h-1zM762 126h1v1h-1zM312 127h1v1h-1zM515 127h1v1h-1zM799 127h2v1h-2zM880 127h2v1h-2zM915 127h1v1h-1zM1389 127h1v1h-1zM213 128h1v1h-1zM252 128h1v1h-1zM286 128h3v1h-3zM515 128h3v1h-3zM1046 128h3v1h-3zM1076 128h1v1h-1zM1141 128h3v1h-3zM1200 128h2v1h-2zM1241 128h2v1h-2zM226 177h1v1h-1zM699 179h3v1h-3zM831 179h2v1h-2z"/><path fill="#242424" d="M1317 36h1v1h-1zM674 126h3v1h-3zM707 126h3v1h-3zM821 126h1v1h-1zM880 126h2v1h-2zM1017 126h1v1h-1zM1106 126h3v1h-3zM213 127h2v1h-2zM1202 127h1v1h-1zM1488 127h1v1h-1zM6 128h1v1h-1zM119 128h2v1h-2zM678 128h2v1h-2zM823 128h2v1h-2zM1286 157h2v1h-2zM1439 157h2v1h-2zM1281 171h2v1h-2zM1286 171h1v1h-1zM1435 171h1v1h-1zM997 178h2v1h-2zM709 179h3v1h-3zM1474 179h3v1h-3z"/><path fill="#272727" d="M36 126h3v1h-3zM57 126h1v1h-1zM184 126h2v1h-2zM462 126h2v1h-2zM1197 126h1v1h-1zM1448 126h3v1h-3zM462 127h2v1h-2zM516 127h3v1h-3zM709 127h1v1h-1zM849 127h3v1h-3zM1078 127h2v1h-2zM1608 127h3v1h-3zM568 128h1v1h-1zM850 128h3v1h-3zM915 128h2v1h-2zM1306 128h2v1h-2zM707 179h2v1h-2zM990 179h3v1h-3z"/><path fill="#2a2a2a" d="M63 126h1v1h-1zM399 126h1v1h-1zM491 126h1v1h-1zM1241 126h1v1h-1zM1639 126h2v1h-2zM650 127h2v1h-2zM1418 127h1v1h-1zM488 128h1v1h-1zM543 128h1v1h-1zM592 128h2v1h-2zM1237 128h2v1h-2zM1388 128h1v1h-1zM1486 128h3v1h-3zM1635 128h3v1h-3zM626 178h1v1h-1zM561 179h2v1h-2zM689 179h1v1h-1zM706 179h1v1h-1zM1473 179h1v1h-1z"/><path fill="#2d2d2d" d="M1316 36h1v1h-1zM95 126h1v1h-1zM310 126h1v1h-1zM592 126h4v1h-4zM1238 126h3v1h-3zM33 127h1v1h-1zM546 127h1v1h-1zM566 127h1v1h-1zM762 127h3v1h-3zM1200 127h2v1h-2zM3 128h3v1h-3zM492 128h3v1h-3zM1585 128h3v1h-3zM229 178h1v1h-1zM590 178h3v1h-3zM822 178h1v1h-1zM831 178h2v1h-2zM719 179h2v1h-2z"/><path fill="#303030" d="M6 126h1v1h-1zM124 126h2v1h-2zM214 126h4v1h-4zM349 126h2v1h-2zM1164 126h1v1h-1zM1517 126h1v1h-1zM97 127h2v1h-2zM190 127h1v1h-1zM1013 127h2v1h-2zM1076 127h2v1h-2zM154 128h2v1h-2zM540 128h1v1h-1zM594 128h3v1h-3zM733 128h2v1h-2zM799 128h1v1h-1zM825 128h1v1h-1zM853 128h1v1h-1zM981 128h2v1h-2zM1583 128h2v1h-2zM1626 157h3v1h-3zM1094 171h2v1h-2zM213 178h2v1h-2zM625 178h1v1h-1zM596 179h2v1h-2z"/><path fill="#333333" d="M119 126h2v1h-2zM284 126h3v1h-3zM490 126h1v1h-1zM912 126h1v1h-1zM1198 126h2v1h-2zM1306 126h1v1h-1zM1414 126h1v1h-1zM1451 126h1v1h-1zM1608 126h1v1h-1zM593 127h2v1h-2zM708 127h1v1h-1zM977 127h1v1h-1zM1358 127h3v1h-3zM38 128h1v1h-1zM346 128h1v1h-1zM975 128h1v1h-1zM1167 128h2v1h-2zM10 157h2v1h-2zM1 171h1v1h-1zM898 177h3v1h-3zM565 179h2v1h-2zM993 179h2v1h-2z"/><path fill="#363636" d="M257 126h1v1h-1zM373 126h2v1h-2zM1076 126h2v1h-2zM979 127h1v1h-1zM1448 127h1v1h-1zM1635 127h1v1h-1zM289 128h1v1h-1zM398 128h2v1h-2zM435 128h1v1h-1zM627 128h2v1h-2zM764 128h3v1h-3zM912 128h3v1h-3zM1276 128h3v1h-3zM1331 128h2v1h-2zM1611 128h2v1h-2zM1053 171h1v1h-1zM595 178h1v1h-1zM1126 178h1v1h-1zM625 179h3v1h-3zM822 179h2v1h-2z"/><path fill="#393939" d="M258 126h1v1h-1zM289 126h1v1h-1zM346 126h2v1h-2zM400 126h3v1h-3zM678 126h2v1h-2zM797 126h2v1h-2zM945 126h3v1h-3zM1144 126h1v1h-1zM1585 126h3v1h-3zM1609 126h1v1h-1zM57 127h3v1h-3zM157 127h2v1h-2zM1046 127h3v1h-3zM1449 127h3v1h-3zM160 128h1v1h-1zM217 128h1v1h-1zM547 128h1v1h-1zM1109 128h1v1h-1zM1197 128h3v1h-3zM1327 128h2v1h-2zM1516 128h1v1h-1zM1500 157h2v1h-2zM1432 171h3v1h-3zM596 178h3v1h-3zM823 178h1v1h-1zM1473 178h1v1h-1zM1534 178h2v1h-2z"/><path fill="#3c3c3c" d="M154 126h3v1h-3zM253 126h1v1h-1zM492 126h2v1h-2zM1050 126h3v1h-3zM1641 126h2v1h-2zM6 127h1v1h-1zM1482 127h3v1h-3zM39 128h1v1h-1zM57 128h1v1h-1zM257 128h2v1h-2zM437 128h3v1h-3zM460 128h4v1h-4zM495 128h1v1h-1zM800 128h1v1h-1zM1018 128h1v1h-1zM77 157h2v1h-2zM1285 171h1v1h-1zM1481 178h1v1h-1z"/><path fill="#3f3f3f" d="M61 126h2v1h-2zM287 126h2v1h-2zM543 126h1v1h-1zM568 126h2v1h-2zM677 126h1v1h-1zM825 126h1v1h-1zM1018 126h1v1h-1zM1307 126h1v1h-1zM1487 126h2v1h-2zM36 127h2v1h-2zM93 128h2v1h-2zM124 128h2v1h-2zM544 128h2v1h-2zM655 128h1v1h-1zM767 128h2v1h-2zM944 128h1v1h-1zM1015 128h3v1h-3zM1304 128h2v1h-2zM1546 128h1v1h-1zM1334 157h3v1h-3zM6 171h3v1h-3zM1597 177h1v1h-1zM1347 178h1v1h-1zM1475 178h2v1h-2zM987 179h3v1h-3zM1358 179h1v1h-1z"/><path fill="#424242" d="M495 126h1v1h-1zM1104 126h2v1h-2zM1237 126h1v1h-1zM1485 126h2v1h-2zM1610 126h3v1h-3zM1584 127h3v1h-3zM1639 127h2v1h-2zM215 128h2v1h-2zM400 128h3v1h-3zM436 128h1v1h-1zM519 128h1v1h-1zM948 128h2v1h-2zM1104 128h2v1h-2zM1515 128h1v1h-1zM932 171h2v1h-2zM1052 171h1v1h-1zM1054 171h3v1h-3zM1626 171h1v1h-1zM214 177h2v1h-2zM1598 177h1v1h-1zM991 178h1v1h-1zM1348 178h2v1h-2z"/><path fill="#454545" d="M187 126h3v1h-3zM211 126h2v1h-2zM252 126h1v1h-1zM348 126h1v1h-1zM372 126h1v1h-1zM459 126h2v1h-2zM488 126h1v1h-1zM981 126h1v1h-1zM1546 126h3v1h-3zM884 127h1v1h-1zM98 128h1v1h-1zM121 128h3v1h-3zM256 128h1v1h-1zM313 128h3v1h-3zM704 128h3v1h-3zM1080 128h3v1h-3zM1107 128h2v1h-2zM1144 128h1v1h-1zM1303 128h1v1h-1zM1548 128h1v1h-1zM1552 128h2v1h-2zM70 157h1v1h-1zM79 157h1v1h-1zM901 177h2v1h-2zM1207 177h2v1h-2zM1207 178h1v1h-1zM601 179h2v1h-2z"/><path fill="#484848" d="M39 126h1v1h-1zM186 126h1v1h-1zM254 126h1v1h-1zM283 126h1v1h-1zM315 126h3v1h-3zM437 126h1v1h-1zM624 126h2v1h-2zM914 126h3v1h-3zM1303 126h3v1h-3zM1329 126h5v1h-5zM1356 126h3v1h-3zM1382 126h1v1h-1zM1518 126h1v1h-1zM624 127h2v1h-2zM707 127h1v1h-1zM1197 127h3v1h-3zM1240 127h3v1h-3zM347 128h4v1h-4zM702 128h1v1h-1zM795 128h3v1h-3zM945 128h3v1h-3zM1164 128h3v1h-3zM1417 128h1v1h-1zM1640 128h1v1h-1zM987 156h2v1h-2zM0 171h1v1h-1zM491 178h2v1h-2z"/><path fill="#4b4b4b" d="M1238 62h1v1h-1zM398 126h1v1h-1zM763 126h2v1h-2zM1048 126h2v1h-2zM1142 126h2v1h-2zM1385 126h2v1h-2zM1588 126h1v1h-1zM96 127h1v1h-1zM349 127h2v1h-2zM982 127h1v1h-1zM310 128h3v1h-3zM1019 128h1v1h-1zM1049 128h3v1h-3zM1204 128h1v1h-1zM1360 128h2v1h-2zM1414 128h3v1h-3zM1485 128h1v1h-1zM1216 171h1v1h-1zM589 179h2v1h-2z"/><path fill="#4e4e4e" d="M436 126h1v1h-1zM461 126h1v1h-1zM494 126h1v1h-1zM703 126h3v1h-3zM765 126h2v1h-2zM913 126h1v1h-1zM1415 126h3v1h-3zM92 128h1v1h-1zM370 128h1v1h-1zM372 128h3v1h-3zM978 128h3v1h-3zM1139 128h2v1h-2zM1588 128h1v1h-1zM1641 128h2v1h-2zM693 179h3v1h-3zM1001 179h3v1h-3z"/><path fill="#515151" d="M1238 60h1v1h-1zM4 126h2v1h-2zM121 126h2v1h-2zM159 126h2v1h-2zM255 126h2v1h-2zM540 126h3v1h-3zM631 126h1v1h-1zM653 126h3v1h-3zM1166 126h3v1h-3zM154 127h1v1h-1zM288 127h2v1h-2zM592 127h1v1h-1zM1330 127h3v1h-3zM211 128h1v1h-1zM624 128h3v1h-3zM677 128h1v1h-1zM703 128h1v1h-1zM1382 128h3v1h-3zM1450 128h2v1h-2zM1547 128h1v1h-1zM12 157h1v1h-1zM931 171h1v1h-1zM1580 171h2v1h-2zM399 178h1v1h-1zM1115 178h2v1h-2zM1358 178h2v1h-2zM628 179h2v1h-2zM696 179h3v1h-3zM816 179h3v1h-3zM1125 179h3v1h-3zM1347 179h1v1h-1z"/><path fill="#545454" d="M35 126h1v1h-1zM98 126h1v1h-1zM702 126h1v1h-1zM767 126h2v1h-2zM795 126h2v1h-2zM948 126h2v1h-2zM1014 126h3v1h-3zM1109 126h1v1h-1zM1139 126h3v1h-3zM1355 126h1v1h-1zM1383 126h2v1h-2zM1582 126h3v1h-3zM1636 126h3v1h-3zM544 127h2v1h-2zM1305 127h3v1h-3zM61 128h3v1h-3zM283 128h3v1h-3zM440 128h1v1h-1zM459 128h1v1h-1zM541 128h2v1h-2zM569 128h1v1h-1zM1239 128h2v1h-2zM1385 128h2v1h-2zM1576 171h1v1h-1zM602 178h2v1h-2zM1106 179h1v1h-1z"/><path fill="#575757" d="M753 49h1v1h-1zM123 126h1v1h-1zM517 126h3v1h-3zM975 126h3v1h-3zM1045 126h3v1h-3zM1165 126h1v1h-1zM1169 126h2v1h-2zM1549 126h2v1h-2zM1581 126h1v1h-1zM1583 127h1v1h-1zM156 128h1v1h-1zM212 128h1v1h-1zM631 128h1v1h-1zM1045 128h1v1h-1zM1355 128h2v1h-2zM127 157h3v1h-3zM593 178h2v1h-2zM1215 178h1v1h-1z"/><path fill="#5a5a5a" d="M753 47h1v1h-1zM1019 126h1v1h-1zM1327 126h2v1h-2zM1515 126h2v1h-2zM1551 126h1v1h-1zM492 127h3v1h-3zM852 127h2v1h-2zM186 128h2v1h-2zM371 128h1v1h-1zM489 128h3v1h-3zM730 128h1v1h-1zM1549 128h3v1h-3zM131 177h2v1h-2zM127 178h3v1h-3zM1216 178h2v1h-2zM594 179h2v1h-2zM1348 179h2v1h-2z"/><path fill="#5d5d5d" d="M489 126h1v1h-1zM978 126h3v1h-3zM1359 126h1v1h-1zM1447 126h1v1h-1zM3 127h1v1h-1zM825 127h1v1h-1zM916 127h1v1h-1zM980 127h2v1h-2zM1243 128h1v1h-1zM1447 128h3v1h-3zM1581 128h2v1h-2zM931 156h3v1h-3zM1215 177h1v1h-1zM1002 178h2v1h-2zM1408 178h1v1h-1zM686 179h1v1h-1zM1357 179h1v1h-1z"/><path fill="#606060" d="M753 48h1v1h-1zM92 126h3v1h-3zM370 126h2v1h-2zM440 126h1v1h-1zM252 127h1v1h-1zM1238 127h2v1h-2zM518 128h1v1h-1zM570 128h1v1h-1zM653 128h2v1h-2zM1169 128h2v1h-2zM219 171h2v1h-2zM1106 178h1v1h-1zM1409 178h3v1h-3z"/><path fill="#636363" d="M505 60h1v1h-1zM1238 61h1v1h-1zM570 126h1v1h-1zM730 126h2v1h-2zM1552 126h2v1h-2zM60 127h1v1h-1zM257 127h1v1h-1zM286 127h2v1h-2zM488 127h1v1h-1zM1167 127h3v1h-3zM1516 127h3v1h-3zM1629 157h2v1h-2zM127 177h2v1h-2zM1216 177h2v1h-2zM1601 177h2v1h-2zM681 179h2v1h-2zM1116 179h1v1h-1z"/><path fill="#666666" d="M435 126h1v1h-1zM438 126h2v1h-2zM1360 126h2v1h-2zM155 127h2v1h-2zM313 127h3v1h-3zM253 128h3v1h-3zM72 157h1v1h-1zM833 178h1v1h-1zM1127 178h2v1h-2zM721 179h1v1h-1zM833 179h3v1h-3z"/><path fill="#696969" d="M505 59h1v1h-1zM944 126h1v1h-1zM124 127h2v1h-2zM1045 127h1v1h-1zM1303 127h2v1h-2zM1361 127h1v1h-1zM1385 127h2v1h-2zM317 128h1v1h-1zM1502 157h3v1h-3zM1214 171h2v1h-2zM1329 171h2v1h-2zM817 178h2v1h-2zM1658 178h1v1h-1z"/><path fill="#6c6c6c" d="M1315 25h1v1h-1zM34 127h2v1h-2zM122 127h2v1h-2zM373 127h2v1h-2zM733 127h2v1h-2zM1414 127h4v1h-4zM908 177h2v1h-2zM1592 177h3v1h-3zM680 179h1v1h-1z"/><path fill="#6f6f6f" d="M505 61h1v1h-1zM505 100h1v1h-1zM38 127h2v1h-2zM215 127h3v1h-3zM310 127h2v1h-2zM679 127h1v1h-1zM1237 127h1v1h-1zM1277 127h1v1h-1zM1447 127h1v1h-1zM903 177h2v1h-2zM393 179h3v1h-3zM618 179h3v1h-3zM688 179h1v1h-1zM703 179h3v1h-3z"/><path fill="#727272" d="M1315 27h1v1h-1zM863 70h1v1h-1zM863 76h1v1h-1zM999 112h1v1h-1zM346 127h3v1h-3zM495 127h1v1h-1zM541 127h3v1h-3zM631 127h1v1h-1zM1018 127h2v1h-2zM1356 127h2v1h-2zM618 178h3v1h-3zM567 179h1v1h-1zM687 179h1v1h-1z"/><path fill="#757575" d="M863 71h1v1h-1zM505 98h1v1h-1zM505 99h1v1h-1zM440 127h1v1h-1zM461 127h1v1h-1zM912 127h2v1h-2zM945 127h2v1h-2zM1142 127h3v1h-3zM2 171h3v1h-3zM498 178h3v1h-3zM713 179h3v1h-3zM1128 179h1v1h-1z"/><path fill="#787878" d="M863 75h1v1h-1zM863 78h1v1h-1zM187 127h3v1h-3zM398 127h3v1h-3zM437 127h3v1h-3zM459 127h2v1h-2zM975 127h2v1h-2zM1327 127h3v1h-3zM1553 127h1v1h-1zM1583 157h1v1h-1zM897 177h1v1h-1zM905 177h1v1h-1z"/><path fill="#7b7b7b" d="M505 78h1v1h-1zM63 127h1v1h-1zM120 127h2v1h-2zM283 127h3v1h-3zM547 127h1v1h-1zM730 127h3v1h-3zM1355 127h1v1h-1zM835 178h2v1h-2z"/><path fill="#7e7e7e" d="M505 70h1v1h-1zM505 90h1v1h-1zM505 97h1v1h-1zM370 127h3v1h-3zM567 127h2v1h-2zM677 127h2v1h-2zM1050 127h3v1h-3zM1164 127h1v1h-1zM1170 127h1v1h-1zM1276 127h1v1h-1zM1611 127h2v1h-2zM888 166h5v1h-5zM1328 171h1v1h-1zM1214 178h1v1h-1z"/><path fill="#818181" d="M505 89h1v1h-1zM999 111h1v1h-1zM92 127h1v1h-1zM655 127h1v1h-1zM765 127h3v1h-3zM1641 127h2v1h-2zM1584 157h2v1h-2zM323 177h2v1h-2zM636 177h3v1h-3zM503 178h2v1h-2zM828 178h1v1h-1z"/><path fill="#848484" d="M1315 36h1v1h-1zM1355 46h1v1h-1zM863 69h1v1h-1zM569 127h2v1h-2zM1107 127h3v1h-3zM1537 178h2v1h-2zM568 179h2v1h-2zM829 179h2v1h-2z"/><path fill="#878787" d="M1315 34h3v1h-3zM1355 44h1v1h-1zM582 47h1v1h-1zM582 49h1v1h-1zM401 127h2v1h-2zM435 127h2v1h-2zM702 127h2v1h-2zM795 127h1v1h-1zM944 127h1v1h-1zM978 127h1v1h-1zM1015 127h3v1h-3zM1080 127h2v1h-2zM1243 127h1v1h-1zM1636 127h3v1h-3zM124 177h2v1h-2zM122 178h2v1h-2zM134 178h1v1h-1zM834 178h1v1h-1zM712 179h1v1h-1zM716 179h1v1h-1z"/><path fill="#8a8a8a" d="M505 79h1v1h-1zM4 127h2v1h-2zM768 127h1v1h-1zM1485 127h3v1h-3zM193 164h1v1h-1zM982 171h3v1h-3zM906 177h2v1h-2zM124 178h3v1h-3zM702 179h1v1h-1zM1356 179h1v1h-1z"/><path fill="#8d8d8d" d="M1355 45h1v1h-1zM211 127h2v1h-2zM258 127h1v1h-1zM1049 127h1v1h-1zM1046 172h3v1h-3zM1603 177h1v1h-1zM215 178h2v1h-2zM563 179h1v1h-1zM598 179h3v1h-3zM824 179h2v1h-2z"/><path fill="#909090" d="M863 77h1v1h-1zM505 88h1v1h-1zM61 127h2v1h-2zM160 127h1v1h-1zM254 127h1v1h-1zM1165 127h2v1h-2zM1382 127h3v1h-3zM1549 127h2v1h-2zM879 166h3v1h-3zM1285 166h2v1h-2zM501 178h2v1h-2zM1531 178h2v1h-2zM1651 178h1v1h-1z"/><path fill="#939393" d="M1355 43h1v1h-1zM159 127h1v1h-1zM255 127h2v1h-2zM796 127h3v1h-3zM1082 127h1v1h-1zM1139 127h3v1h-3zM1625 157h1v1h-1zM1011 164h4v1h-4zM207 165h3v1h-3zM1184 165h2v1h-2zM1477 166h1v1h-1zM394 178h1v1h-1zM829 178h2v1h-2zM1123 178h3v1h-3zM582 179h1v1h-1z"/><path fill="#969696" d="M582 48h1v1h-1zM505 72h1v1h-1zM505 77h1v1h-1zM93 127h3v1h-3zM948 127h2v1h-2zM1104 127h3v1h-3zM168 161h2v1h-2zM379 161h4v1h-4zM534 161h4v1h-4zM838 161h4v1h-4zM880 161h2v1h-2zM228 162h3v1h-3zM1004 164h2v1h-2zM1546 164h2v1h-2zM199 165h3v1h-3zM1180 165h4v1h-4zM1548 165h1v1h-1zM200 166h4v1h-4zM1281 166h4v1h-4zM1287 166h2v1h-2zM216 177h2v1h-2zM639 177h3v1h-3zM493 178h3v1h-3zM824 178h2v1h-2zM1530 178h1v1h-1zM575 179h1v1h-1zM1111 179h3v1h-3z"/><path fill="#999999" d="M1355 47h1v1h-1zM999 110h1v1h-1zM914 127h1v1h-1zM1546 127h3v1h-3zM413 161h3v1h-3zM491 161h4v1h-4zM607 161h4v1h-4zM668 161h3v1h-3zM688 161h3v1h-3zM752 161h2v1h-2zM835 161h3v1h-3zM1114 161h6v1h-6zM237 162h1v1h-1zM188 164h5v1h-5zM1006 164h5v1h-5zM1548 164h4v1h-4zM202 165h5v1h-5zM1186 165h4v1h-4zM1468 166h3v1h-3zM1046 173h3v1h-3zM1053 173h1v1h-1zM1595 177h2v1h-2zM1599 177h2v1h-2zM1525 178h3v1h-3z"/><path fill="#9c9c9c" d="M505 71h1v1h-1zM519 127h2v1h-2zM676 127h1v1h-1zM947 127h1v1h-1zM1551 127h2v1h-2zM1661 160h3v1h-3zM155 161h4v1h-4zM288 161h5v1h-5zM334 161h6v1h-6zM387 161h3v1h-3zM476 161h5v1h-5zM529 161h5v1h-5zM644 161h6v1h-6zM680 161h2v1h-2zM702 161h5v1h-5zM718 161h5v1h-5zM1225 161h6v1h-6zM231 162h6v1h-6zM237 163h1v1h-1zM743 164h8v1h-8zM1015 164h1v1h-1zM194 166h2v1h-2zM882 166h6v1h-6zM132 178h2v1h-2zM496 178h2v1h-2zM570 179h2v1h-2zM621 179h1v1h-1zM598 186h5v1h-5z"/><path fill="#9f9f9f" d="M1587 127h2v1h-2zM1221 157h3v1h-3zM165 161h3v1h-3zM243 161h5v1h-5zM305 161h4v1h-4zM410 161h3v1h-3zM445 161h3v1h-3zM470 161h6v1h-6zM481 161h5v1h-5zM548 161h2v1h-2zM569 161h5v1h-5zM626 161h4v1h-4zM650 161h4v1h-4zM658 161h3v1h-3zM671 161h9v1h-9zM682 161h6v1h-6zM759 161h2v1h-2zM888 161h4v1h-4zM996 161h4v1h-4zM1002 161h2v1h-2zM1011 161h5v1h-5zM1338 161h6v1h-6zM1346 161h2v1h-2zM1515 161h4v1h-4zM1636 161h5v1h-5zM1651 161h2v1h-2zM196 166h4v1h-4zM679 173h3v1h-3zM1049 173h4v1h-4zM45 176h1v1h-1zM395 178h1v1h-1zM1111 178h4v1h-4zM1417 178h3v1h-3zM564 179h1v1h-1zM1351 179h3v1h-3zM603 186h7v1h-7z"/><path fill="#a2a2a2" d="M253 127h1v1h-1zM159 161h6v1h-6zM170 161h4v1h-4zM293 161h6v1h-6zM342 161h5v1h-5zM365 161h2v1h-2zM373 161h3v1h-3zM383 161h4v1h-4zM394 161h5v1h-5zM455 161h5v1h-5zM486 161h2v1h-2zM497 161h5v1h-5zM507 161h3v1h-3zM538 161h1v1h-1zM550 161h6v1h-6zM574 161h5v1h-5zM630 161h2v1h-2zM636 161h2v1h-2zM783 161h2v1h-2zM797 161h2v1h-2zM819 161h3v1h-3zM854 161h4v1h-4zM882 161h6v1h-6zM892 161h2v1h-2zM898 161h5v1h-5zM1007 161h4v1h-4zM1120 161h2v1h-2zM1242 161h5v1h-5zM1348 161h3v1h-3zM1519 161h3v1h-3zM1641 161h2v1h-2zM1541 166h4v1h-4zM67 171h2v1h-2zM1049 172h5v1h-5zM40 176h5v1h-5zM136 177h1v1h-1zM221 177h1v1h-1zM403 178h2v1h-2zM390 179h1v1h-1zM826 179h3v1h-3z"/><path fill="#a5a5a5" d="M489 127h3v1h-3zM704 127h3v1h-3zM1452 156h3v1h-3zM1337 157h1v1h-1zM177 161h3v1h-3zM255 161h4v1h-4zM274 161h5v1h-5zM299 161h6v1h-6zM312 161h2v1h-2zM326 161h2v1h-2zM347 161h2v1h-2zM356 161h6v1h-6zM376 161h3v1h-3zM399 161h3v1h-3zM406 161h4v1h-4zM432 161h4v1h-4zM440 161h5v1h-5zM448 161h7v1h-7zM460 161h6v1h-6zM488 161h3v1h-3zM502 161h5v1h-5zM510 161h16v1h-16zM559 161h4v1h-4zM579 161h6v1h-6zM601 161h6v1h-6zM611 161h9v1h-9zM723 161h15v1h-15zM745 161h7v1h-7zM774 161h4v1h-4zM790 161h5v1h-5zM809 161h3v1h-3zM817 161h2v1h-2zM822 161h8v1h-8zM858 161h5v1h-5zM913 161h2v1h-2zM1236 161h6v1h-6zM1351 161h9v1h-9zM1653 161h1v1h-1zM228 163h9v1h-9zM751 164h2v1h-2zM1545 165h3v1h-3zM145 171h2v1h-2zM1168 171h2v1h-2zM674 173h5v1h-5zM645 177h1v1h-1zM322 178h2v1h-2zM622 178h1v1h-1zM323 179h2v1h-2zM1103 179h3v1h-3z"/><path fill="#a8a8a8" d="M1455 156h3v1h-3zM7 157h1v1h-1zM124 157h3v1h-3zM1289 157h3v1h-3zM1427 160h2v1h-2zM248 161h2v1h-2zM252 161h3v1h-3zM259 161h4v1h-4zM320 161h6v1h-6zM340 161h2v1h-2zM349 161h7v1h-7zM402 161h4v1h-4zM526 161h3v1h-3zM589 161h9v1h-9zM620 161h6v1h-6zM707 161h6v1h-6zM738 161h2v1h-2zM754 161h5v1h-5zM801 161h8v1h-8zM830 161h5v1h-5zM852 161h2v1h-2zM874 161h6v1h-6zM903 161h4v1h-4zM1000 161h2v1h-2zM1109 161h5v1h-5zM1522 161h7v1h-7zM750 163h9v1h-9zM753 164h2v1h-2zM1543 165h2v1h-2zM1471 166h6v1h-6zM681 171h1v1h-1zM674 172h2v1h-2zM228 178h1v1h-1zM826 178h2v1h-2zM1654 178h2v1h-2zM587 179h1v1h-1zM683 179h3v1h-3zM1122 179h3v1h-3z"/><path fill="#ababab" d="M1429 160h1v1h-1zM1545 160h3v1h-3zM1600 160h3v1h-3zM263 161h11v1h-11zM285 161h3v1h-3zM309 161h3v1h-3zM328 161h6v1h-6zM362 161h3v1h-3zM390 161h4v1h-4zM416 161h2v1h-2zM424 161h5v1h-5zM436 161h4v1h-4zM466 161h4v1h-4zM598 161h3v1h-3zM632 161h4v1h-4zM654 161h4v1h-4zM665 161h3v1h-3zM713 161h5v1h-5zM771 161h3v1h-3zM842 161h5v1h-5zM894 161h4v1h-4zM907 161h6v1h-6zM1124 161h2v1h-2zM1510 161h5v1h-5zM1077 166h2v1h-2zM676 172h6v1h-6zM221 178h3v1h-3zM396 178h1v1h-1zM815 178h2v1h-2zM988 178h3v1h-3zM1103 178h3v1h-3zM1477 178h2v1h-2z"/><path fill="#aeaeae" d="M8 157h2v1h-2zM1292 157h1v1h-1zM1485 160h3v1h-3zM174 161h3v1h-3zM279 161h6v1h-6zM429 161h3v1h-3zM495 161h2v1h-2zM546 161h2v1h-2zM585 161h4v1h-4zM661 161h4v1h-4zM699 161h3v1h-3zM740 161h5v1h-5zM765 161h6v1h-6zM778 161h5v1h-5zM785 161h5v1h-5zM795 161h2v1h-2zM1106 161h3v1h-3zM1122 161h2v1h-2zM1529 161h4v1h-4zM1649 161h2v1h-2zM1173 163h3v1h-3zM1178 163h2v1h-2zM1545 166h1v1h-1zM674 171h2v1h-2zM674 174h4v1h-4zM209 175h6v1h-6zM1210 177h2v1h-2zM599 178h3v1h-3zM627 178h3v1h-3zM814 178h1v1h-1zM1210 178h1v1h-1zM1413 178h1v1h-1zM1652 178h1v1h-1zM1098 179h1v1h-1z"/><path fill="#b1b1b1" d="M540 127h1v1h-1zM1581 127h2v1h-2zM1172 156h3v1h-3zM112 159h5v1h-5zM697 161h2v1h-2zM993 161h3v1h-3zM1004 161h3v1h-3zM1231 161h5v1h-5zM1631 161h5v1h-5zM759 163h1v1h-1zM1173 164h4v1h-4zM1062 166h6v1h-6zM1070 166h7v1h-7zM63 171h1v1h-1zM588 178h2v1h-2zM1099 178h2v1h-2zM1412 178h1v1h-1zM1656 178h2v1h-2zM814 179h2v1h-2z"/><path fill="#b4b4b4" d="M109 159h3v1h-3zM556 161h3v1h-3zM691 161h6v1h-6zM799 161h2v1h-2zM847 161h5v1h-5zM870 161h4v1h-4zM1126 161h1v1h-1zM943 163h6v1h-6zM210 165h1v1h-1zM1068 166h2v1h-2zM121 177h2v1h-2zM227 177h3v1h-3zM397 178h2v1h-2zM837 178h1v1h-1zM986 178h2v1h-2zM1098 178h1v1h-1zM836 179h1v1h-1zM1354 179h2v1h-2z"/><path fill="#b7b7b7" d="M152 157h1v1h-1zM250 161h2v1h-2zM563 161h4v1h-4zM1643 161h6v1h-6zM1550 163h4v1h-4zM211 176h5v1h-5zM621 178h1v1h-1zM819 178h3v1h-3zM1414 178h1v1h-1zM588 179h1v1h-1zM837 179h1v1h-1zM1468 179h2v1h-2z"/><path fill="#bababa" d="M80 157h1v1h-1zM1332 157h2v1h-2zM117 159h3v1h-3zM1344 161h2v1h-2zM1060 166h2v1h-2zM980 171h2v1h-2zM1057 171h1v1h-1zM222 177h2v1h-2zM224 178h3v1h-3zM1213 178h1v1h-1zM391 179h2v1h-2zM1350 179h1v1h-1z"/><path fill="#bdbdbd" d="M934 156h3v1h-3zM1176 163h2v1h-2zM1177 164h3v1h-3zM1079 166h1v1h-1zM65 171h2v1h-2zM676 171h5v1h-5zM1624 171h2v1h-2zM678 174h4v1h-4zM215 175h1v1h-1zM209 176h2v1h-2zM133 177h3v1h-3zM211 177h3v1h-3zM224 177h2v1h-2zM135 178h2v1h-2zM227 178h1v1h-1zM408 178h3v1h-3zM587 178h1v1h-1zM1121 178h2v1h-2zM1350 178h3v1h-3zM1415 178h2v1h-2zM1536 178h1v1h-1zM1359 179h2v1h-2zM1480 179h2v1h-2z"/><path fill="#c0c0c0" d="M1055 156h3v1h-3zM1099 156h3v1h-3zM67 157h3v1h-3zM64 171h1v1h-1zM218 177h3v1h-3zM317 179h1v1h-1zM326 179h1v1h-1zM986 179h1v1h-1z"/><path fill="#c3c3c3" d="M1371 163h3v1h-3zM1170 171h1v1h-1zM405 178h3v1h-3zM1208 178h2v1h-2zM622 179h1v1h-1zM819 179h3v1h-3zM838 179h2v1h-2z"/><path fill="#c6c6c6" d="M937 156h1v1h-1zM1445 157h1v1h-1zM1495 171h3v1h-3zM126 177h1v1h-1zM217 178h1v1h-1zM411 178h3v1h-3zM838 178h2v1h-2zM1101 178h2v1h-2zM1211 178h2v1h-2zM1355 178h3v1h-3zM1653 178h1v1h-1zM603 179h1v1h-1z"/><path fill="#c9c9c9" d="M8 159h4v1h-4zM221 171h2v1h-2zM1283 171h2v1h-2zM391 178h1v1h-1zM400 178h3v1h-3zM992 178h3v1h-3zM1353 178h2v1h-2zM1107 179h2v1h-2z"/><path fill="#cccccc" d="M6 159h2v1h-2zM12 159h6v1h-6zM728 166h5v1h-5zM217 171h2v1h-2zM324 178h1v1h-1zM995 178h2v1h-2zM999 178h3v1h-3zM1470 178h3v1h-3z"/><path fill="#cfcfcf" d="M1505 157h2v1h-2zM27 159h3v1h-3zM1217 171h3v1h-3zM1331 171h3v1h-3zM1577 171h3v1h-3zM317 177h3v1h-3zM1205 177h2v1h-2zM120 178h2v1h-2zM320 178h1v1h-1zM1117 178h2v1h-2zM1406 178h2v1h-2zM318 179h2v1h-2zM387 179h3v1h-3zM999 179h2v1h-2z"/><path fill="#d2d2d2" d="M1102 156h2v1h-2zM1444 157h1v1h-1zM18 159h9v1h-9zM740 165h4v1h-4zM1099 171h1v1h-1zM1430 171h2v1h-2zM120 177h1v1h-1zM123 177h1v1h-1zM325 177h2v1h-2zM1209 177h1v1h-1zM1212 177h3v1h-3zM317 178h3v1h-3zM321 178h1v1h-1zM1205 178h2v1h-2zM1528 178h2v1h-2zM996 179h3v1h-3zM1120 179h2v1h-2z"/><path fill="#d5d5d5" d="M1 159h5v1h-5zM985 171h1v1h-1zM130 178h2v1h-2zM386 178h2v1h-2zM1360 178h1v1h-1zM1533 178h1v1h-1zM325 179h1v1h-1zM1470 179h3v1h-3z"/><path fill="#d8d8d8" d="M1104 156h1v1h-1zM153 157h1v1h-1zM1582 157h1v1h-1zM148 171h3v1h-3zM129 177h2v1h-2zM1107 178h1v1h-1zM623 179h2v1h-2zM1477 179h3v1h-3z"/><path fill="#dbdbdb" d="M1169 156h3v1h-3zM24 157h2v1h-2zM81 157h2v1h-2zM1218 157h3v1h-3zM320 177h3v1h-3zM325 178h2v1h-2zM392 178h2v1h-2zM1479 178h2v1h-2zM995 179h1v1h-1z"/><path fill="#dedede" d="M148 157h1v1h-1zM1581 157h1v1h-1zM763 162h2v1h-2zM733 166h5v1h-5zM928 171h3v1h-3zM1498 171h3v1h-3zM1468 178h2v1h-2zM320 179h3v1h-3zM386 179h1v1h-1zM1099 179h1v1h-1zM1117 179h3v1h-3z"/><path fill="#e1e1e1" d="M983 156h2v1h-2zM1169 157h2v1h-2zM734 165h6v1h-6zM738 166h2v1h-2zM211 178h2v1h-2zM388 178h3v1h-3zM576 179h3v1h-3z"/><path fill="#e4e4e4" d="M985 156h2v1h-2zM71 157h1v1h-1zM1173 157h2v1h-2zM1441 157h3v1h-3zM758 162h5v1h-5zM1165 171h3v1h-3zM1114 179h2v1h-2z"/><path fill="#e7e7e7" d="M149 157h3v1h-3zM1171 157h2v1h-2zM1498 157h2v1h-2zM744 165h2v1h-2zM5 171h1v1h-1zM1097 171h2v1h-2zM623 178h2v1h-2zM1108 178h3v1h-3zM1119 178h2v1h-2zM1100 179h3v1h-3z"/><path fill="#eaeaea" d="M20 157h3v1h-3zM147 171h1v1h-1zM579 179h3v1h-3z"/><path fill="#ededed" d="M23 157h1v1h-1zM1586 157h1v1h-1zM9 171h1v1h-1zM1096 171h1v1h-1zM1109 179h2v1h-2z"/><path fill="#f0f0f0" d="M1058 156h3v1h-3zM218 178h3v1h-3z"/><path fill="#f3f3f3" d="M938 156h2v1h-2z"/><path fill="#fcfcfc" d="M1288 157h1v1h-1z"/></g></g></g><rect x="102.40" y="51.00" width="1674.30" height="924.40" fill="none" stroke="#000" stroke-width="1.4"/><path d="M96.6 910.30H102.4M96.6 781.35H102.4M96.6 652.40H102.4M96.6 523.45H102.4M96.6 394.50H102.4M96.6 265.55H102.4M96.6 136.60H102.4M102.40 975.4V981.2M213.97 975.4V981.2M325.54 975.4V981.2M437.11 975.4V981.2M548.68 975.4V981.2M660.25 975.4V981.2M771.82 975.4V981.2M883.39 975.4V981.2M994.96 975.4V981.2M1106.53 975.4V981.2M1218.10 975.4V981.2M1329.67 975.4V981.2M1441.24 975.4V981.2M1552.81 975.4V981.2M1664.38 975.4V981.2M1959.7 987.40H1965.5M1959.7 874.41H1965.5M1959.7 761.42H1965.5M1959.7 648.44H1965.5M1959.7 535.45H1965.5M1959.7 422.46H1965.5M1959.7 309.47H1965.5M1959.7 196.48H1965.5M1959.7 83.49H1965.5" stroke="#000" stroke-width="1.33" fill="none"/><rect x="1916.2" y="27.0" width="43.5" height="960.4" fill="url(#cb)" stroke="#000" stroke-width="1.33"/><text x="186.6" y="41.4" font-size="38.80" text-anchor="start" textLength="1503.5" lengthAdjust="spacingAndGlyphs">2023/04/10  Radio flux density, e-CALLISTO (Arecibo-Observatory), Focuscode: 63</text><text x="88.7" y="921.8" font-size="31.80" text-anchor="end" textLength="35.5" lengthAdjust="spacingAndGlyphs">20</text><text x="88.7" y="792.8" font-size="31.80" text-anchor="end" textLength="35.5" lengthAdjust="spacingAndGlyphs">30</text><text x="88.7" y="663.9" font-size="31.80" text-anchor="end" textLength="35.5" lengthAdjust="spacingAndGlyphs">40</text><text x="88.7" y="535.0" font-size="31.80" text-anchor="end" textLength="35.5" lengthAdjust="spacingAndGlyphs">50</text><text x="88.7" y="406.0" font-size="31.80" text-anchor="end" textLength="35.5" lengthAdjust="spacingAndGlyphs">60</text><text x="88.7" y="277.1" font-size="31.80" text-anchor="end" textLength="35.5" lengthAdjust="spacingAndGlyphs">70</text><text x="88.7" y="148.1" font-size="31.80" text-anchor="end" textLength="35.5" lengthAdjust="spacingAndGlyphs">80</text><text x="101.0" y="1010.0" font-size="31.80" text-anchor="middle" textLength="85.0" lengthAdjust="spacingAndGlyphs">18:00</text><text x="212.6" y="1010.0" font-size="31.80" text-anchor="middle" textLength="85.0" lengthAdjust="spacingAndGlyphs">18:01</text><text x="324.1" y="1010.0" font-size="31.80" text-anchor="middle" textLength="85.0" lengthAdjust="spacingAndGlyphs">18:02</text><text x="435.7" y="1010.0" font-size="31.80" text-anchor="middle" textLength="85.0" lengthAdjust="spacingAndGlyphs">18:03</text><text x="547.3" y="1010.0" font-size="31.80" text-anchor="middle" textLength="85.0" lengthAdjust="spacingAndGlyphs">18:04</text><text x="658.8" y="1010.0" font-size="31.80" text-anchor="middle" textLength="85.0" lengthAdjust="spacingAndGlyphs">18:05</text><text x="770.4" y="1010.0" font-size="31.80" text-anchor="middle" textLength="85.0" lengthAdjust="spacingAndGlyphs">18:06</text><text x="882.0" y="1010.0" font-size="31.80" text-anchor="middle" textLength="85.0" lengthAdjust="spacingAndGlyphs">18:07</text><text x="993.6" y="1010.0" font-size="31.80" text-anchor="middle" textLength="85.0" lengthAdjust="spacingAndGlyphs">18:08</text><text x="1105.1" y="1010.0" font-size="31.80" text-anchor="middle" textLength="85.0" lengthAdjust="spacingAndGlyphs">18:09</text><text x="1216.7" y="1010.0" font-size="31.80" text-anchor="middle" textLength="85.0" lengthAdjust="spacingAndGlyphs">18:10</text><text x="1328.3" y="1010.0" font-size="31.80" text-anchor="middle" textLength="85.0" lengthAdjust="spacingAndGlyphs">18:11</text><text x="1439.8" y="1010.0" font-size="31.80" text-anchor="middle" textLength="85.0" lengthAdjust="spacingAndGlyphs">18:12</text><text x="1551.4" y="1010.0" font-size="31.80" text-anchor="middle" textLength="85.0" lengthAdjust="spacingAndGlyphs">18:13</text><text x="1663.0" y="1010.0" font-size="31.80" text-anchor="middle" textLength="85.0" lengthAdjust="spacingAndGlyphs">18:14</text><text x="741.0" y="1049.0" font-size="35.30" text-anchor="start" textLength="395.0" lengthAdjust="spacingAndGlyphs">Observation time [UTC]</text><text transform="translate(37.5,654.2) rotate(-90)" x="0" y="0" font-size="35.3" textLength="282.5" lengthAdjust="spacingAndGlyphs">Frequency [MHz]</text><text x="1971.3" y="994.3" font-size="17.60" text-anchor="start">−2</text><text x="1971.3" y="881.3" font-size="17.60" text-anchor="start">0</text><text x="1971.3" y="768.3" font-size="17.60" text-anchor="start">2</text><text x="1971.3" y="655.3" font-size="17.60" text-anchor="start">4</text><text x="1971.3" y="542.3" font-size="17.60" text-anchor="start">6</text><text x="1971.3" y="429.4" font-size="17.60" text-anchor="start">8</text><text x="1971.3" y="316.4" font-size="17.60" text-anchor="start">10</text><text x="1971.3" y="203.4" font-size="17.60" text-anchor="start">12</text><text x="1971.3" y="90.4" font-size="17.60" text-anchor="start">14</text><text transform="translate(2026.7,688.9) rotate(-90)" x="0" y="0" font-size="35.3" textLength="364" lengthAdjust="spacingAndGlyphs">dB above background</text></svg></body></html>
